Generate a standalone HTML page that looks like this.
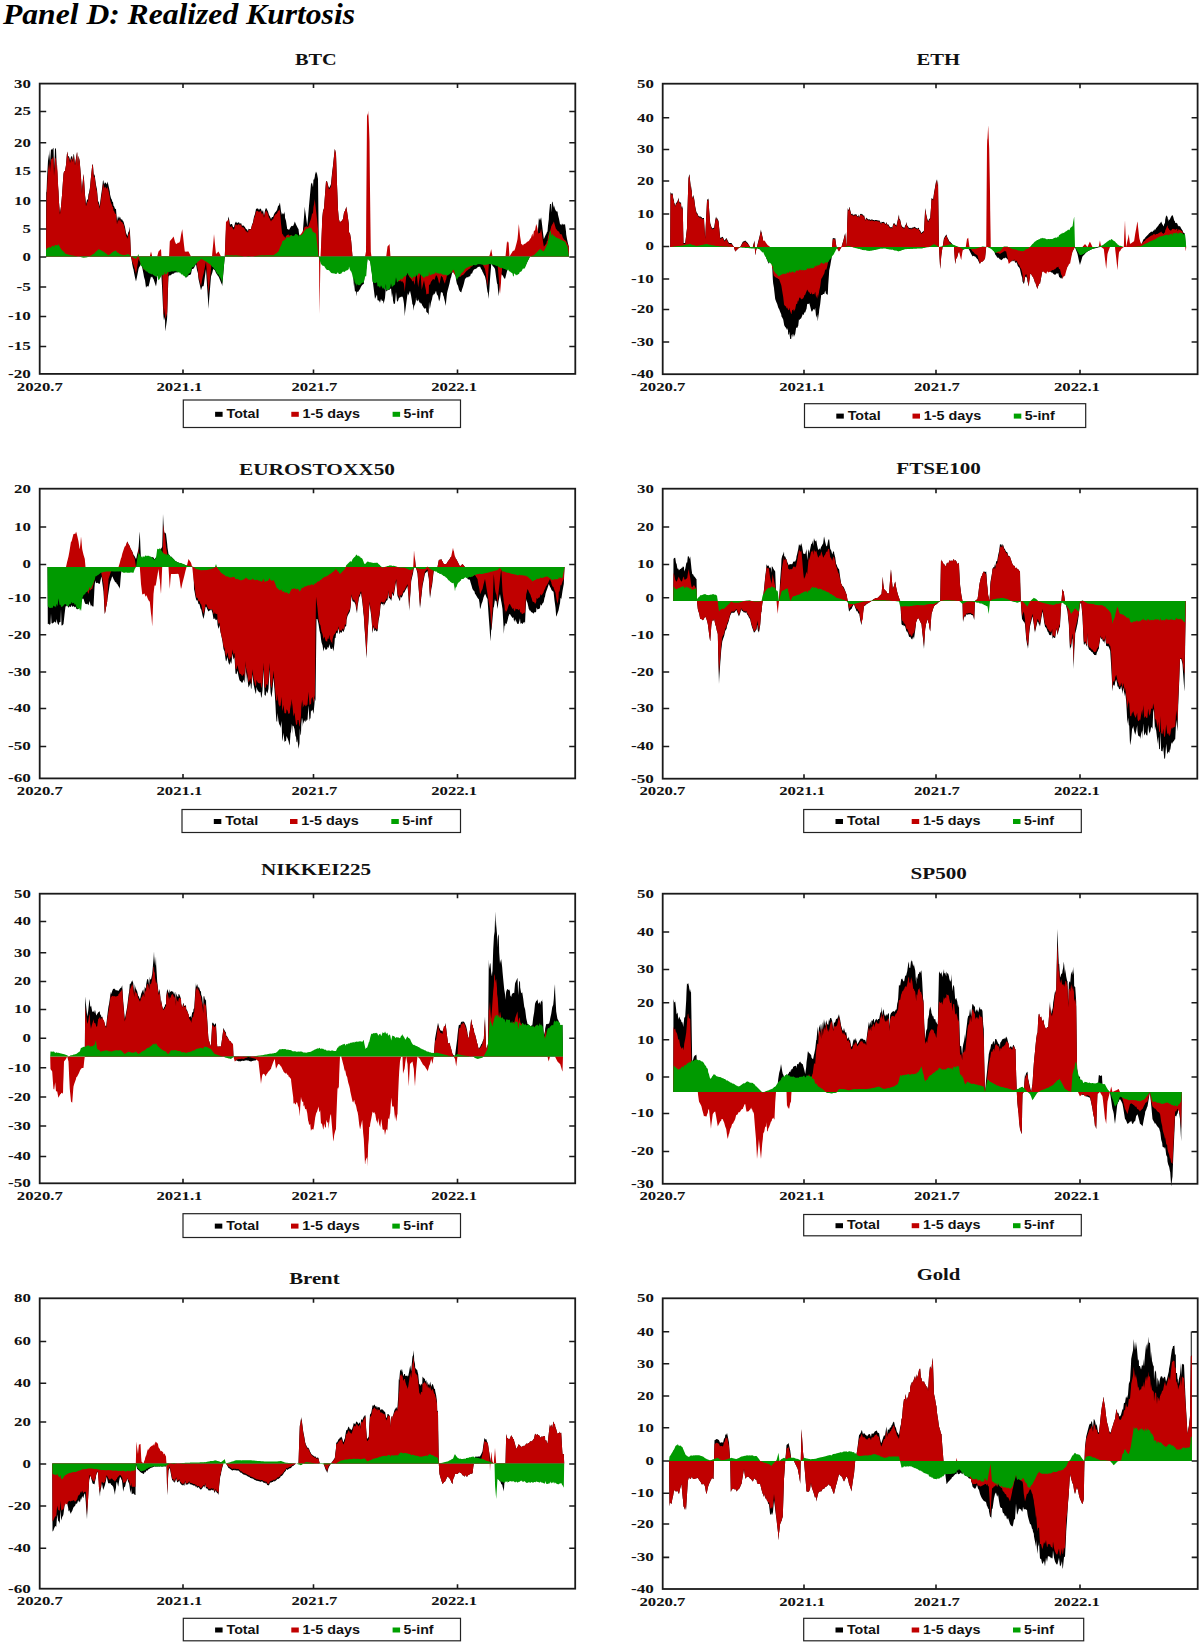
<!DOCTYPE html><html><head><meta charset="utf-8"><title>Panel D: Realized Kurtosis</title>
<style>html,body{margin:0;padding:0;background:#fff;width:1200px;height:1644px;overflow:hidden}svg{display:block}.t{font-family:"Liberation Serif",serif;font-weight:bold;fill:#111}.l{font-family:"Liberation Sans",sans-serif;font-weight:bold;fill:#111}</style></head><body>
<svg width="1200" height="1644" viewBox="0 0 1200 1644">
<rect width="1200" height="1644" fill="#fff"/>
<text x="3" y="24" font-family="Liberation Serif, serif" font-weight="bold" font-style="italic" font-size="30" fill="#000" textLength="352" lengthAdjust="spacingAndGlyphs">Panel D: Realized Kurtosis</text>
<path d="M46 256.5 L46 256.5 L46.2 191.5 L46.5 192.4 L47 178.8 L48 160.7 L48.5 154 L49 161.1 L49.8 149.8 L50 163.6 L51 149 L52 149.9 L53 148.2 L53.5 147.8 L54 169 L54.8 154.4 L55 148 L56 149 L57 173.2 L57.2 169 L58 185.8 L58.5 192 L59 202.2 L59.8 211.5 L60 212.5 L61 206.5 L62 195.3 L63 180.7 L63.5 174 L64 171.6 L65 170.9 L66 165 L67 153.2 L67.2 151.5 L68 156.1 L69 156.5 L69.8 159 L70 160.9 L71 156.8 L72 156 L73 160 L73.5 154 L74 154.5 L75 164.1 L76 158.2 L77 152.1 L77.2 152.8 L78 166.2 L78.5 155.8 L79 157.9 L79.8 161.5 L80 164.9 L81 177.1 L82 192.3 L82.2 186.5 L83 178.5 L83.5 174 L84 179.1 L85 194.4 L86 204 L87 200 L88 198.9 L88.5 194 L89 193 L90 187.3 L91 176.5 L92 167.3 L92.2 164 L93 165.5 L93.5 172.5 L94 176.1 L94.8 174 L95 177.4 L96 185 L97 189.5 L98 201.2 L98.5 201.4 L99 203 L99.8 206.5 L100 203.7 L101 196 L102 188.9 L103 180.2 L103.5 180.7 L104 184.5 L105 182.2 L106 183.2 L107 184.4 L107.2 181.5 L108 183.6 L108.5 185.5 L109 187.7 L109.8 191.5 L110 194.3 L111 198.2 L112 200 L112.2 201.5 L113 201.9 L113.5 205.8 L114 205.9 L115 208.7 L116 209 L117 221.3 L118 216 L119 218.8 L119.8 216.5 L120 216.7 L121 219.5 L122 219.2 L123 221.3 L123.5 221.5 L124 223.6 L125 227.1 L126 232.8 L127 235.3 L127.2 236.5 L128 233.8 L128.5 231.3 L129 232.1 L129.8 226.5 L130 232.6 L131 256.5 L132 262.6 L132.2 264 L133 267.9 L133.5 269.4 L134 272.6 L134.8 276.5 L135 277.4 L136 281.5 L137 276.7 L138 271.7 L138.5 269 L139 267.5 L140 266.1 L141 264 L142 266.4 L143 271.5 L143.5 274 L144 277.1 L145 280.3 L146 287.8 L147 285.9 L148 286.5 L148.5 286.5 L149 284.8 L149.8 281.6 L150 280.3 L151 276.5 L152 277.4 L152.2 276.4 L153 278.5 L153.5 279 L154 280.5 L155 283.6 L156 286.5 L157 280.6 L157.2 275.5 L158 275.7 L158.5 274 L159 273.3 L160 271.2 L161 269 L162 286.1 L162.2 289.8 L163 307.7 L163.5 316.5 L164 320.4 L165 316.9 L165.2 331.5 L166 326.6 L167 319.6 L167.2 316.5 L168 289.2 L168.5 276.5 L169 275.9 L169.8 275 L170 275.5 L171 275 L172 273.9 L172.2 274 L173 273.6 L173.5 273.7 L174 273.4 L175 272.3 L176 272.8 L177 271.9 L178 272.5 L179 270.8 L179.8 272 L180 270.8 L181 271.5 L182 272.7 L182.2 272.2 L183 274 L184 274.7 L184.8 275.8 L185 276.3 L186 277.8 L187 276.6 L188 276.6 L188.5 275.3 L189 275 L190 275 L191 274 L192 268.9 L193 269 L194 268 L194.8 266.2 L195 266.1 L196 264 L197 270 L198 273.5 L198.5 279 L199 281.3 L200 285.7 L201 290.2 L202 287 L203 285.7 L203.5 286.5 L204 283.4 L205 275.9 L206 269 L207 285.3 L208 299.4 L208.5 309 L209 301 L210 288.7 L211 276.5 L212 273.4 L212.2 272.9 L213 269.7 L213.5 269 L214 269.6 L215 270.6 L216 272.9 L217 274.4 L218 276 L218.5 276.5 L219 277.6 L220 279.9 L221 282.6 L222 284.8 L222.2 286.5 L223 277.5 L224 265.5 L224.8 256.5 L225 251.4 L226 229 L227 225 L228 219.4 L228.5 216.5 L229 218.6 L230 224.7 L231 224 L232 223.9 L233 226.9 L234 227.2 L235 223.2 L236 221.5 L237 223.3 L238 222.6 L239 222.2 L240 224.1 L241 222.8 L242 226 L243 225.3 L244 226.1 L245 227.2 L246 229 L247 229.4 L248 231.4 L248.5 228.5 L249 229.3 L250 229 L251 229 L252 224.7 L253 222.2 L254 216.7 L255 214 L256 209 L257 208.5 L258 208.5 L259 210.1 L260 208.5 L261 209 L262 212.1 L263 210 L264 216 L265 210.6 L266 207.8 L267 209.5 L268 211.4 L269 215 L270 216.6 L271 219 L272 217.1 L273 217 L273.5 215.8 L274 214.2 L275 212.4 L276 211.5 L277 210 L278 206.2 L278.5 205.4 L279 205.5 L279.8 202.8 L280 202.9 L281 211.3 L282 215 L282.2 214 L283 213 L284 214.5 L284.8 211.5 L285 217.7 L286 220.8 L287 227.5 L287.2 229 L288 229.3 L288.5 229.5 L289 229.9 L290 228.2 L291 226.5 L292 225.8 L293 226.2 L294 223.9 L294.8 221.5 L295 221.9 L296 224.4 L297 226.4 L298 228.5 L298.5 229 L299 233.8 L300 244.2 L301 254 L302 241.6 L303 229.6 L304 217 L304.8 206.5 L305 209.5 L306 216.6 L307 224.2 L307.2 226.5 L308 217.9 L308.5 212.1 L309 205.7 L310 194.7 L311 184 L312 182.5 L313 187.2 L313.5 179 L314 179.9 L314.8 176.8 L315 174.8 L316 171.5 L317 173.7 L318 179 L318.5 220.4 L319 256.5 L319.5 256.5 L320 256.5 L320.5 256.5 L321 256.5 L322 226.7 L322.2 219 L323 211 L324 208.3 L325 194.8 L326 181.5 L327 181 L328 184.9 L329 188.1 L330 186.4 L331 184 L332 173.6 L333 165.5 L334 156.1 L334.8 149 L335 149.6 L336 154 L337 184.3 L337.5 196.5 L338 209.8 L338.8 219 L339 219.5 L340 222.9 L341 221 L341.2 221.5 L342 220.4 L343 218.9 L343.8 214 L344 212.6 L345 210.7 L346 208.1 L346.2 206.5 L347 211.1 L348 218.2 L348.8 224 L349 232.3 L350 233.4 L351 239.6 L351.2 241.5 L352 250.7 L352.5 256.5 L353 268.3 L353.8 286.5 L354 282.8 L355 292.1 L356 290.7 L356.2 296.5 L357 291.6 L358 292.1 L359 290.4 L360 289 L361 286.7 L362 285.3 L363 284.2 L363.8 284 L364 281.5 L365 274.1 L366 269.8 L366.2 269 L367 262.9 L367.5 259 L368 258.9 L368.2 258.9 L369 259 L369.5 258.9 L370 259 L370.8 264.5 L371 266.8 L371.5 270.1 L372 272.8 L372.5 279 L373 283 L374 291 L375 299 L376 296.8 L377 294.5 L377.5 299.9 L378 300.6 L379 300.5 L380 302.8 L381 298.7 L382 301.3 L382.5 300.4 L383 301 L383.8 304 L384 302.2 L385 298 L386 285.9 L386.2 291.5 L387 291 L387.5 290.1 L388 290.3 L389 289.5 L389.5 289.9 L390 289 L390.5 289 L391 288 L392 297.7 L392.5 293 L393 300.6 L393.8 304 L394 304.1 L395 303.5 L396 292 L397 301.7 L398 301 L399 297.7 L400 297.4 L400.7 296.7 L401 297.3 L402 296.3 L403 297.8 L403.6 301.3 L404 303.9 L404.8 316.5 L405 312.9 L405.3 310.7 L406 305.6 L406.5 301.5 L407 297.7 L407.1 296.7 L407.7 293 L408 295.6 L409 293.5 L410 290.8 L411 295.2 L412 301.3 L412.3 303.9 L413 304.9 L413.5 310.7 L414 306.8 L414.7 304.8 L415 304.8 L415.8 301.5 L416 297 L416.4 300.4 L417 300.2 L418 301.4 L418.2 299 L419 301.2 L419.3 302.1 L420 303 L420.5 302.5 L421 304.2 L421.7 303.1 L422 305.1 L423 306.6 L424 308.3 L425 308.7 L426 308.1 L426.3 311.8 L427 312.6 L428 313.2 L428.7 315.3 L429 301.6 L429.8 309.1 L430 308.3 L431 302.5 L432 299.3 L432.2 297.9 L433 294.4 L433.3 295.5 L434 293.3 L434.5 294.6 L435 293.2 L436 290.8 L436.8 294.3 L437 294.4 L438 295.9 L439 300.9 L439.2 301.3 L440 298.8 L441 291.9 L441.5 292 L442 293.3 L442.7 292.2 L443 294.9 L443.8 296.7 L444 298.1 L445 302 L445.6 306 L446 303.1 L447 293.4 L447.3 292 L448 289.3 L449 285.6 L449.7 282.7 L450 280.9 L450.8 277.7 L451 277.7 L452 273.3 L453 271.9 L453.8 272.2 L454 272.1 L454.3 272.2 L455 275.2 L455.5 275.8 L456 279.6 L456.7 282.7 L457 283.9 L458 285.8 L459 289.7 L460 291.4 L460.5 292 L461 292 L461.2 292.8 L462 289.6 L463 286.8 L464 283.2 L465 279 L466 277.9 L467 277.1 L468 277.4 L469 276.2 L470 276.5 L471 273.5 L472 273.8 L473 270.9 L474 269.6 L475 269 L476 268.7 L477 268.1 L478 266.7 L479 267.1 L480 266.5 L481 268.7 L482 270.3 L482.5 271.7 L483 272.4 L484 274.7 L485 276.5 L486 280.7 L487 288.8 L487.5 292 L488 293.3 L488.8 299 L489 292.3 L489.2 291.4 L490 279.5 L491 267.4 L491.2 264 L492 264.6 L492.5 265.8 L493 266.2 L494 267.3 L495 269 L496 276.5 L497 283.5 L497.5 284.2 L498 290 L498.8 296.5 L499 293.4 L500 285.1 L501 276.6 L501.2 274 L502 275 L502.5 275.2 L503 276.1 L504 277.9 L505 279 L505.5 277.2 L506 275.2 L507 271.3 L507.5 269 L508 266.9 L508.5 266.6 L509 266 L509.5 265.1 L510 264 L511 265.9 L512 267.3 L512.5 268.2 L513 270.3 L513.8 270.6 L514 269.7 L515 274 L516 273.3 L517 272.3 L517.5 271.5 L518 271.8 L518.8 272.4 L519 272.2 L520 271.5 L521 270.6 L521.2 270.1 L522 269.3 L523 267.1 L524 267.6 L525 266.5 L526 264.6 L527 262.4 L527.5 261.6 L528 260.4 L529 258.4 L530 256.5 L531 254.6 L532 252.4 L532.5 251.5 L533 252.1 L533.8 250.7 L534 250.5 L535 250.4 L536 249.2 L536.2 249 L537 239.7 L537.5 234.1 L538 229.3 L538.8 219 L539 218.1 L540 220.5 L541 217.6 L541.2 217.8 L542 224.3 L543 232.8 L543.8 239 L544 238.8 L545 236.6 L546 234.2 L546.2 234.2 L547 232.1 L547.5 231.5 L548 225.5 L548.8 219.3 L549 214.2 L550 204 L551 203.9 L551.2 212.4 L552 202.3 L552.5 201.5 L553 203.9 L553.8 207.7 L554 205.6 L555 209 L556 211.1 L556.2 211.3 L557 211.6 L557.5 211.5 L558 214.8 L558.8 217.9 L559 218.8 L560 224 L561 224.7 L561.2 225.6 L562 223.4 L562.5 224 L563 224.9 L563.8 224.1 L564 224.8 L565 224 L566 231.5 L566.2 234.6 L567 239 L567.5 241.2 L568 243.5 L568.8 246.5 L569 256.5 L569 256.5Z" fill="#000000"/>
<path d="M46 256.5 L46 256.5 L46.2 228.7 L46.5 196.5 L47 188.2 L48 170.7 L48.5 164 L49 170.3 L49.8 159.9 L50 172.4 L51 159 L52 159.2 L53 157.2 L53.5 156.5 L54 176.2 L54.8 163.2 L55 157.5 L56 159 L57 171.3 L57.2 164 L58 183.2 L58.5 190.8 L59 202.5 L59.8 214 L60 214.5 L61 206.5 L62 195.3 L63 180.7 L63.5 174 L64 171.6 L65 170.9 L66 165 L67 153.2 L67.2 151.5 L68 156.8 L69 158.2 L69.8 161.5 L70 163.3 L71 159.3 L72 158.5 L73 162.4 L73.5 156.5 L74 156.6 L75 165.4 L76 159 L77 152.3 L77.2 152.8 L78 166.2 L78.5 155.8 L79 157.9 L79.8 161.5 L80 165.1 L81 178.3 L82 194.3 L82.2 189 L83 179.5 L83.5 174 L84 179.6 L85 195.8 L86 206.5 L87 202.5 L88 201.3 L88.5 196.5 L89 195.1 L90 188.7 L91 177.3 L92 167.5 L92.2 164 L93 166.3 L93.5 173.7 L94 177.7 L94.8 176.5 L95 179.8 L96 187.4 L97 191.9 L98 203.5 L98.5 203.8 L99 205.4 L99.8 209 L100 206.4 L101 199 L102 192.2 L103 184 L103.5 184.6 L104 188.4 L105 186.5 L106 187.7 L107 189.1 L107.2 186.5 L108 188.6 L108.5 190.6 L109 192.7 L109.8 196.5 L110 199.2 L111 203 L112 205.1 L112.2 206.5 L113 207 L113.5 210.7 L114 210.8 L115 213.6 L116 214 L117 224.6 L118 219.4 L119 221.5 L119.8 219 L120 219.2 L121 222 L122 221.7 L123 223.8 L123.5 224 L124 226.1 L125 229.7 L126 235.2 L127 237.8 L127.2 239 L128 236.2 L128.5 233.8 L129 234.3 L129.8 229 L130 234.6 L131 256.5 L132 260.6 L132.2 261.5 L133 263.9 L133.5 264.7 L134 266.6 L134.8 269 L135 270 L136 274 L137 268.1 L138 262.1 L138.5 259 L139 259.9 L140 262.1 L141 264 L142 264.7 L143 267.7 L143.5 269 L144 269.8 L145 269.4 L146 271.5 L147 269.9 L148 269.4 L148.5 269 L149 264.1 L149.8 256.5 L150 255.5 L151 251.5 L152 255.5 L152.2 256.5 L153 256.5 L153.5 256.5 L154 256.5 L155 256.5 L156 256.5 L157 256.5 L157.2 256.5 L158 253.6 L158.5 251.5 L159 250.9 L160 249.9 L161 249 L162 264.5 L162.2 269 L163 296.5 L163.5 314 L164 315.1 L165 307.7 L165.2 319 L166 316.8 L167 313.5 L167.2 311.5 L168 283.3 L168.5 269 L169 258 L169.8 241.5 L170 241.1 L171 239.7 L172 238.8 L172.2 238.6 L173 237.3 L173.5 236.5 L174 238 L175 241.7 L176 244 L177 243.8 L178 242.4 L179 243.1 L179.8 241.5 L180 241.2 L181 235.1 L182 230.3 L182.2 229 L183 235.8 L184 245.1 L184.8 251.5 L185 251.5 L186 251.7 L187 251.6 L188 251.4 L188.5 251.5 L189 252.6 L190 254.5 L191 256.5 L192 257 L193 257.5 L194 258 L194.8 258.3 L195 258.5 L196 259 L197 266 L198 270.9 L198.5 276.5 L199 278.5 L200 282.5 L201 286.5 L202 280.2 L203 275.5 L203.5 274 L204 271.7 L205 266.4 L206 261.5 L207 274.7 L208 286.4 L208.5 294 L209 288 L210 278.4 L211 269 L212 257 L212.2 254 L213 246.1 L213.5 240.4 L214 234 L215 244.5 L216 254 L217 253 L218 251.9 L218.5 251.5 L219 252.5 L220 254.5 L221 256.5 L222 256.5 L222.2 256.5 L223 256.5 L224 256.5 L224.8 256.5 L225 250 L226 221.5 L227 221.6 L228 219.9 L228.5 219 L229 221.1 L230 227 L231 226.5 L232 226.4 L233 229.1 L234 229.4 L235 225.6 L236 224 L237 225.5 L238 224.6 L239 223.9 L240 225.5 L241 224 L242 227.4 L243 227.1 L244 228.1 L245 229.5 L246 231.5 L247 231.4 L248 232.8 L248.5 229.8 L249 230.3 L250 229.5 L251 229 L252 225.2 L253 223.2 L254 218.2 L255 216 L256 211.5 L257 211 L258 211 L259 212.5 L260 211 L261 211.5 L262 214.4 L263 212.4 L264 218.1 L265 213 L266 210.2 L267 212 L268 214 L269 217.5 L270 219.1 L271 221.5 L272 219.6 L273 219.4 L273.5 218.3 L274 216.8 L275 215 L276 214 L277 213.5 L278 210.7 L278.5 210.4 L279 210.9 L279.8 209 L280 210.7 L281 223.6 L282 232.7 L282.2 234 L283 234.6 L284 236.8 L284.8 236.5 L285 238.4 L286 236 L287 235.2 L287.2 234.8 L288 234.9 L288.5 234 L289 235.8 L290 235.3 L291 235.2 L292 235.6 L293 237 L294 236.7 L294.8 236.9 L295 236.1 L296 236.5 L297 236.2 L298 235.9 L298.5 237.7 L299 234.8 L300 234.9 L301 234 L302 232.5 L303 230.9 L304 228.7 L304.8 226.5 L305 227.1 L306 226.6 L307 226.2 L307.2 226.9 L308 226.4 L308.5 226.5 L309 224.4 L310 221.6 L311 219 L312 214 L313 212.9 L313.5 207.1 L314 204.6 L314.8 199 L315 201.5 L316 210.8 L317 219 L318 229 L318.5 243.7 L319 256.5 L319.5 314 L320 285.4 L320.5 256.5 L321 247.3 L322 224.6 L322.2 219 L323 211 L324 208.3 L325 194.8 L326 181.5 L327 181.5 L328 185.9 L329 189.5 L330 188.3 L331 186.5 L332 175.5 L333 166.7 L334 156.6 L334.8 149 L335 149.6 L336 154 L337 184.3 L337.5 196.5 L338 209.8 L338.8 219 L339 219.5 L340 222.9 L341 221 L341.2 221.5 L342 220.4 L343 218.9 L343.8 214 L344 212.6 L345 210.7 L346 208.1 L346.2 206.5 L347 211.1 L348 218.2 L348.8 224 L349 232.3 L350 233.4 L351 239.6 L351.2 241.5 L352 250.7 L352.5 256.5 L353 256.5 L353.8 256.5 L354 256.5 L355 256.5 L356 256.5 L356.2 256.5 L357 256.5 L358 256.5 L359 256.5 L360 256.5 L361 256.5 L362 256.5 L363 256.5 L363.8 256.5 L364 256.5 L365 256.5 L366 251.5 L366.2 217.5 L367 116.5 L367.5 113.2 L368 115.4 L368.2 110.2 L369 127 L369.5 141.5 L370 189.9 L370.8 251.5 L371 253.2 L371.5 256.5 L372 256.5 L372.5 256.5 L373 256.5 L374 256.5 L375 256.5 L376 256.5 L377 256.5 L377.5 256.5 L378 256.5 L379 256.5 L380 256.5 L381 256.5 L382 256.5 L382.5 256.5 L383 256.5 L383.8 256.5 L384 256.5 L385 256.5 L386 256.5 L386.2 256.5 L387 250.5 L387.5 246.5 L388 245.9 L389 244.7 L389.5 244 L390 250.3 L390.5 256.5 L391 257.9 L392 261.6 L392.5 262.2 L393 264.8 L393.8 267.3 L394 268.2 L395 271.6 L396 270.7 L397 278.2 L398 281.5 L399 280.7 L400 281.6 L400.7 279.9 L401 282.2 L402 280.8 L403 282.5 L403.6 282.7 L404 284.4 L404.8 292 L405 288.5 L405.3 285.5 L406 278.5 L406.5 273.3 L407 273.4 L407.1 272.2 L407.7 273.3 L408 274.2 L409 276.3 L410 278 L411 278.8 L412 280.5 L412.3 281.4 L413 281 L413.5 280.5 L414 282.7 L414.7 285 L415 281.8 L415.8 275 L416 271.9 L416.4 271 L417 276.7 L418 285.8 L418.2 287.3 L419 281.5 L419.3 279.7 L420 274.9 L420.5 271 L421 279.2 L421.7 289.7 L422 288.6 L423 284.3 L424 280.3 L425 285.7 L426 290.4 L426.3 294.3 L427 294.2 L428 293.6 L428.7 294.3 L429 284.3 L429.8 285 L430 284.7 L431 281.7 L432 280.6 L432.2 280.3 L433 279.1 L433.3 279.4 L434 279.1 L434.5 280.3 L435 278.3 L436 275.2 L436.8 275.7 L437 276.1 L438 278.7 L439 283.3 L439.2 283.8 L440 281.4 L441 276.2 L441.5 275.7 L442 277 L442.7 277.2 L443 279.1 L443.8 280.9 L444 281.7 L445 283.8 L445.6 280.3 L446 280 L447 275.2 L447.3 274.5 L448 274.1 L449 273.7 L449.7 273.4 L450 272.7 L450.8 272.2 L451 272.8 L452 272 L453 272.1 L453.8 273.6 L454 273.7 L454.3 274 L455 275 L455.5 274 L456 276 L456.7 275 L457 276.4 L458 275.8 L459 276.5 L460 276.8 L460.5 276.8 L461 276.1 L461.2 275.7 L462 275.2 L463 274.9 L464 274 L465 272.7 L466 271.5 L467 270.4 L468 270.1 L469 268.8 L470 268.7 L471 266.6 L472 266.8 L473 265.1 L474 264.4 L475 264 L476 264.1 L477 264.1 L478 263.5 L479 264.1 L480 263.9 L481 264.1 L482 263.9 L482.5 264 L483 264.9 L484 267.1 L485 269 L486 274.7 L487 283.3 L487.5 286.5 L488 277.3 L488.8 265.1 L489 260.4 L489.2 256.5 L490 253.9 L491 250 L491.2 249 L492 253.6 L492.5 256.5 L493 257.2 L494 258.7 L495 260 L496 261.8 L497 263.2 L497.5 264 L498 269.6 L498.8 278.7 L499 281.4 L500 294 L501 282.5 L501.2 277.9 L502 270 L502.5 264 L503 262.7 L504 260.3 L505 257.7 L505.5 256.5 L506 251.4 L507 241.5 L507.5 241.4 L508 242.9 L508.5 241.5 L509 249 L509.5 256.5 L510 255.7 L511 254 L512 252.6 L512.5 251.5 L513 250.9 L513.8 250.6 L514 251 L515 249 L516 245.2 L517 241.6 L517.5 239 L518 234 L518.8 224 L519 225.7 L520 235.7 L521 241.9 L521.2 244 L522 244.2 L523 245.5 L524 243.8 L525 244 L526 242.8 L527 242.2 L527.5 241.5 L528 241.5 L529 240.7 L530 239 L531 237.7 L532 234.6 L532.5 233.6 L533 237 L533.8 231.5 L534 230.8 L535 230.4 L536 224.9 L536.2 224 L537 226.5 L537.5 229.1 L538 232.2 L538.8 234 L539 233 L540 232.9 L541 229.3 L541.2 229 L542 234.4 L543 241.4 L543.8 246.5 L544 246.4 L545 245.3 L546 244.1 L546.2 244 L547 240.7 L547.5 241.1 L548 236.7 L548.8 234 L549 232.8 L550 231.2 L551 227.8 L551.2 226.5 L552 225.1 L552.5 223.9 L553 223.6 L553.8 221.5 L554 222 L555 225.7 L556 228.9 L556.2 229 L557 230.1 L557.5 230.8 L558 231.2 L558.8 231.5 L559 231.6 L560 234 L561 234.3 L561.2 234 L562 235.1 L562.5 236.7 L563 238.1 L563.8 239 L564 239.7 L565 240 L566 241.3 L566.2 241.5 L567 242.9 L567.5 244.1 L568 245.2 L568.8 246.5 L569 256.5 L569 256.5Z" fill="#c00000"/>
<path d="M46 256.5 L46 249 L46.2 249.4 L46.5 249.2 L47 248.3 L48 247.5 L48.5 247.4 L49 247.7 L49.8 246.5 L50 247.6 L51 247.5 L52 246.1 L53 245.7 L53.5 245.7 L54 247.6 L54.8 245.2 L55 245.1 L56 245 L57 245.6 L57.2 245.7 L58 244.8 L58.5 244 L59 245.7 L59.8 246.6 L60 247.4 L61 249 L62 250.2 L63 251 L63.5 251.6 L64 252 L65 253.2 L66 254 L67 254.3 L67.2 254.3 L68 254.5 L69 254.7 L69.8 255 L70 255 L71 255.2 L72 255.4 L73 255.6 L73.5 255.7 L74 255.8 L75 255.9 L76 256.1 L77 256.2 L77.2 256.3 L78 256.4 L78.5 256.5 L79 256.6 L79.8 256.8 L80 256.9 L81 257.1 L82 257.4 L82.2 257.4 L83 257.6 L83.5 257.8 L84 257.7 L85 257.5 L86 257.4 L87 257.2 L88 257.1 L88.5 257 L89 256.7 L90 256.1 L91 255.5 L92 254.9 L92.2 254.8 L93 254.3 L93.5 254 L94 253.7 L94.8 253.1 L95 252.6 L96 251.7 L97 250.6 L98 250.2 L98.5 249 L99 249.4 L99.8 249.7 L100 249.7 L101 250.2 L102 250.8 L103 251.6 L103.5 251.5 L104 252.1 L105 252.7 L106 253.5 L107 254.2 L107.2 254.4 L108 254.9 L108.5 255.2 L109 254.9 L109.8 254.3 L110 254.2 L111 253.5 L112 252.6 L112.2 252.5 L113 251.8 L113.5 251.5 L114 251.3 L115 251 L116 250.2 L117 252.4 L118 252.5 L119 253.5 L119.8 254 L120 254.1 L121 254.5 L122 254.7 L123 255.1 L123.5 255.2 L124 255.1 L125 254.9 L126 254.7 L127 254.4 L127.2 254.3 L128 254.2 L128.5 254 L129 254.7 L129.8 255.3 L130 255.5 L131 256.5 L132 257 L132.2 257.1 L133 257.5 L133.5 257.8 L134 258 L134.8 258.3 L135 258.5 L136 259 L137 257 L138 255 L138.5 254 L139 256.5 L140 261.6 L141 266.5 L142 266 L143 268.1 L143.5 269.1 L144 269.8 L145 269.4 L146 271.5 L147 271.3 L148 272.4 L148.5 272.9 L149 273.2 L149.8 273.5 L150 273.4 L151 274 L152 274.4 L152.2 273.5 L153 275 L153.5 275 L154 275.5 L155 276.1 L156 276.5 L157 277.3 L157.2 274 L158 278.6 L158.5 280.2 L159 279.9 L160 278.2 L161 276.5 L162 274.8 L162.2 274.3 L163 275.7 L163.5 274.7 L164 274.9 L165 271.4 L165.2 274.6 L166 274 L167 273.8 L167.2 273.1 L168 271.5 L168.5 272.5 L169 272.2 L169.8 271.6 L170 272 L171 271.5 L172 271.3 L172.2 271.2 L173 271.4 L173.5 271.6 L174 271.5 L175 270.8 L176 271.5 L177 271.4 L178 272.8 L179 271.8 L179.8 273.6 L180 272.5 L181 274 L182 274.7 L182.2 274 L183 275.5 L184 275.7 L184.8 276.4 L185 276.8 L186 277.8 L187 276.1 L188 275.6 L188.5 274.1 L189 273.5 L190 273 L191 271.5 L192 267.2 L193 267.3 L194 266.5 L194.8 265.2 L195 265.1 L196 263.6 L197 263 L198 261.3 L198.5 261.5 L199 261 L200 260 L201 259 L202 259.3 L203 259.8 L203.5 260.1 L204 260.6 L205 261 L206 261.5 L207 262.3 L208 262.8 L208.5 263.3 L209 263.5 L210 264.3 L211 265.2 L212 266.5 L212.2 266.9 L213 267.1 L213.5 267.9 L214 268.9 L215 269.6 L216 271.5 L217 273.2 L218 274.8 L218.5 274.1 L219 275.8 L220 277 L221 279 L222 282.1 L222.2 284 L223 275.7 L224 264.7 L224.8 256.5 L225 256.2 L226 255.2 L227 255.3 L228 255.3 L228.5 255.3 L229 255.3 L230 255.4 L231 255.3 L232 255.3 L233 255.4 L234 255.4 L235 255.3 L236 255.2 L237 255.4 L238 255.5 L239 255.7 L240 255.8 L241 255.9 L242 256.1 L243 256.2 L244 256.4 L245 256.5 L246 256.6 L247 256.8 L248 256.9 L248.5 257 L249 256.9 L250 256.8 L251 256.6 L252 256.5 L253 256.4 L254 256.2 L255 256.1 L256 255.9 L257 255.8 L258 255.7 L259 255.5 L260 255.4 L261 255.2 L262 255.3 L263 255.3 L264 255.4 L265 255.3 L266 255.3 L267 255.2 L268 255.2 L269 255.3 L270 255.2 L271 255.2 L272 255.2 L273 255.3 L273.5 255.2 L274 254.9 L275 254.1 L276 253.5 L277 252.7 L278 251.8 L278.5 251.5 L279 250.3 L279.8 248.3 L280 247.3 L281 245.5 L282 242.9 L282.2 241.5 L283 240.7 L284 240.6 L284.8 239.2 L285 240.6 L286 237.8 L287 237.4 L287.2 237.1 L288 237.3 L288.5 237.4 L289 237.7 L290 236.5 L291 235.2 L292 235.4 L293 236.3 L294 235.4 L294.8 235.2 L295 234.2 L296 234 L297 234.5 L298 234.9 L298.5 237.1 L299 234.6 L300 235.4 L301 235.2 L302 234.4 L303 233.6 L304 232.1 L304.8 230.1 L305 230.8 L306 229 L307 228.5 L307.2 229 L308 228.4 L308.5 228.2 L309 227.7 L310 227.7 L311 227.8 L312 229.2 L313 232.7 L313.5 231.6 L314 232.2 L314.8 232.9 L315 232.8 L316 234 L317 242.7 L318 252.2 L318.5 256.5 L319 258 L319.5 259.4 L320 261 L320.5 262.4 L321 264 L322 264.9 L322.2 265.3 L323 266.1 L324 265.7 L325 267.4 L326 269 L327 269.9 L328 270 L329 270.2 L330 271.4 L331 272.8 L332 273.2 L333 273.2 L334 273.5 L334.8 273.4 L335 273.8 L336 274 L337 273.5 L337.5 272.6 L338 272.5 L338.8 274.1 L339 273.9 L340 274 L341 273.6 L341.2 273.7 L342 272.5 L343 271.5 L343.8 271.7 L344 272.2 L345 271.5 L346 270.6 L346.2 270.6 L347 270.4 L348 269.7 L348.8 269 L349 266.5 L350 269.9 L351 271.4 L351.2 271.5 L352 273.8 L352.5 276 L353 278.1 L353.8 281.5 L354 278.1 L355 284.4 L356 282.4 L356.2 286.5 L357 283.7 L358 285.2 L359 285.1 L360 285.2 L361 283.7 L362 283 L363 282.5 L363.8 282.8 L364 281.1 L365 276.8 L366 276 L366.2 276.5 L367 265.9 L367.5 259 L368 259.4 L368.2 259.6 L369 260.6 L369.5 260.8 L370 261.5 L370.8 266.9 L371 269.3 L371.5 272.5 L372 275 L372.5 281.5 L373 282 L374 283 L375 283.1 L376 283.1 L377 282 L377.5 286.5 L378 286.3 L379 286.2 L380 288.1 L381 285.3 L382 287.3 L382.5 289 L383 287.3 L383.8 288.8 L384 289 L385 289.8 L386 283.6 L386.2 290 L387 290.1 L387.5 290.2 L388 289.9 L389 289 L389.5 289.3 L390 288.1 L390.5 286.2 L391 283.3 L392 287.4 L392.5 286.5 L393 285.8 L393.8 285.4 L394 285.3 L395 284.5 L396 277.2 L397 282.4 L398 281.5 L399 280.1 L400 280.3 L400.7 278.3 L401 280.2 L402 278.3 L403 279.2 L403.6 276.7 L404 277 L404.8 276.1 L405 276.6 L405.3 276.8 L406 275.6 L406.5 274.9 L407 274.4 L407.1 273 L407.7 273.3 L408 274.1 L409 275.6 L410 276.8 L411 277.2 L412 278.5 L412.3 279.2 L413 277.4 L413.5 276.2 L414 277 L414.7 276.6 L415 276.8 L415.8 276.8 L416 273.9 L416.4 275.5 L417 275.9 L418 274.8 L418.2 273.6 L419 273.5 L419.3 273.3 L420 274.3 L420.5 274.5 L421 275.3 L421.7 275.7 L422 276 L423 277 L424 278 L425 277.1 L426 275.8 L426.3 276.5 L427 276.5 L428 275.7 L428.7 275.7 L429 271.6 L429.8 275.4 L430 275.4 L431 274.5 L432 274.8 L432.2 274.4 L433 273.7 L433.3 274.5 L434 273.4 L434.5 274 L435 273.3 L436 272.1 L436.8 273.9 L437 273.3 L438 273.3 L439 273.6 L439.2 273.4 L440 274.1 L441 273 L441.5 274.1 L442 274.4 L442.7 274.5 L443 274.5 L443.8 274.7 L444 275 L445 274.7 L445.6 274.5 L446 275.5 L447 275.1 L447.3 275.7 L448 275.2 L449 274.6 L449.7 274.3 L450 273.4 L450.8 273.3 L451 273.3 L452 271.7 L453 270 L453.8 269.8 L454 270.3 L454.3 271.3 L455 274 L455.5 275.7 L456 277.6 L456.7 280.3 L457 280.1 L458 277.7 L459 276.8 L460 275.7 L460.5 275 L461 274.1 L461.2 273.6 L462 272.8 L463 271.9 L464 270.6 L465 269 L466 268.2 L467 267.5 L468 267.4 L469 266.6 L470 266.5 L471 265.4 L472 266.2 L473 265.1 L474 264.9 L475 265.2 L476 265.2 L477 264.8 L478 263.9 L479 264.3 L480 264 L481 264.4 L482 264.4 L482.5 264.8 L483 264.7 L484 265.1 L485 265.2 L486 264.4 L487 264.8 L487.5 264.7 L488 264.3 L488.8 264.3 L489 263.6 L489.2 264.1 L490 264 L491 264.2 L491.2 264.5 L492 264.1 L492.5 264.8 L493 264.7 L494 264.7 L495 265.2 L496 265.8 L497 266.2 L497.5 265.5 L498 266.5 L498.8 267 L499 267 L500 267.8 L501 268.2 L501.2 267.5 L502 268.2 L502.5 268.1 L503 268.3 L504 268.9 L505 269 L505.5 269.4 L506 269.7 L507 270.2 L507.5 270.4 L508 269.2 L508.5 270.2 L509 271 L509.5 271.5 L510 271.5 L511 272.6 L512 273 L512.5 273.6 L513 275.9 L513.8 276.5 L514 273.5 L515 273.7 L516 275.5 L517 274.6 L517.5 275.2 L518 274 L518.8 274.3 L519 273.9 L520 271.5 L521 271.9 L521.2 271.5 L522 270.5 L523 268.2 L524 268.9 L525 267.8 L526 265.4 L527 262.7 L527.5 261.5 L528 260.4 L529 258.4 L530 256.5 L531 256.2 L532 255.8 L532.5 255.7 L533 255.5 L533.8 255.2 L534 255 L535 254.2 L536 253 L536.2 252.9 L537 251.9 L537.5 251.5 L538 251.2 L538.8 250.1 L539 249.9 L540 249 L541 249.6 L541.2 249.7 L542 250.4 L543 251 L543.8 251.5 L544 251.1 L545 249 L546 246.9 L546.2 246.6 L547 244.8 L547.5 244 L548 241 L548.8 237.9 L549 235.4 L550 230.2 L551 232.2 L551.2 236.5 L552 233.4 L552.5 234 L553 234.9 L553.8 236.3 L554 235.3 L555 236.5 L556 237.5 L556.2 237.6 L557 237.7 L557.5 238.1 L558 238.4 L558.8 238.4 L559 238.4 L560 239 L561 239.9 L561.2 240.5 L562 239.7 L562.5 240.4 L563 241 L563.8 240.9 L564 241.4 L565 241.5 L566 243.5 L566.2 244.7 L567 245.4 L567.5 246.5 L568 249.9 L568.8 254.8 L569 256.5 L569 256.5Z" fill="#009a00"/>
<rect x="39.7" y="83.6" width="535.6" height="290.3" fill="none" stroke="#1a1a1a" stroke-width="1.8"/>
<text class="t" x="30.9" y="87.5" font-size="12.5" text-anchor="end" textLength="16.8" lengthAdjust="spacingAndGlyphs">30</text>
<text class="t" x="30.9" y="115.4" font-size="12.5" text-anchor="end" textLength="16.8" lengthAdjust="spacingAndGlyphs">25</text>
<text class="t" x="30.9" y="146.7" font-size="12.5" text-anchor="end" textLength="16.8" lengthAdjust="spacingAndGlyphs">20</text>
<text class="t" x="30.9" y="175.4" font-size="12.5" text-anchor="end" textLength="16.8" lengthAdjust="spacingAndGlyphs">15</text>
<text class="t" x="30.9" y="204.7" font-size="12.5" text-anchor="end" textLength="16.8" lengthAdjust="spacingAndGlyphs">10</text>
<text class="t" x="30.9" y="232.9" font-size="12.5" text-anchor="end" textLength="8.4" lengthAdjust="spacingAndGlyphs">5</text>
<text class="t" x="30.9" y="260.9" font-size="12.5" text-anchor="end" textLength="8.4" lengthAdjust="spacingAndGlyphs">0</text>
<text class="t" x="30.9" y="290.9" font-size="12.5" text-anchor="end" textLength="14.4" lengthAdjust="spacingAndGlyphs">-5</text>
<text class="t" x="30.9" y="320.4" font-size="12.5" text-anchor="end" textLength="22.8" lengthAdjust="spacingAndGlyphs">-10</text>
<text class="t" x="30.9" y="350.4" font-size="12.5" text-anchor="end" textLength="22.8" lengthAdjust="spacingAndGlyphs">-15</text>
<text class="t" x="30.9" y="377.8" font-size="12.5" text-anchor="end" textLength="22.8" lengthAdjust="spacingAndGlyphs">-20</text>
<path d="M39.7 111.5h6.5M575.3 111.5h-6M39.7 142.8h6.5M575.3 142.8h-6M39.7 171.5h6.5M575.3 171.5h-6M39.7 200.8h6.5M575.3 200.8h-6M39.7 229h6.5M575.3 229h-6M39.7 257h6.5M575.3 257h-6M39.7 287h6.5M575.3 287h-6M39.7 316.5h6.5M575.3 316.5h-6M39.7 346.5h6.5M575.3 346.5h-6M183 83.6v4.5M183 373.9v-4.5M313.5 83.6v4.5M313.5 373.9v-4.5M457.5 83.6v4.5M457.5 373.9v-4.5" stroke="#1a1a1a" stroke-width="1.6" fill="none"/>
<text class="t" x="39.8" y="390.5" font-size="11.8" text-anchor="middle" textLength="46" lengthAdjust="spacingAndGlyphs">2020.7</text>
<text class="t" x="179.5" y="390.5" font-size="11.8" text-anchor="middle" textLength="46" lengthAdjust="spacingAndGlyphs">2021.1</text>
<text class="t" x="314.5" y="390.5" font-size="11.8" text-anchor="middle" textLength="46" lengthAdjust="spacingAndGlyphs">2021.7</text>
<text class="t" x="454.2" y="390.5" font-size="11.8" text-anchor="middle" textLength="46" lengthAdjust="spacingAndGlyphs">2022.1</text>
<text class="t" x="295" y="65" font-size="16" textLength="41.7" lengthAdjust="spacingAndGlyphs">BTC</text>
<rect x="183.3" y="400" width="277.2" height="27.5" fill="#fff" stroke="#222" stroke-width="1.2"/>
<rect x="215.1" y="411.8" width="7.5" height="5" fill="#000000"/>
<text class="l" x="226.5" y="417.9" font-size="12" textLength="33" lengthAdjust="spacingAndGlyphs">Total</text>
<rect x="291.3" y="411.8" width="7.5" height="5" fill="#c00000"/>
<text class="l" x="302.6" y="417.9" font-size="12" textLength="57.5" lengthAdjust="spacingAndGlyphs">1-5 days</text>
<rect x="392.6" y="411.8" width="7.5" height="5" fill="#00a000"/>
<text class="l" x="403.6" y="417.9" font-size="12" textLength="30" lengthAdjust="spacingAndGlyphs">5-inf</text>
<path d="M670.2 247 L670.2 247 L670.5 191.8 L671.2 193.7 L672.2 193.1 L672.8 194.2 L673.2 198 L674 200.6 L674.2 203 L674.5 203 L675.2 205.9 L676.2 202.3 L676.5 203 L677.2 201.7 L678.2 199.2 L678.5 197.5 L679.2 201.5 L680.2 202.9 L681 201.8 L681.2 205.8 L682.2 208.8 L682.8 205.5 L683.2 230.4 L683.5 243 L684 242.9 L684.2 243 L685.2 243 L686.2 234.7 L687 228 L687.2 219.1 L688.2 186.3 L688.5 178 L689.2 174.7 L689.5 174.2 L690.2 181.5 L691.2 191.1 L691.5 185.5 L692.2 198.4 L693.2 194.9 L694 198 L694.2 198.7 L695.2 206.4 L696 210.5 L696.2 211.1 L696.5 212.5 L697.2 213 L697.8 214.2 L698.2 215.4 L699.2 216.5 L700.2 216.2 L701.2 217.3 L701.5 216.8 L702.2 218.3 L703.2 217.9 L704 218 L704.2 223 L705.2 238 L706.2 216.2 L706.5 210.8 L707 200.5 L707.2 199.3 L708.2 199.6 L708.5 198 L709.2 210.4 L710.2 223 L711.2 226.2 L712 228 L712.2 228.5 L713.2 227.7 L714 228 L714.2 227.7 L715.2 220.5 L716 216.8 L716.2 216.7 L716.5 218.6 L717.2 218.2 L718.2 220.6 L718.5 220.5 L719.2 227.8 L720.2 238 L721.2 237.4 L722.2 236.9 L722.8 236.8 L723.2 237.8 L724.2 240 L724.5 240.5 L725.2 239.7 L726.2 238.3 L726.5 238 L727.2 239.5 L728.2 241.5 L729 243 L729.2 243.1 L730.2 243.1 L731.2 242.9 L731.5 243 L732.2 244.2 L733.2 245.8 L734 247 L734.2 247.9 L735.2 251.5 L736.2 250.5 L737.2 249.4 L737.8 249 L738.2 248.6 L739.2 247.8 L740.2 247 L741.2 245 L742.2 243.1 L742.8 241.8 L743.2 241.5 L744.2 241.2 L745.2 240.5 L746.2 241.6 L747.2 242.5 L747.8 243 L748.2 243.8 L749.2 245.4 L750.2 247 L751.2 247 L752.2 247 L752.8 247 L753.2 245.2 L754.2 241.5 L754.5 240.5 L755.2 255.2 L756.2 250.1 L756.5 249 L757.2 246 L758.2 241.5 L758.5 240.5 L759 238.6 L759.2 237.7 L760.2 233.6 L761 229.2 L761.2 231.8 L761.5 231.9 L762.2 235.6 L762.8 238 L763.2 242.1 L764 245 L764.2 246.4 L765.2 251.9 L766.2 256.8 L766.5 259 L767.2 259.8 L767.8 261.8 L768.2 262.6 L769 264 L769.2 262.4 L770.2 255.3 L771.2 248.7 L771.5 247 L772.2 266.1 L772.8 279 L773.2 283.4 L774 287.9 L774.2 290.2 L775.2 299 L776.2 301.8 L777.2 304 L778.2 307.5 L779 309 L779.2 309.3 L780.2 311.9 L781.2 314.3 L781.5 316.5 L782.2 317.6 L783.2 319.4 L784 324 L784.2 325.3 L785.2 326.9 L786.2 328 L786.5 329 L787.2 330 L787.8 328 L788.2 333.9 L789 335.1 L789.2 331.4 L790.2 339 L791.2 339 L791.5 335.7 L792.2 333.7 L792.8 337.8 L793.2 333.5 L794 337.3 L794.2 336.1 L795.2 334 L796.2 327.6 L797.2 328 L797.8 326.5 L798.2 326 L799 319 L799.2 320.3 L800.2 319 L801.2 318.2 L802.2 315.7 L802.8 314 L803.2 315.3 L804 314 L804.2 312.6 L805.2 312.5 L806.2 309.6 L806.5 309 L807.2 304.1 L808.2 303.7 L809 304 L809.2 303 L810.2 306.5 L811.2 310.6 L811.5 311.5 L812.2 311.4 L813.2 309.6 L814 309 L814.2 310.4 L815.2 307.9 L816.2 317.8 L817.2 314.5 L817.8 321.5 L818.2 317.6 L819 312.6 L819.2 309.9 L820.2 304 L821.2 294.9 L822.2 294.9 L823.2 294.1 L824 294 L824.2 294.3 L825.2 290.4 L826.2 294.5 L826.5 293.6 L827.2 294.9 L827.8 294 L828.2 285.3 L829 274 L829.2 270.5 L830.2 266 L831.2 260.1 L831.5 259 L832.2 246.4 L832.8 238 L833.2 238.2 L834 238.1 L834.2 238.4 L835.2 238 L836.2 245.2 L836.5 247 L837.2 248.4 L838.2 250.1 L839 251.5 L839.2 250.9 L840.2 249.2 L841.2 247.4 L841.5 247 L842.2 244.2 L843.2 240.9 L844 237.8 L844.2 236.8 L845.2 233 L846.2 244.4 L846.5 247 L847.2 224.2 L847.8 208 L848.2 209.2 L849 210.2 L849.2 207.2 L849.5 206.8 L850.2 210.1 L851.2 214 L851.5 214.2 L852.2 213.6 L853.2 215.6 L854 214.2 L854.2 214.8 L855.2 214.3 L856.2 214.5 L856.5 214.2 L857.2 216 L858.2 216.4 L859 214.2 L859.2 217.7 L860.2 213.9 L861.2 213.7 L861.5 214.2 L862.2 214.1 L863.2 215.6 L864 215.5 L864.2 215.4 L865.2 220.2 L866.2 217.6 L866.5 218 L867.2 218.6 L868.2 219.5 L869 219.2 L869.2 219.1 L870.2 220.1 L871.2 219.5 L872.2 219.4 L873.2 220 L874 220 L874.2 220.6 L875.2 220 L876.2 219.9 L877.2 220.3 L878.2 220.4 L879 220.5 L879.2 220.2 L880.2 221.7 L881.2 223.9 L881.5 221.8 L882.2 222 L883.2 221.9 L884 221.8 L884.2 222 L885.2 223.9 L886.2 223.2 L886.5 221.8 L887.2 224.4 L888.2 224.3 L889 225.5 L889.2 226.1 L890.2 227.2 L891.2 227.2 L891.5 226.8 L892.2 227.9 L893.2 223.9 L894 223 L894.2 222.9 L895.2 224.6 L896.2 225.6 L896.5 225.5 L897.2 222.2 L898.2 218 L899 214.2 L899.2 218.6 L900.2 219.7 L901.2 224.5 L901.5 225.5 L902.2 226.7 L903.2 226.9 L904 228 L904.2 228.2 L905.2 225.5 L906.2 223.9 L906.5 221.8 L907.2 225.4 L908.2 226.8 L909 228 L909.2 228 L910.2 227.7 L911.2 228.6 L911.5 228 L912.2 227.5 L913.2 227.7 L914 226.8 L914.2 226.8 L915.2 227.3 L916.2 228 L916.5 228 L917.2 228.7 L918.2 227.8 L919 228 L919.2 229.7 L920.2 230.6 L921.2 232.8 L921.5 233 L922.2 232 L923.2 231.4 L924 230.5 L924.2 227.1 L925.2 208 L926.2 214.3 L927.2 218.4 L927.8 220.5 L928.2 221.3 L929 219.2 L929.2 218.9 L930.2 218 L931.2 204.4 L931.5 198 L932.2 198.5 L933.2 199.5 L934 193 L934.2 192.1 L935.2 186.3 L936.2 180.6 L936.5 179.2 L937.2 185.5 L938 179.2 L938.2 195.4 L939 247 L939.2 251.4 L940.2 269 L941.2 256.8 L941.5 254 L942.2 249.2 L943.2 243.3 L944 238 L944.2 238.1 L945.2 236 L946.2 234.9 L946.5 234.2 L947.2 236.9 L948.2 238.9 L949 240.5 L949.2 241.3 L950.2 241.8 L951.2 243 L951.5 243 L952.2 244.2 L953.2 245.8 L954 247 L954.2 250.3 L955.2 264 L956.2 257.7 L956.5 259 L957.2 256.9 L958.2 253.2 L959 251.5 L959.2 251.5 L960.2 250.9 L961.2 250.4 L962.2 250 L962.5 250 L963.2 249.7 L963.8 249.4 L964.2 249.3 L965 249 L965.2 248.7 L965.5 248.5 L966.2 248 L967 247.4 L967.2 247.2 L967.5 247 L968.2 248.3 L969.2 250.1 L969.5 250.5 L970 251.5 L970.2 252 L971.2 254 L972.2 255.8 L972.5 256.5 L973.2 255.7 L974.2 256.2 L975 256.5 L975.2 256.5 L976.2 257.7 L977.2 258.9 L977.5 259 L978.2 260.6 L979.2 262.7 L980 264 L980.2 263.2 L981.2 261.5 L982.2 261.9 L982.5 260.9 L983.2 260.9 L984.2 259.5 L985 259 L985.2 256.5 L986.2 247 L987 247 L987.2 247 L987.5 247 L988.2 247 L989.2 247 L990 247 L990.2 247 L990.8 247 L991.2 247 L992.2 247 L993.2 247 L993.8 247 L994.2 249.8 L995 254 L995.2 254.4 L996.2 255.8 L997.2 257.5 L997.5 257.8 L998.2 257.4 L999.2 258.5 L1000 259.4 L1000.2 259.3 L1001.2 260.2 L1002.2 259.6 L1003.2 258.5 L1003.8 258 L1004.2 258.4 L1005 257.8 L1005.2 257.5 L1006.2 257.9 L1007.2 259 L1007.5 259.3 L1008.2 260.1 L1008.8 260.7 L1009.2 261 L1010 261.5 L1010.2 261.6 L1011.2 261.2 L1012.2 261.4 L1012.5 260.5 L1013.2 260.5 L1013.8 261.5 L1014.2 260 L1015.2 263 L1016.2 262 L1017.2 264 L1017.5 265.2 L1018.2 266.5 L1019.2 267.4 L1020 269 L1020.2 270.3 L1021.2 274.8 L1022.2 277.7 L1022.5 281.5 L1023.2 282.7 L1023.8 284 L1024.2 282.9 L1025.2 277.1 L1026.2 276.5 L1027.2 278.7 L1027.5 281.5 L1028.2 283.9 L1028.8 286.5 L1029.2 281.9 L1030 276.4 L1030.2 273.8 L1031.2 274 L1032.2 276.2 L1032.5 276.5 L1033.2 277.1 L1033.8 279 L1034.2 280.1 L1035 282.7 L1035.2 282 L1036.2 285.5 L1037.2 288.3 L1037.5 289 L1038.2 284.6 L1038.8 286.6 L1039.2 283.1 L1040 284 L1040.2 282.6 L1041.2 277.3 L1042.2 271.8 L1042.5 271.5 L1043.2 270.9 L1044.2 271.2 L1045.2 271.3 L1046.2 270.2 L1047.2 269.6 L1047.5 270 L1048.2 271.4 L1049.2 271.6 L1050 271.5 L1050.2 271.6 L1051.2 272.4 L1052.2 272.6 L1052.5 272.7 L1053.2 273.8 L1054.2 274.4 L1055 274.7 L1055.2 275 L1056.2 273.6 L1057.2 273.5 L1057.5 273.7 L1058.2 273.1 L1059.2 277.3 L1060 277.2 L1060.2 277.7 L1061.2 278.7 L1062.2 277 L1062.5 279 L1063.2 276.1 L1064.2 272.9 L1065 272.2 L1065.2 271.5 L1066.2 269.2 L1067.2 267.1 L1067.5 266.5 L1068.2 264.6 L1069.2 260.2 L1070 258.5 L1070.2 258.4 L1071.2 255.3 L1072.2 252.3 L1072.5 251.5 L1073.2 250.2 L1074.2 248.3 L1075 247 L1075.2 247.7 L1076.2 250.5 L1077.2 252.9 L1077.5 254 L1078.2 257.3 L1079.2 262.1 L1080 265.2 L1080.2 264.1 L1081.2 260.9 L1082.2 257.2 L1082.5 256.5 L1083.2 255.5 L1083.8 255.3 L1084.2 254.7 L1085 253.8 L1085.2 253.6 L1086.2 252.6 L1087.2 251.7 L1087.5 251.5 L1088.2 251 L1089.2 250.7 L1090 249.8 L1090.2 250 L1091.2 249.6 L1092.2 249.1 L1092.5 249 L1093.2 248.8 L1094.2 248.5 L1095.2 248.2 L1096.2 248 L1097.2 247.7 L1097.5 247.7 L1098.2 247.5 L1098.8 247.3 L1099.2 247.2 L1100 247 L1100.2 247 L1101.2 247 L1102.2 247 L1102.5 247 L1103.2 247 L1103.8 247 L1104.2 247 L1105.2 247 L1106.2 247 L1107.2 247 L1107.5 247 L1108.2 247 L1109.2 247 L1110 247 L1110.2 247 L1111.2 247 L1112.2 247 L1113.2 247 L1114.2 247 L1115 247 L1115.2 247 L1116.2 247 L1117.2 247 L1117.5 247 L1118.2 247 L1118.8 247 L1119.2 247 L1120.2 247 L1121.2 247 L1122.2 247 L1123.2 247 L1123.8 247 L1124.2 247 L1125 247 L1125.2 247 L1126.2 247 L1127.2 247 L1128.2 247 L1128.8 247 L1129.2 247 L1130 247 L1130.2 247 L1131.2 247 L1132.2 247 L1133.2 247 L1133.8 247 L1134.2 247 L1135.2 247 L1136.2 247 L1137.2 247 L1137.5 247 L1138.2 247 L1139.2 247 L1139.5 247 L1140 247 L1140.2 246.5 L1141.2 244.5 L1142.2 242.4 L1143.2 240.1 L1143.8 239 L1144.2 238.4 L1145 238.8 L1145.2 237.5 L1146.2 236.5 L1147.2 235.6 L1148.2 234.5 L1149.2 233.3 L1150 232.8 L1150.2 232.6 L1151.2 231.6 L1152.2 232 L1153.2 230.9 L1153.8 230.2 L1154.2 230.5 L1155 228.8 L1155.2 230 L1156.2 227.9 L1157.2 226.9 L1157.5 226.5 L1158.2 225.7 L1159.2 223.9 L1160 223.6 L1160.2 223.2 L1161.2 221.5 L1162.2 224.1 L1163.2 225.4 L1163.8 226.5 L1164.2 224.1 L1165 223.1 L1165.2 219.6 L1166.2 215.2 L1167.2 216.7 L1167.5 216.6 L1168.2 221.4 L1168.8 219 L1169.2 220 L1170 219.3 L1170.2 218.4 L1171.2 216.5 L1172.2 215.1 L1172.5 215.2 L1173.2 216.8 L1174.2 220.6 L1175 221.5 L1175.2 223 L1176.2 222.8 L1177.2 223.5 L1177.5 224 L1178.2 226.4 L1178.8 225.6 L1179.2 225.9 L1180 226.5 L1180.2 226.6 L1181.2 228.4 L1182.2 229.9 L1182.5 230.2 L1183.2 232.6 L1184.2 233.1 L1185 234 L1185.2 238.2 L1185.8 247 L1185.8 247Z" fill="#000000"/>
<path d="M670.2 247 L670.2 247 L670.5 192.8 L671.2 194.7 L672.2 194.1 L672.8 195.2 L673.2 198.9 L674 201.6 L674.2 204 L674.5 204 L675.2 206.8 L676.2 203.3 L676.5 204 L677.2 202.7 L678.2 200.2 L678.5 198.5 L679.2 202.4 L680.2 203.9 L681 202.8 L681.2 206.7 L682.2 209.7 L682.8 206.5 L683.2 231.4 L683.5 244 L684 243.9 L684.2 244 L685.2 244 L686.2 235.6 L687 229 L687.2 220.2 L688.2 187.3 L688.5 179 L689.2 175.7 L689.5 175.2 L690.2 182.4 L691.2 192 L691.5 186.5 L692.2 199.2 L693.2 195.9 L694 199 L694.2 199.7 L695.2 207.4 L696 211.5 L696.2 212.1 L696.5 213.4 L697.2 214 L697.8 215.2 L698.2 216.3 L699.2 217.4 L700.2 217.2 L701.2 218.3 L701.5 217.8 L702.2 219.3 L703.2 218.9 L704 219 L704.2 223.9 L705.2 239 L706.2 217.2 L706.5 211.8 L707 201.5 L707.2 200.3 L708.2 200.6 L708.5 199 L709.2 211.3 L710.2 224 L711.2 227.2 L712 229 L712.2 229.5 L713.2 228.7 L714 229 L714.2 228.6 L715.2 221.5 L716 217.8 L716.2 217.7 L716.5 219.5 L717.2 219.2 L718.2 221.6 L718.5 221.5 L719.2 228.8 L720.2 239 L721.2 238.4 L722.2 237.9 L722.8 237.8 L723.2 238.8 L724.2 241 L724.5 241.5 L725.2 240.7 L726.2 239.3 L726.5 239 L727.2 240.5 L728.2 242.5 L729 244 L729.2 244.1 L730.2 244.1 L731.2 243.9 L731.5 244 L732.2 244.9 L733.2 246.1 L734 247 L734.2 247.9 L735.2 251.5 L736.2 250.5 L737.2 249.4 L737.8 249 L738.2 248.6 L739.2 247.8 L740.2 247 L741.2 245.4 L742.2 243.9 L742.8 242.8 L743.2 242.5 L744.2 242.2 L745.2 241.5 L746.2 242.6 L747.2 243.5 L747.8 244 L748.2 244.6 L749.2 245.8 L750.2 247 L751.2 247 L752.2 247 L752.8 247 L753.2 245.4 L754.2 242.4 L754.5 241.5 L755.2 255.2 L756.2 250.1 L756.5 249 L757.2 246.2 L758.2 242.4 L758.5 241.5 L759 239.6 L759.2 238.6 L760.2 234.6 L761 230.2 L761.2 232.7 L761.5 232.9 L762.2 236.5 L762.8 239 L763.2 241.1 L764 240.2 L764.2 240.4 L765.2 241.5 L766.2 243.3 L766.5 243.4 L767.2 244.6 L767.8 245.2 L768.2 245.6 L769 246.1 L769.2 246.3 L770.2 247 L771.2 260.7 L771.5 264 L772.2 267.6 L772.8 268.7 L773.2 273 L774 276.5 L774.2 276.1 L775.2 277 L776.2 277.7 L777.2 278 L778.2 278.9 L779 279 L779.2 279.5 L780.2 282.3 L781.2 284.9 L781.5 286.5 L782.2 291 L783.2 297.1 L784 304 L784.2 304.9 L785.2 305.9 L786.2 306.7 L786.5 308.5 L787.2 307.6 L787.8 309 L788.2 309.8 L789 310.2 L789.2 307.5 L790.2 311 L791.2 314.1 L791.5 314 L792.2 309.9 L792.8 310 L793.2 309.1 L794 311.7 L794.2 310.7 L795.2 309 L796.2 303.9 L797.2 303.7 L797.8 300.6 L798.2 301.7 L799 299 L799.2 297.8 L800.2 297.5 L801.2 299.4 L802.2 298.5 L802.8 299 L803.2 298.3 L804 296.8 L804.2 295.4 L805.2 294.7 L806.2 292.1 L806.5 291.5 L807.2 289.5 L808.2 291.3 L809 292.4 L809.2 291.9 L810.2 294 L811.2 293.9 L811.5 292.1 L812.2 294.5 L813.2 293.9 L814 294 L814.2 294.8 L815.2 291.8 L816.2 297.9 L817.2 294.6 L817.8 299 L818.2 296.2 L819 292.6 L819.2 290.8 L820.2 286.5 L821.2 278.9 L822.2 277.4 L823.2 275.4 L824 274 L824.2 273.7 L825.2 269.6 L826.2 269.7 L826.5 269 L827.2 266.4 L827.8 263.7 L828.2 261.7 L829 259 L829.2 257.4 L830.2 255 L831.2 252.1 L831.5 251.5 L832.2 244.2 L832.8 239 L833.2 239.2 L834 239.1 L834.2 239.4 L835.2 239 L836.2 245.4 L836.5 247 L837.2 248.4 L838.2 250.1 L839 251.5 L839.2 250.9 L840.2 249.2 L841.2 247.4 L841.5 247 L842.2 244.4 L843.2 241.4 L844 238.4 L844.2 237.5 L845.2 234 L846.2 244.6 L846.5 247 L847.2 224.8 L847.8 209 L848.2 210.1 L849 211.2 L849.2 208.2 L849.5 207.8 L850.2 211.1 L851.2 215 L851.5 215.2 L852.2 214.6 L853.2 216.6 L854 215.2 L854.2 215.8 L855.2 215.3 L856.2 215.5 L856.5 215.2 L857.2 216.9 L858.2 217.3 L859 215.2 L859.2 218.6 L860.2 214.9 L861.2 214.7 L861.5 215.2 L862.2 215.1 L863.2 216.6 L864 216.5 L864.2 216.4 L865.2 221.1 L866.2 218.6 L866.5 219 L867.2 219.6 L868.2 220.4 L869 220.2 L869.2 220.1 L870.2 221.1 L871.2 220.5 L872.2 220.4 L873.2 221 L874 221 L874.2 221.6 L875.2 221 L876.2 221 L877.2 221.3 L878.2 221.4 L879 221.5 L879.2 221.3 L880.2 222.7 L881.2 224.8 L881.5 222.8 L882.2 223 L883.2 222.9 L884 222.8 L884.2 222.9 L885.2 224.8 L886.2 224.1 L886.5 222.8 L887.2 225.3 L888.2 225.3 L889 226.5 L889.2 227 L890.2 228.2 L891.2 228.1 L891.5 227.8 L892.2 228.8 L893.2 224.9 L894 224 L894.2 223.9 L895.2 225.6 L896.2 226.6 L896.5 226.5 L897.2 223.2 L898.2 219 L899 215.2 L899.2 219.5 L900.2 220.7 L901.2 225.5 L901.5 226.5 L902.2 227.6 L903.2 227.9 L904 229 L904.2 229.1 L905.2 226.4 L906.2 224.8 L906.5 222.8 L907.2 226.4 L908.2 227.8 L909 229 L909.2 229 L910.2 228.7 L911.2 229.6 L911.5 229 L912.2 228.5 L913.2 228.7 L914 227.8 L914.2 227.8 L915.2 228.3 L916.2 229 L916.5 229 L917.2 229.6 L918.2 228.8 L919 229 L919.2 230.7 L920.2 231.6 L921.2 233.8 L921.5 234 L922.2 233 L923.2 232.4 L924 231.5 L924.2 228 L925.2 209 L926.2 215.3 L927.2 219.4 L927.8 221.5 L928.2 222.3 L929 220.2 L929.2 219.9 L930.2 219 L931.2 205.4 L931.5 199 L932.2 199.5 L933.2 200.4 L934 194 L934.2 193.1 L935.2 187.3 L936.2 181.6 L936.5 180.2 L937.2 186.4 L938 180.2 L938.2 196.1 L939 247 L939.2 251.4 L940.2 269 L941.2 256.8 L941.5 254 L942.2 249.5 L943.2 243.9 L944 239 L944.2 239 L945.2 237 L946.2 235.9 L946.5 235.2 L947.2 237.9 L948.2 239.8 L949 241.5 L949.2 242.2 L950.2 242.8 L951.2 244 L951.5 244 L952.2 244.9 L953.2 246.1 L954 247 L954.2 250.3 L955.2 264 L956.2 257.7 L956.5 259 L957.2 256.9 L958.2 253.2 L959 251.5 L959.2 252.6 L960.2 256.2 L961.2 260.2 L962.2 252.9 L962.5 251.5 L963.2 248.8 L963.8 247 L964.2 247.6 L965 248.4 L965.2 248.6 L965.5 249 L966.2 243.9 L967 239 L967.2 238.7 L967.5 238.5 L968.2 237.8 L969.2 245.2 L969.5 247 L970 247.8 L970.2 248.1 L971.2 249.6 L972.2 251.1 L972.5 251.5 L973.2 251.8 L974.2 253 L975 254 L975.2 253.9 L976.2 254.6 L977.2 255.2 L977.5 255.2 L978.2 258 L979.2 261.5 L980 264 L980.2 263.2 L981.2 261.5 L982.2 261.9 L982.5 261.5 L983.2 260.9 L984.2 259.5 L985 259 L985.2 256.5 L986.2 247 L987 146.5 L987.2 140.3 L987.5 138.2 L988.2 125.2 L989.2 149 L990 191.5 L990.2 210.8 L990.8 247 L991.2 247.3 L992.2 248 L993.2 248.7 L993.8 249 L994.2 249.7 L995 250.8 L995.2 251.3 L996.2 252.8 L997.2 253.1 L997.5 253.1 L998.2 253 L999.2 253.5 L1000 254 L1000.2 253.7 L1001.2 253.1 L1002.2 252.5 L1003.2 251.7 L1003.8 251.5 L1004.2 251.6 L1005 250.6 L1005.2 251.3 L1006.2 251.5 L1007.2 256.2 L1007.5 257.4 L1008.2 261.4 L1008.8 264 L1009.2 263.5 L1010 262.7 L1010.2 262.6 L1011.2 261.2 L1012.2 260.4 L1012.5 260.2 L1013.2 259.7 L1013.8 261.1 L1014.2 259.2 L1015.2 261.6 L1016.2 260.4 L1017.2 261.7 L1017.5 262.8 L1018.2 264.1 L1019.2 265.2 L1020 266.6 L1020.2 267.4 L1021.2 269 L1022.2 272.4 L1022.5 274.4 L1023.2 279.7 L1023.8 282.8 L1024.2 281.4 L1025.2 275.3 L1026.2 274 L1027.2 277.2 L1027.5 280.3 L1028.2 283.4 L1028.8 286.5 L1029.2 281.9 L1030 276.4 L1030.2 273.8 L1031.2 274 L1032.2 276.2 L1032.5 276.5 L1033.2 277.1 L1033.8 279 L1034.2 280.1 L1035 282.7 L1035.2 282 L1036.2 285.5 L1037.2 288.3 L1037.5 289 L1038.2 284.6 L1038.8 286.6 L1039.2 283.1 L1040 284 L1040.2 282.6 L1041.2 277.3 L1042.2 271.8 L1042.5 271.5 L1043.2 271.4 L1044.2 272.4 L1045.2 273.1 L1046.2 274 L1047.2 271.2 L1047.5 271.6 L1048.2 272.5 L1049.2 272.1 L1050 271.5 L1050.2 271.3 L1051.2 271 L1052.2 270.1 L1052.5 269.9 L1053.2 270.2 L1054.2 269.6 L1055 269 L1055.2 269.3 L1056.2 267.7 L1057.2 267.2 L1057.5 267.3 L1058.2 266.5 L1059.2 269.2 L1060 269 L1060.2 270 L1061.2 274.4 L1062.2 276.2 L1062.5 279 L1063.2 277.2 L1064.2 275.4 L1065 276.5 L1065.2 274.8 L1066.2 271 L1067.2 267.5 L1067.5 266.5 L1068.2 266.1 L1069.2 263.5 L1070 264 L1070.2 262.9 L1071.2 257.8 L1072.2 252.9 L1072.5 251.5 L1073.2 250.2 L1074.2 248.3 L1075 247 L1075.2 247.2 L1076.2 248 L1077.2 248.7 L1077.5 249 L1078.2 249.7 L1079.2 250.8 L1080 251.5 L1080.2 251 L1081.2 249.3 L1082.2 247.4 L1082.5 247 L1083.2 246.1 L1083.8 245.5 L1084.2 244.9 L1085 244 L1085.2 244.3 L1086.2 245.5 L1087.2 246.7 L1087.5 247 L1088.2 245.4 L1089.2 243.1 L1090 241.5 L1090.2 242.2 L1091.2 244.3 L1092.2 246.4 L1092.5 247 L1093.2 247 L1094.2 247 L1095.2 247 L1096.2 247 L1097.2 247 L1097.5 247 L1098.2 247 L1098.8 247 L1099.2 244.3 L1100 240.2 L1100.2 241.9 L1101.2 247 L1102.2 247.8 L1102.5 248 L1103.2 248.6 L1103.8 249 L1104.2 252.6 L1105.2 260.5 L1106.2 269 L1107.2 257.1 L1107.5 254 L1108.2 251.8 L1109.2 249.1 L1110 247 L1110.2 247 L1111.2 247 L1112.2 247 L1113.2 247 L1114.2 247 L1115 247 L1115.2 249.4 L1116.2 257.9 L1117.2 267.6 L1117.5 270.2 L1118.2 260.3 L1118.8 254 L1119.2 251.8 L1120.2 250.9 L1121.2 249 L1122.2 248.2 L1123.2 247.4 L1123.8 247 L1124.2 236.2 L1125 220.2 L1125.2 226 L1126.2 247 L1127.2 241.8 L1128.2 237.5 L1128.8 234 L1129.2 237.9 L1130 244 L1130.2 243.8 L1131.2 243.2 L1132.2 242.5 L1133.2 241.8 L1133.8 241.5 L1134.2 240.6 L1135.2 233.7 L1136.2 228.6 L1137.2 222.5 L1137.5 221.5 L1138.2 228.2 L1139.2 237.2 L1139.5 239 L1140 240.5 L1140.2 241.4 L1141.2 244 L1142.2 243.2 L1143.2 242 L1143.8 241.5 L1144.2 240.9 L1145 241 L1145.2 240 L1146.2 239 L1147.2 238.4 L1148.2 237.7 L1149.2 236.9 L1150 236.5 L1150.2 236.3 L1151.2 235.5 L1152.2 235.6 L1153.2 234.6 L1153.8 234 L1154.2 234.6 L1155 233.8 L1155.2 234.9 L1156.2 234.1 L1157.2 234.1 L1157.5 234 L1158.2 233.6 L1159.2 232.7 L1160 232.6 L1160.2 232.4 L1161.2 231.5 L1162.2 232.9 L1163.2 233.4 L1163.8 234 L1164.2 232.7 L1165 232.4 L1165.2 230.4 L1166.2 228.4 L1167.2 225.8 L1167.5 225.2 L1168.2 229 L1168.8 227.8 L1169.2 229.7 L1170 230.2 L1170.2 230.6 L1171.2 230.4 L1172.2 228.9 L1172.5 229 L1173.2 228.8 L1174.2 229.6 L1175 229 L1175.2 229.9 L1176.2 229 L1177.2 228.8 L1177.5 230.9 L1178.2 230.3 L1178.8 229 L1179.2 229.5 L1180 230.3 L1180.2 229.8 L1181.2 230.7 L1182.2 231.3 L1182.5 231.5 L1183.2 236.2 L1184.2 240.4 L1185 244 L1185.2 246.5 L1185.8 251.5 L1186.2 247 L1186.2 247Z" fill="#c00000"/>
<path d="M670.2 247 L670.2 247 L670.5 247 L671.2 246.9 L672.2 246.7 L672.8 246.7 L673.2 246.6 L674 246.5 L674.2 246.5 L674.5 246.4 L675.2 246.3 L676.2 246.2 L676.5 246.2 L677.2 246.1 L678.2 246 L678.5 246 L679.2 245.9 L680.2 245.8 L681 245.8 L681.2 245.7 L682.2 245.6 L682.8 245.4 L683.2 245.3 L683.5 245.3 L684 245.2 L684.2 245.2 L685.2 245 L686.2 244.8 L687 244.6 L687.2 244.6 L688.2 244.4 L688.5 244.6 L689.2 244.2 L689.5 244.1 L690.2 244 L691.2 244.6 L691.5 244.5 L692.2 245 L693.2 245 L694 245.3 L694.2 245.2 L695.2 245.6 L696 245.9 L696.2 245.9 L696.5 246 L697.2 245.8 L697.8 245.8 L698.2 245.7 L699.2 245.5 L700.2 245.3 L701.2 245.1 L701.5 245.1 L702.2 244.9 L703.2 244.7 L704 244.6 L704.2 244.5 L705.2 244.3 L706.2 244 L706.5 244 L707 244.2 L707.2 244.1 L708.2 244.4 L708.5 244.5 L709.2 244.7 L710.2 244.8 L711.2 245 L712 245.3 L712.2 245.2 L713.2 245.3 L714 245.6 L714.2 245.6 L715.2 245.7 L716 246 L716.2 245.9 L716.5 246 L717.2 246 L718.2 246.1 L718.5 246.1 L719.2 246.2 L720.2 246.2 L721.2 246.3 L722.2 246.3 L722.8 246.4 L723.2 246.4 L724.2 246.4 L724.5 246.5 L725.2 246.5 L726.2 246.6 L726.5 246.6 L727.2 246.6 L728.2 246.7 L729 246.7 L729.2 246.7 L730.2 246.8 L731.2 246.8 L731.5 246.9 L732.2 246.9 L733.2 247 L734 247 L734.2 247 L735.2 247.1 L736.2 247.2 L737.2 247.3 L737.8 247.3 L738.2 247.3 L739.2 247.4 L740.2 247.5 L741.2 247.6 L742.2 247.7 L742.8 247.7 L743.2 247.7 L744.2 247.8 L745.2 247.9 L746.2 248 L747.2 248.1 L747.8 248 L748.2 248.1 L749.2 248.2 L750.2 248.3 L751.2 248.4 L752.2 248.4 L752.8 248.5 L753.2 248.5 L754.2 248.6 L754.5 248.6 L755.2 248.6 L756.2 248.7 L756.5 248.8 L757.2 248.5 L758.2 249 L758.5 249 L759 249 L759.2 249.1 L760.2 250 L761 250.9 L761.2 250.9 L761.5 251.5 L762.2 252.2 L762.8 252.5 L763.2 251.9 L764 254 L764.2 254.6 L765.2 256.4 L766.2 257.6 L766.5 258.8 L767.2 259.8 L767.8 261.5 L768.2 262 L769 262.2 L769.2 262.6 L770.2 262.9 L771.2 263.9 L771.5 264 L772.2 266.1 L772.8 266.4 L773.2 269.5 L774 271.5 L774.2 271.3 L775.2 272.7 L776.2 273.8 L777.2 274.6 L778.2 276 L779 276.5 L779.2 276.1 L780.2 275.5 L781.2 274.8 L781.5 274.5 L782.2 274.4 L783.2 273.5 L784 274 L784.2 274.2 L785.2 273.8 L786.2 273.3 L786.5 273.9 L787.2 272.9 L787.8 271.7 L788.2 273 L789 272.8 L789.2 271.3 L790.2 272.2 L791.2 272.9 L791.5 272 L792.2 271.5 L792.8 271.8 L793.2 271.7 L794 272.8 L794.2 272.8 L795.2 272.3 L796.2 270.6 L797.2 271.1 L797.8 270.1 L798.2 270.9 L799 270.2 L799.2 269.7 L800.2 269.6 L801.2 270.4 L802.2 270 L802.8 269.7 L803.2 270.4 L804 270.2 L804.2 269.9 L805.2 270.3 L806.2 269.7 L806.5 270 L807.2 268.2 L808.2 268.5 L809 269 L809.2 268.3 L810.2 268.2 L811.2 268.4 L811.5 267.5 L812.2 268.4 L813.2 267.9 L814 267.8 L814.2 267.8 L815.2 265.5 L816.2 267 L817.2 264.7 L817.8 265.8 L818.2 265.5 L819 265.2 L819.2 264.9 L820.2 264.3 L821.2 262.6 L822.2 263.2 L823.2 263.5 L824 264 L824.2 264 L825.2 262.1 L826.2 263 L826.5 262.6 L827.2 262.7 L827.8 261.9 L828.2 261.6 L829 261.5 L829.2 260 L830.2 259.3 L831.2 257.8 L831.5 257.7 L832.2 256 L832.8 255.5 L833.2 254.9 L834 254 L834.2 253.2 L835.2 251.5 L836.2 249.5 L836.5 249 L837.2 248.4 L838.2 247.6 L839 247 L839.2 247 L840.2 247 L841.2 247 L841.5 247 L842.2 247 L843.2 247 L844 247 L844.2 246.9 L845.2 246.8 L846.2 246.6 L846.5 246.5 L847.2 246.3 L847.8 246.2 L848.2 246.2 L849 246 L849.2 246.1 L849.5 246.2 L850.2 246.4 L851.2 246.8 L851.5 246.9 L852.2 247.1 L853.2 247.5 L854 247.8 L854.2 247.8 L855.2 248.1 L856.2 248.3 L856.5 248.3 L857.2 248.5 L858.2 248.7 L859 249 L859.2 248.8 L860.2 249.3 L861.2 249.6 L861.5 249.5 L862.2 249.9 L863.2 250 L864 250.2 L864.2 250.3 L865.2 250 L866.2 250.6 L866.5 250.6 L867.2 250.7 L868.2 250.8 L869 251 L869.2 251 L870.2 250.7 L871.2 250.7 L872.2 250.6 L873.2 250.3 L874 250.2 L874.2 250.1 L875.2 250 L876.2 249.7 L877.2 249.4 L878.2 249.2 L879 249 L879.2 249 L880.2 248.8 L881.2 248.6 L881.5 248.7 L882.2 248.7 L883.2 248.6 L884 248.5 L884.2 248.5 L885.2 248.6 L886.2 248.8 L886.5 248.9 L887.2 248.9 L888.2 249.3 L889 249.2 L889.2 249.4 L890.2 249.5 L891.2 249.7 L891.5 249.7 L892.2 249.6 L893.2 250.1 L894 250.2 L894.2 250.4 L895.2 250.5 L896.2 250.8 L896.5 250.4 L897.2 251.1 L898.2 251.3 L899 251.5 L899.2 250.9 L900.2 251 L901.2 250.6 L901.5 250.5 L902.2 250.1 L903.2 249.9 L904 249.5 L904.2 249.4 L905.2 249.3 L906.2 249.1 L906.5 249.2 L907.2 249 L908.2 249 L909 249 L909.2 249 L910.2 249 L911.2 248.8 L911.5 248.9 L912.2 248.9 L913.2 248.8 L914 248.8 L914.2 248.8 L915.2 248.8 L916.2 248.7 L916.5 248.7 L917.2 248.6 L918.2 248.6 L919 248.6 L919.2 248.5 L920.2 248.5 L921.2 248.5 L921.5 248.5 L922.2 248.4 L923.2 248.1 L924 248 L924.2 247.9 L925.2 247.8 L926.2 247.6 L927.2 247.3 L927.8 247.2 L928.2 247.2 L929 247 L929.2 246.8 L930.2 246.2 L931.2 245.7 L931.5 245.5 L932.2 245.1 L933.2 244.7 L934 244 L934.2 244.2 L935.2 244.8 L936.2 245.3 L936.5 245.5 L937.2 246 L938 246.4 L938.2 246.6 L939 247 L939.2 246.9 L940.2 246.7 L941.2 246.5 L941.5 246.4 L942.2 246.2 L943.2 246 L944 245.9 L944.2 245.8 L945.2 245.5 L946.2 245.3 L946.5 245.2 L947.2 245.2 L948.2 244.9 L949 244.6 L949.2 244.8 L950.2 244.3 L951.2 244.3 L951.5 244 L952.2 244.3 L953.2 244.7 L954 245 L954.2 245.1 L955.2 245.5 L956.2 246.1 L956.5 246 L957.2 246.3 L958.2 246.7 L959 247 L959.2 247.1 L960.2 247.7 L961.2 248.2 L962.2 248.7 L962.5 249 L963.2 249 L963.8 248.9 L964.2 249 L965 249 L965.2 248.9 L965.5 248.9 L966.2 249 L967 248.9 L967.2 249 L967.5 249 L968.2 248.9 L969.2 249 L969.5 249 L970 249 L970.2 249 L971.2 249 L972.2 249 L972.5 249 L973.2 248.8 L974.2 248.9 L975 249 L975.2 248.9 L976.2 248.6 L977.2 248.3 L977.5 248.2 L978.2 247.9 L979.2 247.6 L980 247.3 L980.2 247.2 L981.2 246.9 L982.2 246.6 L982.5 246.5 L983.2 246.6 L984.2 246.7 L985 246.8 L985.2 246.8 L986.2 246.9 L987 246.9 L987.2 247 L987.5 247 L988.2 247.4 L989.2 247.9 L990 248.2 L990.2 248.4 L990.8 248.7 L991.2 249 L992.2 249.8 L993.2 251.1 L993.8 251.3 L994.2 251.9 L995 252.8 L995.2 252.7 L996.2 252.4 L997.2 252.2 L997.5 252.1 L998.2 251.6 L999.2 251.5 L1000 251.5 L1000.2 251.1 L1001.2 249.8 L1002.2 248.5 L1003.2 247.2 L1003.8 246.5 L1004.2 246.5 L1005 246.5 L1005.2 246.5 L1006.2 246.5 L1007.2 246.5 L1007.5 246.5 L1008.2 246.9 L1008.8 247.1 L1009.2 247.4 L1010 247.8 L1010.2 247.9 L1011.2 248.4 L1012.2 248.9 L1012.5 249 L1013.2 249 L1013.8 249.4 L1014.2 249.1 L1015.2 249.7 L1016.2 249.6 L1017.2 250 L1017.5 250.2 L1018.2 250.5 L1019.2 250.6 L1020 250.8 L1020.2 251 L1021.2 251.1 L1022.2 251.1 L1022.5 251.5 L1023.2 251.1 L1023.8 250.9 L1024.2 250.7 L1025.2 249.9 L1026.2 248.8 L1027.2 249 L1027.5 249 L1028.2 248.4 L1028.8 248 L1029.2 247.6 L1030 247 L1030.2 246.7 L1031.2 245.6 L1032.2 244.3 L1032.5 244 L1033.2 243.4 L1033.8 242.8 L1034.2 242.3 L1035 241.5 L1035.2 241.5 L1036.2 240.7 L1037.2 240 L1037.5 239.9 L1038.2 239.9 L1038.8 239 L1039.2 239.3 L1040 238.9 L1040.2 238.5 L1041.2 238.3 L1042.2 238.2 L1042.5 237.8 L1043.2 238.2 L1044.2 238.3 L1045.2 238.5 L1046.2 239.1 L1047.2 239.6 L1047.5 239 L1048.2 239 L1049.2 239 L1050 239.2 L1050.2 239 L1051.2 239 L1052.2 239.1 L1052.5 239 L1053.2 238.5 L1054.2 238 L1055 237.7 L1055.2 237.5 L1056.2 237.7 L1057.2 237.5 L1057.5 236.5 L1058.2 237.2 L1059.2 235.1 L1060 234.7 L1060.2 234.4 L1061.2 233.5 L1062.2 233.8 L1062.5 232.8 L1063.2 232.9 L1064.2 232.8 L1065 231.8 L1065.2 231.8 L1066.2 231.2 L1067.2 230.4 L1067.5 230.2 L1068.2 229.4 L1069.2 230.2 L1070 229.1 L1070.2 228 L1071.2 227.3 L1072.2 226.3 L1072.5 226.5 L1073.2 221.7 L1074.2 216.5 L1075 247 L1075.2 247.4 L1076.2 249.2 L1077.2 250.8 L1077.5 251.5 L1078.2 252.6 L1079.2 254.2 L1080 255.2 L1080.2 255 L1081.2 254.9 L1082.2 254.4 L1082.5 254.4 L1083.2 254 L1083.8 254 L1084.2 253.6 L1085 253 L1085.2 252.9 L1086.2 252.2 L1087.2 251.6 L1087.5 251.5 L1088.2 251 L1089.2 250.7 L1090 249.8 L1090.2 250 L1091.2 249.6 L1092.2 249.1 L1092.5 249 L1093.2 248.7 L1094.2 248.3 L1095.2 247.9 L1096.2 247.5 L1097.2 247.1 L1097.5 247 L1098.2 246.7 L1098.8 246.6 L1099.2 246.4 L1100 246.1 L1100.2 246 L1101.2 245.8 L1102.2 245.3 L1102.5 245.2 L1103.2 244.7 L1103.8 244.6 L1104.2 244.1 L1105.2 243.3 L1106.2 242.6 L1107.2 241.6 L1107.5 241.5 L1108.2 241.1 L1109.2 240.3 L1110 239.7 L1110.2 240.4 L1111.2 239 L1112.2 239.6 L1113.2 240.4 L1114.2 240.9 L1115 241.5 L1115.2 241.7 L1116.2 243 L1117.2 243.8 L1117.5 244.4 L1118.2 244.8 L1118.8 245.2 L1119.2 245.7 L1120.2 245.8 L1121.2 246.1 L1122.2 246.5 L1123.2 246.8 L1123.8 247 L1124.2 247 L1125 247 L1125.2 247 L1126.2 247 L1127.2 247 L1128.2 247 L1128.8 247 L1129.2 247 L1130 247 L1130.2 247 L1131.2 246.9 L1132.2 246.9 L1133.2 246.8 L1133.8 246.8 L1134.2 246.8 L1135.2 246.7 L1136.2 246.7 L1137.2 246.6 L1137.5 246.6 L1138.2 246.6 L1139.2 246.5 L1139.5 246.5 L1140 246.5 L1140.2 246.4 L1141.2 245.9 L1142.2 245.5 L1143.2 244.9 L1143.8 244.6 L1144.2 244.3 L1145 244 L1145.2 243.9 L1146.2 243.3 L1147.2 242.9 L1148.2 242.4 L1149.2 241.8 L1150 241.5 L1150.2 241.4 L1151.2 240.8 L1152.2 240.7 L1153.2 240 L1153.8 239.9 L1154.2 239.7 L1155 239 L1155.2 239.4 L1156.2 238.4 L1157.2 238 L1157.5 237.6 L1158.2 237.4 L1159.2 236.8 L1160 236.5 L1160.2 236.6 L1161.2 236.2 L1162.2 236.2 L1163.2 235.6 L1163.8 235.8 L1164.2 235.4 L1165 235.2 L1165.2 235.1 L1166.2 235.1 L1167.2 234.7 L1167.5 234.4 L1168.2 235.8 L1168.8 234.4 L1169.2 234.9 L1170 234 L1170.2 234.3 L1171.2 234.3 L1172.2 233.3 L1172.5 236.2 L1173.2 233 L1174.2 233.4 L1175 232.8 L1175.2 233.4 L1176.2 232.8 L1177.2 232.6 L1177.5 234.3 L1178.2 233.8 L1178.8 233 L1179.2 232.8 L1180 232.8 L1180.2 232.6 L1181.2 233.1 L1182.2 233.3 L1182.5 233.2 L1183.2 234.6 L1184.2 234 L1185 234 L1185.2 236.4 L1185.8 241.7 L1186.2 247 L1186.2 247Z" fill="#009a00"/>
<rect x="662.7" y="83.7" width="534.9" height="290.5" fill="none" stroke="#1a1a1a" stroke-width="1.8"/>
<text class="t" x="653.9" y="87.6" font-size="12.5" text-anchor="end" textLength="16.8" lengthAdjust="spacingAndGlyphs">50</text>
<text class="t" x="653.9" y="121.7" font-size="12.5" text-anchor="end" textLength="16.8" lengthAdjust="spacingAndGlyphs">40</text>
<text class="t" x="653.9" y="153.4" font-size="12.5" text-anchor="end" textLength="16.8" lengthAdjust="spacingAndGlyphs">30</text>
<text class="t" x="653.9" y="184.9" font-size="12.5" text-anchor="end" textLength="16.8" lengthAdjust="spacingAndGlyphs">20</text>
<text class="t" x="653.9" y="217.9" font-size="12.5" text-anchor="end" textLength="16.8" lengthAdjust="spacingAndGlyphs">10</text>
<text class="t" x="653.9" y="250.4" font-size="12.5" text-anchor="end" textLength="8.4" lengthAdjust="spacingAndGlyphs">0</text>
<text class="t" x="653.9" y="282.9" font-size="12.5" text-anchor="end" textLength="22.8" lengthAdjust="spacingAndGlyphs">-10</text>
<text class="t" x="653.9" y="313.4" font-size="12.5" text-anchor="end" textLength="22.8" lengthAdjust="spacingAndGlyphs">-20</text>
<text class="t" x="653.9" y="345.9" font-size="12.5" text-anchor="end" textLength="22.8" lengthAdjust="spacingAndGlyphs">-30</text>
<text class="t" x="653.9" y="378.1" font-size="12.5" text-anchor="end" textLength="22.8" lengthAdjust="spacingAndGlyphs">-40</text>
<path d="M662.7 117.8h6.5M1197.6 117.8h-6M662.7 149.5h6.5M1197.6 149.5h-6M662.7 181h6.5M1197.6 181h-6M662.7 214h6.5M1197.6 214h-6M662.7 246.5h6.5M1197.6 246.5h-6M662.7 279h6.5M1197.6 279h-6M662.7 309.5h6.5M1197.6 309.5h-6M662.7 342h6.5M1197.6 342h-6M804 83.7v4.5M804 374.2v-4.5M936 83.7v4.5M936 374.2v-4.5M1080 83.7v4.5M1080 374.2v-4.5" stroke="#1a1a1a" stroke-width="1.6" fill="none"/>
<text class="t" x="662.5" y="390.8" font-size="11.8" text-anchor="middle" textLength="46" lengthAdjust="spacingAndGlyphs">2020.7</text>
<text class="t" x="802.2" y="390.8" font-size="11.8" text-anchor="middle" textLength="46" lengthAdjust="spacingAndGlyphs">2021.1</text>
<text class="t" x="937" y="390.8" font-size="11.8" text-anchor="middle" textLength="46" lengthAdjust="spacingAndGlyphs">2021.7</text>
<text class="t" x="1077" y="390.8" font-size="11.8" text-anchor="middle" textLength="46" lengthAdjust="spacingAndGlyphs">2022.1</text>
<text class="t" x="916.5" y="65.2" font-size="16" textLength="43.5" lengthAdjust="spacingAndGlyphs">ETH</text>
<rect x="804.5" y="403.7" width="281.2" height="23.8" fill="#fff" stroke="#222" stroke-width="1.2"/>
<rect x="836.3" y="413.6" width="7.5" height="5" fill="#000000"/>
<text class="l" x="847.7" y="419.8" font-size="12" textLength="33" lengthAdjust="spacingAndGlyphs">Total</text>
<rect x="912.5" y="413.6" width="7.5" height="5" fill="#c00000"/>
<text class="l" x="923.8" y="419.8" font-size="12" textLength="57.5" lengthAdjust="spacingAndGlyphs">1-5 days</text>
<rect x="1013.8" y="413.6" width="7.5" height="5" fill="#00a000"/>
<text class="l" x="1024.8" y="419.8" font-size="12" textLength="30" lengthAdjust="spacingAndGlyphs">5-inf</text>
<path d="M47.5 567 L47.5 567 L47.8 624 L48.5 623.7 L49.5 624.7 L50.5 623.9 L51 613.7 L51.5 623.1 L52.5 623.5 L53.5 622.8 L54.5 621.5 L55.5 622.2 L56 623.6 L56.5 618.9 L57.5 623.3 L58.5 625.2 L59.5 621.9 L60.5 622.1 L61 609.1 L61.5 625.6 L62.5 625.3 L63.5 624 L64.5 614.8 L65.5 606.5 L66 606.3 L66.5 606.2 L67.2 604.4 L67.5 606 L68.5 607.8 L69.5 606.3 L70.5 606.9 L71 606.8 L71.5 604.9 L72.5 606.9 L73.5 605.9 L74.5 607.1 L74.8 607.4 L75.5 606.4 L76 607.8 L76.5 609.1 L77.5 609.3 L78.5 609 L79.5 604.8 L79.8 605.9 L80.5 601.9 L81 601.4 L81.5 601.4 L82.2 599 L82.5 598.6 L83.5 598.8 L84.5 602 L84.8 602.7 L85.5 603.9 L86 604 L86.5 604.3 L87.2 603.5 L87.5 603.9 L88.5 605.2 L89.5 601 L90.5 604.7 L91 606.5 L91.5 605 L92.2 606 L92.5 606.4 L93.5 606.5 L94.5 587.4 L94.8 584 L95.5 580.4 L96 583.3 L96.5 583.1 L97.2 582.8 L97.5 582.8 L98.5 583.5 L99.5 583.8 L99.8 584 L100.5 580.5 L101 578.2 L101.5 576.5 L102.5 584.2 L103.5 591.5 L104.5 610 L104.8 614 L105.5 611 L106 607.6 L106.5 605.6 L107.2 601.5 L107.5 598.7 L108.5 592.6 L109.5 585.7 L109.8 584 L110.5 581.1 L111 580.2 L111.5 578.2 L112.2 576.5 L112.5 576.6 L113.5 578.9 L114.5 580.8 L114.8 581.5 L115.5 582.5 L116 581.9 L116.5 583.4 L117.2 584 L117.5 584.4 L118.5 586.2 L119.5 587.7 L119.8 589 L120.5 580.1 L121 574 L121.5 570.9 L122.2 567 L122.5 564.4 L123.5 554 L124.5 550.4 L124.8 549.7 L125.5 548.2 L126.5 544.5 L127.2 541.5 L127.5 542.1 L128.5 544.2 L129.5 545.8 L129.8 546.5 L130.5 548.6 L131.5 550.3 L132.2 551.5 L132.5 551.9 L133.5 554.9 L134.5 555.9 L134.8 556.7 L135.5 558 L136 559 L136.5 557.4 L137.2 554.1 L137.5 553 L138.5 549 L139.5 534.4 L139.8 531.5 L140.5 549.2 L141 559 L141.5 558.8 L142.2 559.4 L142.5 558.2 L143.5 558 L144.5 557.9 L145.5 556.7 L146 556.5 L146.5 557.3 L147.5 556.9 L148.5 556.7 L149.5 556.8 L149.8 557.5 L150.5 557.2 L151 557.2 L151.5 557.6 L152.2 557.1 L152.5 557.3 L153.5 557.5 L154.5 559.4 L155.5 557.8 L156 557.8 L156.5 556.9 L157.2 555.7 L157.5 555 L158.5 553.9 L159.5 552.2 L159.8 553 L160.5 549.8 L161 548.4 L161.5 548.3 L162.2 546.5 L162.5 536.1 L163 514 L163.5 523.4 L164 531.5 L164.5 533.4 L164.8 532.6 L165.5 532.9 L166 534 L166.5 538.1 L167.2 544 L167.5 547.5 L168.5 554 L169.5 555.2 L169.8 555.2 L170.5 556.9 L171 556.5 L171.5 557 L172.5 557.9 L173.5 559.1 L174.5 560.1 L174.8 560.7 L175.5 561.1 L176 561.5 L176.5 561.6 L177.5 562.2 L178.5 562.5 L179.5 563.3 L179.8 563.1 L180.5 563.2 L181 563.5 L181.5 563.5 L182.5 564 L183.5 564.3 L184.5 564.7 L185.5 565.2 L186 565.2 L186.5 565.4 L187.5 565.7 L188.5 565.8 L189.5 566.1 L190.5 566.3 L191 566.4 L191.5 566.5 L192.2 566.7 L192.5 566.8 L193.5 567 L194 589 L194.5 591.3 L195.5 597 L196 599 L196.5 600.4 L197.5 600.2 L198.5 604 L199.5 604.3 L200.5 608.5 L201 609 L201.5 610.6 L202.5 615.5 L203.5 619 L204.5 614.3 L205.5 607.2 L206 606.5 L206.5 607.3 L207.5 609.8 L208.5 611.5 L209.5 610.6 L210.5 610.3 L211 609 L211.5 610 L212.5 613 L213.5 619 L214.5 618.9 L214.8 617.5 L215.5 619.8 L216 620.2 L216.5 619.9 L217.2 618.8 L217.5 624.6 L218.5 629 L219.5 625.3 L220.5 632.2 L221 634 L221.5 636.5 L222.5 641.4 L223.5 649 L224.5 651.3 L225.5 658.8 L226 661.5 L226.5 660.8 L227.5 656.9 L228.5 662.8 L229.5 665.1 L230.5 661.1 L231 664 L231.5 662.8 L232.5 653.8 L233.5 659.6 L234.5 657.2 L235.5 673.4 L236 674 L236.5 674.2 L237.5 670.5 L238.5 676.1 L239.5 680.2 L240.5 681.3 L241 681.5 L241.5 682.6 L242.5 682.7 L243.5 679.6 L244.5 682.7 L245.5 665.5 L246 684 L246.5 672 L247.5 679.5 L248.5 687.5 L249.5 685.5 L250.5 682.9 L251 689 L251.5 688.2 L252.5 674.3 L253.5 684.3 L254.5 688.7 L255.5 693.1 L256 694 L256.5 687 L257.5 690.3 L258.5 691.4 L259.5 692.4 L260.5 691.9 L261 696.5 L261.5 698.1 L262.5 690.5 L263.5 669.4 L264.5 694.8 L265.5 696.1 L266 694 L266.5 691.1 L267.5 693.4 L268.5 688.6 L269.5 669.4 L270.5 692.1 L271 695.2 L271.5 697.4 L272.5 689.7 L273.5 677.4 L274.5 689.7 L274.8 694 L275.5 705.8 L276 715.9 L276.5 721.5 L277.2 721.5 L277.5 713.1 L278.5 720.9 L279.5 725.8 L279.8 724 L280.5 728 L281.5 721.1 L282.2 739 L282.5 741.3 L283.5 732.8 L284.5 742 L285.5 740.8 L286 741.5 L286.5 736.1 L287.5 738.2 L288.5 740.9 L289.5 745.4 L289.8 744 L290.5 733.6 L291 731.7 L291.5 723.5 L292.2 734 L292.5 725.6 L293.5 726.1 L294.5 729 L295.5 736.5 L296 736.5 L296.5 741.7 L297.2 742.4 L297.5 739.1 L298.5 749 L299.5 742.9 L299.8 728.3 L300.5 735.4 L301 734 L301.5 717.5 L302.2 726.9 L302.5 717.7 L303.5 724 L304.5 720 L304.8 721.1 L305.5 721.9 L306 719 L306.5 721.1 L307.5 719.4 L308.5 705.4 L309.5 721.4 L309.8 719 L310.5 718.2 L311 710 L311.5 711.6 L312.5 709.5 L313.5 714 L314.5 703.4 L314.8 698.3 L315.5 701.5 L316 660.7 L316.5 619 L317.5 619.3 L318.5 624 L319.5 630.5 L320.5 634.4 L321 639 L321.5 642.3 L322.5 645.3 L323.5 651.5 L324.5 646.9 L325.5 649.5 L326 650.2 L326.5 649.3 L327.2 649 L327.5 646.9 L328.5 648.1 L329.5 643.9 L329.8 646 L330.5 648.6 L331 649 L331.5 648.8 L332.2 649.3 L332.5 646.8 L333.5 651.5 L334.5 643.3 L334.8 638.2 L335.5 637.9 L336 634 L336.5 632.8 L337.5 633.6 L338.5 628.2 L339.5 633.9 L340 633.5 L340.5 631.8 L341.5 632.9 L342.5 630.2 L343.5 632.2 L343.8 631 L344.5 629.3 L345 625.8 L345.5 627.1 L346.2 626 L346.5 619.9 L347.5 616 L348.5 613.9 L349.5 612.2 L350 611 L350.5 607.7 L351.5 595.9 L352.5 601 L353.5 602.3 L353.8 601.1 L354.5 602.6 L355 603.5 L355.5 604.5 L356.2 609.3 L356.5 610.5 L357 613.5 L357.5 606.5 L358.5 600.9 L358.8 598.5 L359.5 596.6 L360 596.2 L360.5 593.7 L361.2 593.5 L361.5 596.2 L362.5 603.6 L363.5 613.9 L363.8 616 L364.5 627.9 L365.5 641 L366.5 658.5 L367.5 636 L368.5 619.9 L369.5 603.5 L370.5 610.5 L371.2 616 L371.5 618.4 L372.5 633.5 L373.5 626.7 L374.5 631 L375 631 L375.5 629.5 L376.5 631.6 L377.5 631 L378.5 620.7 L379.5 616 L380 611.4 L380.5 605.5 L381.2 603.5 L381.5 603.7 L382.5 604.4 L383.5 603.6 L383.8 606 L384.5 604.3 L385.5 602.8 L386.2 601 L386.5 600.7 L387.5 600.1 L388.5 591.9 L388.8 598.5 L389.5 598 L390 598.8 L390.5 599.2 L391.2 601 L391.5 599.4 L392.5 593.2 L393.5 595.9 L393.8 596 L394.5 590.8 L395 588.2 L395.5 584.6 L396.2 581 L396.5 584.2 L397.5 596 L398.5 598 L399.5 600.4 L400 601 L400.5 596.5 L401.5 597.7 L402.5 596 L403.5 592.8 L404.5 592.2 L405 591 L405.5 589.9 L406.5 588.2 L407.5 586 L408.5 597 L409.2 611 L409.5 603.6 L410 599.1 L410.5 592.6 L411.2 581 L411.5 579.7 L412.5 575.4 L413 573.5 L413.5 570.2 L414 567 L414.5 563.3 L415 559 L415.5 564.3 L415.8 567 L416.5 569.8 L417.5 573.5 L418.5 586.8 L419.5 600.9 L420 608.5 L420.5 603.9 L421.5 595.4 L422.5 586 L423.5 581.2 L424.5 576 L425 573.5 L425.5 572.9 L426.5 572 L427.5 571 L428.5 577 L428.8 578.5 L429.5 590.7 L430 598.5 L430.5 594.8 L431.5 587.8 L432 586 L432.5 581.4 L433.5 573 L433.8 571 L434.5 570.1 L435 569.5 L435.5 569 L436.5 567.9 L437.5 567 L438.5 561.8 L438.8 560.2 L439.5 559.8 L440 559.7 L440.5 559.7 L441.2 559 L441.5 559.7 L442.5 561.6 L443.5 563.4 L443.8 564 L444.5 564 L445 564 L445.5 564 L446.2 564 L446.5 563.8 L447.5 562.1 L448.5 560.5 L448.8 560.2 L449.5 559.3 L450 558.6 L450.5 557.6 L451.2 556.5 L451.5 557.9 L452.5 564 L453 567 L453.5 564.5 L453.8 563 L454.5 559.4 L455 556.5 L455.5 558.4 L456.5 559.5 L457.5 561.5 L458.5 563.6 L459.5 565.5 L460 566.5 L460.5 566 L461.5 565.1 L462.5 564 L463.5 565.2 L464.5 566.4 L465 567 L465.5 569.1 L466.5 574.3 L467.5 579 L468.5 579.6 L469.5 579.4 L470 580.2 L470.5 582.3 L471.5 585.4 L472.5 589 L473.5 590.4 L474.5 591.5 L475 594 L475.5 594.2 L476.5 596.1 L477.5 597.8 L478.5 599 L478.8 599 L479.5 602.9 L480 609 L480.5 608.3 L481.5 604.1 L482.5 601.5 L483.5 597.6 L484.5 594.9 L485 594 L485.5 594.5 L486.5 597.3 L487.5 599 L488.5 613.8 L489.5 626.9 L490 634.7 L490.5 641.5 L491.2 629.6 L491.5 630.2 L492.5 619 L493.5 607.2 L493.8 607.6 L494.5 602.7 L495 599 L495.5 601.1 L496.5 601.2 L497.5 609 L498.5 601.4 L499.5 596.6 L500 594 L500.5 597.5 L501.2 601.3 L501.5 602.7 L502.5 609 L503.5 626.3 L503.8 634 L504.5 625.1 L505 626.5 L505.5 623.1 L506.2 624 L506.5 624 L507.5 620.8 L508.5 616.3 L509.5 614 L510 614 L510.5 615.1 L511.5 616.6 L512.5 618 L513.5 617.3 L513.8 620.2 L514.5 620.6 L515 622.2 L515.5 618.9 L516.5 622 L517.5 624 L518.5 624 L519.5 620.4 L520 618.2 L520.5 624 L521.2 622.8 L521.5 623.3 L522.5 623.9 L523.5 622.6 L524.5 621.7 L525 624 L525.5 612.8 L526.2 599 L526.5 600.4 L527.5 602.9 L528.5 607.6 L528.8 609 L529.5 610.1 L530 611.2 L530.5 610.3 L531.2 612.8 L531.5 611.8 L532.5 612.7 L533.5 613.3 L533.8 614 L534.5 612.1 L535 611.9 L535.5 612.6 L536.2 611.5 L536.5 607.5 L537.5 609.6 L538.5 609 L539.5 608.8 L540 607.8 L540.5 604.3 L541.5 605.7 L542.5 603.4 L543.5 602.4 L543.8 601.5 L544.5 597.7 L545 596.8 L545.5 593.7 L546.2 591.5 L546.5 590.7 L547.5 588 L548.5 585 L548.8 584 L549.5 585.5 L550 586.7 L550.5 587.4 L551.2 589 L551.5 589.9 L552.5 591 L553.5 591.7 L553.8 594 L554.5 600.4 L555 604 L555.5 607.8 L556.2 616.5 L556.5 616.3 L557.5 613.2 L558.5 610.5 L558.8 609 L559.5 605.3 L560 603.3 L560.5 597.8 L561.2 599 L561.5 597.8 L562.5 590.9 L563.5 585.4 L563.8 584 L564.5 567 L564.5 567Z" fill="#000000"/>
<path d="M47.5 567 L47.5 567 L47.8 567 L48.5 567 L49.5 567 L50.5 567 L51 567 L51.5 567 L52.5 567 L53.5 567 L54.5 567 L55.5 567 L56 567 L56.5 567 L57.5 567 L58.5 567 L59.5 567 L60.5 567 L61 567 L61.5 567 L62.5 567 L63.5 567 L64.5 567 L65.5 567 L66 567 L66.5 564.8 L67.2 561.5 L67.5 560.6 L68.5 556.5 L69.5 550.9 L70.5 544.8 L71 541.5 L71.5 541.8 L72.5 537.7 L73.5 534 L74.5 533.9 L74.8 533.5 L75.5 533.7 L76 531.5 L76.5 533.1 L77.5 537.1 L78.5 541.5 L79.5 548.3 L79.8 549 L80.5 542.7 L81 536.5 L81.5 541.2 L82.2 549 L82.5 550.4 L83.5 554.7 L84.5 558 L84.8 559 L85.5 567 L86 589 L86.5 590 L87.2 590.8 L87.5 591.5 L88.5 594 L89.5 589.5 L90.5 590.4 L91 589.6 L91.5 589.1 L92.2 589 L92.5 588 L93.5 584 L94.5 579.4 L94.8 579.2 L95.5 574.3 L96 574 L96.5 573.7 L97.2 573.4 L97.5 573.2 L98.5 572.8 L99.5 572.2 L99.8 572.2 L100.5 571.6 L101 571.5 L101.5 574 L102.5 579.2 L103.5 584 L104.5 608.4 L104.8 614 L105.5 611 L106 607.6 L106.5 605.6 L107.2 601.5 L107.5 596.1 L108.5 579 L109.5 576 L109.8 575.2 L110.5 572.7 L111 571.5 L111.5 570.8 L112.2 570.2 L112.5 569.9 L113.5 569 L114.5 569 L114.8 569 L115.5 569 L116 569 L116.5 568.6 L117.2 568 L117.5 567.8 L118.5 567 L119.5 563.7 L119.8 562.8 L120.5 560 L121 558.3 L121.5 557.2 L122.2 554 L122.5 553 L123.5 550.1 L124.5 547 L124.8 546.5 L125.5 546 L126.5 543.6 L127.2 541.5 L127.5 542.1 L128.5 544.2 L129.5 545.8 L129.8 546.5 L130.5 548.6 L131.5 550.3 L132.2 551.5 L132.5 552.2 L133.5 556.1 L134.5 558.2 L134.8 559 L135.5 563.8 L136 567 L136.5 567 L137.2 567 L137.5 562.9 L138.5 546.5 L139.5 562.8 L139.8 567 L140.5 576.6 L141 584 L141.5 588 L142.2 594 L142.5 594.5 L143.5 593.9 L144.5 593.5 L145.5 596.4 L146 596.5 L146.5 595.1 L147.5 597.9 L148.5 600.2 L149.5 601.5 L149.8 601.5 L150.5 608.4 L151 613.5 L151.5 616.9 L152.2 626.5 L152.5 619.8 L153.5 594 L154.5 585.5 L155.5 585.8 L156 584 L156.5 581 L157.2 576.4 L157.5 575 L158.5 569 L159.5 578.4 L159.8 579.7 L160.5 588.8 L161 594 L161.5 582.8 L162.2 567 L162.5 558.5 L163 542.4 L163.5 524 L164 529.6 L164.5 533.3 L164.8 534 L165.5 541.1 L166 546.5 L166.5 549.5 L167.2 554 L167.5 557.3 L168.5 567 L169.5 584.3 L169.8 589 L170.5 578.9 L171 574 L171.5 574 L172.5 574.1 L173.5 573.9 L174.5 573.9 L174.8 574 L175.5 573.9 L176 573.7 L176.5 574.1 L177.5 573.8 L178.5 574 L179.5 578.6 L179.8 580.7 L180.5 585.9 L181 589 L181.5 587.4 L182.5 582.7 L183.5 579 L184.5 575.1 L185.5 570.8 L186 569 L186.5 567 L187.5 563.2 L188.5 559 L189.5 560.6 L190.5 562.1 L191 562.8 L191.5 564.4 L192.2 567 L192.5 569.4 L193.5 579 L194 582.3 L194.5 585.9 L195.5 593.5 L196 596.5 L196.5 597.9 L197.5 597.8 L198.5 601.5 L199.5 601 L200.5 603.9 L201 604 L201.5 605.6 L202.5 610.4 L203.5 614 L204.5 610.2 L205.5 604.4 L206 604 L206.5 604.8 L207.5 607.2 L208.5 609 L209.5 609.1 L210.5 609.8 L211 609 L211.5 609.1 L212.5 610.1 L213.5 614 L214.5 613.5 L214.8 612.1 L215.5 613.8 L216 614 L216.5 614.1 L217.2 613.7 L217.5 619.2 L218.5 624 L219.5 622.6 L220.5 631.2 L221 634 L221.5 636 L222.5 639.9 L223.5 646.5 L224.5 647.9 L225.5 654.3 L226 656.5 L226.5 655.9 L227.5 652.2 L228.5 657.8 L229.5 660 L230.5 656.3 L231 659 L231.5 657.9 L232.5 649.5 L233.5 655 L234.5 652.8 L235.5 668.4 L236 669 L236.5 669 L237.5 665 L238.5 669.9 L239.5 673.4 L240.5 674 L241 674 L241.5 675.3 L242.5 675.9 L243.5 673.5 L244.5 677 L245.5 661 L246 679 L246.5 667.5 L247.5 674.8 L248.5 682.4 L249.5 680.6 L250.5 678.1 L251 684 L251.5 683 L252.5 669.3 L253.5 678.4 L254.5 682.2 L255.5 685.9 L256 686.5 L256.5 679.7 L257.5 682.3 L258.5 682.9 L259.5 683.4 L260.5 682.5 L261 686.5 L261.5 688.2 L262.5 681.7 L263.5 662.4 L264.5 686.5 L265.5 688.2 L266 686.5 L266.5 683.7 L267.5 685.6 L268.5 680.8 L269.5 662.7 L270.5 683.7 L271 686.5 L271.5 688.6 L272.5 681.8 L273.5 670.6 L274.5 682.3 L274.8 686.5 L275.5 694 L276 699 L276.5 700.4 L277.2 701 L277.5 694 L278.5 704 L279.5 707.1 L279.8 705 L280.5 706.2 L281.5 696.7 L282.2 709 L282.5 711.1 L283.5 704.8 L284.5 713.3 L285.5 713 L286 714 L286.5 709.2 L287.5 710.4 L288.5 714 L289.5 713.3 L289.8 713.5 L290.5 703.9 L291 709 L291.5 699.1 L292.2 704 L292.5 706 L293.5 716.5 L294.5 712.6 L295.5 720.8 L296 724.2 L296.5 724.9 L297.2 724 L297.5 719.9 L298.5 719.9 L299.5 726.2 L299.8 726.5 L300.5 719.8 L301 715.2 L301.5 701.3 L302.2 709 L302.5 699.6 L303.5 707.3 L304.5 704.2 L304.8 705.3 L305.5 706.4 L306 704 L306.5 705.9 L307.5 704.4 L308.5 691.7 L309.5 706.1 L309.8 704.6 L310.5 704.2 L311 704 L311.5 698.7 L312.5 696.7 L313.5 702.9 L314.5 695.3 L314.8 699 L315.5 636.1 L316 596.5 L316.5 600.6 L317.5 608.3 L318.5 619 L319.5 623.5 L320.5 625.6 L321 629 L321.5 631.7 L322.5 634 L323.5 639 L324.5 636.6 L325.5 640.4 L326 641.5 L326.5 641 L327.2 641.9 L327.5 638.6 L328.5 639.1 L329.5 634.7 L329.8 639 L330.5 640.1 L331 641.8 L331.5 641.8 L332.2 644 L332.5 639.6 L333.5 635.8 L334.5 633.9 L334.8 634 L335.5 632.9 L336 631.5 L336.5 630.4 L337.5 631.3 L338.5 626.2 L339.5 631.8 L340 631.5 L340.5 629.8 L341.5 630.9 L342.5 628.3 L343.5 630.2 L343.8 629 L344.5 627.3 L345 623.9 L345.5 625.1 L346.2 624 L346.5 618.1 L347.5 614 L348.5 611.9 L349.5 610.1 L350 609 L350.5 605.8 L351.5 594.3 L352.5 599 L353.5 600.3 L353.8 599.2 L354.5 600.6 L355 601.5 L355.5 602.5 L356.2 607.3 L356.5 608.5 L357 611.5 L357.5 604.7 L358.5 598.8 L358.8 596.5 L359.5 594.6 L360 594.2 L360.5 591.8 L361.2 591.5 L361.5 594.2 L362.5 601.6 L363.5 611.9 L363.8 614 L364.5 625.8 L365.5 639 L366.5 656.5 L367.5 634 L368.5 617.9 L369.5 601.5 L370.5 608.5 L371.2 614 L371.5 616.4 L372.5 631.5 L373.5 624.9 L374.5 629 L375 629 L375.5 627.6 L376.5 629.6 L377.5 629 L378.5 618.8 L379.5 614 L380 609.5 L380.5 603.6 L381.2 601.5 L381.5 601.7 L382.5 602.4 L383.5 601.8 L383.8 604 L384.5 602.3 L385.5 600.8 L386.2 599 L386.5 598.7 L387.5 598 L388.5 590.3 L388.8 596.5 L389.5 596.1 L390 596.9 L390.5 597.3 L391.2 599 L391.5 597.4 L392.5 591.6 L393.5 593.9 L393.8 594 L394.5 588.8 L395 586.3 L395.5 582.7 L396.2 579 L396.5 582.2 L397.5 594 L398.5 596 L399.5 598.3 L400 599 L400.5 594.7 L401.5 595.7 L402.5 594 L403.5 590.9 L404.5 590.2 L405 589 L405.5 587.9 L406.5 586.2 L407.5 584 L408.5 595.2 L409.2 609 L409.5 601.8 L410 597.1 L410.5 590.6 L411.2 579 L411.5 577.8 L412.5 573.4 L413 571.5 L413.5 560.9 L414 550.2 L414.5 555.5 L415 559 L415.5 564.3 L415.8 567 L416.5 568.9 L417.5 571.5 L418.5 584.9 L419.5 598.9 L420 606.5 L420.5 601.9 L421.5 593.3 L422.5 584 L423.5 579.2 L424.5 574 L425 571.5 L425.5 570.9 L426.5 570 L427.5 569 L428.5 575 L428.8 576.5 L429.5 588.7 L430 596.5 L430.5 592.8 L431.5 585.9 L432 584 L432.5 579.4 L433.5 571 L433.8 569 L434.5 568.5 L435 568.3 L435.5 568 L436.5 567.5 L437.5 567 L438.5 561.8 L438.8 560.2 L439.5 559.8 L440 559.7 L440.5 559.7 L441.2 559 L441.5 559.7 L442.5 561.6 L443.5 563.4 L443.8 564 L444.5 564 L445 564 L445.5 564 L446.2 564 L446.5 563.8 L447.5 562.1 L448.5 560.5 L448.8 560.2 L449.5 559.3 L450 558.6 L450.5 557.6 L451.2 556.5 L451.5 555.1 L452.5 550.3 L453 547.8 L453.5 550.8 L453.8 550.8 L454.5 554.7 L455 556.5 L455.5 558.4 L456.5 559.5 L457.5 561.5 L458.5 563.6 L459.5 565.5 L460 566.5 L460.5 566 L461.5 565.1 L462.5 564 L463.5 565.2 L464.5 566.4 L465 567 L465.5 567.7 L466.5 569.1 L467.5 570.4 L468.5 571.9 L469.5 573 L470 574 L470.5 574.6 L471.5 575.5 L472.5 576.5 L473.5 575.8 L474.5 575 L475 575.2 L475.5 575.8 L476.5 577.5 L477.5 579 L478.5 585.2 L478.8 586.3 L479.5 589.7 L480 594 L480.5 593.5 L481.5 590.7 L482.5 589 L483.5 584.5 L484.5 580.7 L485 579 L485.5 581.7 L486.5 588.2 L487.5 594 L488.5 600.4 L489.5 605.7 L490 609 L490.5 614.7 L491.2 629 L491.5 624.9 L492.5 609 L493.5 579.8 L493.8 574 L494.5 582.9 L495 589 L495.5 592 L496.5 594.9 L497.5 604 L498.5 592.8 L499.5 583.8 L500 579 L500.5 575.1 L501.2 569 L501.5 573.5 L502.5 591.5 L503.5 599 L503.8 602.5 L504.5 605.6 L505 614 L505.5 610 L506.2 611.6 L506.5 611.5 L507.5 609 L508.5 605.7 L509.5 603.9 L510 604 L510.5 605.2 L511.5 607.1 L512.5 609 L513.5 607.9 L513.8 609.9 L514.5 610.7 L515 611.5 L515.5 608.5 L516.5 609.3 L517.5 609 L518.5 610.2 L519.5 608.7 L520 611.5 L520.5 612.8 L521.2 612 L521.5 613.4 L522.5 614 L523.5 613.2 L524.5 612.2 L525 614 L525.5 605 L526.2 594 L526.5 593.3 L527.5 589 L528.5 590.8 L528.8 591.7 L529.5 593 L530 594 L530.5 594.7 L531.2 597.2 L531.5 597.7 L532.5 601.5 L533.5 602.1 L533.8 602 L534.5 602.6 L535 604 L535.5 603.3 L536.2 602 L536.5 598.1 L537.5 599 L538.5 597.8 L539.5 597.4 L540 596.5 L540.5 594.1 L541.5 595.4 L542.5 594 L543.5 592.4 L543.8 591.2 L544.5 589.4 L545 589 L545.5 587.4 L546.2 585.5 L546.5 586 L547.5 584 L548.5 582.2 L548.8 581.3 L549.5 580 L550 579 L550.5 580.4 L551.2 582.1 L551.5 583.8 L552.5 586.5 L553.5 587 L553.8 588.5 L554.5 590.3 L555 591.5 L555.5 592.7 L556.2 597.6 L556.5 599.3 L557.5 604 L558.5 598.5 L558.8 591.8 L559.5 591.6 L560 589 L560.5 585 L561.2 585.6 L561.5 584.7 L562.5 581.5 L563.5 579.4 L563.8 579 L564.5 567 L564.5 567Z" fill="#c00000"/>
<path d="M47.5 567 L47.5 567 L47.8 606.5 L48.5 606.7 L49.5 607.9 L50.5 607.9 L51 607.8 L51.5 607.7 L52.5 608.1 L53.5 605.5 L54.5 606.5 L55.5 606.6 L56 607.8 L56.5 603.8 L57.5 606.3 L58.5 598.2 L59.5 604.7 L60.5 604.8 L61 606.5 L61.5 607 L62.5 606.4 L63.5 605.6 L64.5 604.2 L65.5 604 L66 604.5 L66.5 604.9 L67.2 606.5 L67.5 605.5 L68.5 606.4 L69.5 604.1 L70.5 603.8 L71 604 L71.5 601.7 L72.5 603.6 L73.5 602.8 L74.5 604.1 L74.8 605.2 L75.5 604.1 L76 605.9 L76.5 607.5 L77.5 608.5 L78.5 609 L79.5 608.3 L79.8 610.5 L80.5 608.9 L81 611.5 L81.5 607 L82.2 599 L82.5 597.7 L83.5 594.9 L84.5 594.5 L84.8 594 L85.5 593.6 L86 592 L86.5 592.3 L87.2 591.5 L87.5 590.8 L88.5 590.5 L89.5 587.2 L90.5 588.5 L91 589 L91.5 587 L92.2 585.7 L92.5 585.2 L93.5 582.8 L94.5 579.6 L94.8 579.8 L95.5 575.7 L96 576.5 L96.5 576.1 L97.2 575.6 L97.5 575.3 L98.5 574.7 L99.5 573.8 L99.8 573.7 L100.5 573 L101 572.8 L101.5 572.6 L102.5 572.5 L103.5 572 L104.5 571.9 L104.8 571.7 L105.5 571.7 L106 571.5 L106.5 571.5 L107.2 571.5 L107.5 571.4 L108.5 571.5 L109.5 571.5 L109.8 571.5 L110.5 571.3 L111 571.5 L111.5 571.3 L112.2 571.5 L112.5 571.3 L113.5 571.5 L114.5 571.4 L114.8 571.4 L115.5 571.6 L116 571.5 L116.5 571.5 L117.2 571.2 L117.5 571.5 L118.5 571.4 L119.5 571.3 L119.8 571.4 L120.5 571.5 L121 571.5 L121.5 571.5 L122.2 572 L122.5 572.3 L123.5 572.8 L124.5 572.8 L124.8 572.8 L125.5 572.5 L126.5 572.6 L127.2 572.8 L127.5 572.7 L128.5 572.8 L129.5 572.8 L129.8 572.8 L130.5 572.6 L131.5 572.6 L132.2 572.6 L132.5 572.8 L133.5 572.8 L134.5 569.8 L134.8 569 L135.5 567.8 L136 567 L136.5 563.9 L137.2 559 L137.5 557.7 L138.5 552.8 L139.5 554 L139.8 554.7 L140.5 556.5 L141 556.5 L141.5 556.5 L142.2 557.8 L142.5 556.4 L143.5 556.5 L144.5 556.8 L145.5 555.4 L146 555.2 L146.5 556.2 L147.5 555.8 L148.5 555.7 L149.5 556 L149.8 556.8 L150.5 556.5 L151 556.5 L151.5 557.4 L152.2 557.6 L152.5 558 L153.5 559 L154.5 560.2 L155.5 558.1 L156 557.8 L156.5 554.3 L157.2 549 L157.5 548.8 L158.5 549.2 L159.5 548.8 L159.8 547.8 L160.5 549.1 L161 549.3 L161.5 550.8 L162.2 551.5 L162.5 552 L163 553 L163.5 552.9 L164 553.8 L164.5 554.2 L164.8 554 L165.5 553.8 L166 556.1 L166.5 554 L167.2 554.2 L167.5 554.9 L168.5 554 L169.5 555.2 L169.8 555.2 L170.5 556.9 L171 556.5 L171.5 557 L172.5 557.9 L173.5 559 L174.5 560.1 L174.8 560.7 L175.5 561.1 L176 561.5 L176.5 561.6 L177.5 562.2 L178.5 562.4 L179.5 563.1 L179.8 562.8 L180.5 563 L181 563.3 L181.5 563.3 L182.5 563.7 L183.5 564 L184.5 564.5 L185.5 565.1 L186 565.2 L186.5 565.4 L187.5 565.7 L188.5 565.9 L189.5 566.1 L190.5 566.4 L191 566.5 L191.5 566.6 L192.2 566.8 L192.5 566.8 L193.5 567 L194 567.4 L194.5 567.8 L195.5 568.6 L196 569 L196.5 569.2 L197.5 569.3 L198.5 569.4 L199.5 569.8 L200.5 570.2 L201 570.2 L201.5 570.2 L202.5 570.3 L203.5 570 L204.5 570.3 L205.5 570.1 L206 570.2 L206.5 570.1 L207.5 569.9 L208.5 569.6 L209.5 569.4 L210.5 569.2 L211 569 L211.5 568.8 L212.5 568.4 L213.5 568.1 L214.5 567.8 L214.8 567.8 L215.5 565.5 L216 564 L216.5 565.6 L217.2 567.8 L217.5 568.1 L218.5 569.4 L219.5 570.4 L220.5 572 L221 572.8 L221.5 573.1 L222.5 573.7 L223.5 574.6 L224.5 575.1 L225.5 576.1 L226 576.5 L226.5 576.5 L227.5 576.3 L228.5 577.1 L229.5 577.6 L230.5 577.3 L231 577.8 L231.5 577.6 L232.5 576.7 L233.5 577.3 L234.5 577.1 L235.5 578.9 L236 579 L236.5 579.1 L237.5 578.7 L238.5 579.4 L239.5 580 L240.5 580.2 L241 580.2 L241.5 580.2 L242.5 579.9 L243.5 579.3 L244.5 579.3 L245.5 577.2 L246 579 L246.5 577.8 L247.5 578.8 L248.5 579.7 L249.5 579.7 L250.5 579.5 L251 580.2 L251.5 580.1 L252.5 578.5 L253.5 579.5 L254.5 579.9 L255.5 580.2 L256 580.2 L256.5 579.6 L257.5 580.1 L258.5 580.5 L259.5 580.8 L260.5 580.9 L261 581.5 L261.5 581.7 L262.5 580.9 L263.5 578.6 L264.5 581.5 L265.5 581.7 L266 581.5 L266.5 581 L267.5 581 L268.5 580.2 L269.5 577.9 L270.5 580.1 L271 580.2 L271.5 580.8 L272.5 580.7 L273.5 579.9 L274.5 582 L274.8 582.8 L275.5 584.6 L276 586.2 L276.5 587.2 L277.2 589 L277.5 587.8 L278.5 589.3 L279.5 590.4 L279.8 590.1 L280.5 590.5 L281.5 589.2 L282.2 591.5 L282.5 591.9 L283.5 590.9 L284.5 592.5 L285.5 592.5 L286 592.8 L286.5 592.2 L287.5 592.9 L288.5 594 L289.5 593.2 L289.8 593.1 L290.5 590.9 L291 590.5 L291.5 589.1 L292.2 588.8 L292.5 588.8 L293.5 589 L294.5 588.1 L295.5 589 L296 589.4 L296.5 589.3 L297.2 589 L297.5 588.6 L298.5 589.5 L299.5 591.2 L299.8 591.5 L300.5 590.5 L301 589.9 L301.5 587.8 L302.2 588.7 L302.5 587.4 L303.5 587.7 L304.5 586.5 L304.8 586.5 L305.5 586.5 L306 586.2 L306.5 586.2 L307.5 585.6 L308.5 585.2 L309.5 585.5 L309.8 585.3 L310.5 585.3 L311 584.4 L311.5 584.6 L312.5 584.5 L313.5 585.2 L314.5 584 L314.8 583.3 L315.5 583.4 L316 583.5 L316.5 582.8 L317.5 581.6 L318.5 581.5 L319.5 580.9 L320.5 579.7 L321 579.8 L321.5 579.4 L322.5 578.3 L323.5 577.8 L324.5 576.8 L325.5 576.7 L326 576.5 L326.5 576.2 L327.2 576 L327.5 575.5 L328.5 575.2 L329.5 574 L329.8 574 L330.5 573.7 L331 573.4 L331.5 572.9 L332.2 572.4 L332.5 572 L333.5 571.5 L334.5 570.4 L334.8 570.1 L335.5 569.5 L336 569 L336.5 569.6 L337.5 570.9 L338.5 571.7 L339.5 573.4 L340 574 L340.5 573.4 L341.5 572.5 L342.5 571.4 L343.5 570.6 L343.8 570.1 L344.5 569.5 L345 569 L345.5 567.5 L346.2 565.2 L346.5 565.1 L347.5 564.1 L348.5 563 L349.5 562 L350 561.5 L350.5 561.2 L351.5 561.7 L352.5 559.2 L353.5 557.9 L353.8 557.8 L354.5 556.9 L355 556.7 L355.5 555.9 L356.2 554.5 L356.5 554.8 L357 555 L357.5 555.9 L358.5 555.6 L358.8 556.2 L359.5 556.4 L360 556.5 L360.5 557.5 L361.2 558.2 L361.5 557.8 L362.5 559 L363.5 561.5 L363.8 562.6 L364.5 564 L365.5 563.7 L366.5 562.5 L367.5 561.5 L368.5 561.7 L369.5 562.2 L370.5 562.3 L371.2 562.5 L371.5 562.6 L372.5 562.8 L373.5 563.1 L374.5 562.8 L375 563 L375.5 562.8 L376.5 562.7 L377.5 562.8 L378.5 563.9 L379.5 564.8 L380 565.2 L380.5 565.9 L381.2 566.5 L381.5 566.8 L382.5 567.8 L383.5 567.4 L383.8 567.3 L384.5 567.1 L385.5 566.8 L386.2 566.5 L386.5 566.4 L387.5 566.1 L388.5 566 L388.8 565.7 L389.5 565.5 L390 565.2 L390.5 565.4 L391.2 565.4 L391.5 565.5 L392.5 565.9 L393.5 565.8 L393.8 565.8 L394.5 566 L395 566 L395.5 566.2 L396.2 566.4 L396.5 566.5 L397.5 566.9 L398.5 567.2 L399.5 567.6 L400 567.8 L400.5 567.8 L401.5 567.8 L402.5 567.8 L403.5 567.8 L404.5 567.8 L405 567.8 L405.5 568 L406.5 568.5 L407.5 569 L408.5 569.3 L409.2 569.9 L409.5 569.7 L410 570.2 L410.5 570 L411.2 569.6 L411.5 569.5 L412.5 568.9 L413 568.7 L413.5 568.5 L414 568.2 L414.5 568 L415 567.8 L415.5 567.9 L415.8 567.9 L416.5 568.1 L417.5 568.3 L418.5 568.6 L419.5 568.8 L420 569 L420.5 569 L421.5 569 L422.5 568.9 L423.5 569 L424.5 569 L425 569 L425.5 568.5 L426.5 567.5 L427.5 566.5 L428.5 567.5 L428.8 567.8 L429.5 568.5 L430 569 L430.5 569.2 L431.5 569.6 L432 570 L432.5 570.2 L433.5 570.6 L433.8 570.9 L434.5 571.1 L435 571.5 L435.5 571.5 L436.5 571.6 L437.5 572.8 L438.5 573 L438.8 573.1 L439.5 573.8 L440 574 L440.5 573.9 L441.2 573.8 L441.5 574.5 L442.5 575.1 L443.5 575.9 L443.8 575.9 L444.5 576.3 L445 576.5 L445.5 576.9 L446.2 577.9 L446.5 577.5 L447.5 579.1 L448.5 580.2 L448.8 580.5 L449.5 580.7 L450 581.5 L450.5 581.9 L451.2 582.2 L451.5 582.7 L452.5 583.2 L453 582.8 L453.5 583 L453.8 584 L454.5 587.8 L455 591.5 L455.5 587.8 L456.5 587 L457.5 584 L458.5 582.6 L459.5 581.9 L460 581 L460.5 580.9 L461.5 579.1 L462.5 579 L463.5 578.9 L464.5 577.5 L465 578.2 L465.5 576.9 L466.5 578.2 L467.5 577.8 L468.5 577.6 L469.5 576.8 L470 576.9 L470.5 577.2 L471.5 576.7 L472.5 576.5 L473.5 575.8 L474.5 575 L475 575.1 L475.5 574.9 L476.5 574.5 L477.5 574 L478.5 574.1 L478.8 573.9 L479.5 573.6 L480 574.1 L480.5 574.1 L481.5 573.9 L482.5 574 L483.5 573.5 L484.5 573.4 L485 573.3 L485.5 573.1 L486.5 573.1 L487.5 572.8 L488.5 572.6 L489.5 572.2 L490 572.1 L490.5 571.8 L491.2 571.6 L491.5 571.7 L492.5 571.5 L493.5 570.9 L493.8 571.1 L494.5 571 L495 570.6 L495.5 570.8 L496.5 570.2 L497.5 570.2 L498.5 569.1 L499.5 568.2 L500 567.8 L500.5 568.5 L501.2 569.6 L501.5 570 L502.5 571.5 L503.5 571.5 L503.8 571.8 L504.5 571.5 L505 571.9 L505.5 571.9 L506.2 572.5 L506.5 572.6 L507.5 572.8 L508.5 572.8 L509.5 573.1 L510 573.2 L510.5 573.5 L511.5 573.8 L512.5 574 L513.5 573.9 L513.8 574.3 L514.5 574.4 L515 574.7 L515.5 574.3 L516.5 574.9 L517.5 575.2 L518.5 575.3 L519.5 574.8 L520 574.5 L520.5 575.4 L521.2 575.1 L521.5 575.3 L522.5 575.2 L523.5 575.4 L524.5 575.4 L525 575.9 L525.5 575.8 L526.2 575.5 L526.5 576.4 L527.5 576.5 L528.5 577.4 L528.8 577.8 L529.5 578.5 L530 579.1 L530.5 579.1 L531.2 580 L531.5 580.2 L532.5 581.5 L533.5 580.8 L533.8 580.6 L534.5 580.2 L535 580 L535.5 580.1 L536.2 579.8 L536.5 578.4 L537.5 579 L538.5 578.7 L539.5 578.7 L540 577.8 L540.5 577.5 L541.5 578.1 L542.5 577.8 L543.5 577.7 L543.8 577.3 L544.5 577 L545 577.2 L545.5 576.7 L546.2 576.3 L546.5 576.7 L547.5 576.5 L548.5 577.4 L548.8 577.3 L549.5 578 L550 578.5 L550.5 578.7 L551.2 578.8 L551.5 579.7 L552.5 580.2 L553.5 579.1 L553.8 579.7 L554.5 579.6 L555 579.2 L555.5 578.9 L556.2 579.3 L556.5 579.4 L557.5 579 L558.5 578.9 L558.8 576.8 L559.5 578.3 L560 578.2 L560.5 576.9 L561.2 578.3 L561.5 578.1 L562.5 577.8 L563.5 572.3 L563.8 571.1 L564.5 567 L564.5 567Z" fill="#009a00"/>
<rect x="39.7" y="488.7" width="535.5" height="289.7" fill="none" stroke="#1a1a1a" stroke-width="1.8"/>
<text class="t" x="30.9" y="492.6" font-size="12.5" text-anchor="end" textLength="16.8" lengthAdjust="spacingAndGlyphs">20</text>
<text class="t" x="30.9" y="530.9" font-size="12.5" text-anchor="end" textLength="16.8" lengthAdjust="spacingAndGlyphs">10</text>
<text class="t" x="30.9" y="568.4" font-size="12.5" text-anchor="end" textLength="8.4" lengthAdjust="spacingAndGlyphs">0</text>
<text class="t" x="30.9" y="601.6" font-size="12.5" text-anchor="end" textLength="22.8" lengthAdjust="spacingAndGlyphs">-10</text>
<text class="t" x="30.9" y="638.6" font-size="12.5" text-anchor="end" textLength="22.8" lengthAdjust="spacingAndGlyphs">-20</text>
<text class="t" x="30.9" y="675.9" font-size="12.5" text-anchor="end" textLength="22.8" lengthAdjust="spacingAndGlyphs">-30</text>
<text class="t" x="30.9" y="712.4" font-size="12.5" text-anchor="end" textLength="22.8" lengthAdjust="spacingAndGlyphs">-40</text>
<text class="t" x="30.9" y="750.4" font-size="12.5" text-anchor="end" textLength="22.8" lengthAdjust="spacingAndGlyphs">-50</text>
<text class="t" x="30.9" y="782.3" font-size="12.5" text-anchor="end" textLength="22.8" lengthAdjust="spacingAndGlyphs">-60</text>
<path d="M39.7 527h6.5M575.2 527h-6M39.7 564.5h6.5M575.2 564.5h-6M39.7 597.8h6.5M575.2 597.8h-6M39.7 634.8h6.5M575.2 634.8h-6M39.7 672h6.5M575.2 672h-6M39.7 708.5h6.5M575.2 708.5h-6M39.7 746.5h6.5M575.2 746.5h-6M183 488.7v4.5M183 778.4v-4.5M313.5 488.7v4.5M313.5 778.4v-4.5M457.5 488.7v4.5M457.5 778.4v-4.5" stroke="#1a1a1a" stroke-width="1.6" fill="none"/>
<text class="t" x="39.8" y="795" font-size="11.8" text-anchor="middle" textLength="46" lengthAdjust="spacingAndGlyphs">2020.7</text>
<text class="t" x="179.5" y="795" font-size="11.8" text-anchor="middle" textLength="46" lengthAdjust="spacingAndGlyphs">2021.1</text>
<text class="t" x="314.5" y="795" font-size="11.8" text-anchor="middle" textLength="46" lengthAdjust="spacingAndGlyphs">2021.7</text>
<text class="t" x="454.2" y="795" font-size="11.8" text-anchor="middle" textLength="46" lengthAdjust="spacingAndGlyphs">2022.1</text>
<text class="t" x="239" y="474.5" font-size="16" textLength="156" lengthAdjust="spacingAndGlyphs">EUROSTOXX50</text>
<rect x="182" y="809.5" width="278.5" height="23" fill="#fff" stroke="#222" stroke-width="1.2"/>
<rect x="213.8" y="819" width="7.5" height="5" fill="#000000"/>
<text class="l" x="225.2" y="825.2" font-size="12" textLength="33" lengthAdjust="spacingAndGlyphs">Total</text>
<rect x="290" y="819" width="7.5" height="5" fill="#c00000"/>
<text class="l" x="301.3" y="825.2" font-size="12" textLength="57.5" lengthAdjust="spacingAndGlyphs">1-5 days</text>
<rect x="391.3" y="819" width="7.5" height="5" fill="#00a000"/>
<text class="l" x="402.3" y="825.2" font-size="12" textLength="30" lengthAdjust="spacingAndGlyphs">5-inf</text>
<path d="M673.2 601 L673.2 601 L673.5 559 L674.2 558 L675.2 557.8 L676.2 564 L676.5 563 L677.2 567.4 L677.8 569 L678.2 568.6 L679 570.4 L679.2 570 L680.2 569 L681.2 568.8 L681.5 567.8 L682.2 568.1 L682.8 566.5 L683.2 566.4 L684 567.3 L684.2 571.5 L685.2 569 L686.2 563.7 L686.5 562.6 L687.2 562.4 L687.8 556.5 L688.2 555.9 L689 557.1 L689.2 559 L690.2 556.5 L691.2 566.1 L691.5 569 L692.2 574 L693.2 574.6 L694 576.5 L694.2 576.3 L695.2 577.4 L696.2 578.9 L696.5 579 L697 601 L697.2 603.6 L697.8 609 L698.2 610.8 L699.2 613.6 L700.2 619 L701.2 618.9 L702.2 619.6 L702.8 620.2 L703.2 619.9 L704.2 618.2 L705.2 616.5 L706.2 618.2 L707.2 621.4 L707.8 624 L708.2 627 L709 633.3 L709.2 635.1 L710.2 641.5 L711.2 627.5 L711.5 624 L712.2 621.1 L712.8 620.1 L713.2 620.9 L714 619 L714.2 619 L715.2 624.3 L716.2 627.1 L716.5 629 L717 631.5 L717.2 631.4 L717.8 634 L718.2 654.3 L719 684 L719.2 679.1 L720.2 664 L721.2 650.6 L721.5 647.9 L722 644 L722.2 641.8 L723.2 638.6 L724 636.5 L724.2 635.7 L725.2 631 L726.2 629.3 L726.5 629 L727.2 625.2 L728.2 622.7 L729 620.2 L729.2 618.9 L730.2 615.5 L731.2 613.4 L731.5 612.8 L732.2 612.8 L733.2 612.7 L734 612.8 L734.2 612.7 L735.2 611.6 L736.2 610.1 L736.5 610.2 L737.2 612.1 L738.2 614.7 L739 616.5 L739.2 615.7 L740.2 612.9 L741.2 609.1 L741.5 610.2 L742.2 610.9 L743.2 611.6 L744 612.8 L744.2 611.9 L745.2 613 L746.2 611.9 L746.5 612.8 L747.2 614.4 L748.2 615.8 L749 617.8 L749.2 617.7 L750.2 619.5 L751.2 624.3 L751.5 625.2 L752.2 627.7 L753.2 630.3 L754 632.8 L754.2 632.5 L755.2 631.6 L756.2 629.5 L756.5 630.2 L757.2 624.5 L757.8 630.5 L758.2 631 L759 632.8 L759.2 630.9 L760.2 625.2 L761.2 612.2 L761.5 611.9 L762 606.5 L762.2 604.6 L762.8 601 L763.2 596.1 L764.2 587.6 L765.2 576.6 L766.2 568.9 L766.5 564 L767.2 566 L768.2 565.2 L769 566.5 L769.2 567.2 L770.2 568.4 L771.2 566.2 L771.5 572.8 L772.2 566.9 L772.8 566.5 L773.2 568.6 L774.2 570 L775.2 571.5 L776.2 596.2 L776.5 601 L777.2 601 L777.8 601 L778.2 601 L779 601 L779.2 596.9 L780.2 579.6 L781.2 565.7 L781.5 559 L782.2 556 L783.2 554 L784 551.5 L784.2 556.2 L785.2 556.5 L786.2 559.3 L786.5 559 L787.2 563.7 L787.8 560.9 L788.2 565.5 L789 564 L789.2 564.8 L790.2 564 L791.2 564.4 L791.5 564 L792.2 564.2 L792.8 562.9 L793.2 561.8 L794 561.5 L794.2 561.4 L795.2 561.5 L796.2 559.1 L796.5 556.5 L797.2 553.8 L798.2 549.2 L799 544 L799.2 544.6 L800.2 546 L801.2 543.3 L801.5 544 L802.2 547.1 L803.2 553.3 L804 554 L804.2 553.7 L805.2 554 L806.2 550.4 L806.5 549 L807.2 560.1 L808.2 551.3 L809 549 L809.2 553.5 L810.2 549.1 L811.2 543.9 L811.5 544 L812.2 543.3 L812.8 540.5 L813.2 545.9 L814 537.8 L814.2 539.1 L815.2 541.6 L816.2 540.2 L816.5 541.5 L817.2 545.4 L818.2 550.1 L819 549 L819.2 548.3 L820.2 549.7 L821.2 546.4 L821.5 546.5 L822.2 545 L823.2 543.2 L824 536.5 L824.2 537 L825.2 542 L826.2 545.7 L826.5 546.5 L827.2 545.6 L828.2 540.2 L829 539 L829.2 539.7 L830.2 548.7 L831.2 550.5 L831.5 551.5 L832.2 554.4 L833.2 551.5 L834 551.5 L834.2 553.5 L835.2 557.3 L836.2 564.7 L836.5 564 L837.2 566.4 L838.2 568.6 L839 569 L839.2 570 L840.2 577.6 L841.2 583.8 L841.5 584 L842.2 585.7 L843.2 586.6 L844 587.8 L844.2 588.2 L845.2 590.7 L846.2 593.7 L846.5 594 L847.2 598.2 L847.8 601 L848.2 605.3 L849 611.5 L849.2 611.4 L850.2 610 L851.2 609.1 L851.5 609 L852.2 607.3 L853.2 605.3 L854 604 L854.2 604.8 L855.2 607.8 L856.2 610 L856.5 611.5 L857.2 610.8 L858.2 613 L859 614 L859.2 613.2 L860.2 619.9 L861.2 624 L861.5 625.2 L862.2 619 L862.8 614.8 L863.2 611.7 L864 606.5 L864.2 605.9 L865.2 605.4 L866.2 604.8 L866.5 604 L867.2 603.8 L868.2 603.3 L869 602.8 L869.2 602.6 L870.2 601.9 L871.2 601.2 L871.5 601 L872.2 600.4 L873.2 599.6 L874 599 L874.2 598.9 L875.2 598.3 L876.2 597.9 L877.2 597.9 L878.2 597.4 L879 596.5 L879.2 596.2 L880.2 595.2 L881.2 594.2 L881.5 594 L882.2 586.5 L882.8 576.5 L883.2 582.9 L884 589 L884.2 589.3 L885.2 590.3 L886.2 591.2 L886.5 591.5 L887.2 593.4 L888.2 593.1 L889 594 L889.2 591.1 L890.2 578.2 L891 569 L891.2 572.1 L892.2 583.5 L892.8 589 L893.2 587.8 L894 586 L894.2 584.9 L895.2 581.5 L896.2 587.5 L897.2 591.9 L897.8 594 L898.2 595.4 L899 597.4 L899.2 598.2 L900.2 601 L901.2 618.4 L901.5 624 L902.2 625.2 L903.2 624.7 L904 626.5 L904.2 625.5 L905.2 626.6 L906.2 630.4 L906.5 631.5 L907.2 631.5 L908.2 633.7 L909 636.5 L909.2 637.1 L910.2 636.7 L911.2 638.4 L911.5 639 L912.2 639.4 L913.2 636.4 L914 639 L914.2 637.2 L915.2 630.4 L916.2 621.7 L916.5 621.5 L917.2 619.3 L918.2 618.1 L919 619 L919.2 619.3 L920.2 621.7 L921.2 623.5 L921.5 624 L922.2 631.6 L923.2 640.6 L924 649 L924.2 645 L925.2 629 L926.2 623.4 L927.2 620.6 L927.8 619 L928.2 621.9 L929 623.8 L929.2 626.8 L930.2 631.5 L931.2 617.4 L931.5 614 L932.2 611.8 L933.2 608.5 L934 606.5 L934.2 606.1 L935.2 605.1 L936.2 604.5 L936.5 604.3 L937.2 603.7 L938.2 602.8 L939 602.1 L939.2 601.9 L940.2 601 L941 559 L941.2 560.6 L942.2 561.3 L943.2 563.4 L944 564 L944.2 564.2 L945.2 565.7 L946.2 566.3 L946.5 564 L947.2 562.5 L948.2 563.9 L949 561.5 L949.2 560.6 L950.2 560.7 L951.2 561.1 L951.5 560.2 L952.2 561.6 L953.2 559.8 L954 559 L954.2 561.1 L955.2 560.1 L956.2 561.2 L956.5 561.5 L957.2 564.2 L958.2 562.7 L959 564 L959.2 569.4 L960 584 L960.2 586.3 L961.2 594 L962.2 599.6 L962.5 601 L963 622.8 L963.2 621 L964.2 616 L965 617.8 L965.2 616.9 L966.2 614.8 L967.2 614 L967.5 615.2 L968.2 614.2 L969.2 614.6 L970 614 L970.2 614.1 L971.2 614.7 L972.2 615.2 L972.5 615.2 L973.2 615.5 L974.2 620.2 L975 601 L975.2 600.8 L976.2 600 L977.2 599.2 L977.5 599 L978.2 594.8 L979.2 586 L979.5 584 L980.2 580.6 L981.2 576.5 L982.2 575.4 L982.5 573.7 L983.2 572.3 L983.8 571.5 L984.2 571.5 L985.2 572.1 L986.2 571.5 L987.2 585 L987.5 587.5 L988 594 L988.2 595.2 L988.8 597.5 L989.2 599.8 L989.5 601 L990 591.5 L990.2 586.1 L990.5 581.5 L991.2 577.7 L992.2 572.1 L992.5 569 L993.2 567.3 L994.2 567.3 L995 564 L995.2 566.7 L996.2 561.2 L997.2 561.1 L997.5 559 L998.2 554.7 L999.2 550.8 L1000 544 L1000.2 544.6 L1001.2 544.3 L1002.2 546.5 L1002.5 544 L1003.2 544.9 L1004.2 548.5 L1005 549 L1005.2 550 L1006.2 551.7 L1007.2 552.3 L1007.5 552.8 L1008.2 555.5 L1009.2 556.2 L1010 556.5 L1010.2 557.4 L1011.2 560.6 L1012.2 563.5 L1012.5 564 L1013.2 565.6 L1014.2 565.7 L1015 566.5 L1015.2 568.4 L1016.2 567.6 L1017.2 568.8 L1017.5 569 L1018.2 569.3 L1019.2 570.8 L1020 571.5 L1020.2 582.6 L1020.8 601 L1021.2 607.9 L1022 619 L1022.2 619.6 L1022.5 619.5 L1023.2 621 L1023.8 621.8 L1024.2 622.1 L1025 624 L1025.2 626.5 L1026.2 639 L1027.2 645.3 L1027.5 645.5 L1028 649 L1028.2 646.4 L1029.2 633.8 L1030 626.5 L1030.2 625.6 L1031.2 621.8 L1032.2 617.3 L1032.5 616.5 L1033.2 620.4 L1033.8 624.6 L1034.2 628 L1035 632.8 L1035.2 631.2 L1036.2 627.1 L1037.2 622.9 L1037.5 621.5 L1038.2 622.1 L1038.8 624.2 L1039.2 624.2 L1040 626.5 L1040.2 625.3 L1041.2 618.9 L1042.2 613.2 L1042.5 611.5 L1043.2 615.3 L1044.2 622.4 L1045 626.5 L1045.2 627.1 L1046.2 627.8 L1047.2 630.2 L1047.5 631.5 L1048.2 632.1 L1049.2 634.7 L1050 635.2 L1050.2 635.1 L1051.2 635.5 L1052.2 631.2 L1052.5 639 L1053.2 637.1 L1054.2 638.1 L1055 637.8 L1055.2 637.7 L1056.2 629.1 L1057.2 632.7 L1057.5 635.2 L1058.2 632.2 L1059.2 628.3 L1060 626.5 L1060.2 621.4 L1061.2 604 L1062.2 591.9 L1062.5 589 L1063.2 591.2 L1063.8 591.5 L1064.2 595.4 L1065 601 L1065.2 601.9 L1066.2 606.2 L1067.2 610.3 L1067.5 611.5 L1068.2 619 L1068.8 624 L1069.2 632.9 L1070 650.2 L1070.2 648.2 L1071.2 646.5 L1072.2 638.5 L1072.5 639 L1073.2 653.7 L1073.8 669 L1074.2 651.3 L1075 639 L1075.2 633.6 L1076.2 629.7 L1077.2 625.1 L1077.5 624 L1078.2 618.9 L1078.8 615.2 L1079.2 610.8 L1080 604 L1080.2 603.7 L1081.2 602.8 L1082.2 613.7 L1082.5 616.5 L1083.2 632.9 L1083.8 644 L1084.2 644.9 L1085.2 642.8 L1086.2 645.2 L1087.2 646.9 L1087.5 634.1 L1088.2 646.9 L1088.8 649 L1089.2 649.7 L1090.2 650.3 L1091.2 651.5 L1092.2 652.6 L1092.5 651.8 L1093.2 653.7 L1093.8 654 L1094.2 655 L1095.2 655.1 L1096.2 655.2 L1097.2 651.2 L1097.5 651.9 L1098.2 649.4 L1098.8 649 L1099.2 644.9 L1100 640.2 L1100.2 636.8 L1101.2 639.4 L1102.2 637.9 L1102.5 640.2 L1103.2 642.1 L1104.2 640.5 L1105 644 L1105.2 637.1 L1106.2 646.1 L1107.2 645.9 L1107.5 646.5 L1108.2 646 L1109.2 647.9 L1110 650.2 L1110.2 650.8 L1111.2 666.5 L1112.2 685.5 L1112.5 691.5 L1113.2 684.4 L1114.2 686 L1115 684 L1115.2 682 L1116.2 679.5 L1117.2 684 L1117.5 686.5 L1118.2 686.6 L1119.2 689.3 L1120 689 L1120.2 689.3 L1121.2 686.1 L1122.2 691.5 L1122.5 694 L1123.2 687.6 L1124.2 692.5 L1125 696.5 L1125.2 692.4 L1126.2 701.5 L1127.2 719.7 L1127.5 724 L1128.2 717.8 L1128.8 725.3 L1129.2 725.5 L1130 744 L1130.2 745.1 L1131.2 739.2 L1132.2 727.7 L1132.5 729 L1133.2 726.1 L1134.2 731.3 L1135 734 L1135.2 735.1 L1136.2 731 L1137.2 725.2 L1137.5 731.5 L1138.2 735.6 L1139.2 736.6 L1140 736.5 L1140.2 739 L1141.2 733.8 L1142.2 730.4 L1142.5 739 L1143.2 723.5 L1144.2 735.4 L1145 734 L1145.2 731.9 L1146.2 734.8 L1147.2 735.7 L1147.5 734 L1148.2 725.1 L1149.2 733.8 L1150 731.5 L1150.2 732.1 L1151.2 726.7 L1152.2 728.3 L1152.5 729 L1153.2 712.4 L1153.8 709 L1154.2 713.3 L1155 731.5 L1155.2 726.3 L1156.2 730.8 L1157.2 739.3 L1157.5 744 L1158.2 736.4 L1159.2 749.2 L1160 749 L1160.2 731.3 L1161.2 750.9 L1162.2 751.2 L1162.5 751.5 L1163.2 746.7 L1164.2 758.2 L1165 759 L1165.2 756.7 L1166.2 743.7 L1167.2 753.5 L1167.5 754 L1168.2 751.4 L1169.2 752.9 L1170 749 L1170.2 750.2 L1171.2 743.8 L1172.2 741.7 L1172.5 744 L1173.2 741.8 L1174.2 740.4 L1175 739 L1175.2 739.4 L1176.2 720.1 L1177.2 728.1 L1177.5 731.5 L1178.2 705.7 L1179.2 682.1 L1180 659 L1180.2 659.1 L1181.2 658.9 L1182.2 662.7 L1182.5 664 L1183.2 674.9 L1184.2 688.4 L1184.5 691.5 L1185 657.2 L1185.2 641.3 L1185.5 624 L1185.8 601 L1185.8 601Z" fill="#000000"/>
<path d="M673.2 601 L673.2 601 L673.5 572.8 L674.2 574.7 L675.2 579.4 L676.2 581.7 L676.5 581.5 L677.2 580.4 L677.8 578.7 L678.2 577.7 L679 576.5 L679.2 577.8 L680.2 579.8 L681.2 581.5 L681.5 581.5 L682.2 580.7 L682.8 578.6 L683.2 577.6 L684 576.5 L684.2 579.3 L685.2 579.7 L686.2 578.6 L686.5 579 L687.2 578 L687.8 574 L688.2 571.6 L689 569 L689.2 572.4 L690.2 577.7 L691.2 584.5 L691.5 586.5 L692.2 587.5 L693.2 585.8 L694 585.2 L694.2 585.3 L695.2 586.9 L696.2 588.7 L696.5 589 L697 601 L697.2 603.6 L697.8 609 L698.2 610.8 L699.2 613.6 L700.2 619 L701.2 618.9 L702.2 619.6 L702.8 620.2 L703.2 619.9 L704.2 618.2 L705.2 616.5 L706.2 618.2 L707.2 621.4 L707.8 624 L708.2 627 L709 633.3 L709.2 635.1 L710.2 641.5 L711.2 627.5 L711.5 624 L712.2 621.1 L712.8 620.1 L713.2 620.9 L714 619 L714.2 619 L715.2 624.3 L716.2 627.1 L716.5 629 L717 631.5 L717.2 631.4 L717.8 634 L718.2 650.3 L719 674 L719.2 670.2 L720.2 659 L721.2 645.8 L721.5 643.1 L722 639 L722.2 637.2 L723.2 635.2 L724 634 L724.2 633.2 L725.2 628.7 L726.2 626.9 L726.5 626.5 L727.2 623.2 L728.2 621.1 L729 619 L729.2 617.6 L730.2 614.3 L731.2 612.1 L731.5 611.5 L732.2 611.5 L733.2 611.5 L734 611.5 L734.2 611.4 L735.2 610.3 L736.2 608.9 L736.5 609 L737.2 610.8 L738.2 613.4 L739 615.2 L739.2 614.5 L740.2 611.7 L741.2 608 L741.5 609 L742.2 609.6 L743.2 610.4 L744 611.5 L744.2 610.7 L745.2 611.7 L746.2 610.7 L746.5 611.5 L747.2 613.2 L748.2 614.6 L749 616.5 L749.2 616.5 L750.2 618.3 L751.2 623.1 L751.5 624 L752.2 626.4 L753.2 629.1 L754 631.5 L754.2 631.2 L755.2 630.4 L756.2 628.3 L756.5 629 L757.2 620.6 L757.8 624 L758.2 626.2 L759 631.5 L759.2 629.7 L760.2 624 L761.2 611.7 L761.5 611.5 L762 606.5 L762.2 604.6 L762.8 601 L763.2 596.4 L764.2 588.5 L765.2 578.3 L766.2 571.1 L766.5 566.5 L767.2 568.4 L768.2 567.7 L769 569 L769.2 571.1 L770.2 577.9 L771.2 582.3 L771.5 584 L772.2 578.3 L772.8 574 L773.2 577.3 L774.2 581.8 L775.2 586.5 L776.2 598.6 L776.5 601 L777.2 608.8 L777.8 614 L778.2 608.5 L779 601 L779.2 598.1 L780.2 586 L781.2 576.2 L781.5 571.5 L782.2 566.4 L783.2 561.2 L784 556.5 L784.2 560.3 L785.2 558.9 L786.2 559.7 L786.5 559 L787.2 565.1 L787.8 563.4 L788.2 568.7 L789 569 L789.2 569.7 L790.2 569 L791.2 569.4 L791.5 569 L792.2 569 L792.8 567.8 L793.2 566.8 L794 566.5 L794.2 566.6 L795.2 567.4 L796.2 566 L796.5 564 L797.2 560.4 L798.2 554.8 L799 549 L799.2 549.8 L800.2 552 L801.2 550.6 L801.5 551.5 L802.2 559.8 L803.2 572.1 L804 579 L804.2 578.4 L805.2 576.5 L806.2 572.7 L806.5 571.5 L807.2 574.3 L808.2 562.8 L809 556.5 L809.2 560.3 L810.2 556.2 L811.2 551.5 L811.5 551.5 L812.2 551.7 L812.8 549.9 L813.2 555 L814 549 L814.2 550.1 L815.2 551.9 L816.2 550.5 L816.5 551.5 L817.2 554.3 L818.2 557.8 L819 556.5 L819.2 555.6 L820.2 555.7 L821.2 551.7 L821.5 551.5 L822.2 554.2 L823.2 557.7 L824 556.5 L824.2 555.7 L825.2 554.4 L826.2 552.1 L826.5 551.5 L827.2 552 L828.2 548.8 L829 549 L829.2 549.5 L830.2 556.9 L831.2 558.2 L831.5 559 L832.2 560.8 L833.2 557.2 L834 556.5 L834.2 558.1 L835.2 561.1 L836.2 567.3 L836.5 566.5 L837.2 569.5 L838.2 572.7 L839 574 L839.2 574.6 L840.2 580 L841.2 584.3 L841.5 584 L842.2 586.1 L843.2 587.5 L844 589 L844.2 589.4 L845.2 591.3 L846.2 593.8 L846.5 594 L847.2 598.2 L847.8 601 L848.2 604.2 L849 609 L849.2 608.8 L850.2 607.6 L851.2 606.6 L851.5 606.5 L852.2 605.6 L853.2 604.6 L854 604 L854.2 604.5 L855.2 606.5 L856.2 608 L856.5 609 L857.2 608.7 L858.2 610.5 L859 611.5 L859.2 611.2 L860.2 618 L861.2 622.6 L861.5 624 L862.2 620.4 L862.8 619 L863.2 613.5 L864 606.5 L864.2 605.9 L865.2 605.1 L866.2 604.2 L866.5 604 L867.2 603.4 L868.2 603.1 L869 602.8 L869.2 602.6 L870.2 601.9 L871.2 601.2 L871.5 601 L872.2 600.4 L873.2 599.6 L874 599 L874.2 598.9 L875.2 598.3 L876.2 597.9 L877.2 597.9 L878.2 597.4 L879 596.5 L879.2 596.2 L880.2 595.2 L881.2 594.2 L881.5 594 L882.2 586.5 L882.8 576.5 L883.2 582.9 L884 589 L884.2 589.3 L885.2 590.3 L886.2 591.2 L886.5 591.5 L887.2 593.4 L888.2 593.1 L889 594 L889.2 591.1 L890.2 578.2 L891 569 L891.2 572.1 L892.2 583.5 L892.8 589 L893.2 587.8 L894 586 L894.2 584.9 L895.2 581.5 L896.2 587.5 L897.2 591.9 L897.8 594 L898.2 595.4 L899 597.4 L899.2 598.2 L900.2 601 L901.2 614.6 L901.5 619 L902.2 620.8 L903.2 621.6 L904 624 L904.2 623.2 L905.2 624.3 L906.2 627.9 L906.5 629 L907.2 629.1 L908.2 631.3 L909 634 L909.2 634.6 L910.2 634.2 L911.2 635.9 L911.5 636.5 L912.2 636.1 L913.2 632.4 L914 634 L914.2 632.7 L915.2 627.9 L916.2 621.2 L916.5 621.5 L917.2 619.3 L918.2 618.1 L919 619 L919.2 619.3 L920.2 621.7 L921.2 623.5 L921.5 624 L922.2 630.9 L923.2 638.8 L924 646.5 L924.2 643 L925.2 629 L926.2 623.4 L927.2 620.6 L927.8 619 L928.2 621.9 L929 623.8 L929.2 626.8 L930.2 631.5 L931.2 617.4 L931.5 614 L932.2 611.8 L933.2 608.5 L934 606.5 L934.2 606.1 L935.2 604.9 L936.2 604.2 L936.5 604 L937.2 603.3 L938.2 602.3 L939 601.5 L939.2 601.4 L940.2 601 L941 559 L941.2 560.6 L942.2 561.3 L943.2 563.4 L944 564 L944.2 564.2 L945.2 565.7 L946.2 566.3 L946.5 564 L947.2 562.5 L948.2 563.9 L949 561.5 L949.2 560.6 L950.2 560.7 L951.2 561.1 L951.5 560.2 L952.2 561.6 L953.2 559.8 L954 559 L954.2 561.1 L955.2 560.1 L956.2 561.2 L956.5 561.5 L957.2 564.2 L958.2 562.7 L959 564 L959.2 569.4 L960 584 L960.2 586.3 L961.2 594 L962.2 599.6 L962.5 601 L963 621.5 L963.2 619.8 L964.2 615 L965 616.5 L965.2 615.7 L966.2 613.7 L967.2 612.9 L967.5 614 L968.2 613 L969.2 613.3 L970 612.8 L970.2 612.8 L971.2 613.5 L972.2 614 L972.5 614 L973.2 614.4 L974.2 619 L975 601 L975.2 600.8 L976.2 600 L977.2 599.2 L977.5 599 L978.2 594.8 L979.2 586 L979.5 584 L980.2 580.6 L981.2 576.5 L982.2 575.4 L982.5 573.7 L983.2 572.3 L983.8 571.5 L984.2 572 L985.2 573.6 L986.2 574 L987.2 586 L987.5 588.3 L988 594 L988.2 595.2 L988.8 597.5 L989.2 599.8 L989.5 601 L990 592.7 L990.2 588 L990.5 584 L991.2 579.2 L992.2 572.4 L992.5 569 L993.2 568.1 L994.2 568.9 L995 566.5 L995.2 569 L996.2 563.7 L997.2 563.5 L997.5 561.5 L998.2 557.2 L999.2 553.2 L1000 546.5 L1000.2 547 L1001.2 546.2 L1002.2 547.8 L1002.5 545.2 L1003.2 546.2 L1004.2 549.7 L1005 550.2 L1005.2 551.2 L1006.2 552.9 L1007.2 553.5 L1007.5 554 L1008.2 556.4 L1009.2 556.5 L1010 556.5 L1010.2 557.4 L1011.2 560.6 L1012.2 563.5 L1012.5 564 L1013.2 565.6 L1014.2 565.7 L1015 566.5 L1015.2 568.4 L1016.2 567.6 L1017.2 568.8 L1017.5 569 L1018.2 569.3 L1019.2 570.8 L1020 571.5 L1020.2 582.6 L1020.8 601 L1021.2 606.9 L1022 616.5 L1022.2 615.9 L1022.5 614.8 L1023.2 612.9 L1023.8 611.5 L1024.2 614.1 L1025 619 L1025.2 622.1 L1026.2 636.5 L1027.2 642.8 L1027.5 643.1 L1028 646.5 L1028.2 643.9 L1029.2 631.3 L1030 624 L1030.2 623.1 L1031.2 619.3 L1032.2 614.8 L1032.5 614 L1033.2 618.4 L1033.8 622.7 L1034.2 626.4 L1035 631.5 L1035.2 629.9 L1036.2 625.2 L1037.2 620.5 L1037.5 619 L1038.2 619.7 L1038.8 621.6 L1039.2 621.8 L1040 624 L1040.2 622.8 L1041.2 616.4 L1042.2 610.7 L1042.5 609 L1043.2 612.9 L1044.2 619.8 L1045 624 L1045.2 624.6 L1046.2 625.4 L1047.2 627.8 L1047.5 629 L1048.2 629.3 L1049.2 631.3 L1050 631.5 L1050.2 631.5 L1051.2 632.5 L1052.2 629.1 L1052.5 636.5 L1053.2 635.1 L1054.2 636.5 L1055 636.5 L1055.2 636.4 L1056.2 628.1 L1057.2 631.5 L1057.5 634 L1058.2 630.6 L1059.2 626.3 L1060 624 L1060.2 619.5 L1061.2 604 L1062.2 591.9 L1062.5 589 L1063.2 591.2 L1063.8 591.5 L1064.2 595.4 L1065 601 L1065.2 601.8 L1066.2 604.9 L1067.2 608.1 L1067.5 609 L1068.2 616.5 L1068.8 621.5 L1069.2 630 L1070 646.5 L1070.2 644.8 L1071.2 644 L1072.2 634.3 L1072.5 634 L1073.2 649 L1073.8 664 L1074.2 646.8 L1075 634 L1075.2 629.1 L1076.2 625 L1077.2 620.2 L1077.5 619 L1078.2 616.1 L1078.8 614 L1079.2 610.1 L1080 604 L1080.2 603.5 L1081.2 601.5 L1082.2 611.5 L1082.5 614 L1083.2 630.4 L1083.8 641.5 L1084.2 642.6 L1085.2 641.1 L1086.2 644 L1087.2 645.1 L1087.5 632.8 L1088.2 644.7 L1088.8 646.5 L1089.2 647.2 L1090.2 647.8 L1091.2 649 L1092.2 650.1 L1092.5 649.3 L1093.2 651.2 L1093.8 651.5 L1094.2 652.2 L1095.2 651.8 L1096.2 651.5 L1097.2 648 L1097.5 648.8 L1098.2 646.7 L1098.8 646.5 L1099.2 642.9 L1100 639 L1100.2 635.6 L1101.2 638.2 L1102.2 636.8 L1102.5 639 L1103.2 640.4 L1104.2 638.5 L1105 641.5 L1105.2 635 L1106.2 643.5 L1107.2 643.5 L1107.5 644 L1108.2 643.2 L1109.2 644.6 L1110 646.5 L1110.2 645.6 L1111.2 654 L1112.2 681.1 L1112.5 689 L1113.2 681.3 L1114.2 681.7 L1115 679 L1115.2 677.2 L1116.2 674.8 L1117.2 679.2 L1117.5 681.5 L1118.2 682.4 L1119.2 686 L1120 686.5 L1120.2 686.5 L1121.2 682.6 L1122.2 686.8 L1122.5 689 L1123.2 683 L1124.2 687.6 L1125 691.5 L1125.2 687.6 L1126.2 696.5 L1127.2 706.6 L1127.5 709 L1128.2 700.1 L1128.8 704.2 L1129.2 702.3 L1130 714 L1130.2 716 L1131.2 716.2 L1132.2 711.6 L1132.5 714 L1133.2 710.9 L1134.2 714.7 L1135 716.5 L1135.2 718 L1136.2 716.2 L1137.2 712.8 L1137.5 719 L1138.2 721.3 L1139.2 720.4 L1140 719 L1140.2 720.7 L1141.2 714.3 L1142.2 709.7 L1142.5 716.5 L1143.2 705 L1144.2 717.3 L1145 717.8 L1145.2 715.8 L1146.2 717.8 L1147.2 718.1 L1147.5 716.5 L1148.2 708.6 L1149.2 716.1 L1150 714 L1150.2 714.3 L1151.2 708.5 L1152.2 708.7 L1152.5 709 L1153.2 703.3 L1153.8 706.5 L1154.2 709 L1155 724 L1155.2 718.5 L1156.2 720.1 L1157.2 725.4 L1157.5 729 L1158.2 721.6 L1159.2 732.3 L1160 731.5 L1160.2 715.9 L1161.2 733.3 L1162.2 733.7 L1162.5 734 L1163.2 728.6 L1164.2 737 L1165 736.5 L1165.2 734.7 L1166.2 724.2 L1167.2 733.4 L1167.5 734 L1168.2 733.1 L1169.2 736.2 L1170 734 L1170.2 735 L1171.2 729.1 L1172.2 727 L1172.5 729 L1173.2 727.6 L1174.2 727.2 L1175 726.5 L1175.2 727.1 L1176.2 710.1 L1177.2 718.2 L1177.5 721.5 L1178.2 699 L1179.2 679.1 L1180 659 L1180.2 658.9 L1181.2 657.7 L1182.2 660.4 L1182.5 661.5 L1183.2 666.7 L1184.2 672.8 L1184.5 674 L1185 648.5 L1185.2 636.9 L1185.5 624 L1185.8 601 L1185.8 601Z" fill="#c00000"/>
<path d="M673.2 601 L673.2 601 L673.5 586.5 L674.2 587 L675.2 588.8 L676.2 589.3 L676.5 589 L677.2 588.9 L677.8 588.2 L678.2 588 L679 588.3 L679.2 588.1 L680.2 587.6 L681.2 587 L681.5 586.5 L682.2 587 L682.8 586.2 L683.2 586.2 L684 586.3 L684.2 588 L685.2 587.7 L686.2 586.4 L686.5 586.5 L687.2 588 L687.8 587.1 L688.2 587.2 L689 587.9 L689.2 588.6 L690.2 588.3 L691.2 588.7 L691.5 589 L692.2 590.1 L693.2 589.2 L694 589.8 L694.2 588.8 L695.2 588.8 L696.2 589.1 L696.5 589 L697 599 L697.2 598.8 L697.8 598.2 L698.2 597.6 L699.2 596.9 L700.2 595.2 L701.2 595.2 L702.2 594.9 L702.8 594.7 L703.2 594.4 L704.2 594.2 L705.2 594 L706.2 594.8 L707.2 595 L707.8 594.9 L708.2 595.1 L709 595.2 L709.2 595.1 L710.2 594.7 L711.2 594.5 L711.5 594.8 L712.2 594.6 L712.8 594 L713.2 594 L714 594.4 L714.2 594.8 L715.2 594.6 L716.2 595.2 L716.5 595.4 L717 595.2 L717.2 597.2 L717.8 601 L718.2 605.2 L719 611.5 L719.2 611.1 L720.2 610.3 L721.2 608.9 L721.5 609 L722 609 L722.2 608.8 L723.2 608.8 L724 609 L724.2 608.7 L725.2 607.4 L726.2 606.7 L726.5 606.5 L727.2 605.5 L728.2 604.7 L729 604 L729.2 603.7 L730.2 602.6 L731.2 601.8 L731.5 601.5 L732.2 601.9 L733.2 602.4 L734 602.8 L734.2 602.8 L735.2 602.8 L736.2 602.7 L736.5 602.7 L737.2 602.7 L738.2 602.8 L739 602.8 L739.2 602.6 L740.2 602.3 L741.2 602 L741.5 601.9 L742.2 601.6 L743.2 601.3 L744 601 L744.2 601 L745.2 600.8 L746.2 600.7 L746.5 600.6 L747.2 600.5 L748.2 600.4 L749 600.2 L749.2 600.3 L750.2 600.6 L751.2 600.8 L751.5 600.9 L752.2 601.1 L753.2 601.3 L754 601.5 L754.2 601.5 L755.2 601.5 L756.2 601.5 L756.5 601.5 L757.2 601.5 L757.8 601.5 L758.2 601.5 L759 601.5 L759.2 601.5 L760.2 601.2 L761.2 601 L761.5 601 L762 598.7 L762.2 597.6 L762.8 595.2 L763.2 594.5 L764.2 593.5 L765.2 591.2 L766.2 590.2 L766.5 589 L767.2 589 L768.2 587.9 L769 587.6 L769.2 587.9 L770.2 587.9 L771.2 586.5 L771.5 586.5 L772.2 586.9 L772.8 586.8 L773.2 587.5 L774.2 587.6 L775.2 587.8 L776.2 591.4 L776.5 589.8 L777.2 590.7 L777.8 591.5 L778.2 595.5 L779 601 L779.2 600 L780.2 596.2 L781.2 593 L781.5 591.5 L782.2 590.8 L783.2 590.4 L784 590.1 L784.2 590.6 L785.2 589 L786.2 588.8 L786.5 588.7 L787.2 589 L787.8 587.8 L788.2 591.2 L789 594.3 L789.2 595.8 L790.2 601 L791.2 599.2 L791.5 598.8 L792.2 597.5 L792.8 596.5 L793.2 596.3 L794 596.3 L794.2 596.1 L795.2 596 L796.2 595.6 L796.5 595.2 L797.2 595.1 L798.2 594.8 L799 594.7 L799.2 594.4 L800.2 594 L801.2 593.2 L801.5 593.1 L802.2 592.7 L803.2 592.4 L804 591.5 L804.2 591.5 L805.2 591.7 L806.2 591.1 L806.5 590.8 L807.2 592.9 L808.2 590.9 L809 590.2 L809.2 591 L810.2 589.6 L811.2 587.9 L811.5 587.7 L812.2 587.3 L812.8 586.5 L813.2 588.1 L814 587.2 L814.2 587.2 L815.2 587.8 L816.2 587.5 L816.5 587.8 L817.2 588.3 L818.2 589 L819 588.9 L819.2 588.3 L820.2 589.1 L821.2 588.9 L821.5 589 L822.2 589.7 L823.2 590.5 L824 590.3 L824.2 590.3 L825.2 591 L826.2 591.4 L826.5 591.5 L827.2 592.1 L828.2 592.2 L829 592.6 L829.2 592.8 L830.2 593.9 L831.2 593.9 L831.5 594 L832.2 594.9 L833.2 595.3 L834 595.9 L834.2 596.1 L835.2 596.8 L836.2 597.7 L836.5 597.8 L837.2 598 L838.2 598.3 L839 598.4 L839.2 598.4 L840.2 598.8 L841.2 599.1 L841.5 599 L842.2 599.4 L843.2 599.7 L844 600 L844.2 600.1 L845.2 600.5 L846.2 600.9 L846.5 601 L847.2 601.9 L847.8 602.5 L848.2 603.1 L849 604 L849.2 604 L850.2 603.9 L851.2 603.9 L851.5 604 L852.2 603.9 L853.2 603.9 L854 604 L854.2 604 L855.2 603.7 L856.2 603.3 L856.5 603.4 L857.2 602.9 L858.2 602.9 L859 602.8 L859.2 602.5 L860.2 602.5 L861.2 602.2 L861.5 602.1 L862.2 601.9 L862.8 601.8 L863.2 601.7 L864 601.5 L864.2 601.5 L865.2 601.4 L866.2 601.3 L866.5 601.2 L867.2 601.2 L868.2 601.1 L869 601 L869.2 601 L870.2 600.8 L871.2 600.7 L871.5 600.6 L872.2 600.5 L873.2 600.4 L874 600.2 L874.2 600.2 L875.2 600.2 L876.2 600.2 L877.2 600.2 L878.2 600.2 L879 600.2 L879.2 600.2 L880.2 600.2 L881.2 600.2 L881.5 600.2 L882.2 600.2 L882.8 600.2 L883.2 600.2 L884 600.2 L884.2 600.3 L885.2 600.3 L886.2 600.4 L886.5 600.4 L887.2 600.5 L888.2 600.6 L889 600.6 L889.2 600.6 L890.2 600.7 L891 600.8 L891.2 600.8 L892.2 600.9 L892.8 600.9 L893.2 600.9 L894 601 L894.2 601 L895.2 601.1 L896.2 601.2 L897.2 601.3 L897.8 601.4 L898.2 601.4 L899 601.5 L899.2 602.5 L900.2 606.5 L901.2 606.2 L901.5 606.5 L902.2 606.6 L903.2 606.3 L904 606.6 L904.2 606.2 L905.2 606 L906.2 606.4 L906.5 606.3 L907.2 606.2 L908.2 606.3 L909 606.5 L909.2 606.5 L910.2 606.1 L911.2 606.1 L911.5 606 L912.2 606 L913.2 605.5 L914 605.5 L914.2 605.6 L915.2 605.5 L916.2 605 L916.5 605.2 L917.2 604.9 L918.2 604.9 L919 605.2 L919.2 605.2 L920.2 605.3 L921.2 605.3 L921.5 605.2 L922.2 605.3 L923.2 605.2 L924 605.2 L924.2 605.2 L925.2 604.9 L926.2 604.4 L927.2 604.4 L927.8 604.2 L928.2 604.2 L929 604 L929.2 604 L930.2 604 L931.2 604 L931.5 604 L932.2 604 L933.2 603.9 L934 604 L934.2 603.8 L935.2 603.2 L936.2 602.9 L936.5 602.8 L937.2 602.4 L938.2 601.9 L939 601.5 L939.2 601.4 L940.2 601.2 L941 601 L941.2 600.9 L942.2 600.7 L943.2 600.4 L944 600.2 L944.2 600.2 L945.2 600.2 L946.2 600.2 L946.5 600.2 L947.2 600.2 L948.2 600.2 L949 600.2 L949.2 600.3 L950.2 600.3 L951.2 600.4 L951.5 600.4 L952.2 600.5 L953.2 600.6 L954 600.6 L954.2 600.6 L955.2 600.7 L956.2 600.8 L956.5 600.8 L957.2 600.9 L958.2 600.9 L959 601 L959.2 601.1 L960 601.5 L960.2 601.8 L961.2 602.7 L962.2 603.7 L962.5 604 L963 603.5 L963.2 603.5 L964.2 602.7 L965 602.8 L965.2 602.6 L966.2 602 L967.2 601.6 L967.5 601.5 L968.2 601.5 L969.2 601.5 L970 601.5 L970.2 601.5 L971.2 601.5 L972.2 601.5 L972.5 601.5 L973.2 601.7 L974.2 601.9 L975 602.1 L975.2 602.1 L976.2 602.4 L977.2 602.7 L977.5 602.8 L978.2 602.6 L979.2 603.2 L979.5 603.2 L980.2 603.5 L981.2 603.6 L982.2 603.8 L982.5 604 L983.2 604.4 L983.8 604.6 L984.2 604.9 L985.2 605.3 L986.2 605.9 L987.2 606.2 L987.5 606.5 L988 609.6 L988.2 610.9 L988.8 614 L989.2 608.8 L989.5 606.2 L990 601 L990.2 600.9 L990.5 600.7 L991.2 600.2 L992.2 599.7 L992.5 599.5 L993.2 599.3 L994.2 599.2 L995 599 L995.2 599.1 L996.2 598.7 L997.2 598.6 L997.5 598.5 L998.2 598.4 L999.2 598.4 L1000 598.2 L1000.2 598.1 L1001.2 598 L1002.2 597.9 L1002.5 597.8 L1003.2 597.9 L1004.2 598.2 L1005 598.4 L1005.2 598.5 L1006.2 598.7 L1007.2 598.9 L1007.5 599 L1008.2 599.4 L1009.2 599.9 L1010 600.2 L1010.2 600.4 L1011.2 600.9 L1012.2 601.4 L1012.5 601.5 L1013.2 601.7 L1014.2 601.9 L1015 602.1 L1015.2 602.1 L1016.2 602.4 L1017.2 602.7 L1017.5 602.8 L1018.2 602.5 L1019.2 602.1 L1020 601.9 L1020.2 601.8 L1020.8 601.6 L1021.2 601.4 L1022 601.2 L1022.2 601.1 L1022.5 601 L1023.2 601.9 L1023.8 602.5 L1024.2 603 L1025 604 L1025.2 604.2 L1026.2 605.2 L1027.2 606.3 L1027.5 606.5 L1028 605.6 L1028.2 605 L1029.2 602.9 L1030 601.5 L1030.2 601.2 L1031.2 600.2 L1032.2 599.3 L1032.5 599 L1033.2 598.4 L1033.8 597.8 L1034.2 598 L1035 598.5 L1035.2 598.5 L1036.2 599 L1037.2 600 L1037.5 600.2 L1038.2 601 L1038.8 601.5 L1039.2 601.7 L1040 601.9 L1040.2 602 L1041.2 602.3 L1042.2 602.7 L1042.5 602.8 L1043.2 602.8 L1044.2 603.2 L1045 603.3 L1045.2 603.4 L1046.2 603.6 L1047.2 603.9 L1047.5 604 L1048.2 604.1 L1049.2 604.5 L1050 604.5 L1050.2 604.6 L1051.2 604.8 L1052.2 604.4 L1052.5 605.2 L1053.2 604.9 L1054.2 604.8 L1055 604.6 L1055.2 604.6 L1056.2 603.6 L1057.2 603.8 L1057.5 604 L1058.2 603.8 L1059.2 603.5 L1060 603.2 L1060.2 603.2 L1061.2 603.1 L1062.2 602.8 L1062.5 602.8 L1063.2 603.2 L1063.8 603.7 L1064.2 604 L1065 604.7 L1065.2 604.4 L1066.2 605.5 L1067.2 606.2 L1067.5 606.5 L1068.2 608 L1068.8 608.4 L1069.2 609.6 L1070 610.6 L1070.2 611.7 L1071.2 614 L1072.2 612.1 L1072.5 612.5 L1073.2 610.7 L1073.8 610.8 L1074.2 609.1 L1075 609 L1075.2 608.3 L1076.2 609.3 L1077.2 610.4 L1077.5 610.8 L1078.2 611.2 L1078.8 611.5 L1079.2 607.5 L1080 601.5 L1080.2 601.4 L1081.2 600.9 L1082.2 600.4 L1082.5 600.2 L1083.2 600.7 L1083.8 601.1 L1084.2 601.4 L1085.2 602 L1086.2 602.6 L1087.2 603.3 L1087.5 603.5 L1088.2 603.5 L1088.8 603.6 L1089.2 603.7 L1090.2 603.8 L1091.2 603.7 L1092.2 604 L1092.5 604 L1093.2 604.2 L1093.8 603.6 L1094.2 604.5 L1095.2 604.7 L1096.2 604.9 L1097.2 605.1 L1097.5 605.2 L1098.2 605.2 L1098.8 605.3 L1099.2 605.2 L1100 605.3 L1100.2 604.9 L1101.2 605.2 L1102.2 605 L1102.5 605.2 L1103.2 605.9 L1104.2 606.2 L1105 607 L1105.2 606.3 L1106.2 608.2 L1107.2 608.8 L1107.5 609 L1108.2 609.7 L1109.2 611.1 L1110 612.1 L1110.2 612.1 L1111.2 614 L1112.2 621.8 L1112.5 624 L1113.2 620.6 L1114.2 618.7 L1115 616.5 L1115.2 615.1 L1116.2 610.8 L1117.2 607.3 L1117.5 606.5 L1118.2 608.7 L1119.2 611.9 L1120 614 L1120.2 614.1 L1121.2 613.8 L1122.2 614.8 L1122.5 614.6 L1123.2 614.5 L1124.2 615.6 L1125 616.5 L1125.2 615.8 L1126.2 617.3 L1127.2 618 L1127.5 618 L1128.2 617 L1128.8 619 L1129.2 618 L1130 621 L1130.2 621.6 L1131.2 622.8 L1132.2 622 L1132.5 622.7 L1133.2 621.4 L1134.2 621.6 L1135 621.5 L1135.2 621.7 L1136.2 621.1 L1137.2 620.3 L1137.5 621.5 L1138.2 621.6 L1139.2 621.3 L1140 621 L1140.2 621.3 L1141.2 620.2 L1142.2 619.5 L1142.5 620.3 L1143.2 618.5 L1144.2 620.3 L1145 620.2 L1145.2 619.9 L1146.2 620.4 L1147.2 620.5 L1147.5 619.1 L1148.2 619.1 L1149.2 620.5 L1150 620.2 L1150.2 620.4 L1151.2 619.7 L1152.2 620.1 L1152.5 620.4 L1153.2 619.5 L1153.8 620.6 L1154.2 619.5 L1155 620.2 L1155.2 619.3 L1156.2 619.3 L1157.2 619.8 L1157.5 619.8 L1158.2 619 L1159.2 620.5 L1160 620.2 L1160.2 617.9 L1161.2 620.3 L1162.2 620.2 L1162.5 620.6 L1163.2 619.4 L1164.2 620.4 L1165 620.2 L1165.2 620 L1166.2 618.5 L1167.2 619.8 L1167.5 619.4 L1168.2 619.6 L1169.2 619.9 L1170 619.5 L1170.2 619.7 L1171.2 619.3 L1172.2 619.5 L1172.5 619.7 L1173.2 619.9 L1174.2 620.1 L1175 620.2 L1175.2 620.3 L1176.2 617.8 L1177.2 619.1 L1177.5 619.5 L1178.2 618.8 L1179.2 619.5 L1180 619 L1180.2 619 L1181.2 618.8 L1182.2 619.9 L1182.5 620.2 L1183.2 621.2 L1184.2 622.1 L1184.5 621.7 L1185 622.8 L1185.2 612 L1185.5 601 L1185.5 601Z" fill="#009a00"/>
<rect x="662.7" y="488.7" width="534.6" height="290" fill="none" stroke="#1a1a1a" stroke-width="1.8"/>
<text class="t" x="653.9" y="492.6" font-size="12.5" text-anchor="end" textLength="16.8" lengthAdjust="spacingAndGlyphs">30</text>
<text class="t" x="653.9" y="530.9" font-size="12.5" text-anchor="end" textLength="16.8" lengthAdjust="spacingAndGlyphs">20</text>
<text class="t" x="653.9" y="568.4" font-size="12.5" text-anchor="end" textLength="16.8" lengthAdjust="spacingAndGlyphs">10</text>
<text class="t" x="653.9" y="601.6" font-size="12.5" text-anchor="end" textLength="8.4" lengthAdjust="spacingAndGlyphs">0</text>
<text class="t" x="653.9" y="638.6" font-size="12.5" text-anchor="end" textLength="22.8" lengthAdjust="spacingAndGlyphs">-10</text>
<text class="t" x="653.9" y="675.9" font-size="12.5" text-anchor="end" textLength="22.8" lengthAdjust="spacingAndGlyphs">-20</text>
<text class="t" x="653.9" y="712.4" font-size="12.5" text-anchor="end" textLength="22.8" lengthAdjust="spacingAndGlyphs">-30</text>
<text class="t" x="653.9" y="750.4" font-size="12.5" text-anchor="end" textLength="22.8" lengthAdjust="spacingAndGlyphs">-40</text>
<text class="t" x="653.9" y="782.6" font-size="12.5" text-anchor="end" textLength="22.8" lengthAdjust="spacingAndGlyphs">-50</text>
<path d="M662.7 527h6.5M1197.3 527h-6M662.7 564.5h6.5M1197.3 564.5h-6M662.7 597.8h6.5M1197.3 597.8h-6M662.7 634.8h6.5M1197.3 634.8h-6M662.7 672h6.5M1197.3 672h-6M662.7 708.5h6.5M1197.3 708.5h-6M662.7 746.5h6.5M1197.3 746.5h-6M804 488.7v4.5M804 778.7v-4.5M936 488.7v4.5M936 778.7v-4.5M1080 488.7v4.5M1080 778.7v-4.5" stroke="#1a1a1a" stroke-width="1.6" fill="none"/>
<text class="t" x="662.5" y="795.3" font-size="11.8" text-anchor="middle" textLength="46" lengthAdjust="spacingAndGlyphs">2020.7</text>
<text class="t" x="802.2" y="795.3" font-size="11.8" text-anchor="middle" textLength="46" lengthAdjust="spacingAndGlyphs">2021.1</text>
<text class="t" x="937" y="795.3" font-size="11.8" text-anchor="middle" textLength="46" lengthAdjust="spacingAndGlyphs">2021.7</text>
<text class="t" x="1077" y="795.3" font-size="11.8" text-anchor="middle" textLength="46" lengthAdjust="spacingAndGlyphs">2022.1</text>
<text class="t" x="896.3" y="474.3" font-size="16" textLength="84.6" lengthAdjust="spacingAndGlyphs">FTSE100</text>
<rect x="803.7" y="809.5" width="277.6" height="23" fill="#fff" stroke="#222" stroke-width="1.2"/>
<rect x="835.5" y="819" width="7.5" height="5" fill="#000000"/>
<text class="l" x="846.9" y="825.2" font-size="12" textLength="33" lengthAdjust="spacingAndGlyphs">Total</text>
<rect x="911.7" y="819" width="7.5" height="5" fill="#c00000"/>
<text class="l" x="923" y="825.2" font-size="12" textLength="57.5" lengthAdjust="spacingAndGlyphs">1-5 days</text>
<rect x="1013" y="819" width="7.5" height="5" fill="#00a000"/>
<text class="l" x="1024" y="825.2" font-size="12" textLength="30" lengthAdjust="spacingAndGlyphs">5-inf</text>
<path d="M84.8 1056.5 L84.8 1056.5 L85.2 996.5 L86.2 1006.6 L87.2 1016.5 L88.2 1011.1 L88.5 1008.1 L89.2 1001.8 L89.8 999 L90.2 1007.2 L91 1005.4 L91.2 1005.9 L92.2 1011.5 L93.2 1011.9 L93.5 1010.5 L94.2 1013 L94.8 1010.2 L95.2 1010.6 L96 1014.4 L96.2 1015.5 L97.2 1014 L98.2 1012.2 L98.5 1012.3 L99.2 1011.6 L99.8 1011.5 L100.2 1015.5 L101 1014 L101.2 1017.1 L102.2 1016.5 L103.2 1020.8 L103.5 1020.3 L104.2 1021.8 L105.2 1025.4 L106 1026.5 L106.2 1025.9 L107.2 1016.5 L108.2 1008.6 L108.5 1006.5 L109.2 1003.3 L110.2 995.8 L111 991.5 L111.2 994.3 L112.2 990.9 L113.2 988.8 L113.5 989 L114.2 988.6 L115.2 989.4 L116 990.6 L116.2 990.3 L117.2 990.2 L118.2 991.1 L118.5 990.8 L119.2 989.8 L120.2 988.3 L121 987.8 L121.2 988.1 L122.2 985.2 L123.2 1000.9 L124.2 1012.2 L124.8 1019 L125.2 1017.3 L126.2 1012.1 L127.2 1006.5 L128.2 998 L128.5 995.2 L129.2 991.2 L129.8 984 L130.2 984.3 L131.2 982.6 L132.2 980.2 L133.2 983.1 L134.2 993.1 L134.8 984 L135.2 986.7 L136 989.2 L136.2 989.3 L137.2 991.5 L138.2 996.1 L138.5 995.7 L139.2 997.5 L139.8 999 L140.2 998.4 L141.2 993.7 L142.2 991.5 L143.2 989.3 L144.2 994.6 L144.8 986.5 L145.2 987.6 L146 988.7 L146.2 983.9 L147.2 979 L148.2 979.4 L149.2 985.3 L149.8 976.5 L150.2 979.7 L151.2 978.7 L152.2 974 L153.2 962.5 L153.5 959.3 L154 951.5 L154.2 956.2 L154.8 962.3 L155.2 965.7 L156 956.5 L156.2 965.3 L157.2 981.5 L158.2 989.7 L158.5 993.3 L159.2 989 L159.8 991.5 L160.2 994.4 L161 1005.4 L161.2 999.7 L162.2 1006.5 L163.2 1009.3 L164.2 1006.9 L164.8 1006.5 L165.2 1003.8 L166 1004.9 L166.2 996 L167.2 989 L168.2 991.4 L168.5 992.2 L169.2 993.6 L169.8 989 L170.2 991.9 L171 991.5 L171.2 990.9 L172.2 991.5 L173.2 991.8 L174.2 994.7 L174.8 992.8 L175.2 991.7 L176 1002.6 L176.2 993.3 L177.2 996.1 L178.2 997.3 L178.5 994 L179.2 994.3 L180.2 996.5 L181 999 L181.2 1003.4 L182.2 1007.5 L183.2 1003.3 L183.5 1002.8 L184.2 1006.1 L185.2 1005.4 L186 1005.2 L186.2 1009 L187.2 1010.6 L188.2 1013.7 L188.5 1014 L189.2 1017.2 L190.2 1016.4 L191 1016.5 L191.2 1018.4 L192.2 1012.4 L193.2 1012 L193.5 1009 L194.2 1008.2 L195.2 992.5 L196 982.8 L196.2 986.9 L197.2 983.9 L198.2 988.4 L198.5 986.5 L199.2 987.8 L200.2 991.1 L201 991.5 L201.2 994.4 L202.2 997.5 L203.2 1007.5 L203.5 996.5 L204.2 996.1 L205.2 1000.5 L206 999 L206.2 1005.2 L207.2 1018.5 L208.2 1035.5 L208.5 1039 L209.2 1041.3 L210.2 1044.5 L211 1046.5 L211.2 1041.7 L212.2 1022.8 L213.2 1022.7 L214.2 1024.8 L214.8 1024.7 L215.2 1023.2 L216 1024 L216.2 1028.6 L217.2 1046.5 L218.2 1046.8 L218.5 1046.4 L219.2 1046.4 L220.2 1046.4 L221 1046.5 L221.2 1045 L222.2 1037.7 L223.2 1029.7 L223.5 1027.8 L224.2 1029.8 L225.2 1031.4 L226 1032.8 L226.2 1035.4 L227.2 1036.4 L228.2 1038.5 L228.5 1039 L229.2 1040.7 L230.2 1041.2 L231 1042.3 L231.2 1042.6 L232.2 1043.7 L233 1044 L233.2 1050.2 L233.5 1056.5 L234.2 1057.9 L234.8 1058.7 L235.2 1059.7 L236 1061 L236.2 1060.3 L237.2 1060.8 L238.2 1061.3 L238.5 1061.3 L239.2 1061.3 L240.2 1061.3 L241 1061.5 L241.2 1061 L242.2 1060.8 L243.2 1060.8 L243.5 1060.9 L244.2 1060.7 L245.2 1060.5 L246 1060.2 L246.2 1060.3 L247.2 1060.6 L248.2 1060.6 L248.5 1060.5 L249.2 1061 L250.2 1061.2 L251 1061.5 L251.2 1061.5 L252.2 1060.9 L253.2 1060.8 L254.2 1060.5 L255.2 1060.4 L256 1060.2 L256.2 1059.9 L257.2 1058.4 L258.2 1056.9 L258.5 1056.5 L259.2 1056.5 L260.2 1056.5 L261 1056.5 L261.2 1056.5 L262.2 1056.5 L263.2 1056.5 L263.5 1056.5 L264.2 1056.5 L265.2 1056.5 L266 1056.5 L266.2 1056.5 L267.2 1056.5 L268.2 1056.5 L268.5 1056.5 L269.2 1056.5 L270.2 1056.5 L271 1056.5 L271.2 1056.5 L272.2 1056.5 L273.2 1056.5 L273.5 1056.5 L274.2 1056.5 L274.8 1056.5 L275.2 1056.5 L276 1056.5 L276.2 1056.5 L277.2 1056.5 L278.2 1056.5 L278.5 1056.5 L279.2 1056.5 L279.8 1056.5 L280.2 1056.5 L281 1056.5 L281.2 1056.5 L282.2 1056.5 L283.2 1056.5 L283.5 1056.5 L284.2 1056.5 L285.2 1056.5 L286 1056.5 L286.2 1056.5 L287.2 1056.5 L288.2 1056.5 L288.5 1056.5 L289.2 1056.5 L290.2 1056.5 L291 1056.5 L291.2 1056.5 L292.2 1056.5 L293.2 1056.5 L293.5 1056.5 L294.2 1056.5 L295.2 1056.5 L296 1056.5 L296.2 1056.5 L297.2 1056.5 L298.2 1056.5 L298.5 1056.5 L299.2 1056.5 L299.8 1056.5 L300.2 1056.5 L301 1056.5 L301.2 1056.5 L302.2 1056.5 L303.2 1056.5 L303.5 1056.5 L304.2 1056.5 L305.2 1056.5 L306 1056.5 L306.2 1056.5 L307.2 1056.5 L308.2 1056.5 L308.5 1056.5 L309.2 1056.5 L310.2 1056.5 L311 1056.5 L311.2 1056.5 L312.2 1056.5 L313.2 1056.5 L313.5 1056.5 L314.2 1056.5 L315.2 1056.5 L316 1056.5 L316.2 1056.5 L317.2 1056.5 L318.2 1056.5 L318.5 1056.5 L319.2 1056.5 L319.8 1056.5 L320.2 1056.5 L321 1056.5 L321.2 1056.5 L322.2 1056.5 L323.2 1056.5 L323.5 1056.5 L324.2 1056.5 L325.2 1056.5 L326 1056.5 L326.2 1056.5 L327.2 1056.5 L328.2 1056.5 L328.5 1056.5 L329.2 1056.5 L330.2 1056.5 L331 1056.5 L331.2 1056.5 L332.2 1056.5 L333.2 1056.5 L333.5 1056.5 L334.2 1056.5 L335.2 1056.5 L336 1056.5 L336.2 1056.5 L337.2 1056.5 L337.5 1056.5 L338.2 1056.5 L338.8 1056.5 L339.2 1056.5 L340 1056.5 L340.2 1056.5 L341.2 1056.5 L342.2 1056.5 L342.5 1056.5 L343.2 1056.5 L343.8 1056.5 L344.2 1056.5 L345 1056.5 L345.2 1056.5 L346.2 1056.5 L347.2 1056.5 L347.5 1056.5 L348.2 1056.5 L349.2 1056.5 L350 1056.5 L350.2 1056.5 L351.2 1056.5 L352.2 1056.5 L352.5 1056.5 L353.2 1056.5 L354.2 1056.5 L355 1056.5 L355.2 1056.5 L356.2 1056.5 L357.2 1056.5 L357.5 1056.5 L358.2 1056.5 L359.2 1056.5 L360 1056.5 L360.2 1056.5 L361.2 1056.5 L362.2 1056.5 L362.5 1056.5 L363.2 1056.5 L363.8 1056.5 L364.2 1056.5 L365 1056.5 L365.2 1056.5 L365.5 1056.5 L366.2 1056.5 L367.2 1056.5 L367.5 1056.5 L368.2 1056.5 L368.8 1056.5 L369.2 1056.5 L370 1056.5 L370.2 1056.5 L371.2 1056.5 L372.2 1056.5 L372.5 1056.5 L373.2 1056.5 L374.2 1056.5 L375 1056.5 L375.2 1056.5 L376.2 1056.5 L377.2 1056.5 L377.5 1056.5 L378.2 1056.5 L379.2 1056.5 L380 1056.5 L380.2 1056.5 L381.2 1056.5 L382.2 1056.5 L382.5 1056.5 L383.2 1056.5 L384.2 1056.5 L385 1056.5 L385.2 1056.5 L386.2 1056.5 L387.2 1056.5 L387.5 1056.5 L388.2 1056.5 L389.2 1056.5 L390 1056.5 L390.2 1056.5 L391.2 1056.5 L392.2 1056.5 L392.5 1056.5 L393.2 1056.5 L393.8 1056.5 L394.2 1056.5 L395 1056.5 L395.2 1056.5 L396.2 1056.5 L397.2 1056.5 L397.5 1056.5 L398.2 1056.5 L398.8 1056.5 L399.2 1056.5 L400 1056.5 L400.2 1056.5 L401.2 1056.5 L402 1056.5 L402.2 1056.5 L402.5 1056.5 L403 1056.5 L403.2 1056.5 L404.2 1056.5 L404.5 1056.5 L405 1056.5 L405.2 1056.5 L406.2 1056.5 L407.2 1056.5 L407.5 1056.5 L408.2 1056.5 L408.8 1056.5 L409.2 1056.5 L410 1056.5 L410.2 1056.5 L411.2 1056.5 L412.2 1056.5 L412.5 1056.5 L413.2 1056.5 L413.8 1056.5 L414.2 1056.5 L415 1056.5 L415.2 1056.5 L416.2 1056.5 L417.2 1056.5 L417.5 1056.5 L418.2 1056.5 L419.2 1056.5 L420 1056.5 L420.2 1056.5 L421.2 1056.5 L422.2 1056.5 L422.5 1056.5 L423.2 1056.5 L424.2 1056.5 L425 1056.5 L425.2 1056.5 L426.2 1056.5 L427.2 1056.5 L427.5 1056.5 L428.2 1056.5 L429.2 1056.5 L430 1056.5 L430.2 1056.5 L431.2 1056.5 L432.2 1056.5 L432.5 1056.5 L433.2 1056.5 L433.8 1056.5 L434.2 1050.7 L435 1039 L435.2 1037.7 L436.2 1032.3 L437.2 1027.1 L437.5 1025.5 L438 1022.8 L438.2 1023.6 L439.2 1027.8 L440 1029 L440.2 1030.3 L441.2 1030.4 L442.2 1031.2 L442.5 1031.5 L443.2 1028.9 L443.8 1028.7 L444.2 1027 L445.2 1025.3 L445.5 1022.8 L446.2 1028.3 L447.2 1036.9 L447.5 1039 L448.2 1043.8 L449.2 1042.7 L450 1044 L450.2 1045.7 L451.2 1049 L452.2 1052.9 L452.5 1054 L453.2 1054.8 L454.2 1055.8 L455 1056.5 L455.2 1054.5 L456.2 1046.4 L457.2 1038.9 L457.5 1035.3 L458.2 1029 L458.8 1025.2 L459.2 1024.7 L460.2 1025.1 L461.2 1021.5 L462.2 1022.4 L462.5 1021.3 L463.2 1021.7 L463.8 1021.5 L464.2 1022 L465.2 1024.1 L466.2 1026.5 L467.2 1031.1 L467.5 1034.1 L468.2 1036.6 L468.8 1039 L469.2 1034.6 L470.2 1028.5 L471.2 1019 L472.2 1025.3 L472.5 1024.5 L473.2 1027.9 L473.8 1029 L474.2 1032.5 L475.2 1035 L476.2 1039 L477.2 1043.6 L477.5 1043.8 L478.2 1047.3 L478.8 1049 L479.2 1047.9 L480.2 1046.7 L481.2 1044.2 L482.2 1043.2 L482.5 1041.8 L483.2 1040 L483.8 1039 L484.2 1030.5 L485 1016.5 L485.2 1023.7 L486.2 1049 L487.2 1046.6 L487.5 1045.9 L488 1044 L488.2 1020.1 L488.8 959 L489.2 969 L490 962.9 L490.2 963.2 L490.5 964 L491.2 972.5 L492 976.5 L492.2 972.8 L492.5 971.1 L493.2 949.7 L493.8 939 L494.2 931.4 L494.5 935.9 L495 920.1 L495.2 927.5 L495.5 911.5 L496.2 924.9 L497 934 L497.2 947.6 L497.5 940.2 L498.2 934 L498.8 936.5 L499.2 952.6 L500 964 L500.2 962.6 L501.2 959 L502.2 967.4 L502.5 971.5 L503.2 979 L504.2 989.2 L505 994 L505.2 999.8 L506.2 991.7 L507.2 989.1 L507.5 989 L508.2 989.9 L509.2 989.5 L510 991.5 L510.2 995.3 L511.2 997 L512.2 993.1 L512.5 994 L513.2 992.8 L514.2 993.3 L515 984 L515.2 982.9 L516.2 980.8 L517.2 978.5 L517.5 977.8 L518.2 995 L519.2 981.2 L520 981.5 L520.2 987.5 L521.2 993.2 L522.2 992.3 L522.5 994 L523.2 998.6 L524.2 1006.6 L525 1009 L525.2 1009.9 L526.2 1018 L527.2 1022.6 L527.5 1024 L528.2 1024.3 L529.2 1025.5 L530 1026.5 L530.2 1026.9 L531.2 1025.6 L532.2 1025.4 L532.5 1024 L533.2 1017.7 L534.2 1011.9 L535 1004 L535.2 1003.2 L536.2 1001 L537.2 1000.3 L537.5 999 L538.2 1003.5 L539.2 1003.2 L540 1001.5 L540.2 1005 L541.2 1000.6 L542.2 1002.2 L542.5 999 L543.2 1022.3 L543.8 1036.5 L544.2 1034.2 L545 1031.1 L545.2 1028.5 L546.2 1024 L547.2 1024.3 L547.5 1023.9 L548.2 1023.6 L548.8 1024 L549.2 1023.3 L550 1020 L550.2 1018.4 L551.2 1014 L552.2 1007.6 L552.5 1006.4 L553.2 1004.7 L553.8 999 L554.2 992.1 L555 984 L555.2 993.1 L556.2 1011.5 L557.2 1017.4 L557.5 1019 L558.2 1019.9 L559.2 1022.7 L560 1024 L560.2 1026 L561.2 1025.6 L562.2 1024.9 L562.5 1025.2 L563 1056.5 L563 1056.5Z" fill="#000000"/>
<path d="M50.2 1056.5 L50.2 1056.5 L50.5 1069 L51.2 1069.9 L52.2 1071.5 L53.2 1085.7 L53.5 1089 L54.2 1089.4 L55.2 1082.3 L56 1091.5 L56.2 1091.3 L57.2 1091.4 L58.2 1096.7 L58.5 1097.8 L59.2 1096.3 L60.2 1094.3 L61 1094 L61.2 1092.9 L62.2 1092.7 L63 1094 L63.2 1084.5 L63.5 1077.4 L64 1061.5 L64.2 1061.2 L65.2 1059.9 L66 1059 L66.2 1058.5 L67.2 1056.5 L68.2 1060.4 L68.5 1061.5 L69.2 1077.4 L69.8 1089 L70.2 1093.3 L71 1101.5 L71.2 1101.7 L72.2 1102.8 L73.2 1089.8 L73.5 1086.5 L74.2 1084.1 L75.2 1081.3 L76 1079 L76.2 1077.6 L77.2 1076.4 L78.2 1074.5 L78.5 1074 L79.2 1072.6 L79.8 1071.1 L80.2 1070 L81 1069 L81.2 1068.5 L82.2 1068 L83.2 1068 L83.5 1067.8 L84.2 1060.9 L84.8 1056.5 L85.2 1006.5 L86.2 1015.3 L87.2 1024 L88.2 1021.2 L88.5 1019.3 L89.2 1015.5 L89.8 1014 L90.2 1023.8 L91 1029 L91.2 1027.6 L92.2 1024.1 L93.2 1020.8 L93.5 1019 L94.2 1022.8 L94.8 1023.2 L95.2 1023.1 L96 1025.2 L96.2 1026.8 L97.2 1026.2 L98.2 1018.9 L98.5 1019 L99.2 1017.9 L99.8 1017 L100.2 1019.9 L101 1016.5 L101.2 1019.2 L102.2 1017 L103.2 1020.4 L103.5 1019 L104.2 1021.6 L105.2 1026 L106 1027.8 L106.2 1027.4 L107.2 1019.6 L108.2 1013.2 L108.5 1011.5 L109.2 1007.4 L110.2 999 L111 994 L111.2 997.2 L112.2 995.9 L113.2 995.8 L113.5 996.5 L114.2 995.9 L115.2 996.4 L116 996.5 L116.2 996.6 L117.2 995.9 L118.2 995.7 L118.5 994 L119.2 993.8 L120.2 991.7 L121 991.6 L121.2 991.1 L122.2 989 L123.2 1004 L124.2 1015 L124.8 1021.5 L125.2 1019.8 L126.2 1014.6 L127.2 1009 L128.2 1001.5 L128.5 999 L129.2 995.5 L129.8 989 L130.2 989 L131.2 986.8 L132.2 984 L133.2 987.3 L134.2 997.2 L134.8 989 L135.2 991.2 L136 992.8 L136.2 992.7 L137.2 994 L138.2 998.5 L138.5 998.2 L139.2 1000 L139.8 1001.5 L140.2 1001.3 L141.2 997.8 L142.2 996.5 L143.2 993.3 L144.2 997.3 L144.8 989 L145.2 990.5 L146 992.1 L146.2 987.8 L147.2 984 L148.2 984.3 L149.2 989.8 L149.8 981.5 L150.2 984.5 L151.2 983.5 L152.2 979 L153.2 970.3 L153.5 966.5 L154 967.2 L154.2 972.9 L154.8 971.5 L155.2 983 L156 977.3 L156.2 982.1 L157.2 984 L158.2 992 L158.5 995.5 L159.2 991.5 L159.8 994 L160.2 996.4 L161 1006.5 L161.2 1000.7 L162.2 1006.5 L163.2 1010.3 L164.2 1008.8 L164.8 1009 L165.2 1006.2 L166 1007.1 L166.2 998.5 L167.2 991.5 L168.2 995.8 L168.5 996.9 L169.2 999.7 L169.8 996.5 L170.2 998.2 L171 996.4 L171.2 995.4 L172.2 994 L173.2 994.8 L174.2 998.1 L174.8 996.5 L175.2 995.7 L176 1006.2 L176.2 997.5 L177.2 1000.5 L178.2 1001.9 L178.5 999 L179.2 997.9 L180.2 998.1 L181 999 L181.2 1003.5 L182.2 1008 L183.2 1004.4 L183.5 1004 L184.2 1007.3 L185.2 1006.6 L186 1006.5 L186.2 1010.1 L187.2 1011.3 L188.2 1013.8 L188.5 1014 L189.2 1018.6 L190.2 1019.9 L191 1021.5 L191.2 1023.1 L192.2 1017.4 L193.2 1016.8 L193.5 1014 L194.2 1012.2 L195.2 996.5 L196 986.5 L196.2 990.3 L197.2 987 L198.2 990.9 L198.5 989 L199.2 991.1 L200.2 995.3 L201 996.5 L201.2 999.4 L202.2 1003.4 L203.2 1013.4 L203.5 1004 L204.2 1003 L205.2 1006 L206 1004 L206.2 1009.5 L207.2 1021.1 L208.2 1036 L208.5 1039 L209.2 1041.3 L210.2 1044.5 L211 1046.5 L211.2 1042.2 L212.2 1025.2 L213.2 1025.2 L214.2 1027.2 L214.8 1027.1 L215.2 1025.7 L216 1026.5 L216.2 1030.6 L217.2 1046.5 L218.2 1046.8 L218.5 1046.4 L219.2 1046.4 L220.2 1046.4 L221 1046.5 L221.2 1045.2 L222.2 1038.3 L223.2 1030.9 L223.5 1029 L224.2 1031 L225.2 1032.6 L226 1034 L226.2 1036.4 L227.2 1037 L228.2 1038.7 L228.5 1039 L229.2 1040.6 L230.2 1041 L231 1041.5 L231.2 1042.4 L232.2 1043.6 L233 1044 L233.2 1050.2 L233.5 1056.5 L234.2 1059.5 L234.8 1061.5 L235.2 1061.2 L236 1060.6 L236.2 1059.8 L237.2 1059.6 L238.2 1059.2 L238.5 1059 L239.2 1059 L240.2 1059 L241 1059 L241.2 1058.8 L242.2 1058.8 L243.2 1058.9 L243.5 1059 L244.2 1058.7 L245.2 1058.3 L246 1057.8 L246.2 1057.9 L247.2 1057.5 L248.2 1057.1 L248.5 1057 L249.2 1057.2 L250.2 1057.5 L251 1057.6 L251.2 1057.8 L252.2 1057.9 L253.2 1058.2 L254.2 1058.4 L255.2 1058.8 L256 1059 L256.2 1059.3 L257.2 1060.2 L258.2 1060.9 L258.5 1061.5 L259.2 1067.9 L260.2 1076.5 L261 1084 L261.2 1082 L262.2 1075.4 L263.2 1073.6 L263.5 1074 L264.2 1073.9 L265.2 1075.6 L266 1076.5 L266.2 1074.8 L267.2 1073.6 L268.2 1072.1 L268.5 1071.5 L269.2 1070.9 L270.2 1069.5 L271 1069 L271.2 1067.7 L272.2 1065.1 L273.2 1062.3 L273.5 1061.5 L274.2 1060 L274.8 1059 L275.2 1062.8 L276 1069 L276.2 1068.2 L277.2 1066.2 L278.2 1064.1 L278.5 1064 L279.2 1064.6 L279.8 1064.6 L280.2 1065.6 L281 1066.5 L281.2 1066.6 L282.2 1068.8 L283.2 1070.8 L283.5 1071.5 L284.2 1072.4 L285.2 1072.9 L286 1074 L286.2 1072.6 L287.2 1074.8 L288.2 1074.8 L288.5 1076.5 L289.2 1076.8 L290.2 1078.1 L291 1079 L291.2 1081.5 L292.2 1089.8 L293.2 1097.2 L293.5 1104 L294.2 1102.4 L295.2 1104.5 L296 1104 L296.2 1102.2 L297.2 1102.7 L298.2 1106.7 L298.5 1106.5 L299.2 1110.4 L299.8 1116.5 L300.2 1107.4 L301 1096.5 L301.2 1098.3 L302.2 1101.8 L303.2 1101.7 L303.5 1106.5 L304.2 1105 L305.2 1109.2 L306 1109 L306.2 1108.7 L307.2 1113.1 L308.2 1121.1 L308.5 1121.5 L309.2 1125 L310.2 1124 L311 1131.5 L311.2 1130 L312.2 1129.1 L313.2 1129.7 L313.5 1129 L314.2 1125.2 L315.2 1117.6 L316 1114 L316.2 1113.2 L317.2 1111.2 L318.2 1107.7 L318.5 1106.5 L319.2 1111.2 L319.8 1112.3 L320.2 1110.1 L321 1124 L321.2 1123 L322.2 1124.5 L323.2 1129.4 L323.5 1129 L324.2 1123.5 L325.2 1128.1 L326 1126.5 L326.2 1119.8 L327.2 1122.8 L328.2 1121.9 L328.5 1129 L329.2 1122.9 L330.2 1115.8 L331 1114 L331.2 1117.2 L332.2 1129.1 L333.2 1140 L333.5 1141.5 L334.2 1134.9 L335.2 1130.9 L336 1129 L336.2 1120.8 L337.2 1095.6 L337.5 1089 L338.2 1086.9 L338.8 1089 L339.2 1075.1 L340 1056.5 L340.2 1056.5 L341.2 1056.5 L342.2 1060.3 L342.5 1061.5 L343.2 1064.3 L343.8 1066.6 L344.2 1068.7 L345 1071.5 L345.2 1070 L346.2 1075.3 L347.2 1077.2 L347.5 1079 L348.2 1082.4 L349.2 1085.8 L350 1089 L350.2 1090.9 L351.2 1095.4 L352.2 1099.9 L352.5 1101.5 L353.2 1102.4 L354.2 1099.8 L355 1104 L355.2 1103.4 L356.2 1106.6 L357.2 1111.5 L357.5 1111.5 L358.2 1115.5 L359.2 1124.5 L360 1129 L360.2 1129 L361.2 1124.6 L362.2 1120.1 L362.5 1124 L363.2 1133.4 L363.8 1139 L364.2 1147.3 L365 1164 L365.2 1164.2 L365.5 1160.9 L366.2 1159 L367.2 1156.9 L367.5 1166.5 L368.2 1145.3 L368.8 1139 L369.2 1127.3 L370 1126.5 L370.2 1124.1 L371.2 1119 L372.2 1113.6 L372.5 1111.5 L373.2 1113 L374.2 1112.1 L375 1114 L375.2 1113.8 L376.2 1120 L377.2 1122.2 L377.5 1124 L378.2 1118 L379.2 1124.2 L380 1126.5 L380.2 1127.5 L381.2 1119 L382.2 1126 L382.5 1129 L383.2 1129.9 L384.2 1129.2 L385 1135.2 L385.2 1134 L386.2 1129 L387.2 1130.4 L387.5 1129 L388.2 1118 L389.2 1119.5 L390 1114 L390.2 1113.6 L391.2 1097.4 L392.2 1106.5 L392.5 1106.5 L393.2 1106.4 L393.8 1106.5 L394.2 1110.5 L395 1119 L395.2 1114.3 L396.2 1121.5 L397.2 1114.8 L397.5 1114 L398.2 1092.8 L398.8 1079 L399.2 1071.4 L400 1061.5 L400.2 1060.4 L401.2 1056.5 L402 1036.5 L402.2 1046.8 L402.5 1056.5 L403 1074 L403.2 1072.9 L404.2 1069.8 L404.5 1069 L405 1065.4 L405.2 1063.3 L406.2 1056.5 L407.2 1062.6 L407.5 1064 L408.2 1077 L408.8 1086.5 L409.2 1077.5 L410 1064 L410.2 1063.8 L411.2 1062.7 L412.2 1061.8 L412.5 1061.5 L413.2 1065.7 L413.8 1069 L414.2 1076.1 L415 1086.5 L415.2 1082.5 L416.2 1069 L417.2 1059 L417.5 1056.5 L418.2 1057.2 L419.2 1058.3 L420 1059 L420.2 1059.4 L421.2 1061.4 L422.2 1062.9 L422.5 1064 L423.2 1064.7 L424.2 1065.7 L425 1066.5 L425.2 1067.1 L426.2 1068.7 L427.2 1070.1 L427.5 1071.5 L428.2 1069.4 L429.2 1065.7 L430 1064 L430.2 1062.9 L431.2 1059 L432.2 1062.7 L432.5 1064 L433.2 1059.3 L433.8 1056.5 L434.2 1051.5 L435 1041.5 L435.2 1041 L436.2 1039 L437.2 1031.4 L437.5 1029.2 L438 1025.2 L438.2 1026.1 L439.2 1030.2 L440 1031.5 L440.2 1032.7 L441.2 1032.9 L442.2 1033.7 L442.5 1034 L443.2 1029.1 L443.8 1026.5 L444.2 1026.4 L445.2 1026.1 L445.5 1024 L446.2 1029.1 L447.2 1037.1 L447.5 1039 L448.2 1043.8 L449.2 1042.7 L450 1044 L450.2 1045.7 L451.2 1049 L452.2 1052.9 L452.5 1054 L453.2 1055.5 L454.2 1057.5 L455 1059 L455.2 1060.3 L456.2 1066.5 L457.2 1058.4 L457.5 1056.5 L458.2 1039.8 L458.8 1029 L459.2 1028.2 L460.2 1027.9 L461.2 1024 L462.2 1024.4 L462.5 1023.2 L463.2 1023.2 L463.8 1022.8 L464.2 1023.5 L465.2 1026.1 L466.2 1029 L467.2 1032.6 L467.5 1035.3 L468.2 1037 L468.8 1039 L469.2 1034.6 L470.2 1028.5 L471.2 1019 L472.2 1025.3 L472.5 1024.5 L473.2 1027.9 L473.8 1029 L474.2 1032.5 L475.2 1035 L476.2 1039 L477.2 1043.6 L477.5 1043.8 L478.2 1047.3 L478.8 1049 L479.2 1048.4 L480.2 1048.1 L481.2 1046.5 L482.2 1044.5 L482.5 1043.1 L483.2 1040.5 L483.8 1039 L484.2 1031.5 L485 1019 L485.2 1025.7 L486.2 1049 L487.2 1046.6 L487.5 1045.9 L488 1044 L488.2 1035 L488.8 1009 L489.2 1010.5 L490 1001.5 L490.2 1005 L490.5 1011.7 L491.2 1019 L492 1009 L492.2 1006 L492.5 1001.5 L493.2 991.2 L493.8 985.9 L494.2 977.6 L494.5 974 L495 975.9 L495.2 983 L495.5 980.7 L496.2 979 L497 988.2 L497.2 998.1 L497.5 994 L498.2 1006.8 L498.8 1016.5 L499.2 1016.5 L500 1011.5 L500.2 1012.3 L501.2 1017.9 L502.2 1019.8 L502.5 1021.5 L503.2 1021.8 L504.2 1022.5 L505 1021.5 L505.2 1025.1 L506.2 1022.2 L507.2 1022.4 L507.5 1022.8 L508.2 1023.2 L509.2 1023 L510 1024 L510.2 1025.6 L511.2 1025 L512.2 1021.4 L512.5 1024.2 L513.2 1021.7 L514.2 1023.1 L515 1019 L515.2 1018 L516.2 1015.2 L517.2 1012.3 L517.5 1011.5 L518.2 1022.6 L519.2 1017.2 L520 1019 L520.2 1021.9 L521.2 1024.3 L522.2 1023.2 L522.5 1024 L523.2 1024.4 L524.2 1026.1 L525 1025.2 L525.2 1025 L526.2 1027 L527.2 1026.5 L527.5 1026.5 L528.2 1026 L529.2 1026.3 L530 1026.5 L530.2 1027.3 L531.2 1028.1 L532.2 1029.8 L532.5 1029 L533.2 1028 L534.2 1028.4 L535 1026.5 L535.2 1026.2 L536.2 1025.6 L537.2 1025.8 L537.5 1025.2 L538.2 1027 L539.2 1025.8 L540 1024 L540.2 1026.7 L541.2 1026.7 L542.2 1029.9 L542.5 1029 L543.2 1035.5 L543.8 1039 L544.2 1037.2 L545 1034.8 L545.2 1032.5 L546.2 1029 L547.2 1051 L547.5 1056.5 L548.2 1059.5 L548.8 1061.5 L549.2 1059.4 L550 1056.5 L550.2 1056.5 L551.2 1056.5 L552.2 1056.5 L552.5 1056.5 L553.2 1056.5 L553.8 1056.5 L554.2 1056.5 L555 1056.5 L555.2 1057 L556.2 1059 L557.2 1061 L557.5 1061.5 L558.2 1062.3 L559.2 1063.2 L560 1064 L560.2 1064.3 L561.2 1067.4 L562.2 1070.9 L562.5 1071.5 L563 1056.5 L563 1056.5Z" fill="#c00000"/>
<path d="M50.2 1056.5 L50.2 1056.5 L50.5 1051.5 L51.2 1051.6 L52.2 1051.8 L53.2 1051.5 L53.5 1051.5 L54.2 1051.7 L55.2 1053.1 L56 1052.4 L56.2 1052.3 L57.2 1052.8 L58.2 1052.7 L58.5 1052.8 L59.2 1053 L60.2 1053.3 L61 1053.4 L61.2 1053.5 L62.2 1053.8 L63 1054.1 L63.2 1054.1 L63.5 1054 L64 1054.2 L64.2 1054.2 L65.2 1054.6 L66 1054.9 L66.2 1054.9 L67.2 1055.2 L68.2 1056.2 L68.5 1056.5 L69.2 1056.1 L69.8 1055.9 L70.2 1055.6 L71 1055.2 L71.2 1055.2 L72.2 1055.2 L73.2 1054.7 L73.5 1054.6 L74.2 1054.4 L75.2 1054.2 L76 1054 L76.2 1053.9 L77.2 1053.2 L78.2 1052.5 L78.5 1052.3 L79.2 1051.8 L79.8 1051.5 L80.2 1050.2 L81 1047.8 L81.2 1047.9 L82.2 1047.6 L83.2 1046.9 L83.5 1046.8 L84.2 1047 L84.8 1046.5 L85.2 1047.1 L86.2 1046 L87.2 1045.6 L88.2 1045.7 L88.5 1045.2 L89.2 1045.4 L89.8 1046.2 L90.2 1046.9 L91 1046.1 L91.2 1046 L92.2 1046.5 L93.2 1045.7 L93.5 1045.2 L94.2 1045.2 L94.8 1044 L95.2 1042.4 L96 1040.2 L96.2 1043 L97.2 1049 L98.2 1049.5 L98.5 1049.8 L99.2 1050.3 L99.8 1050.6 L100.2 1051.4 L101 1051.5 L101.2 1051.8 L102.2 1051.1 L103.2 1051.2 L103.5 1050.9 L104.2 1050.7 L105.2 1050.6 L106 1050.2 L106.2 1050.6 L107.2 1050.6 L108.2 1050.8 L108.5 1051.3 L109.2 1051.2 L110.2 1051.3 L111 1051.5 L111.2 1051.7 L112.2 1051.2 L113.2 1050.9 L113.5 1051 L114.2 1050.6 L115.2 1050.4 L116 1050.2 L116.2 1050.3 L117.2 1050.3 L118.2 1050.4 L118.5 1050.4 L119.2 1050.3 L120.2 1050.3 L121 1050.2 L121.2 1050.6 L122.2 1051.6 L123.2 1052.6 L124.2 1053.5 L124.8 1054 L125.2 1053.7 L126.2 1053 L127.2 1052.4 L128.2 1051.7 L128.5 1051.5 L129.2 1051.9 L129.8 1052.1 L130.2 1052.1 L131.2 1052.5 L132.2 1052.8 L133.2 1052.5 L134.2 1052.7 L134.8 1052 L135.2 1051.8 L136 1051.5 L136.2 1051.8 L137.2 1053 L138.2 1053.8 L138.5 1054 L139.2 1053.5 L139.8 1053.1 L140.2 1052.9 L141.2 1052.1 L142.2 1051.5 L143.2 1050.8 L144.2 1050.8 L144.8 1050 L145.2 1049.8 L146 1049 L146.2 1049 L147.2 1048 L148.2 1047.7 L149.2 1047.8 L149.8 1046.5 L150.2 1046.6 L151.2 1046 L152.2 1044.7 L153.2 1044.3 L153.5 1044 L154 1043.6 L154.2 1044.1 L154.8 1044.5 L155.2 1044.6 L156 1042.8 L156.2 1043.7 L157.2 1044.9 L158.2 1046.7 L158.5 1046.5 L159.2 1047.2 L159.8 1048 L160.2 1048.2 L161 1049 L161.2 1049 L162.2 1049.8 L163.2 1050.5 L164.2 1050.7 L164.8 1051.2 L165.2 1051.2 L166 1051.5 L166.2 1051.7 L167.2 1053.4 L168.2 1053.8 L168.5 1054 L169.2 1053.1 L169.8 1052.2 L170.2 1051.6 L171 1050.2 L171.2 1050.3 L172.2 1050.5 L173.2 1050.2 L174.2 1050.5 L174.8 1050.1 L175.2 1050.1 L176 1050.2 L176.2 1050.3 L177.2 1050.8 L178.2 1051.1 L178.5 1050.9 L179.2 1051 L180.2 1051.2 L181 1051.5 L181.2 1051.9 L182.2 1052.4 L183.2 1052.1 L183.5 1052 L184.2 1052.5 L185.2 1052.6 L186 1052.8 L186.2 1052.9 L187.2 1052.5 L188.2 1052.2 L188.5 1052.1 L189.2 1052.2 L190.2 1051.8 L191 1051.5 L191.2 1051.7 L192.2 1050.8 L193.2 1050.7 L193.5 1050.2 L194.2 1050.7 L195.2 1049.6 L196 1049 L196.2 1049.3 L197.2 1048.6 L198.2 1048.7 L198.5 1048.5 L199.2 1048.2 L200.2 1048.1 L201 1047.8 L201.2 1048 L202.2 1047.9 L203.2 1049 L203.5 1047.4 L204.2 1046.7 L205.2 1047.1 L206 1046.5 L206.2 1047 L207.2 1047 L208.2 1047.8 L208.5 1047.9 L209.2 1048.2 L210.2 1048.8 L211 1049 L211.2 1049.3 L212.2 1050.8 L213.2 1051.9 L214.2 1053.5 L214.8 1054 L215.2 1054.1 L216 1054.4 L216.2 1054.5 L217.2 1054.8 L218.2 1055.2 L218.5 1055.2 L219.2 1055.4 L220.2 1055.7 L221 1055.9 L221.2 1055.9 L222.2 1056.2 L223.2 1056.4 L223.5 1056.5 L224.2 1056.9 L225.2 1057.4 L226 1057.8 L226.2 1057.7 L227.2 1058 L228.2 1058.3 L228.5 1058.4 L229.2 1058.5 L230.2 1058.8 L231 1059 L231.2 1058.7 L232.2 1057.9 L233 1057.4 L233.2 1057.2 L233.5 1057 L234.2 1057 L234.8 1056.9 L235.2 1056.9 L236 1056.8 L236.2 1056.8 L237.2 1056.8 L238.2 1056.7 L238.5 1056.7 L239.2 1056.6 L240.2 1056.5 L241 1056.5 L241.2 1056.5 L242.2 1056.6 L243.2 1056.7 L243.5 1056.7 L244.2 1056.7 L245.2 1056.8 L246 1056.8 L246.2 1056.8 L247.2 1056.9 L248.2 1057 L248.5 1057 L249.2 1056.9 L250.2 1056.8 L251 1056.7 L251.2 1056.6 L252.2 1056.5 L253.2 1056.4 L254.2 1056.2 L255.2 1056.1 L256 1056 L256.2 1056 L257.2 1055.8 L258.2 1055.7 L258.5 1055.6 L259.2 1055.5 L260.2 1055.4 L261 1055.2 L261.2 1055.3 L262.2 1055.3 L263.2 1055 L263.5 1054.9 L264.2 1054.8 L265.2 1054.6 L266 1054.4 L266.2 1054.5 L267.2 1054.3 L268.2 1054 L268.5 1054 L269.2 1053.8 L270.2 1053.8 L271 1053.5 L271.2 1053.7 L272.2 1053.4 L273.2 1053.2 L273.5 1053.4 L274.2 1053 L274.8 1052.9 L275.2 1053 L276 1052.8 L276.2 1052.6 L277.2 1051.7 L278.2 1050.8 L278.5 1050.3 L279.2 1049.7 L279.8 1049 L280.2 1049.1 L281 1049.7 L281.2 1049.3 L282.2 1049.1 L283.2 1049.1 L283.5 1049.2 L284.2 1048.9 L285.2 1049.2 L286 1049 L286.2 1049.8 L287.2 1049.5 L288.2 1050.1 L288.5 1049.5 L289.2 1049.9 L290.2 1050.1 L291 1050.2 L291.2 1050.3 L292.2 1050.9 L293.2 1051.4 L293.5 1051.2 L294.2 1051.2 L295.2 1051.3 L296 1051.5 L296.2 1051.7 L297.2 1051.8 L298.2 1051.5 L298.5 1051.4 L299.2 1051.7 L299.8 1051.5 L300.2 1051.6 L301 1051.5 L301.2 1051.5 L302.2 1051.8 L303.2 1052.4 L303.5 1052.5 L304.2 1052.5 L305.2 1052.5 L306 1052.8 L306.2 1052.8 L307.2 1052.6 L308.2 1052.1 L308.5 1052.3 L309.2 1051.9 L310.2 1052 L311 1051.5 L311.2 1051.5 L312.2 1051 L313.2 1050.3 L313.5 1050.4 L314.2 1049.8 L315.2 1049.5 L316 1049 L316.2 1048.9 L317.2 1048.4 L318.2 1048.2 L318.5 1048.8 L319.2 1048 L319.8 1047.8 L320.2 1049.1 L321 1048.4 L321.2 1048.4 L322.2 1048.8 L323.2 1048.8 L323.5 1049 L324.2 1049.7 L325.2 1049.4 L326 1049.9 L326.2 1050.4 L327.2 1050.4 L328.2 1050.8 L328.5 1050.2 L329.2 1050.5 L330.2 1050.7 L331 1050.9 L331.2 1050.5 L332.2 1050.5 L333.2 1050.6 L333.5 1050.9 L334.2 1051 L335.2 1051.1 L336 1051 L336.2 1050.6 L337.2 1048.3 L337.5 1047.8 L338.2 1047.6 L338.8 1046.3 L339.2 1046.5 L340 1045.2 L340.2 1045.9 L341.2 1045 L342.2 1045.2 L342.5 1044.3 L343.2 1044.5 L343.8 1044 L344.2 1043.8 L345 1044.2 L345.2 1045.8 L346.2 1044 L347.2 1044.6 L347.5 1044 L348.2 1043.5 L349.2 1043.5 L350 1043.2 L350.2 1042.8 L351.2 1042.8 L352.2 1042.5 L352.5 1042.5 L353.2 1042 L354.2 1042.8 L355 1041.5 L355.2 1041.9 L356.2 1041.8 L357.2 1041.3 L357.5 1041.9 L358.2 1041.8 L359.2 1041.3 L360 1041.5 L360.2 1041.3 L361.2 1041.5 L362.2 1041.8 L362.5 1041.7 L363.2 1040.3 L363.8 1040.2 L364.2 1043 L365 1046.6 L365.2 1047.6 L365.5 1049 L366.2 1048 L367.2 1047.5 L367.5 1046.5 L368.2 1044.6 L368.8 1042.3 L369.2 1042 L370 1038.8 L370.2 1037.6 L371.2 1034 L372.2 1033.4 L372.5 1034.2 L373.2 1033 L374.2 1033.5 L375 1032.8 L375.2 1033.3 L376.2 1032.7 L377.2 1033.6 L377.5 1033.4 L378.2 1035.8 L379.2 1034.3 L380 1034 L380.2 1033.6 L381.2 1036.2 L382.2 1033.8 L382.5 1032.3 L383.2 1032.7 L384.2 1033.2 L385 1031.5 L385.2 1031.7 L386.2 1034.1 L387.2 1032.7 L387.5 1032.9 L388.2 1036.1 L389.2 1034.3 L390 1035.2 L390.2 1035.2 L391.2 1040.6 L392.2 1036.1 L392.5 1035.6 L393.2 1036.1 L393.8 1036 L394.2 1036.7 L395 1036.5 L395.2 1038.2 L396.2 1037.3 L397.2 1037.3 L397.5 1037.5 L398.2 1037.4 L398.8 1037.5 L399.2 1038.3 L400 1037.8 L400.2 1038 L401.2 1035.5 L402 1035.7 L402.2 1035 L402.5 1034 L403 1035.7 L403.2 1035.8 L404.2 1037.6 L404.5 1037.7 L405 1039 L405.2 1039.7 L406.2 1038.6 L407.2 1036.6 L407.5 1036.5 L408.2 1037.7 L408.8 1038.1 L409.2 1038.3 L410 1039 L410.2 1039.3 L411.2 1041.7 L412.2 1043.5 L412.5 1044 L413.2 1044.7 L413.8 1045 L414.2 1044.8 L415 1045.5 L415.2 1045.6 L416.2 1045.9 L417.2 1046.3 L417.5 1046.5 L418.2 1047.1 L419.2 1047.3 L420 1048 L420.2 1048.2 L421.2 1048.5 L422.2 1049.5 L422.5 1049 L423.2 1049.4 L424.2 1049.9 L425 1050.4 L425.2 1050.3 L426.2 1051 L427.2 1051.7 L427.5 1051.5 L428.2 1051.6 L429.2 1052.2 L430 1052.3 L430.2 1052.2 L431.2 1052.8 L432.2 1052.9 L432.5 1052.8 L433.2 1053 L433.8 1052.8 L434.2 1053.4 L435 1052.7 L435.2 1052.8 L436.2 1052.8 L437.2 1052.8 L437.5 1052.8 L438 1053 L438.2 1052.9 L439.2 1053.3 L440 1053.4 L440.2 1053.6 L441.2 1053.7 L442.2 1053.9 L442.5 1054 L443.2 1054.2 L443.8 1054.4 L444.2 1054.5 L445.2 1054.8 L445.5 1054.8 L446.2 1054.9 L447.2 1055.2 L447.5 1055.2 L448.2 1055.7 L449.2 1055.7 L450 1055.9 L450.2 1055.9 L451.2 1056.2 L452.2 1056.4 L452.5 1056.5 L453.2 1056.1 L454.2 1055.6 L455 1055.3 L455.2 1055.2 L456.2 1054.7 L457.2 1054.3 L457.5 1054 L458.2 1054.2 L458.8 1054.3 L459.2 1054.5 L460.2 1054.8 L461.2 1054.9 L462.2 1055.2 L462.5 1055.2 L463.2 1055.4 L463.8 1055.4 L464.2 1055.5 L465.2 1055.7 L466.2 1055.8 L467.2 1056 L467.5 1056 L468.2 1056.1 L468.8 1056.1 L469.2 1056.2 L470.2 1056.3 L471.2 1056.4 L472.2 1056.5 L472.5 1056.5 L473.2 1056.9 L473.8 1057.1 L474.2 1057.4 L475.2 1057.9 L476.2 1058.4 L477.2 1058.8 L477.5 1059 L478.2 1058.7 L478.8 1058.7 L479.2 1058.6 L480.2 1058.2 L481.2 1058 L482.2 1057.7 L482.5 1057.8 L483.2 1056.6 L483.8 1055.9 L484.2 1055.2 L485 1054 L485.2 1053.6 L486.2 1051.5 L487.2 1049.8 L487.5 1049 L488 1043.3 L488.2 1041.8 L488.8 1034 L489.2 1029.6 L490 1016.5 L490.2 1017.5 L490.5 1021.1 L491.2 1022.4 L492 1024.8 L492.2 1026.1 L492.5 1026.5 L493.2 1022.7 L493.8 1021 L494.2 1017.8 L494.5 1019.2 L495 1014 L495.2 1017.7 L495.5 1016.3 L496.2 1015.3 L497 1015.1 L497.2 1019.6 L497.5 1015.2 L498.2 1015 L498.8 1017.1 L499.2 1018 L500 1016.5 L500.2 1016.5 L501.2 1018.5 L502.2 1016.9 L502.5 1017.6 L503.2 1018.5 L504.2 1019.7 L505 1019 L505.2 1022.8 L506.2 1019.4 L507.2 1019.3 L507.5 1019.7 L508.2 1019.9 L509.2 1019.4 L510 1020.2 L510.2 1022.3 L511.2 1023 L512.2 1020.4 L512.5 1023.6 L513.2 1022 L514.2 1024.5 L515 1021.5 L515.2 1021.3 L516.2 1021.8 L517.2 1022.1 L517.5 1021.9 L518.2 1029.4 L519.2 1022.9 L520 1022.8 L520.2 1025 L521.2 1025.7 L522.2 1023.1 L522.5 1022.8 L523.2 1023.6 L524.2 1025.1 L525 1024 L525.2 1023.6 L526.2 1025.5 L527.2 1024.7 L527.5 1024.9 L528.2 1024.3 L529.2 1024.9 L530 1025.2 L530.2 1025.9 L531.2 1025.9 L532.2 1026.9 L532.5 1026.1 L533.2 1025.8 L534.2 1027.5 L535 1026.5 L535.2 1026.2 L536.2 1025.3 L537.2 1025.3 L537.5 1024 L538.2 1026.2 L539.2 1024.8 L540 1022.8 L540.2 1025.3 L541.2 1024.2 L542.2 1026.6 L542.5 1025.2 L543.2 1030 L543.8 1033.3 L544.2 1035.1 L545 1039 L545.2 1037.6 L546.2 1034.9 L547.2 1030.2 L547.5 1029 L548.2 1027.9 L548.8 1027.9 L549.2 1028.4 L550 1026.5 L550.2 1026.7 L551.2 1025.4 L552.2 1025.1 L552.5 1025.2 L553.2 1025.3 L553.8 1022.1 L554.2 1021.2 L555 1020.2 L555.2 1022.3 L556.2 1020.6 L557.2 1021.3 L557.5 1021.5 L558.2 1021.3 L559.2 1022.6 L560 1022.8 L560.2 1025 L561.2 1025 L562.2 1024.7 L562.5 1025.2 L563 1056.5 L563 1056.5Z" fill="#009a00"/>
<rect x="39.7" y="893.7" width="535.5" height="289.6" fill="none" stroke="#1a1a1a" stroke-width="1.8"/>
<text class="t" x="30.9" y="897.6" font-size="12.5" text-anchor="end" textLength="16.8" lengthAdjust="spacingAndGlyphs">50</text>
<text class="t" x="30.9" y="925.4" font-size="12.5" text-anchor="end" textLength="16.8" lengthAdjust="spacingAndGlyphs">40</text>
<text class="t" x="30.9" y="956.6" font-size="12.5" text-anchor="end" textLength="16.8" lengthAdjust="spacingAndGlyphs">30</text>
<text class="t" x="30.9" y="985.4" font-size="12.5" text-anchor="end" textLength="16.8" lengthAdjust="spacingAndGlyphs">20</text>
<text class="t" x="30.9" y="1013.4" font-size="12.5" text-anchor="end" textLength="16.8" lengthAdjust="spacingAndGlyphs">10</text>
<text class="t" x="30.9" y="1042.2" font-size="12.5" text-anchor="end" textLength="8.4" lengthAdjust="spacingAndGlyphs">0</text>
<text class="t" x="30.9" y="1071.7" font-size="12.5" text-anchor="end" textLength="22.8" lengthAdjust="spacingAndGlyphs">-10</text>
<text class="t" x="30.9" y="1100.9" font-size="12.5" text-anchor="end" textLength="22.8" lengthAdjust="spacingAndGlyphs">-20</text>
<text class="t" x="30.9" y="1129.9" font-size="12.5" text-anchor="end" textLength="22.8" lengthAdjust="spacingAndGlyphs">-30</text>
<text class="t" x="30.9" y="1160.4" font-size="12.5" text-anchor="end" textLength="22.8" lengthAdjust="spacingAndGlyphs">-40</text>
<text class="t" x="30.9" y="1187.2" font-size="12.5" text-anchor="end" textLength="22.8" lengthAdjust="spacingAndGlyphs">-50</text>
<path d="M39.7 921.5h6.5M575.2 921.5h-6M39.7 952.8h6.5M575.2 952.8h-6M39.7 981.5h6.5M575.2 981.5h-6M39.7 1009.5h6.5M575.2 1009.5h-6M39.7 1038.2h6.5M575.2 1038.2h-6M39.7 1067.8h6.5M575.2 1067.8h-6M39.7 1097h6.5M575.2 1097h-6M39.7 1126h6.5M575.2 1126h-6M39.7 1156.5h6.5M575.2 1156.5h-6M183 893.7v4.5M183 1183.3v-4.5M313.5 893.7v4.5M313.5 1183.3v-4.5M457.5 893.7v4.5M457.5 1183.3v-4.5" stroke="#1a1a1a" stroke-width="1.6" fill="none"/>
<text class="t" x="39.8" y="1199.9" font-size="11.8" text-anchor="middle" textLength="46" lengthAdjust="spacingAndGlyphs">2020.7</text>
<text class="t" x="179.5" y="1199.9" font-size="11.8" text-anchor="middle" textLength="46" lengthAdjust="spacingAndGlyphs">2021.1</text>
<text class="t" x="314.5" y="1199.9" font-size="11.8" text-anchor="middle" textLength="46" lengthAdjust="spacingAndGlyphs">2021.7</text>
<text class="t" x="454.2" y="1199.9" font-size="11.8" text-anchor="middle" textLength="46" lengthAdjust="spacingAndGlyphs">2022.1</text>
<text class="t" x="261" y="875" font-size="16" textLength="110" lengthAdjust="spacingAndGlyphs">NIKKEI225</text>
<rect x="183" y="1213.7" width="277.5" height="23.8" fill="#fff" stroke="#222" stroke-width="1.2"/>
<rect x="214.8" y="1223.6" width="7.5" height="5" fill="#000000"/>
<text class="l" x="226.2" y="1229.8" font-size="12" textLength="33" lengthAdjust="spacingAndGlyphs">Total</text>
<rect x="291" y="1223.6" width="7.5" height="5" fill="#c00000"/>
<text class="l" x="302.3" y="1229.8" font-size="12" textLength="57.5" lengthAdjust="spacingAndGlyphs">1-5 days</text>
<rect x="392.3" y="1223.6" width="7.5" height="5" fill="#00a000"/>
<text class="l" x="403.3" y="1229.8" font-size="12" textLength="30" lengthAdjust="spacingAndGlyphs">5-inf</text>
<path d="M673.2 1092 L673.2 1092 L673.5 999 L674.2 1002.5 L675.2 1001.5 L676.2 1009.8 L676.5 1014.6 L677.2 1012.4 L677.8 1014 L678.2 1019.5 L679 1016.9 L679.2 1016.5 L680.2 1019 L681.2 1020.5 L681.5 1022.2 L682.2 1022 L682.8 1024 L683.2 1027.1 L684 1020.6 L684.2 1018.1 L685.2 1016.5 L686.2 1000.2 L686.5 991.7 L687 982.8 L687.2 983.7 L687.8 984.2 L688.2 983.1 L689 986.5 L689.2 988.2 L690.2 992.5 L691 989 L691.2 1002.7 L691.5 1019 L692.2 1061.5 L693.2 1059.5 L694 1056.5 L694.2 1056.4 L695.2 1055.1 L696.2 1055.4 L696.5 1054 L697.2 1077 L697.8 1092 L698.2 1092 L699 1092 L699.2 1092 L700.2 1092 L701.2 1092 L701.5 1092 L702.2 1092 L703.2 1092 L704 1092 L704.2 1092 L705.2 1092 L706.2 1092 L706.5 1092 L707.2 1092 L707.8 1092 L708.2 1092 L709 1092 L709.2 1092 L710.2 1092 L711 1092 L711.2 1092 L712.2 1092 L712.8 1092 L713.2 1092 L714 1092 L714.2 1092 L715.2 1092 L716.2 1092 L717.2 1092 L717.8 1092 L718.2 1092 L719.2 1092 L720.2 1092 L721.2 1092 L721.5 1092 L722.2 1092 L722.8 1092 L723.2 1092 L724.2 1092 L725.2 1092 L726.2 1092 L727.2 1092 L727.8 1092 L728.2 1092 L729 1092 L729.2 1092 L730.2 1092 L731.2 1092 L732.2 1092 L732.8 1092 L733.2 1092 L734 1092 L734.2 1092 L735.2 1092 L736.2 1092 L737.2 1092 L737.8 1092 L738.2 1092 L739 1092 L739.2 1092 L740.2 1092 L741.2 1092 L742.2 1092 L742.8 1092 L743.2 1092 L744 1092 L744.2 1092 L745.2 1092 L746.2 1092 L746.5 1092 L747.2 1092 L747.8 1092 L748.2 1092 L749 1092 L749.2 1092 L750.2 1092 L751.2 1092 L751.5 1092 L752.2 1092 L752.8 1092 L753.2 1092 L754 1092 L754.2 1092 L755.2 1092 L756 1092 L756.2 1092 L756.5 1092 L757 1092 L757.2 1092 L758.2 1092 L759 1092 L759.2 1092 L760.2 1092 L761 1092 L761.2 1092 L762.2 1092 L762.8 1092 L763.2 1092 L764.2 1092 L765.2 1092 L766.2 1092 L766.5 1092 L767.2 1092 L767.8 1092 L768.2 1092 L769.2 1092 L770.2 1092 L771.2 1092 L771.5 1092 L772.2 1092 L772.8 1092 L773.2 1092 L774.2 1092 L774.5 1092 L775.2 1092 L776 1092 L776.2 1092 L776.5 1092 L777.2 1086.8 L777.8 1083 L778.2 1079.2 L779 1074 L779.2 1072.8 L780.2 1069.2 L781 1064 L781.2 1065 L782.2 1071.2 L782.8 1074 L783.2 1074.5 L784.2 1077 L785.2 1076.5 L786.2 1076.6 L786.5 1075.2 L787 1074.6 L787.2 1076.3 L787.8 1074 L788.2 1073.9 L789 1072.8 L789.2 1071.6 L790.2 1072.3 L791 1069.8 L791.2 1070.7 L791.5 1069 L792.2 1069.2 L792.8 1068.2 L793.2 1066.8 L794 1066.5 L794.2 1066.2 L795.2 1065.8 L796.2 1065.9 L796.5 1068.2 L797.2 1063.9 L797.8 1064 L798.2 1064.6 L799.2 1062.6 L800.2 1061.5 L801.2 1063.6 L801.5 1063 L802.2 1064.3 L802.8 1064 L803.2 1066 L804.2 1069.6 L805.2 1074 L806.2 1067 L806.5 1062.5 L807.2 1057.5 L807.8 1051.5 L808.2 1051.5 L809 1053.1 L809.2 1053 L810.2 1054 L811.2 1055.3 L811.5 1057.4 L812.2 1058.4 L812.8 1059 L813.2 1058.7 L814 1054.4 L814.2 1054.1 L815.2 1049 L816.2 1040.1 L816.5 1040 L817.2 1031.7 L817.8 1026.5 L818.2 1036.8 L819 1027.6 L819.2 1027.6 L820.2 1024 L821.2 1033.8 L821.5 1026.8 L822.2 1022 L822.8 1029.9 L823.2 1026.5 L824 1019 L824.2 1020.6 L825.2 1026 L826.2 1020.1 L826.5 1021.5 L827.2 1024.1 L828.2 1024.9 L829 1019 L829.2 1021.6 L830.2 1018.1 L831.2 1017.9 L831.5 1019 L832.2 1020.9 L833.2 1029.4 L834 1021.5 L834.2 1023 L835.2 1022 L836.2 1018.5 L836.5 1019 L837.2 1018.8 L838.2 1016.4 L839 1014 L839.2 1015.5 L840.2 1020 L841.2 1026.3 L841.5 1026.5 L842.2 1029.4 L843.2 1031.3 L844 1027.8 L844.2 1029.1 L845.2 1032.4 L846.2 1032.3 L846.5 1034 L847.2 1038.4 L848.2 1038.6 L849 1036.5 L849.2 1039.6 L850.2 1040.6 L851.2 1047 L851.5 1046.5 L852.2 1045.9 L853.2 1041.1 L854 1039 L854.2 1040.6 L855.2 1038.1 L856.2 1041.4 L856.5 1039 L857.2 1044.3 L858.2 1042.8 L859 1041.5 L859.2 1040.9 L860.2 1039.3 L861.2 1038.3 L861.5 1039 L862.2 1038.4 L863.2 1039.3 L864 1040.2 L864.2 1039.8 L865.2 1040.1 L866.2 1042.9 L866.5 1039 L867.2 1033.5 L868.2 1026.3 L869 1021.5 L869.2 1026.5 L870.2 1021.5 L871.2 1025.6 L871.5 1020.2 L872.2 1021.3 L873.2 1019.2 L874 1019 L874.2 1022.9 L875.2 1020.4 L876.2 1018.8 L876.5 1019 L877.2 1020.4 L878.2 1019 L879 1019 L879.2 1018.7 L880.2 1013.2 L881.2 1011.6 L881.5 1006.5 L882.2 1015.3 L883.2 1009 L884 1011.5 L884.2 1013.8 L885.2 1016.6 L886.2 1013.7 L886.5 1015.2 L887.2 1015.4 L888.2 1012.9 L889 1014 L889.2 1026.9 L890.2 1015.3 L891.2 1012.7 L891.5 1012.8 L892.2 1011.9 L893.2 1011.1 L894 1011.5 L894.2 1012.1 L895.2 1010.7 L896.2 1008.9 L896.5 1010.2 L897.2 1003.8 L897.8 1001.6 L898.2 997.7 L899 984 L899.2 985.5 L900.2 985.2 L901.2 979.2 L901.5 979 L902.2 978.5 L903.2 980.9 L904 981.5 L904.2 981 L905.2 975.8 L906.2 975.4 L906.5 974 L907.2 971.2 L908.2 964 L909 961.5 L909.2 967.5 L910.2 968 L911.2 959.6 L911.5 961.5 L912.2 960.9 L913.2 966.5 L914 964 L914.2 966.1 L915.2 970.6 L916.2 984.4 L916.5 976.5 L917.2 979.1 L918.2 973.7 L919 974 L919.2 971.5 L920.2 973 L921.2 970.2 L921.5 971.5 L922.2 981.5 L923.2 1001 L923.5 999 L924.2 1022.9 L925.2 1039 L926.2 1030.7 L927.2 1028.5 L927.8 1019 L928.2 1018.2 L929 1014.4 L929.2 1011.1 L930.2 1006.5 L931.2 1010.5 L931.5 1012.9 L932.2 1014.8 L932.8 1016.5 L933.2 1015.8 L934 1018.9 L934.2 1019.3 L935.2 1019 L936.2 1023.6 L936.5 1021.3 L937.2 1024.5 L937.8 1024 L938.2 1006.4 L939 971.5 L939.2 971.4 L940.2 973.7 L941.2 972.9 L941.5 971.5 L942.2 977 L943.2 973.3 L944 969 L944.2 973.6 L945.2 972.7 L946.2 976.4 L946.5 971.5 L947.2 973.2 L948.2 973.8 L949 976.5 L949.2 978.2 L950.2 981.7 L951.2 979.6 L951.5 974 L952.2 991.2 L953.2 984.8 L954 986.5 L954.2 987.1 L955.2 999.7 L956.2 997.7 L956.5 999 L957.2 1001.3 L958.2 1007.7 L959 1004 L959.2 1017.7 L960 1044 L960.2 1046 L961.2 1046.3 L962.2 1056.1 L962.5 1049 L963.2 1044.6 L964.2 1040.5 L965 1034 L965.2 1038.9 L966.2 1029.9 L967.2 1022.1 L967.5 1019 L968.2 1016 L969.2 1015.6 L970 1009 L970.2 1009.5 L971.2 1016.8 L972.2 1005 L972.5 1004 L973.2 1004.5 L974.2 1006.4 L975 1006.5 L975.2 1012.5 L976.2 1009.3 L977.2 1011.5 L977.5 1009 L978.2 1012.5 L979.2 1008.4 L980 1006.5 L980.2 1009.5 L981.2 1009 L982.2 1010.2 L982.5 1011.5 L983.2 1024.4 L983.8 1029 L984.2 1057 L985 1092 L985.2 1089.8 L986.2 1079 L987.2 1069.9 L987.5 1066.3 L988.2 1060.4 L988.8 1054 L989.2 1052.6 L990 1049.3 L990.2 1049.5 L991.2 1044 L992.2 1044.6 L993.2 1041.3 L993.8 1041.5 L994.2 1044.5 L995 1040.4 L995.2 1039 L996.2 1039 L997.2 1041.2 L998.2 1043.5 L998.8 1044 L999.2 1044 L1000 1047.2 L1000.2 1042.7 L1001.2 1041.5 L1002.2 1039.5 L1003.2 1038.7 L1003.8 1039 L1004.2 1037.7 L1005 1039.6 L1005.2 1038.7 L1006.2 1036.5 L1007.2 1038.5 L1008.2 1042.5 L1008.8 1044 L1009.2 1048.6 L1010 1046.6 L1010.2 1046.5 L1011.2 1046.5 L1012.2 1047.9 L1013.2 1044.8 L1013.8 1045.2 L1014.2 1046.1 L1015.2 1049 L1015.5 1049 L1016.2 1075.5 L1016.8 1092 L1017.2 1100 L1017.5 1104 L1018.2 1110.7 L1018.8 1113.5 L1019.2 1121.8 L1020 1129 L1020.2 1129.3 L1021.2 1132.7 L1021.8 1134 L1022.2 1106.6 L1022.5 1094 L1023.2 1092.8 L1023.8 1092 L1024.2 1084.7 L1025 1074 L1025.2 1076.8 L1026.2 1073 L1027.2 1072 L1027.5 1071.5 L1028.2 1079 L1028.8 1081.5 L1029.2 1083.8 L1030 1086.8 L1030.2 1087.8 L1031.2 1092 L1032.2 1085.5 L1032.5 1084 L1033.2 1072.4 L1033.8 1064 L1034.2 1059.3 L1035 1051.5 L1035.2 1048.9 L1036.2 1039 L1037.2 1032.4 L1037.5 1034.2 L1038.2 1018.9 L1038.8 1014 L1039.2 1013.7 L1040.2 1017.6 L1041.2 1016.5 L1042.2 1021.5 L1043.2 1019.5 L1043.8 1021.5 L1044.2 1024.4 L1045 1027 L1045.2 1027.4 L1046.2 1029 L1047.2 1027 L1048.2 1027.6 L1048.8 1019 L1049.2 1013 L1050 1001.5 L1050.2 1006.5 L1051.2 1014 L1052.2 1007.9 L1052.5 1011.6 L1053.2 1002.4 L1053.8 999 L1054.2 996 L1055 991.5 L1055.2 992.9 L1056.2 989 L1057.2 938.7 L1057.5 929 L1058.2 951 L1058.8 964 L1059.2 963.8 L1060 976.5 L1060.2 977.4 L1061.2 974 L1062.2 973.2 L1062.5 970.7 L1063.2 967.2 L1063.8 961.5 L1064.2 965.1 L1065 974.1 L1065.2 968.9 L1066.2 976.5 L1067.2 981.2 L1067.5 980.7 L1068.2 1003.6 L1068.8 984 L1069.2 982.1 L1070 981.3 L1070.2 982.7 L1071.2 971.5 L1072.2 975 L1072.5 969.2 L1073.2 974.2 L1073.8 966.5 L1074.2 986.3 L1075 986.7 L1075.2 986.9 L1076.2 1001.5 L1077 1064 L1077.2 1068.9 L1077.5 1070.2 L1078 1076.5 L1078.2 1076.6 L1079.2 1076.7 L1080 1076.5 L1080.2 1080.1 L1081.2 1092 L1082.2 1094.5 L1082.5 1095.2 L1083.2 1094.8 L1084.2 1095.3 L1085 1095.4 L1085.2 1096 L1086.2 1096.5 L1087.2 1096.6 L1087.5 1096.8 L1088.2 1096.9 L1089.2 1097.5 L1090 1097.8 L1090.2 1098.6 L1091.2 1102.8 L1092.2 1107.5 L1092.5 1109 L1093.2 1114 L1094.2 1118.2 L1095 1126.5 L1095.2 1124.7 L1096.2 1129 L1097.2 1099.4 L1097.5 1092 L1098.2 1082 L1098.8 1075.2 L1099.2 1075.3 L1100 1075.2 L1100.2 1075.9 L1101.2 1075.8 L1102 1075.2 L1102.2 1080.3 L1102.5 1084.1 L1103 1092 L1103.2 1092 L1104.2 1092 L1105 1092 L1105.2 1092 L1106.2 1092 L1107.2 1092 L1107.5 1092 L1108.2 1092 L1109.2 1092 L1110 1092 L1110.2 1093.7 L1111.2 1100.6 L1112.2 1107.5 L1112.5 1109 L1113.2 1111.3 L1113.8 1114 L1114.2 1118.4 L1115 1124 L1115.2 1122.3 L1116.2 1114 L1117.2 1105 L1117.5 1104 L1118.2 1102.3 L1118.8 1101.4 L1119.2 1100.3 L1120 1099 L1120.2 1099.6 L1121.2 1101.1 L1122.2 1103.3 L1122.5 1104 L1123.2 1107.8 L1124.2 1114 L1125 1119 L1125.2 1119 L1126.2 1120.7 L1127.2 1123.3 L1127.5 1124 L1128.2 1123.4 L1129.2 1122.7 L1130 1121.5 L1130.2 1121.9 L1131.2 1120.8 L1132.2 1123.8 L1132.5 1124 L1133.2 1123.4 L1134.2 1121.3 L1135 1121.5 L1135.2 1120.9 L1136.2 1115.8 L1137.2 1115.1 L1137.5 1114 L1138.2 1116.4 L1139.2 1120.2 L1140 1124 L1140.2 1123.7 L1141.2 1124.8 L1142.2 1125.8 L1142.5 1126.5 L1143.2 1122.7 L1144.2 1117.4 L1145 1114 L1145.2 1111.8 L1146.2 1109.8 L1147.2 1106.7 L1147.5 1106.5 L1148.2 1102.3 L1149.2 1096.3 L1150 1092 L1150.2 1094.7 L1151.2 1105.1 L1152.2 1116.1 L1152.5 1119 L1153.2 1120.5 L1154.2 1122.3 L1155 1124 L1155.2 1123 L1156.2 1124.4 L1157.2 1126.2 L1157.5 1126.5 L1158.2 1127.3 L1159.2 1128.6 L1160 1131.5 L1160.2 1131.7 L1161.2 1139.8 L1162.2 1142.9 L1162.5 1146.5 L1163.2 1147.2 L1164.2 1147.3 L1165 1149 L1165.2 1147 L1166.2 1155.1 L1167.2 1156.9 L1167.5 1161.5 L1168.2 1164.4 L1169.2 1167 L1170 1171.5 L1170.2 1171.9 L1171.2 1186.5 L1172.2 1178.6 L1172.5 1176.5 L1173.2 1158.8 L1174.2 1136.8 L1175 1119 L1175.2 1115.8 L1176.2 1116.6 L1177.2 1113.6 L1177.5 1114 L1178.2 1110.4 L1178.8 1109 L1179.2 1113.4 L1180 1119 L1180.2 1123.4 L1181.2 1141.5 L1181.8 1092 L1181.8 1092Z" fill="#000000"/>
<path d="M673.2 1092 L673.2 1092 L673.5 1026.5 L674.2 1029.4 L675.2 1028.6 L676.2 1033.4 L676.5 1031.5 L677.2 1034.4 L677.8 1036.9 L678.2 1040 L679 1039 L679.2 1039.6 L680.2 1046 L681.2 1047.7 L681.5 1049 L682.2 1047.6 L682.8 1047.8 L683.2 1050.2 L684 1046.5 L684.2 1043.8 L685.2 1039.1 L686.2 1032.7 L686.5 1029 L687 1023 L687.2 1020.3 L687.8 1014 L688.2 1013.6 L689 1018.8 L689.2 1018 L690.2 1019 L691 1047.9 L691.2 1052.4 L691.5 1061.5 L692.2 1061.1 L693.2 1062.3 L694 1061.5 L694.2 1063.7 L695.2 1071.6 L696.2 1080.2 L696.5 1082.2 L697.2 1088 L697.8 1092 L698.2 1095.7 L699 1101.5 L699.2 1102 L700.2 1103.7 L701.2 1105.7 L701.5 1106.5 L702.2 1109.7 L703.2 1113.3 L704 1116.5 L704.2 1115.9 L705.2 1116.2 L706.2 1116.6 L706.5 1116.5 L707.2 1114.1 L707.8 1112.9 L708.2 1110.1 L709 1109 L709.2 1111.3 L710.2 1120.6 L711 1129 L711.2 1125.7 L712.2 1118.5 L712.8 1114 L713.2 1113.5 L714 1112.3 L714.2 1112.1 L715.2 1111.5 L716.2 1116.9 L717.2 1122.9 L717.8 1126.5 L718.2 1125.4 L719.2 1123.5 L720.2 1121.5 L721.2 1120.8 L721.5 1118.9 L722.2 1119.3 L722.8 1119 L723.2 1120.5 L724.2 1122.8 L725.2 1126.5 L726.2 1128.9 L727.2 1136.6 L727.8 1139 L728.2 1136.9 L729 1133.6 L729.2 1133.7 L730.2 1129 L731.2 1127.3 L732.2 1123.6 L732.8 1124 L733.2 1123.2 L734 1121.3 L734.2 1121.2 L735.2 1119 L736.2 1115.1 L737.2 1114.7 L737.8 1114 L738.2 1112.9 L739 1111.7 L739.2 1112.6 L740.2 1111.5 L741.2 1109.8 L742.2 1109 L742.8 1109 L743.2 1107.4 L744 1106 L744.2 1104.8 L745.2 1104 L746.2 1110 L746.5 1111.5 L747.2 1111.7 L747.8 1111.3 L748.2 1111.1 L749 1111.5 L749.2 1110.3 L750.2 1109.4 L751.2 1107.6 L751.5 1109 L752.2 1109.6 L752.8 1111.8 L753.2 1111.7 L754 1114 L754.2 1117.5 L755.2 1129.9 L756 1139 L756.2 1143.9 L756.5 1148.1 L757 1159 L757.2 1157 L758.2 1147.3 L759 1139 L759.2 1142.3 L760.2 1151.5 L761 1159 L761.2 1156.5 L762.2 1143.7 L762.8 1139 L763.2 1133.4 L764.2 1131.7 L765.2 1126.5 L766.2 1126.9 L766.5 1122.2 L767.2 1131.1 L767.8 1131.5 L768.2 1128.7 L769.2 1126.7 L770.2 1124 L771.2 1120.7 L771.5 1121.9 L772.2 1118.3 L772.8 1119 L773.2 1117.4 L774.2 1119.5 L774.5 1119 L775.2 1102.8 L776 1092 L776.2 1090.8 L776.5 1089.7 L777.2 1086.5 L777.8 1084 L778.2 1087.1 L779 1092 L779.2 1092 L780.2 1092 L781 1092 L781.2 1092 L782.2 1092 L782.8 1092 L783.2 1092 L784.2 1092 L785.2 1092 L786.2 1092 L786.5 1092 L787 1106.5 L787.2 1105.3 L787.8 1107.5 L788.2 1107.6 L789 1109 L789.2 1108.4 L790.2 1103.3 L791 1101.5 L791.2 1096.5 L791.5 1092 L792.2 1091.6 L792.8 1091.3 L793.2 1091.1 L794 1090.7 L794.2 1090.5 L795.2 1090 L796.2 1089.6 L796.5 1089.7 L797.2 1088.9 L797.8 1088.8 L798.2 1088.5 L799.2 1087.9 L800.2 1087.3 L801.2 1087 L801.5 1086.7 L802.2 1086.4 L802.8 1086.2 L803.2 1085.7 L804.2 1085.1 L805.2 1085.6 L806.2 1084.7 L806.5 1084 L807.2 1081.5 L807.8 1078.8 L808.2 1076.8 L809 1074 L809.2 1074.5 L810.2 1077 L811.2 1078.2 L811.5 1079 L812.2 1074.7 L812.8 1073.2 L813.2 1069.7 L814 1064 L814.2 1063.3 L815.2 1063.9 L816.2 1050.6 L816.5 1049 L817.2 1043.5 L817.8 1044 L818.2 1044.4 L819 1029 L819.2 1031.4 L820.2 1031.5 L821.2 1039.1 L821.5 1029 L822.2 1028.8 L822.8 1036.1 L823.2 1033.1 L824 1026.5 L824.2 1027.5 L825.2 1030.6 L826.2 1023.2 L826.5 1024 L827.2 1028.6 L828.2 1032.1 L829 1029 L829.2 1030.5 L830.2 1024.4 L831.2 1021.2 L831.5 1021.5 L832.2 1023.4 L833.2 1031.6 L834 1024 L834.2 1025.9 L835.2 1026.9 L836.2 1025.6 L836.5 1026.5 L837.2 1024.7 L838.2 1020.3 L839 1016.5 L839.2 1018 L840.2 1022.5 L841.2 1028.7 L841.5 1029 L842.2 1032.2 L843.2 1034.5 L844 1031.5 L844.2 1032.6 L845.2 1035.4 L846.2 1035 L846.5 1036.5 L847.2 1040.7 L848.2 1041 L849 1039 L849.2 1042 L850.2 1043.2 L851.2 1049.4 L851.5 1049 L852.2 1049 L853.2 1045.4 L854 1044 L854.2 1045.2 L855.2 1041.9 L856.2 1044.1 L856.5 1041.5 L857.2 1046.6 L858.2 1045.2 L859 1044 L859.2 1043.4 L860.2 1041.9 L861.2 1040.8 L861.5 1041.5 L862.2 1041.3 L863.2 1042.7 L864 1044 L864.2 1043.5 L865.2 1043.2 L866.2 1045.4 L866.5 1041.5 L867.2 1036.8 L868.2 1030.6 L869 1026.5 L869.2 1031.3 L870.2 1027 L871.2 1031.3 L871.5 1026.5 L872.2 1027 L873.2 1024.6 L874 1024 L874.2 1027.4 L875.2 1024.1 L876.2 1021.5 L876.5 1021.5 L877.2 1023.6 L878.2 1023.3 L879 1024 L879.2 1023.6 L880.2 1018.2 L881.2 1016.4 L881.5 1011.5 L882.2 1019.8 L883.2 1014.1 L884 1016.5 L884.2 1018.8 L885.2 1022 L886.2 1019.9 L886.5 1021.5 L887.2 1021.2 L888.2 1018.3 L889 1019 L889.2 1031 L890.2 1019.5 L891.2 1016.6 L891.5 1016.5 L892.2 1016.1 L893.2 1015.8 L894 1016.5 L894.2 1016.9 L895.2 1015.1 L896.2 1012.8 L896.5 1014 L897.2 1010.8 L897.8 1010.5 L898.2 1008.6 L899 999 L899.2 1000.2 L900.2 999.7 L901.2 994.2 L901.5 994 L902.2 991.4 L903.2 990.7 L904 989 L904.2 989 L905.2 986 L906.2 987.3 L906.5 986.5 L907.2 984.3 L908.2 978.3 L909 976.5 L909.2 982.1 L910.2 983.4 L911.2 977.1 L911.5 979 L912.2 980.9 L913.2 988.7 L914 989 L914.2 990.2 L915.2 991.8 L916.2 1001.2 L916.5 994 L917.2 995.4 L918.2 989.6 L919 989 L919.2 987.6 L920.2 991.7 L921.2 992.2 L921.5 994 L922.2 995.6 L923.2 1003.6 L923.5 999 L924.2 1024.9 L925.2 1044 L926.2 1041.1 L927.2 1042.9 L927.8 1038.4 L928.2 1037.3 L929 1034 L929.2 1033.2 L930.2 1030.9 L931.2 1029.5 L931.5 1029 L932.2 1030 L932.8 1029.2 L933.2 1029.7 L934 1031.5 L934.2 1033.1 L935.2 1033.8 L936.2 1038.1 L936.5 1036.5 L937.2 1027.4 L937.8 1024.4 L938.2 1015 L939 1001.5 L939.2 1001.4 L940.2 1003.1 L941.2 1002.5 L941.5 1001.5 L942.2 1004.7 L943.2 1000.7 L944 996.5 L944.2 999.6 L945.2 997.2 L946.2 998.4 L946.5 994 L947.2 994.9 L948.2 994.7 L949 996.5 L949.2 998.4 L950.2 1003 L951.2 1003 L951.5 999 L952.2 1011.3 L953.2 1004.1 L954 1004 L954.2 1004.4 L955.2 1014.8 L956.2 1013 L956.5 1014 L957.2 1016.2 L958.2 1021.8 L959 1019 L959.2 1030.8 L960 1054 L960.2 1055.2 L961.2 1053.8 L962.2 1060.6 L962.5 1054 L963.2 1052.6 L964.2 1052.1 L965 1049 L965.2 1051.9 L966.2 1041.7 L967.2 1032.4 L967.5 1029 L968.2 1025.2 L969.2 1023.5 L970 1016.5 L970.2 1016.6 L971.2 1022.3 L972.2 1010.3 L972.5 1009 L973.2 1010.3 L974.2 1013.1 L975 1014 L975.2 1019.5 L976.2 1016.7 L977.2 1018.8 L977.5 1016.5 L978.2 1019.6 L979.2 1015.8 L980 1014 L980.2 1016.8 L981.2 1016.5 L982.2 1017.7 L982.5 1019 L983.2 1033.1 L983.8 1039 L984.2 1062.6 L985 1092 L985.2 1091.1 L986.2 1086.5 L987.2 1078.1 L987.5 1075.2 L988.2 1069.5 L988.8 1064 L989.2 1062 L990 1058 L990.2 1057.7 L991.2 1051.5 L992.2 1051.9 L993.2 1048.9 L993.8 1049 L994.2 1051 L995 1046.6 L995.2 1045.2 L996.2 1044 L997.2 1045.2 L998.2 1046.5 L998.8 1046.5 L999.2 1047.5 L1000 1051.7 L1000.2 1048.1 L1001.2 1049 L1002.2 1047.1 L1003.2 1046.3 L1003.8 1046.5 L1004.2 1044.8 L1005 1045.7 L1005.2 1044.6 L1006.2 1041.5 L1007.2 1041.5 L1008.2 1043.5 L1008.8 1044 L1009.2 1049.1 L1010 1047.8 L1010.2 1048 L1011.2 1049 L1012.2 1049.8 L1013.2 1046.3 L1013.8 1046.5 L1014.2 1047 L1015.2 1049.2 L1015.5 1049 L1016.2 1075.5 L1016.8 1092 L1017.2 1100 L1017.5 1104 L1018.2 1112.1 L1018.8 1119 L1019.2 1123.3 L1020 1129 L1020.2 1129.3 L1021.2 1132.7 L1021.8 1134 L1022.2 1106.6 L1022.5 1094 L1023.2 1092.8 L1023.8 1092 L1024.2 1085.7 L1025 1076.5 L1025.2 1078.8 L1026.2 1075.4 L1027.2 1074.4 L1027.5 1074 L1028.2 1079.9 L1028.8 1081.5 L1029.2 1084.7 L1030 1089 L1030.2 1089.6 L1031.2 1092 L1032.2 1085.5 L1032.5 1084 L1033.2 1072.4 L1033.8 1064 L1034.2 1059.3 L1035 1051.5 L1035.2 1048.9 L1036.2 1039 L1037.2 1032.4 L1037.5 1034.2 L1038.2 1018.9 L1038.8 1014 L1039.2 1013.7 L1040.2 1017.6 L1041.2 1016.5 L1042.2 1021.5 L1043.2 1019.5 L1043.8 1021.5 L1044.2 1024.4 L1045 1027 L1045.2 1027.4 L1046.2 1029 L1047.2 1027 L1048.2 1027.6 L1048.8 1019 L1049.2 1014 L1050 1004 L1050.2 1008.9 L1051.2 1016.5 L1052.2 1012.4 L1052.5 1016.3 L1053.2 1008.9 L1053.8 1006.5 L1054.2 1001.5 L1055 994 L1055.2 994.9 L1056.2 989 L1057.2 950.9 L1057.5 944 L1058.2 961.5 L1058.8 971.5 L1059.2 970.9 L1060 982.3 L1060.2 983.1 L1061.2 979 L1062.2 984.8 L1062.5 984.1 L1063.2 985.7 L1063.8 984 L1064.2 984 L1065 987.3 L1065.2 981.1 L1066.2 981.5 L1067.2 986.1 L1067.5 985.7 L1068.2 1007.6 L1068.8 989 L1069.2 988.6 L1070 989.8 L1070.2 991.7 L1071.2 984 L1072.2 989.8 L1072.5 985.4 L1073.2 991.7 L1073.8 986.5 L1074.2 1001.5 L1075 998.9 L1075.2 997.9 L1076.2 1006.5 L1077 1064 L1077.2 1072.5 L1077.5 1078 L1078 1092 L1078.2 1092.6 L1079.2 1094.8 L1080 1096.5 L1080.2 1096.1 L1081.2 1095.3 L1082.2 1094.2 L1082.5 1094 L1083.2 1094.2 L1084.2 1095.2 L1085 1096.5 L1085.2 1096.2 L1086.2 1095.8 L1087.2 1095.2 L1087.5 1095.2 L1088.2 1095.4 L1089.2 1096.2 L1090 1096.5 L1090.2 1097.5 L1091.2 1102.2 L1092.2 1107.3 L1092.5 1109 L1093.2 1114 L1094.2 1118.2 L1095 1126.5 L1095.2 1124.7 L1096.2 1129 L1097.2 1100.9 L1097.5 1094 L1098.2 1093.4 L1098.8 1093 L1099.2 1092.6 L1100 1092 L1100.2 1092.5 L1101.2 1094.2 L1102 1095.5 L1102.2 1095.8 L1102.5 1096.5 L1103 1100.6 L1103.2 1102.5 L1104.2 1111.3 L1105 1119 L1105.2 1119 L1106.2 1124 L1107.2 1105.5 L1107.5 1101.5 L1108.2 1098.8 L1109.2 1094.8 L1110 1092 L1110.2 1090.9 L1111.2 1086.5 L1112.2 1090.9 L1112.5 1092 L1113.2 1091.6 L1113.8 1091.4 L1114.2 1091.2 L1115 1090.8 L1115.2 1090.7 L1116.2 1090.2 L1117.2 1089.9 L1117.5 1089.6 L1118.2 1089.3 L1118.8 1089 L1119.2 1090.3 L1120 1092 L1120.2 1092.7 L1121.2 1095.3 L1122.2 1098.2 L1122.5 1099 L1123.2 1101.6 L1124.2 1105.7 L1125 1109 L1125.2 1109.2 L1126.2 1110.9 L1127.2 1113.4 L1127.5 1114 L1128.2 1111.1 L1129.2 1107.2 L1130 1104 L1130.2 1104 L1131.2 1103.2 L1132.2 1104 L1132.5 1104 L1133.2 1104.8 L1134.2 1105.3 L1135 1106.5 L1135.2 1106.8 L1136.2 1106.6 L1137.2 1109 L1137.5 1109 L1138.2 1109.3 L1139.2 1110.2 L1140 1111.5 L1140.2 1110.9 L1141.2 1110 L1142.2 1109 L1142.5 1109 L1143.2 1107.5 L1144.2 1105.3 L1145 1104 L1145.2 1102.9 L1146.2 1102.5 L1147.2 1101.4 L1147.5 1101.5 L1148.2 1098.8 L1149.2 1094.8 L1150 1092 L1150.2 1093.9 L1151.2 1101.5 L1152.2 1105.4 L1152.5 1106.5 L1153.2 1107.2 L1154.2 1108.1 L1155 1109 L1155.2 1108.6 L1156.2 1109.8 L1157.2 1111.2 L1157.5 1111.5 L1158.2 1111.9 L1159.2 1112.5 L1160 1114 L1160.2 1114.8 L1161.2 1122 L1162.2 1126.1 L1162.5 1129 L1163.2 1131.9 L1164.2 1135.3 L1165 1139 L1165.2 1137.3 L1166.2 1143.9 L1167.2 1145.2 L1167.5 1149 L1168.2 1151.9 L1169.2 1154.7 L1170 1159 L1170.2 1157.4 L1171.2 1162.5 L1172.2 1163.6 L1172.5 1164 L1173.2 1148.6 L1174.2 1129.5 L1175 1114 L1175.2 1111.3 L1176.2 1111.6 L1177.2 1108.8 L1177.5 1109 L1178.2 1109.9 L1178.8 1110.7 L1179.2 1112.9 L1180 1114 L1180.2 1116.9 L1181.2 1129 L1181.8 1092 L1181.8 1092Z" fill="#c00000"/>
<path d="M673.2 1092 L673.2 1092 L673.5 1065.2 L674.2 1066.6 L675.2 1066.4 L676.2 1068.5 L676.5 1067.8 L677.2 1068.4 L677.8 1069.1 L678.2 1070 L679 1069 L679.2 1068.7 L680.2 1069.2 L681.2 1067.3 L681.5 1067.6 L682.2 1066.5 L682.8 1066.5 L683.2 1067.9 L684 1065.8 L684.2 1065 L685.2 1065.5 L686.2 1065 L686.5 1064 L687 1063.7 L687.2 1063.6 L687.8 1063.2 L688.2 1062.3 L689 1063.2 L689.2 1062.6 L690.2 1061.5 L691 1063.5 L691.2 1060.7 L691.5 1060.8 L692.2 1060.4 L693.2 1061.3 L694 1060.2 L694.2 1060.3 L695.2 1059.5 L696.2 1060.1 L696.5 1059 L697.2 1059.7 L697.8 1059.8 L698.2 1060.1 L699 1060.4 L699.2 1059.9 L700.2 1060.2 L701.2 1061.6 L701.5 1061.3 L702.2 1061.3 L703.2 1062.5 L704 1062.8 L704.2 1063.9 L705.2 1065.2 L706.2 1066.4 L706.5 1067.8 L707.2 1068.3 L707.8 1069 L708.2 1072.3 L709 1074.2 L709.2 1075.2 L710.2 1079 L711 1078 L711.2 1078.2 L712.2 1076.2 L712.8 1075.8 L713.2 1075 L714 1074 L714.2 1074.5 L715.2 1074.7 L716.2 1075.9 L717.2 1076.5 L717.8 1076.5 L718.2 1076.7 L719.2 1077 L720.2 1077.1 L721.2 1077.5 L721.5 1077.8 L722.2 1078.1 L722.8 1078.3 L723.2 1078.3 L724.2 1079 L725.2 1079 L726.2 1080.5 L727.2 1080.3 L727.8 1080.8 L728.2 1081 L729 1081.5 L729.2 1081.4 L730.2 1082.5 L731.2 1082.6 L732.2 1083.5 L732.8 1083.5 L733.2 1083.6 L734 1084 L734.2 1084.1 L735.2 1084.7 L736.2 1085.6 L737.2 1085.7 L737.8 1086.2 L738.2 1086.3 L739 1086.5 L739.2 1086.3 L740.2 1085.7 L741.2 1085.1 L742.2 1084.3 L742.8 1083.8 L743.2 1083.7 L744 1082.8 L744.2 1083.5 L745.2 1083.1 L746.2 1082 L746.5 1081.8 L747.2 1081.6 L747.8 1081.5 L748.2 1081.8 L749 1082 L749.2 1082.4 L750.2 1082.6 L751.2 1083.3 L751.5 1082.6 L752.2 1083.1 L752.8 1082.8 L753.2 1083.6 L754 1084 L754.2 1084.1 L755.2 1085.2 L756 1086.4 L756.2 1086.3 L756.5 1086.5 L757 1087 L757.2 1087.2 L758.2 1088.2 L759 1089 L759.2 1089.2 L760.2 1090.2 L761 1091 L761.2 1091.2 L762.2 1092.2 L762.8 1092.8 L763.2 1092.5 L764.2 1092 L765.2 1091.6 L766.2 1091.1 L766.5 1091 L767.2 1090.7 L767.8 1090.5 L768.2 1090.4 L769.2 1089.9 L770.2 1089.6 L771.2 1089.2 L771.5 1089 L772.2 1088.7 L772.8 1088.6 L773.2 1088.1 L774.2 1087.1 L774.5 1086.9 L775.2 1086.5 L776 1086 L776.2 1085.1 L776.5 1084.8 L777.2 1084.1 L777.8 1083.1 L778.2 1082.3 L779 1081.5 L779.2 1081.2 L780.2 1080.6 L781 1079.4 L781.2 1078.3 L782.2 1077.2 L782.8 1076.5 L783.2 1076.1 L784.2 1077 L785.2 1074.9 L786.2 1075.3 L786.5 1074 L787 1074.1 L787.2 1076.2 L787.8 1074.6 L788.2 1075.4 L789 1075.2 L789.2 1075 L790.2 1076.9 L791 1076 L791.2 1077 L791.5 1076.4 L792.2 1077 L792.8 1076.5 L793.2 1076.4 L794 1076.8 L794.2 1076.9 L795.2 1077.4 L796.2 1078.1 L796.5 1077.8 L797.2 1077.3 L797.8 1077.9 L798.2 1077.9 L799.2 1077.1 L800.2 1076.7 L801.2 1077.1 L801.5 1076.5 L802.2 1076.8 L802.8 1076.7 L803.2 1076 L804.2 1075.5 L805.2 1077.6 L806.2 1076.6 L806.5 1075.2 L807.2 1076.1 L807.8 1075.2 L808.2 1075.5 L809 1076 L809.2 1075.9 L810.2 1076.7 L811.2 1076.1 L811.5 1076.5 L812.2 1077.4 L812.8 1078.9 L813.2 1078.9 L814 1079 L814.2 1079.8 L815.2 1083.7 L816.2 1083.5 L816.5 1084 L817.2 1084.8 L817.8 1085.9 L818.2 1086.8 L819 1086.5 L819.2 1086.9 L820.2 1087.5 L821.2 1088.6 L821.5 1088.4 L822.2 1088.7 L822.8 1089 L823.2 1089.7 L824 1090.5 L824.2 1090.5 L825.2 1091.5 L826.2 1092.5 L826.5 1092.8 L827.2 1092.9 L828.2 1092.9 L829 1093.1 L829.2 1093.1 L830.2 1093.3 L831.2 1093.5 L831.5 1093.5 L832.2 1093.4 L833.2 1093.1 L834 1093.1 L834.2 1093.1 L835.2 1092.9 L836.2 1092.8 L836.5 1092.8 L837.2 1091.6 L838.2 1090.1 L839 1089 L839.2 1089 L840.2 1089 L841.2 1089 L841.5 1088.9 L842.2 1089.1 L843.2 1089.2 L844 1089 L844.2 1089.1 L845.2 1089.4 L846.2 1089.5 L846.5 1089.7 L847.2 1090 L848.2 1090.2 L849 1090.2 L849.2 1090.3 L850.2 1089.9 L851.2 1089.8 L851.5 1089.6 L852.2 1089.5 L853.2 1089.2 L854 1089 L854.2 1089.1 L855.2 1089 L856.2 1089.1 L856.5 1089.3 L857.2 1089.3 L858.2 1089.1 L859 1089 L859.2 1089 L860.2 1088.9 L861.2 1088.9 L861.5 1089 L862.2 1088.9 L863.2 1089 L864 1089.1 L864.2 1089 L865.2 1089 L866.2 1089.2 L866.5 1089 L867.2 1088.9 L868.2 1088.7 L869 1088.8 L869.2 1088.8 L870.2 1088.4 L871.2 1088.5 L871.5 1088.2 L872.2 1088.1 L873.2 1087.9 L874 1087.8 L874.2 1087.9 L875.2 1087.5 L876.2 1087.2 L876.5 1087.1 L877.2 1087 L878.2 1086.7 L879 1086.5 L879.2 1086.7 L880.2 1087.2 L881.2 1087.8 L881.5 1087.7 L882.2 1088.5 L883.2 1088.6 L884 1089 L884.2 1089 L885.2 1088.8 L886.2 1088.4 L886.5 1088.4 L887.2 1088.2 L888.2 1087.9 L889 1087.8 L889.2 1088.4 L890.2 1087.5 L891.2 1087.2 L891.5 1087.2 L892.2 1086.9 L893.2 1086.6 L894 1086.5 L894.2 1086.4 L895.2 1085.7 L896.2 1084.9 L896.5 1084.8 L897.2 1084.5 L897.8 1084 L898.2 1082.8 L899 1080.4 L899.2 1079 L900.2 1075.2 L901.2 1075.2 L901.5 1076.5 L902.2 1075.1 L903.2 1075.3 L904 1075.2 L904.2 1075.2 L905.2 1074.6 L906.2 1074.8 L906.5 1075.1 L907.2 1074.6 L908.2 1074 L909 1074 L909.2 1074.8 L910.2 1074.9 L911.2 1073.7 L911.5 1074.5 L912.2 1073.8 L913.2 1074.5 L914 1074 L914.2 1074 L915.2 1073.4 L916.2 1074.4 L916.5 1072.4 L917.2 1072.9 L918.2 1071.7 L919 1071.5 L919.2 1070.6 L920.2 1069.1 L921.2 1066.7 L921.5 1066.5 L922.2 1069.2 L923.2 1074.1 L923.5 1074 L924.2 1078.5 L925.2 1081.5 L926.2 1080.1 L927.2 1079.9 L927.8 1078.4 L928.2 1077.8 L929 1076.5 L929.2 1076.2 L930.2 1075.4 L931.2 1074.8 L931.5 1074.9 L932.2 1074.1 L932.8 1073.4 L933.2 1073 L934 1072.8 L934.2 1072.8 L935.2 1071.4 L936.2 1071.3 L936.5 1070.2 L937.2 1070 L937.8 1070.7 L938.2 1069.4 L939 1067.8 L939.2 1067.8 L940.2 1068.5 L941.2 1068.6 L941.5 1069.2 L942.2 1069.8 L943.2 1069.5 L944 1069 L944.2 1069.7 L945.2 1069.2 L946.2 1069.4 L946.5 1068.7 L947.2 1068.2 L948.2 1067.7 L949 1067.8 L949.2 1068.1 L950.2 1068.8 L951.2 1068.3 L951.5 1067.3 L952.2 1069.9 L953.2 1067.2 L954 1066.5 L954.2 1066.3 L955.2 1068 L956.2 1065.9 L956.5 1066.8 L957.2 1065.9 L958.2 1067 L959 1065.2 L959.2 1068.6 L960 1074 L960.2 1074.7 L961.2 1074.6 L962.2 1078.1 L962.5 1075.2 L963.2 1077.9 L964.2 1081.8 L965 1084 L965.2 1084.6 L966.2 1083.2 L967.2 1082 L967.5 1081.5 L968.2 1081.9 L969.2 1082.8 L970 1082.8 L970.2 1082.9 L971.2 1084.1 L972.2 1083.4 L972.5 1084.3 L973.2 1083.5 L974.2 1083.9 L975 1084 L975.2 1084.6 L976.2 1084.5 L977.2 1084.8 L977.5 1084.6 L978.2 1085.2 L979.2 1085.2 L980 1085.2 L980.2 1085.5 L981.2 1085.7 L982.2 1085.9 L982.5 1086.4 L983.2 1086.5 L983.8 1086.5 L984.2 1088.9 L985 1092 L985.2 1090.9 L986.2 1085.6 L987.2 1080.8 L987.5 1079 L988.2 1080.3 L988.8 1080.1 L989.2 1080.9 L990 1081.5 L990.2 1082 L991.2 1082 L992.2 1082.9 L993.2 1083 L993.8 1083.7 L994.2 1084.2 L995 1084 L995.2 1084 L996.2 1085.5 L997.2 1085.2 L998.2 1085.7 L998.8 1086.1 L999.2 1086.2 L1000 1086.5 L1000.2 1086.6 L1001.2 1087.1 L1002.2 1087 L1003.2 1087.2 L1003.8 1087.5 L1004.2 1087.5 L1005 1087.8 L1005.2 1087.9 L1006.2 1088.1 L1007.2 1088.2 L1008.2 1088.6 L1008.8 1088.7 L1009.2 1089.1 L1010 1089 L1010.2 1089.1 L1011.2 1089.6 L1012.2 1089.8 L1013.2 1090.1 L1013.8 1090.2 L1014.2 1090.1 L1015.2 1089.8 L1015.5 1090 L1016.2 1089.5 L1016.8 1089.5 L1017.2 1089.1 L1017.5 1089 L1018.2 1088.8 L1018.8 1088.8 L1019.2 1088.1 L1020 1087.8 L1020.2 1087.7 L1021.2 1087.1 L1021.8 1086.9 L1022.2 1086.9 L1022.5 1086.5 L1023.2 1087.8 L1023.8 1087.8 L1024.2 1088.2 L1025 1089 L1025.2 1089.7 L1026.2 1090.5 L1027.2 1091.7 L1027.5 1092 L1028.2 1092.6 L1028.8 1093 L1029.2 1093.4 L1030 1094 L1030.2 1094.6 L1031.2 1096.8 L1032.2 1099.8 L1032.5 1100.2 L1033.2 1099 L1033.8 1098.5 L1034.2 1097.6 L1035 1096.5 L1035.2 1096.1 L1036.2 1094.6 L1037.2 1093.1 L1037.5 1092.8 L1038.2 1092.2 L1038.8 1091.9 L1039.2 1091.6 L1040.2 1090.9 L1041.2 1090.2 L1042.2 1090 L1043.2 1089.5 L1043.8 1089.5 L1044.2 1089.3 L1045 1089 L1045.2 1088.9 L1046.2 1088.3 L1047.2 1088 L1048.2 1087.8 L1048.8 1087.4 L1049.2 1086.9 L1050 1086.5 L1050.2 1086.5 L1051.2 1086.1 L1052.2 1085.4 L1052.5 1085.2 L1053.2 1084.5 L1053.8 1084.7 L1054.2 1083.5 L1055 1082.8 L1055.2 1082.7 L1056.2 1081.7 L1057.2 1080.3 L1057.5 1080.2 L1058.2 1080 L1058.8 1079.9 L1059.2 1079.2 L1060 1079 L1060.2 1080.3 L1061.2 1081.8 L1062.2 1083.8 L1062.5 1084 L1063.2 1085.7 L1063.8 1086.5 L1064.2 1087.5 L1065 1089 L1065.2 1089.1 L1066.2 1089.6 L1067.2 1090.2 L1067.5 1090.2 L1068.2 1090.9 L1068.8 1091 L1069.2 1091.1 L1070 1091.5 L1070.2 1091.6 L1071.2 1092 L1072.2 1078.2 L1072.5 1074 L1073.2 1072.1 L1073.8 1068.6 L1074.2 1069.7 L1075 1064 L1075.2 1063.3 L1076.2 1061.5 L1077 1067.4 L1077.2 1071.1 L1077.5 1071.5 L1078 1072.8 L1078.2 1073.9 L1079.2 1076.9 L1080 1079 L1080.2 1079.6 L1081.2 1079.5 L1082.2 1080.4 L1082.5 1080.2 L1083.2 1083 L1084.2 1082.6 L1085 1081.5 L1085.2 1081.9 L1086.2 1081.9 L1087.2 1082.5 L1087.5 1082.4 L1088.2 1082.9 L1089.2 1082.5 L1090 1082.8 L1090.2 1083.1 L1091.2 1083.2 L1092.2 1083 L1092.5 1082.9 L1093.2 1082.9 L1094.2 1083.7 L1095 1082.8 L1095.2 1083.4 L1096.2 1083.2 L1097.2 1082.8 L1097.5 1082.6 L1098.2 1082.8 L1098.8 1082.6 L1099.2 1082.8 L1100 1082.8 L1100.2 1083.2 L1101.2 1083.3 L1102 1083.6 L1102.2 1083.9 L1102.5 1083.9 L1103 1083.9 L1103.2 1084.1 L1104.2 1084.2 L1105 1084 L1105.2 1084.8 L1106.2 1086.7 L1107.2 1088.6 L1107.5 1089 L1108.2 1089.9 L1109.2 1091.1 L1110 1092 L1110.2 1092.7 L1111.2 1095.5 L1112.2 1098.4 L1112.5 1099 L1113.2 1100.9 L1113.8 1102.7 L1114.2 1104.4 L1115 1106.5 L1115.2 1106.4 L1116.2 1104.9 L1117.2 1103.4 L1117.5 1104 L1118.2 1101.5 L1118.8 1100.1 L1119.2 1098.6 L1120 1096.5 L1120.2 1096.7 L1121.2 1096.9 L1122.2 1097.5 L1122.5 1097.8 L1123.2 1097.9 L1124.2 1098.5 L1125 1099 L1125.2 1098.9 L1126.2 1099.1 L1127.2 1099.5 L1127.5 1099.5 L1128.2 1099.9 L1129.2 1100.2 L1130 1100.2 L1130.2 1100.3 L1131.2 1099.7 L1132.2 1100.3 L1132.5 1099.7 L1133.2 1100.3 L1134.2 1100 L1135 1100.2 L1135.2 1100.4 L1136.2 1099.9 L1137.2 1101 L1137.5 1100.9 L1138.2 1100.8 L1139.2 1101.1 L1140 1101.5 L1140.2 1101.2 L1141.2 1100.8 L1142.2 1100.3 L1142.5 1100.1 L1143.2 1099.9 L1144.2 1099.3 L1145 1099 L1145.2 1098.2 L1146.2 1097.1 L1147.2 1095.7 L1147.5 1095.4 L1148.2 1094.5 L1149.2 1093 L1150 1092 L1150.2 1093 L1151.2 1096.6 L1152.2 1100.5 L1152.5 1101.5 L1153.2 1101.7 L1154.2 1101.9 L1155 1101.2 L1155.2 1101.8 L1156.2 1102.2 L1157.2 1102.7 L1157.5 1102.8 L1158.2 1102.7 L1159.2 1102.8 L1160 1103.5 L1160.2 1103.1 L1161.2 1103.9 L1162.2 1103.5 L1162.5 1104 L1163.2 1103.8 L1164.2 1103.4 L1165 1103.3 L1165.2 1102.7 L1166.2 1103 L1167.2 1102.3 L1167.5 1102.8 L1168.2 1103.1 L1169.2 1103.4 L1170 1103.9 L1170.2 1103.7 L1171.2 1104.8 L1172.2 1105.1 L1172.5 1105.2 L1173.2 1105.3 L1174.2 1105.9 L1175 1106 L1175.2 1104.5 L1176.2 1106.2 L1177.2 1105.9 L1177.5 1106.5 L1178.2 1105.1 L1178.8 1104.3 L1179.2 1104.4 L1180 1103 L1180.2 1102.8 L1181.2 1101.5 L1181.8 1092 L1181.8 1092Z" fill="#009a00"/>
<rect x="662.7" y="893.7" width="534.8" height="290.1" fill="none" stroke="#1a1a1a" stroke-width="1.8"/>
<text class="t" x="653.9" y="897.6" font-size="12.5" text-anchor="end" textLength="16.8" lengthAdjust="spacingAndGlyphs">50</text>
<text class="t" x="653.9" y="935.9" font-size="12.5" text-anchor="end" textLength="16.8" lengthAdjust="spacingAndGlyphs">40</text>
<text class="t" x="653.9" y="973.4" font-size="12.5" text-anchor="end" textLength="16.8" lengthAdjust="spacingAndGlyphs">30</text>
<text class="t" x="653.9" y="1006.6" font-size="12.5" text-anchor="end" textLength="16.8" lengthAdjust="spacingAndGlyphs">20</text>
<text class="t" x="653.9" y="1043.7" font-size="12.5" text-anchor="end" textLength="16.8" lengthAdjust="spacingAndGlyphs">10</text>
<text class="t" x="653.9" y="1080.9" font-size="12.5" text-anchor="end" textLength="8.4" lengthAdjust="spacingAndGlyphs">0</text>
<text class="t" x="653.9" y="1117.4" font-size="12.5" text-anchor="end" textLength="22.8" lengthAdjust="spacingAndGlyphs">-10</text>
<text class="t" x="653.9" y="1155.4" font-size="12.5" text-anchor="end" textLength="22.8" lengthAdjust="spacingAndGlyphs">-20</text>
<text class="t" x="653.9" y="1187.7" font-size="12.5" text-anchor="end" textLength="22.8" lengthAdjust="spacingAndGlyphs">-30</text>
<path d="M662.7 932h6.5M1197.5 932h-6M662.7 969.5h6.5M1197.5 969.5h-6M662.7 1002.8h6.5M1197.5 1002.8h-6M662.7 1039.8h6.5M1197.5 1039.8h-6M662.7 1077h6.5M1197.5 1077h-6M662.7 1113.5h6.5M1197.5 1113.5h-6M662.7 1151.5h6.5M1197.5 1151.5h-6M804 893.7v4.5M804 1183.8v-4.5M936 893.7v4.5M936 1183.8v-4.5M1080 893.7v4.5M1080 1183.8v-4.5" stroke="#1a1a1a" stroke-width="1.6" fill="none"/>
<text class="t" x="662.5" y="1200.4" font-size="11.8" text-anchor="middle" textLength="46" lengthAdjust="spacingAndGlyphs">2020.7</text>
<text class="t" x="802.2" y="1200.4" font-size="11.8" text-anchor="middle" textLength="46" lengthAdjust="spacingAndGlyphs">2021.1</text>
<text class="t" x="937" y="1200.4" font-size="11.8" text-anchor="middle" textLength="46" lengthAdjust="spacingAndGlyphs">2021.7</text>
<text class="t" x="1077" y="1200.4" font-size="11.8" text-anchor="middle" textLength="46" lengthAdjust="spacingAndGlyphs">2022.1</text>
<text class="t" x="910.5" y="878.8" font-size="16" textLength="56.3" lengthAdjust="spacingAndGlyphs">SP500</text>
<rect x="803.7" y="1214.5" width="277.6" height="21.3" fill="#fff" stroke="#222" stroke-width="1.2"/>
<rect x="835.5" y="1223.2" width="7.5" height="5" fill="#000000"/>
<text class="l" x="846.9" y="1229.4" font-size="12" textLength="33" lengthAdjust="spacingAndGlyphs">Total</text>
<rect x="911.7" y="1223.2" width="7.5" height="5" fill="#c00000"/>
<text class="l" x="923" y="1229.4" font-size="12" textLength="57.5" lengthAdjust="spacingAndGlyphs">1-5 days</text>
<rect x="1013" y="1223.2" width="7.5" height="5" fill="#00a000"/>
<text class="l" x="1024" y="1229.4" font-size="12" textLength="30" lengthAdjust="spacingAndGlyphs">5-inf</text>
<path d="M52.2 1463.5 L52.2 1463.5 L52.5 1531.5 L53.2 1530.9 L54.2 1528.3 L55.2 1526 L56 1526.5 L56.2 1527.2 L57.2 1514.5 L58.2 1521 L59.2 1521.7 L59.8 1524 L60.2 1509.7 L61.2 1520.6 L62.2 1516.9 L63.2 1515.3 L63.5 1514 L64.2 1508.3 L65.2 1501.9 L66 1501.5 L66.2 1501.2 L67.2 1503.6 L68.2 1508.1 L68.5 1511.5 L69.2 1509.9 L70.2 1512.4 L71 1514 L71.2 1512.5 L72.2 1511 L73.2 1508.1 L74.2 1506.2 L74.8 1506.5 L75.2 1505.6 L76 1503.2 L76.2 1504 L77.2 1503.3 L78.2 1499.9 L78.5 1501.5 L79.2 1501.3 L80 1502.5 L80.2 1500.9 L81 1498 L81.2 1500 L82.2 1496 L83.2 1498.2 L84.2 1494.5 L85 1493.2 L85.2 1496.1 L85.8 1502.3 L86 1506.2 L86.2 1508.5 L87 1519.2 L87.2 1514.1 L88.2 1495.9 L89.2 1480 L89.5 1479.1 L90.2 1476.2 L90.5 1475.8 L90.8 1476.5 L91 1476.9 L91.2 1478.6 L92.2 1482.1 L92.5 1483.2 L93.2 1483.7 L94.2 1484.2 L94.5 1484.2 L95.2 1480.7 L95.8 1478.3 L96 1476.1 L96.2 1475.2 L96.8 1473.2 L97 1472.9 L97.2 1472.7 L98 1471.8 L98.2 1474.9 L98.8 1482 L99.2 1490 L100 1496.8 L100.2 1492.3 L101 1488.2 L101.2 1487.4 L101.8 1483.2 L102.2 1484.8 L103.2 1490 L104.2 1487.3 L105 1485 L105.2 1484.1 L106 1480.6 L106.2 1479 L106.8 1476.8 L107.2 1478.9 L108.2 1483.2 L109.2 1483.2 L110 1483.2 L110.2 1483.4 L111 1483.4 L111.2 1484.9 L111.8 1485 L112.2 1485.5 L113.2 1486.8 L114.2 1490.9 L115 1495 L115.2 1491.6 L116 1487.7 L116.2 1484.1 L116.8 1481.8 L117.2 1482.5 L118.2 1486.8 L119.2 1480.6 L120 1476.8 L120.2 1476.9 L121 1478.2 L121.2 1479.3 L121.8 1480 L122.2 1482.5 L123.2 1491.8 L124.2 1487 L125 1486.8 L125.2 1485.9 L126 1482.2 L126.2 1482.2 L126.8 1480 L127.2 1478.3 L128.2 1481.8 L129.2 1483.7 L130 1490 L130.2 1490.4 L131 1493 L131.2 1488.1 L131.8 1494.2 L132.2 1494 L133.2 1493.2 L134.2 1494.2 L135 1495 L135.2 1495 L135.5 1495 L135.8 1463.5 L136 1464.4 L136.2 1465.3 L136.5 1466.2 L137.2 1469 L138 1469.4 L138.2 1470.1 L139 1470.4 L139.2 1470.7 L140.2 1472 L140.5 1472 L141 1472.8 L141.2 1472.4 L141.5 1473.1 L142.2 1473.1 L143.2 1473.9 L143.5 1474 L144.2 1473.2 L144.8 1471.7 L145.2 1472.4 L146 1471.5 L146.2 1470.6 L147.2 1470.7 L148 1470.1 L148.2 1469.9 L148.5 1468.9 L149.2 1468.9 L150.2 1468.3 L151 1467.8 L151.2 1467.7 L152.2 1467.4 L153.2 1467 L153.5 1466.9 L154.2 1466.5 L155.2 1466.6 L155.5 1466.7 L156 1466.5 L156.2 1466.5 L157.2 1466.5 L158 1466.6 L158.2 1466.4 L158.5 1466.2 L159.2 1466.4 L159.8 1466.4 L160.2 1466.3 L161 1466.5 L161.2 1466.4 L162.2 1466.5 L163.2 1466.5 L163.5 1466 L164.2 1466.5 L164.8 1466.2 L165.2 1466.5 L166 1466.5 L166.2 1465 L166.5 1463.5 L167.2 1495.5 L168.2 1475.5 L168.5 1470.5 L169.2 1468.9 L169.8 1468 L170.2 1470.1 L171.2 1475.7 L172.2 1480.5 L173.2 1480.3 L173.5 1481.9 L174.2 1481.6 L174.8 1483 L175.2 1481.4 L176.2 1478.4 L177.2 1482.5 L178.2 1481.7 L178.5 1481.8 L179.2 1480.3 L180.2 1483.2 L181.2 1484.2 L182.2 1485.5 L183.2 1484.6 L184.2 1485.9 L185.2 1481.7 L186 1485.5 L186.2 1484.6 L187.2 1484.6 L188.2 1484.3 L189.2 1482.4 L189.8 1484.2 L190.2 1484.2 L191.2 1484.6 L192.2 1484.8 L193.2 1485.6 L193.5 1485.5 L194.2 1485.5 L195.2 1485.7 L196 1487.4 L196.2 1485.9 L197.2 1488 L198.2 1487.1 L199.2 1487.7 L200.2 1489.4 L201 1489.2 L201.2 1489.4 L202.2 1488.2 L203.2 1486.8 L204.2 1486 L204.8 1488 L205.2 1484.1 L206 1488.8 L206.2 1488.3 L207.2 1488.4 L208.2 1489.8 L208.5 1490.5 L209.2 1490.2 L210.2 1490.7 L211 1489.8 L211.2 1489.4 L212.2 1490.5 L213.2 1489.5 L214.2 1491.7 L214.8 1493 L215.2 1491.5 L216 1490.1 L216.2 1491.8 L217.2 1493 L218.2 1493.8 L218.5 1495.5 L219.2 1485.8 L219.8 1480.5 L220.2 1476.7 L221 1474.2 L221.2 1472.3 L222.2 1468 L223.2 1464.4 L223.5 1463.5 L224.2 1463.5 L224.8 1463.5 L225.2 1463.5 L226 1463.5 L226.2 1464 L227.2 1465.6 L228.2 1467.6 L228.5 1468 L229.2 1468.3 L230.2 1469 L231.2 1469.7 L232.2 1470.5 L233.2 1470.2 L234.2 1469.8 L234.8 1470.5 L235.2 1470.2 L236 1470.2 L236.2 1470.5 L237.2 1470.4 L238.2 1470.4 L238.5 1470.5 L239.2 1471.3 L240.2 1472.2 L241 1473 L241.2 1472.5 L242.2 1473.4 L243.2 1474.3 L243.5 1474.4 L244.2 1474.7 L245.2 1474.8 L246 1475.5 L246.2 1475.3 L247.2 1476 L248.2 1476.7 L249.2 1476.7 L250.2 1477.9 L251 1478 L251.2 1478.3 L252.2 1478.4 L253.2 1478.8 L254.2 1479.7 L255.2 1480.1 L256 1480.5 L256.2 1480.8 L257.2 1480.7 L258.2 1481.2 L258.5 1480.9 L259.2 1481.3 L260.2 1481.8 L261 1481.8 L261.2 1481.4 L262.2 1481.3 L263.2 1482.5 L264.2 1482.7 L264.8 1483 L265.2 1482.6 L266 1484.1 L266.2 1482.7 L267.2 1484.9 L268.2 1485.3 L268.5 1485.5 L269.2 1484.7 L270.2 1482.3 L271 1483 L271.2 1482.6 L272.2 1482.1 L273.2 1481.9 L273.5 1481.1 L274.2 1480.8 L274.8 1481.8 L275.2 1480.9 L276.2 1480.3 L277.2 1479.3 L278.2 1478.5 L278.5 1479.2 L279.2 1478.2 L280.2 1477.5 L281 1475.7 L281.2 1476.2 L282.2 1475.5 L283.2 1474.3 L284.2 1472.6 L285.2 1471.6 L286 1470.5 L286.2 1469 L287.2 1469.9 L288.2 1469.2 L289.2 1468.5 L290.2 1468.3 L291 1468 L291.2 1467.8 L292.2 1466.2 L293.2 1466 L294.2 1465.1 L295.2 1464.2 L296 1463.5 L296.2 1463.5 L297.2 1463.5 L298.2 1463.5 L298.5 1463.5 L299.2 1441.8 L299.8 1425.5 L300.2 1424.4 L301 1418.5 L301.2 1421 L301.5 1416.8 L302.2 1423.4 L303.2 1431.3 L303.5 1433 L304.2 1436.3 L305.2 1442.4 L305.5 1443 L306 1445.5 L306.2 1445 L307.2 1447.5 L308.2 1447.7 L308.5 1448 L309.2 1449.3 L310.2 1452 L311 1453 L311.2 1454 L312.2 1454.7 L313.2 1455.8 L313.5 1455.5 L314.2 1456.4 L315.2 1456.5 L316 1456.8 L316.2 1458 L317.2 1457.4 L318.2 1457.8 L318.5 1458 L319.2 1461.3 L319.8 1463.5 L320.2 1463.5 L321 1463.5 L321.2 1463.5 L322.2 1463.5 L323.2 1463.5 L323.5 1463.5 L324.2 1465.5 L325.2 1468.4 L326 1470.5 L326.2 1470.3 L327.2 1473 L328.2 1468.9 L328.5 1468 L329.2 1466.5 L330.2 1464.8 L331 1463.5 L331.2 1463.1 L332.2 1461.7 L333.2 1460.2 L334.2 1458.7 L334.8 1458 L335.2 1454.6 L336 1448 L336.2 1442.8 L337.2 1442.3 L338.2 1440.1 L338.8 1439 L339.2 1439.1 L340 1437.4 L340.2 1438.1 L341.2 1436.5 L342.2 1438.2 L343.2 1442 L343.8 1441.5 L344.2 1439.7 L345 1438 L345.2 1435.9 L346.2 1430.2 L347.2 1430 L348.2 1427.2 L348.8 1426.5 L349.2 1427.4 L350 1429.4 L350.2 1428.6 L351.2 1430.2 L352.2 1428.8 L353.2 1425.5 L353.8 1422.8 L354.2 1424.1 L355 1423.2 L355.2 1424.8 L356.2 1421.5 L357.2 1422.1 L358.2 1423.4 L358.8 1424 L359.2 1422.8 L360 1422.4 L360.2 1427.1 L361.2 1419 L362.2 1420.3 L363.2 1418 L363.8 1416.5 L364.2 1416.6 L365 1415.1 L365.2 1415.6 L365.5 1415.2 L366.2 1429.1 L367 1439 L367.2 1438.6 L367.5 1438.6 L368.2 1437.5 L368.8 1436.5 L369.2 1427.5 L370 1414 L370.2 1414.5 L371.2 1412.8 L372.2 1407.5 L372.5 1405.2 L373.2 1405.9 L374.2 1404.5 L375 1405.2 L375.2 1406.5 L376.2 1405.9 L377.2 1408.6 L377.5 1406.5 L378.2 1407.3 L379.2 1407.3 L380 1407.8 L380.2 1410.2 L381.2 1408.9 L382.2 1410.2 L382.5 1409 L383.2 1410.1 L384.2 1411.8 L385 1411.5 L385.2 1412.5 L386.2 1418.2 L387.2 1416.2 L387.5 1414 L388.2 1413.9 L389.2 1414.9 L390 1416.5 L390.2 1427.1 L391.2 1415.7 L392.2 1419.5 L392.5 1416.5 L393.2 1414.9 L394.2 1411 L395 1409 L395.2 1409.2 L396.2 1407.1 L397.2 1409.2 L397.5 1406.5 L398.2 1396.5 L398.8 1379 L399.2 1380.6 L400 1371.5 L400.2 1370.8 L401.2 1368.9 L402.2 1372.4 L402.5 1369 L403.2 1376.3 L404.2 1374.1 L405 1374 L405.2 1375.7 L406.2 1376.1 L407.2 1375.2 L407.5 1376.5 L408.2 1376 L409.2 1371.2 L410 1366.5 L410.2 1365.3 L411.2 1371.3 L412.2 1359 L412.5 1356.5 L413.2 1355 L413.8 1350.2 L414.2 1360.4 L415 1364 L415.2 1367.7 L416.2 1369.3 L417.2 1370 L417.5 1371.5 L418.2 1374.2 L419.2 1384.5 L420 1384 L420.2 1385.9 L421.2 1383.4 L422.2 1385.3 L422.5 1376.5 L423.2 1377.4 L424.2 1378.6 L425 1379 L425.2 1381.4 L426.2 1379.9 L427.2 1385.8 L427.5 1381.5 L428.2 1383.7 L429.2 1385.4 L430 1382.8 L430.2 1381.4 L431.2 1386.8 L432.2 1383.9 L432.5 1384 L433.2 1385.2 L434.2 1388.8 L435 1389 L435.2 1391.1 L436.2 1395.6 L437 1401.5 L437.2 1410.4 L438 1411.5 L438.2 1430.7 L438.8 1463.5 L439.2 1470.5 L439.5 1474 L440.2 1476.5 L441.2 1479.9 L442.2 1483 L442.5 1484 L443.2 1483.3 L444.2 1482.1 L445 1481.5 L445.2 1481.2 L446.2 1479.1 L447.2 1476.9 L447.5 1476.5 L448.2 1477 L449.2 1478.1 L450 1479 L450.2 1479.3 L451.2 1481.7 L452.2 1483.8 L452.5 1484 L453.2 1479 L454.2 1477.1 L455 1474 L455.2 1473.9 L456.2 1474 L457.2 1474.1 L457.5 1474 L458.2 1473.3 L459.2 1471.9 L460 1472.8 L460.2 1473 L461.2 1473.1 L462.2 1474.7 L462.5 1475.2 L463.2 1475.3 L464.2 1476.3 L465 1476.5 L465.2 1474.6 L466.2 1476.6 L467.2 1476.3 L467.5 1476.5 L468.2 1475 L469.2 1474.7 L470 1474 L470.2 1473.4 L471.2 1474.1 L472.2 1473.1 L472.5 1474 L473.2 1467.7 L473.8 1463.5 L474.2 1460.9 L475 1456.5 L475.2 1456.7 L476.2 1456.6 L477.2 1456.9 L477.5 1456.5 L478.2 1456.4 L479.2 1456.5 L480 1456.5 L480.2 1456.1 L481.2 1454.2 L482.2 1452.1 L482.5 1451.5 L483.2 1446 L484.2 1439.5 L484.5 1437.8 L485.2 1439.6 L486.2 1439 L487.2 1442 L487.5 1442.2 L488 1444 L488.2 1445.5 L489.2 1452.3 L489.5 1454 L490 1457.2 L490.2 1458 L491.2 1463.5 L492.2 1463.5 L492.5 1463.5 L493.2 1463.5 L493.8 1463.5 L494.2 1463.5 L494.5 1463.5 L495 1463.5 L495.2 1463.5 L496.2 1463.5 L497.2 1475.9 L497.5 1479 L498.2 1479.2 L499.2 1480.1 L500 1481.5 L500.2 1481.1 L501.2 1484 L502.2 1484.7 L502.5 1486.5 L503.2 1488.7 L503.8 1491.5 L504.2 1485.8 L505 1476.5 L505.2 1469.4 L505.5 1463.5 L506.2 1434 L507.2 1438.3 L507.5 1437.9 L508.2 1438.8 L508.8 1439 L509.2 1439.5 L510.2 1438.1 L511.2 1435.2 L512.2 1437.1 L512.5 1437.3 L513.2 1438.9 L513.8 1439 L514.2 1441.2 L515.2 1444.8 L516.2 1449 L517.2 1447.3 L517.5 1447 L518.2 1445.4 L518.8 1444 L519.2 1444.7 L520.2 1445.7 L521.2 1447.1 L522.2 1446.4 L522.5 1446.5 L523.2 1445.7 L524.2 1446.3 L525.2 1445 L526.2 1444 L527.2 1443.1 L527.5 1444.9 L528.2 1443 L529.2 1442.9 L530 1441.5 L530.2 1441.2 L531.2 1441.7 L532.2 1440.6 L532.5 1441.1 L533.2 1439.5 L533.8 1439 L534.2 1437.7 L535 1434 L535.2 1433.8 L536.2 1434.9 L537.2 1434.5 L537.5 1434 L538.2 1435.1 L539.2 1435.4 L540 1436.5 L540.2 1437.9 L541.2 1436.5 L542.2 1437 L542.5 1436.5 L543.2 1436.4 L544.2 1436.1 L545 1436.5 L545.2 1440.6 L546.2 1440.2 L547.2 1443.3 L547.5 1444 L548.2 1438.4 L549.2 1429.7 L550 1424 L550.2 1427.6 L551.2 1424.6 L552.2 1428.1 L552.5 1426.5 L553.2 1422.8 L553.8 1421.5 L554.2 1424.1 L555 1424 L555.2 1426.6 L556.2 1429.2 L557.2 1433.1 L557.5 1434 L558.2 1433 L559.2 1433.3 L560 1431.5 L560.2 1433.5 L561.2 1432.8 L562.2 1449.8 L562.5 1454 L563.2 1454.1 L563.8 1454 L564.2 1463.5 L564.2 1463.5Z" fill="#000000"/>
<path d="M52.2 1463.5 L52.2 1463.5 L52.5 1521.5 L53.2 1520.8 L54.2 1518.4 L55.2 1516.3 L56 1516.5 L56.2 1516.9 L57.2 1505.6 L58.2 1510.2 L59.2 1510.1 L59.8 1511.5 L60.2 1500.7 L61.2 1511 L62.2 1509.5 L63.2 1509.8 L63.5 1509 L64.2 1506.1 L65.2 1503.2 L66 1505.2 L66.2 1504 L67.2 1504 L68.2 1501.3 L68.5 1501.8 L69.2 1500.8 L70.2 1501.3 L71 1501.5 L71.2 1500.8 L72.2 1501.1 L73.2 1500.3 L74.2 1500.4 L74.8 1501.4 L75.2 1501.3 L76 1501.5 L76.2 1500.6 L77.2 1499.3 L78.2 1495.6 L78.5 1495.4 L79.2 1494.9 L80 1494 L80.2 1493 L81 1491.2 L81.2 1493 L82.2 1490.5 L83.2 1493.2 L84.2 1491.8 L85 1491.9 L85.2 1491.7 L85.8 1491.8 L86 1496.3 L86.2 1500.2 L87 1515 L87.2 1510.9 L88.2 1498.2 L89.2 1479 L89.5 1475 L90.2 1475.6 L90.5 1476.3 L90.8 1476.8 L91 1476.5 L91.2 1477.7 L92.2 1479.3 L92.5 1480 L93.2 1480.9 L94.2 1481.8 L94.5 1481.2 L95.2 1478.5 L95.8 1476.8 L96 1475 L96.2 1474.3 L96.8 1472.4 L97 1471.8 L97.2 1471.8 L98 1471.8 L98.2 1476.2 L98.8 1486.8 L99.2 1488.2 L100 1493.2 L100.2 1489.4 L101 1485.9 L101.2 1485.3 L101.8 1481.8 L102.2 1481.7 L103.2 1483.2 L104.2 1482.5 L105 1481.8 L105.2 1481 L106 1478.1 L106.2 1476.9 L106.8 1475 L107.2 1476.1 L108.2 1478.2 L109.2 1479.2 L110 1480 L110.2 1479.6 L111 1478.4 L111.2 1479 L111.8 1478.2 L112.2 1478.8 L113.2 1480 L114.2 1480.6 L115 1481.8 L115.2 1480.5 L116 1480.5 L116.2 1478.9 L116.8 1479.2 L117.2 1477.8 L118.2 1476.8 L119.2 1475.4 L120 1475 L120.2 1475 L121 1475.7 L121.2 1476.5 L121.8 1476.8 L122.2 1477.8 L123.2 1483.2 L124.2 1481.8 L125 1483.2 L125.2 1482.9 L126 1480.7 L126.2 1481.2 L126.8 1480 L127.2 1477.8 L128.2 1480 L129.2 1480.5 L130 1485 L130.2 1485.1 L131 1486.4 L131.2 1482.4 L131.8 1486.8 L132.2 1486.8 L133.2 1486.8 L134.2 1486.7 L135 1486.8 L135.2 1486.8 L135.5 1486.8 L135.8 1463.5 L136 1456 L136.2 1448.9 L136.5 1441.5 L137.2 1448.2 L138 1454 L138.2 1451.3 L139 1444 L139.2 1444.8 L140.2 1444.1 L140.5 1444 L141 1453.7 L141.2 1457.4 L141.5 1461.5 L142.2 1462.3 L143.2 1463.2 L143.5 1463.5 L144.2 1461.1 L144.8 1459.9 L145.2 1457.8 L146 1455.5 L146.2 1455.5 L147.2 1451.2 L148 1449 L148.2 1448.5 L148.5 1450.3 L149.2 1448.5 L150.2 1447.1 L151 1446.5 L151.2 1446.2 L152.2 1445.4 L153.2 1445.4 L153.5 1444 L154.2 1445.6 L155.2 1442.1 L155.5 1441.5 L156 1443.8 L156.2 1441.9 L157.2 1442.9 L158 1444 L158.2 1445.4 L158.5 1447.3 L159.2 1448.2 L159.8 1449 L160.2 1450.3 L161 1451.5 L161.2 1450.7 L162.2 1451.5 L163.2 1452.5 L163.5 1454.6 L164.2 1453.5 L164.8 1454 L165.2 1454.9 L166 1456.5 L166.2 1460 L166.5 1463.5 L167.2 1494 L168.2 1474 L168.5 1469 L169.2 1467.5 L169.8 1466.5 L170.2 1468.7 L171.2 1474.1 L172.2 1479 L173.2 1478.9 L173.5 1480.4 L174.2 1480.1 L174.8 1481.5 L175.2 1480.1 L176.2 1477.3 L177.2 1481 L178.2 1480.2 L178.5 1480.2 L179.2 1479 L180.2 1481.8 L181.2 1482.7 L182.2 1484 L183.2 1483.2 L184.2 1484.3 L185.2 1480.5 L186 1484 L186.2 1483.2 L187.2 1483.2 L188.2 1482.8 L189.2 1481 L189.8 1482.8 L190.2 1482.8 L191.2 1483.1 L192.2 1483.3 L193.2 1484.1 L193.5 1484 L194.2 1484 L195.2 1484.3 L196 1485.9 L196.2 1484.5 L197.2 1486.5 L198.2 1485.7 L199.2 1486.3 L200.2 1487.9 L201 1487.8 L201.2 1487.9 L202.2 1486.7 L203.2 1485.4 L204.2 1484.7 L204.8 1486.5 L205.2 1482.9 L206 1487.3 L206.2 1486.9 L207.2 1487 L208.2 1488.3 L208.5 1489 L209.2 1488.7 L210.2 1489.2 L211 1488.3 L211.2 1488 L212.2 1489 L213.2 1488.1 L214.2 1490.3 L214.8 1491.5 L215.2 1490.1 L216 1488.7 L216.2 1490.4 L217.2 1491.5 L218.2 1492.3 L218.5 1494 L219.2 1484.3 L219.8 1479 L220.2 1475.3 L221 1472.7 L221.2 1470.9 L222.2 1466.5 L223.2 1464.1 L223.5 1463.5 L224.2 1463.5 L224.8 1463.5 L225.2 1463.5 L226 1463.5 L226.2 1463.8 L227.2 1464.9 L228.2 1466.2 L228.5 1466.5 L229.2 1466.9 L230.2 1467.6 L231.2 1468.3 L232.2 1469 L233.2 1468.7 L234.2 1468.5 L234.8 1469 L235.2 1468.8 L236 1468.8 L236.2 1469 L237.2 1468.9 L238.2 1468.9 L238.5 1469 L239.2 1469.8 L240.2 1470.7 L241 1471.5 L241.2 1471.1 L242.2 1471.9 L243.2 1472.8 L243.5 1472.9 L244.2 1473.2 L245.2 1473.3 L246 1474 L246.2 1473.9 L247.2 1474.5 L248.2 1475.2 L249.2 1475.3 L250.2 1476.4 L251 1476.5 L251.2 1476.7 L252.2 1476.9 L253.2 1477.4 L254.2 1478.2 L255.2 1478.6 L256 1479 L256.2 1479.3 L257.2 1479.2 L258.2 1479.7 L258.5 1479.4 L259.2 1479.8 L260.2 1480.3 L261 1480.2 L261.2 1480 L262.2 1479.9 L263.2 1481 L264.2 1481.2 L264.8 1481.5 L265.2 1481.2 L266 1482.6 L266.2 1481.2 L267.2 1483.4 L268.2 1483.8 L268.5 1484 L269.2 1483.2 L270.2 1480.9 L271 1481.5 L271.2 1481.1 L272.2 1480.6 L273.2 1480.4 L273.5 1479.7 L274.2 1479.4 L274.8 1480.2 L275.2 1479.5 L276.2 1478.9 L277.2 1477.8 L278.2 1477.1 L278.5 1477.8 L279.2 1476.7 L280.2 1476 L281 1474.3 L281.2 1474.8 L282.2 1474 L283.2 1472.8 L284.2 1471.2 L285.2 1470 L286 1469 L286.2 1467.8 L287.2 1468.4 L288.2 1467.7 L289.2 1467.1 L290.2 1466.8 L291 1466.5 L291.2 1466.4 L292.2 1465.3 L293.2 1465.2 L294.2 1464.5 L295.2 1464 L296 1463.5 L296.2 1463.5 L297.2 1463.5 L298.2 1463.5 L298.5 1463.5 L299.2 1442.4 L299.8 1426.5 L300.2 1425.3 L301 1419.5 L301.2 1421.9 L301.5 1417.8 L302.2 1424.4 L303.2 1432.3 L303.5 1434 L304.2 1437.4 L305.2 1443.4 L305.5 1444 L306 1446.4 L306.2 1445.9 L307.2 1448.4 L308.2 1448.7 L308.5 1449 L309.2 1450.3 L310.2 1453 L311 1454 L311.2 1454.9 L312.2 1455.6 L313.2 1456.8 L313.5 1456.5 L314.2 1457.4 L315.2 1457.5 L316 1457.8 L316.2 1458.8 L317.2 1458.4 L318.2 1458.8 L318.5 1459 L319.2 1461.7 L319.8 1463.5 L320.2 1463.5 L321 1463.5 L321.2 1463.5 L322.2 1463.5 L323.2 1463.5 L323.5 1463.5 L324.2 1465.1 L325.2 1467.3 L326 1469 L326.2 1468.9 L327.2 1471.5 L328.2 1467.4 L328.5 1466.5 L329.2 1465.5 L330.2 1464.4 L331 1463.5 L331.2 1463.2 L332.2 1462 L333.2 1460.8 L334.2 1459.5 L334.8 1459 L335.2 1455.6 L336 1449 L336.2 1444 L337.2 1444 L338.2 1442.3 L338.8 1441.5 L339.2 1441.5 L340 1439.9 L340.2 1440.5 L341.2 1439 L342.2 1440.7 L343.2 1444.4 L343.8 1444 L344.2 1442.4 L345 1440.9 L345.2 1439.1 L346.2 1434 L347.2 1433.7 L348.2 1431 L348.8 1430.2 L349.2 1431.1 L350 1433 L350.2 1432.4 L351.2 1434 L352.2 1432 L353.2 1428.2 L353.8 1425.2 L354.2 1426.5 L355 1425.7 L355.2 1427.1 L356.2 1424 L357.2 1424.6 L358.2 1425.9 L358.8 1426.5 L359.2 1425.3 L360 1424.8 L360.2 1429.3 L361.2 1421.5 L362.2 1422.7 L363.2 1420.4 L363.8 1419 L364.2 1418.7 L365 1416.8 L365.2 1417 L365.5 1416.5 L366.2 1430.9 L367 1441.5 L367.2 1441.1 L367.5 1441 L368.2 1440 L368.8 1439 L369.2 1430 L370 1416.5 L370.2 1417.1 L371.2 1415.7 L372.2 1411 L372.5 1409 L373.2 1409.2 L374.2 1407.4 L375 1407.8 L375.2 1409 L376.2 1408.4 L377.2 1411 L377.5 1409 L378.2 1409.8 L379.2 1409.8 L380 1410.2 L380.2 1412.7 L381.2 1412 L382.2 1413.8 L382.5 1412.8 L383.2 1413.4 L384.2 1414.6 L385 1414 L385.2 1415 L386.2 1420.4 L387.2 1418.6 L387.5 1416.5 L388.2 1415.7 L389.2 1415.7 L390 1416.5 L390.2 1427.1 L391.2 1415.7 L392.2 1419.5 L392.5 1416.5 L393.2 1415.7 L394.2 1412.7 L395 1411.5 L395.2 1411.7 L396.2 1409.6 L397.2 1411.6 L397.5 1409 L398.2 1405.6 L398.8 1394 L399.2 1391 L400 1376.5 L400.2 1375.8 L401.2 1374 L402.2 1377.2 L402.5 1374 L403.2 1381 L404.2 1379 L405 1379 L405.2 1381.3 L406.2 1384.7 L407.2 1387.1 L407.5 1389 L408.2 1386.7 L409.2 1380 L410 1374 L410.2 1372.8 L411.2 1378.1 L412.2 1366.4 L412.5 1364 L413.2 1361.6 L413.8 1356.5 L414.2 1365.9 L415 1369 L415.2 1372.5 L416.2 1374.2 L417.2 1375 L417.5 1376.5 L418.2 1380.8 L419.2 1392.6 L420 1394 L420.2 1395.3 L421.2 1391.8 L422.2 1392.3 L422.5 1384 L423.2 1383.4 L424.2 1382.6 L425 1381.5 L425.2 1383.9 L426.2 1382.4 L427.2 1388.1 L427.5 1384 L428.2 1386.5 L429.2 1388.7 L430 1386.5 L430.2 1385.4 L431.2 1391 L432.2 1388.7 L432.5 1389 L433.2 1390.2 L434.2 1393.7 L435 1394 L435.2 1395.7 L436.2 1399.1 L437 1404 L437.2 1412.1 L438 1411.5 L438.2 1430.7 L438.8 1463.5 L439.2 1470.5 L439.5 1474 L440.2 1476.5 L441.2 1479.9 L442.2 1483 L442.5 1484 L443.2 1483.3 L444.2 1482.1 L445 1481.5 L445.2 1481.2 L446.2 1479.1 L447.2 1476.9 L447.5 1476.5 L448.2 1477 L449.2 1478.1 L450 1479 L450.2 1479.3 L451.2 1481.7 L452.2 1483.8 L452.5 1484 L453.2 1479 L454.2 1477.1 L455 1474 L455.2 1473.9 L456.2 1474 L457.2 1474.1 L457.5 1474 L458.2 1473.3 L459.2 1471.9 L460 1472.8 L460.2 1473 L461.2 1473.1 L462.2 1474.7 L462.5 1475.2 L463.2 1475.3 L464.2 1476.3 L465 1476.5 L465.2 1474.6 L466.2 1476.6 L467.2 1476.3 L467.5 1476.5 L468.2 1475 L469.2 1474.7 L470 1474 L470.2 1473.4 L471.2 1474.1 L472.2 1473.1 L472.5 1474 L473.2 1467.7 L473.8 1463.5 L474.2 1462.7 L475 1461.5 L475.2 1461.3 L476.2 1460.3 L477.2 1459.5 L477.5 1459 L478.2 1460.5 L479.2 1462.5 L480 1464 L480.2 1463 L481.2 1459.1 L482.2 1455 L482.5 1454 L483.2 1448.6 L484.2 1442 L484.5 1440.2 L485.2 1442 L486.2 1441.5 L487.2 1443.1 L487.5 1442.9 L488 1444 L488.2 1445.5 L489.2 1452.3 L489.5 1454 L490 1471.5 L490.2 1467.5 L491.2 1451.5 L492.2 1459.7 L492.5 1461.5 L493.2 1462.7 L493.8 1463.5 L494.2 1457.3 L494.5 1454.9 L495 1447.8 L495.2 1450.7 L496.2 1463.5 L497.2 1467.9 L497.5 1469 L498.2 1470.3 L499.2 1472.1 L500 1474 L500.2 1473.6 L501.2 1474.9 L502.2 1474.8 L502.5 1475.9 L503.2 1475.8 L503.8 1476.5 L504.2 1472.9 L505 1467.1 L505.2 1465.2 L505.5 1463.5 L506.2 1434 L507.2 1438.3 L507.5 1437.9 L508.2 1438.8 L508.8 1439 L509.2 1439.5 L510.2 1438.1 L511.2 1435.2 L512.2 1437.1 L512.5 1437.3 L513.2 1438.9 L513.8 1439 L514.2 1441.2 L515.2 1444.8 L516.2 1449 L517.2 1447.3 L517.5 1447 L518.2 1445.4 L518.8 1444 L519.2 1444.7 L520.2 1445.7 L521.2 1447.1 L522.2 1446.4 L522.5 1446.5 L523.2 1445.7 L524.2 1446.3 L525.2 1445 L526.2 1444 L527.2 1443.1 L527.5 1444.9 L528.2 1443 L529.2 1442.9 L530 1441.5 L530.2 1441.2 L531.2 1441.7 L532.2 1440.6 L532.5 1441.1 L533.2 1439.5 L533.8 1439 L534.2 1437.7 L535 1434 L535.2 1433.8 L536.2 1434.9 L537.2 1434.5 L537.5 1434 L538.2 1435.1 L539.2 1435.4 L540 1436.5 L540.2 1437.9 L541.2 1436.5 L542.2 1437 L542.5 1436.5 L543.2 1436.4 L544.2 1436.1 L545 1436.5 L545.2 1440.6 L546.2 1440.2 L547.2 1443.3 L547.5 1444 L548.2 1438.4 L549.2 1429.7 L550 1424 L550.2 1427.6 L551.2 1424.6 L552.2 1428.1 L552.5 1426.5 L553.2 1422.8 L553.8 1421.5 L554.2 1424.1 L555 1424 L555.2 1426.6 L556.2 1429.2 L557.2 1433.1 L557.5 1434 L558.2 1433 L559.2 1433.3 L560 1431.5 L560.2 1433.5 L561.2 1432.8 L562.2 1449.8 L562.5 1454 L563.2 1454.1 L563.8 1454 L564.2 1463.5 L564.2 1463.5Z" fill="#c00000"/>
<path d="M52.2 1463.5 L52.2 1463.5 L52.5 1474 L53.2 1474.3 L54.2 1474.5 L55.2 1474.7 L56 1475.2 L56.2 1475.6 L57.2 1473.8 L58.2 1475.9 L59.2 1476.8 L59.8 1477.8 L60.2 1474.8 L61.2 1478.7 L62.2 1479 L63.2 1478.2 L63.5 1477.3 L64.2 1476.4 L65.2 1475 L66 1475.2 L66.2 1474.7 L67.2 1473.9 L68.2 1473.6 L68.5 1473.6 L69.2 1473.1 L70.2 1473 L71 1472.8 L71.2 1472.5 L72.2 1472.5 L73.2 1472.1 L74.2 1472 L74.8 1472.2 L75.2 1472.1 L76 1472 L76.2 1471.8 L77.2 1471.6 L78.2 1470.8 L78.5 1470.8 L79.2 1470.7 L80 1470.3 L80.2 1470.3 L81 1470.2 L81.2 1470 L82.2 1469.3 L83.2 1469.2 L84.2 1469.3 L85 1469.2 L85.2 1469.1 L85.8 1469 L86 1469 L86.2 1468.9 L87 1468.9 L87.2 1468.8 L88.2 1468.5 L89.2 1468.5 L89.5 1468.6 L90.2 1468.4 L90.5 1468.5 L90.8 1468.4 L91 1468.5 L91.2 1468.5 L92.2 1468.6 L92.5 1468.7 L93.2 1468.8 L94.2 1468.9 L94.5 1468.9 L95.2 1469 L95.8 1469.1 L96 1469 L96.2 1468.8 L96.8 1469 L97 1469.2 L97.2 1469.3 L98 1469.5 L98.2 1469.3 L98.8 1469.5 L99.2 1469.5 L100 1470 L100.2 1469.5 L101 1470.2 L101.2 1470.3 L101.8 1470 L102.2 1470 L103.2 1470 L104.2 1470.3 L105 1469.9 L105.2 1470.3 L106 1470.2 L106.2 1470.2 L106.8 1470.2 L107.2 1470.2 L108.2 1469.9 L109.2 1470.2 L110 1470.3 L110.2 1470.2 L111 1470.2 L111.2 1470.4 L111.8 1470.3 L112.2 1470.4 L113.2 1470.7 L114.2 1470.6 L115 1470.6 L115.2 1470.5 L116 1471 L116.2 1470.5 L116.8 1470.4 L117.2 1470.7 L118.2 1471.1 L119.2 1470.8 L120 1471 L120.2 1470.8 L121 1471 L121.2 1471.2 L121.8 1470.9 L122.2 1470.6 L123.2 1471 L124.2 1470.7 L125 1471.5 L125.2 1471.5 L126 1471.5 L126.2 1471.6 L126.8 1470.9 L127.2 1470.4 L128.2 1471.2 L129.2 1470.5 L130 1471.4 L130.2 1471.4 L131 1471.5 L131.2 1470.1 L131.8 1471.2 L132.2 1471.2 L133.2 1470.6 L134.2 1470.6 L135 1470.3 L135.2 1470.3 L135.5 1470.2 L135.8 1466.9 L136 1463.5 L136.2 1464.3 L136.5 1465.2 L137.2 1467.8 L138 1468.2 L138.2 1468.8 L139 1469.2 L139.2 1469.5 L140.2 1470.7 L140.5 1470.8 L141 1471.5 L141.2 1471 L141.5 1471.4 L142.2 1470.9 L143.2 1470.8 L143.5 1470.8 L144.2 1470.4 L144.8 1470.2 L145.2 1470 L146 1469.4 L146.2 1468.7 L147.2 1468.7 L148 1468.2 L148.2 1468 L148.5 1467.8 L149.2 1467.4 L150.2 1467.3 L151 1467.1 L151.2 1467.1 L152.2 1466.8 L153.2 1466.4 L153.5 1466.5 L154.2 1466.1 L155.2 1466.5 L155.5 1466.6 L156 1466.2 L156.2 1466.5 L157.2 1466.5 L158 1466.6 L158.2 1466.4 L158.5 1466.5 L159.2 1466.4 L159.8 1466.4 L160.2 1466.3 L161 1466.2 L161.2 1466.4 L162.2 1466.5 L163.2 1466.5 L163.5 1466.5 L164.2 1466.2 L164.8 1465.8 L165.2 1466 L166 1465.6 L166.2 1465.6 L166.5 1465.2 L167.2 1465.2 L168.2 1464.5 L168.5 1464.4 L169.2 1463.8 L169.8 1463.5 L170.2 1463.6 L171.2 1463.7 L172.2 1463.8 L173.2 1464 L173.5 1464 L174.2 1463.9 L174.8 1463.9 L175.2 1463.8 L176.2 1463.7 L177.2 1463.6 L178.2 1463.5 L178.5 1463.5 L179.2 1463.4 L180.2 1463.3 L181.2 1463.2 L182.2 1463.1 L183.2 1463 L184.2 1462.9 L185.2 1462.8 L186 1462.8 L186.2 1462.7 L187.2 1462.7 L188.2 1462.7 L189.2 1462.7 L189.8 1462.7 L190.2 1462.6 L191.2 1462.6 L192.2 1462.6 L193.2 1462.6 L193.5 1462.6 L194.2 1462.5 L195.2 1462.5 L196 1462.5 L196.2 1462.6 L197.2 1462.4 L198.2 1462.4 L199.2 1462.4 L200.2 1462.3 L201 1462.2 L201.2 1462.2 L202.2 1462.2 L203.2 1462.2 L204.2 1462.2 L204.8 1462.1 L205.2 1462.3 L206 1462 L206.2 1462 L207.2 1461.8 L208.2 1461.6 L208.5 1461.5 L209.2 1461.4 L210.2 1461.1 L211 1461 L211.2 1461.1 L212.2 1460.9 L213.2 1460.9 L214.2 1460.6 L214.8 1460.4 L215.2 1460.5 L216 1460.2 L216.2 1460.5 L217.2 1460.9 L218.2 1461.1 L218.5 1461.2 L219.2 1461.5 L219.8 1461.6 L220.2 1461.9 L221 1462 L221.2 1461.9 L222.2 1461.2 L223.2 1460.4 L223.5 1460.2 L224.2 1459.7 L224.8 1459 L225.2 1460.9 L226 1463.5 L226.2 1463.4 L227.2 1463.1 L228.2 1462.8 L228.5 1462.7 L229.2 1462.5 L230.2 1462.2 L231.2 1461.8 L232.2 1461.6 L233.2 1461.3 L234.2 1461.1 L234.8 1460.6 L235.2 1460.6 L236 1460.2 L236.2 1460.2 L237.2 1460.3 L238.2 1460.3 L238.5 1460.2 L239.2 1460.2 L240.2 1460.3 L241 1460.3 L241.2 1460.5 L242.2 1460.3 L243.2 1460.2 L243.5 1460.2 L244.2 1460.2 L245.2 1460.3 L246 1460.2 L246.2 1460.3 L247.2 1460.3 L248.2 1460.2 L249.2 1460.3 L250.2 1460.2 L251 1460.2 L251.2 1460.2 L252.2 1460.4 L253.2 1460.5 L254.2 1460.6 L255.2 1460.7 L256 1460.8 L256.2 1460.7 L257.2 1460.9 L258.2 1461 L258.5 1461 L259.2 1461 L260.2 1461.1 L261 1461.2 L261.2 1461.2 L262.2 1461.3 L263.2 1461.3 L264.2 1461.4 L264.8 1461.5 L265.2 1461.5 L266 1461.5 L266.2 1461.6 L267.2 1461.5 L268.2 1461.5 L268.5 1461.5 L269.2 1461.5 L270.2 1461.6 L271 1461.5 L271.2 1461.5 L272.2 1461.6 L273.2 1461.5 L273.5 1461.5 L274.2 1461.6 L274.8 1461.5 L275.2 1461.4 L276.2 1461.4 L277.2 1461.4 L278.2 1461.3 L278.5 1461.2 L279.2 1461.2 L280.2 1461.1 L281 1461 L281.2 1461.1 L282.2 1461.4 L283.2 1461.8 L284.2 1462.2 L285.2 1462.5 L286 1462.8 L286.2 1462.8 L287.2 1462.8 L288.2 1462.9 L289.2 1463 L290.2 1463.1 L291 1463.1 L291.2 1463.1 L292.2 1463.2 L293.2 1463.3 L294.2 1463.4 L295.2 1463.4 L296 1463.5 L296.2 1463.6 L297.2 1463.9 L298.2 1464.3 L298.5 1464.4 L299.2 1464.6 L299.8 1464.8 L300.2 1464.9 L301 1465.2 L301.2 1465 L301.5 1464.9 L302.2 1464.4 L303.2 1463.8 L303.5 1463.6 L304.2 1463.1 L305.2 1462.5 L305.5 1462.3 L306 1462 L306.2 1462.1 L307.2 1462.3 L308.2 1462.3 L308.5 1462.4 L309.2 1462.5 L310.2 1462.6 L311 1462.8 L311.2 1462.8 L312.2 1462.9 L313.2 1463 L313.5 1463.1 L314.2 1463.2 L315.2 1463.3 L316 1463.4 L316.2 1463.4 L317.2 1463.5 L318.2 1463.7 L318.5 1463.7 L319.2 1463.8 L319.8 1463.8 L320.2 1463.9 L321 1464 L321.2 1464 L322.2 1464.1 L323.2 1464.2 L323.5 1464.2 L324.2 1464.3 L325.2 1464.4 L326 1464.5 L326.2 1464.5 L327.2 1464.4 L328.2 1464.3 L328.5 1464.2 L329.2 1464.2 L330.2 1464.1 L331 1464 L331.2 1464 L332.2 1463.9 L333.2 1463.8 L334.2 1463.7 L334.8 1463.6 L335.2 1463.6 L336 1463.5 L336.2 1463.3 L337.2 1462.7 L338.2 1462.1 L338.8 1461.9 L339.2 1461.5 L340 1461 L340.2 1461 L341.2 1460.6 L342.2 1460.3 L343.2 1460.3 L343.8 1459.9 L344.2 1459.8 L345 1459.5 L345.2 1459.6 L346.2 1459.5 L347.2 1459.4 L348.2 1459.2 L348.8 1459.3 L349.2 1459.1 L350 1459 L350.2 1459 L351.2 1459.3 L352.2 1459 L353.2 1458.8 L353.8 1458.7 L354.2 1458.8 L355 1458.5 L355.2 1458.9 L356.2 1458.9 L357.2 1458.7 L358.2 1458.8 L358.8 1459.1 L359.2 1458.9 L360 1459 L360.2 1459.6 L361.2 1458.9 L362.2 1459 L363.2 1458.8 L363.8 1458.5 L364.2 1458.6 L365 1458.5 L365.2 1458.8 L365.5 1459.2 L366.2 1460.2 L367 1461 L367.2 1461.2 L367.5 1461.5 L368.2 1461.1 L368.8 1461.1 L369.2 1460.6 L370 1460.2 L370.2 1460.2 L371.2 1459.9 L372.2 1459.2 L372.5 1459 L373.2 1458.9 L374.2 1458.5 L375 1458.3 L375.2 1458.4 L376.2 1458.1 L377.2 1458 L377.5 1457.8 L378.2 1457.5 L379.2 1457.1 L380 1456.8 L380.2 1457.1 L381.2 1456.5 L382.2 1456.3 L382.5 1456 L383.2 1455.9 L384.2 1455.9 L385 1455.5 L385.2 1455.7 L386.2 1456.3 L387.2 1455.7 L387.5 1455.2 L388.2 1455.1 L389.2 1455.1 L390 1455.4 L390.2 1457.1 L391.2 1455.1 L392.2 1455.8 L392.5 1455.2 L393.2 1455.4 L394.2 1455.2 L395 1455.8 L395.2 1455.3 L396.2 1455.2 L397.2 1455.6 L397.5 1455.2 L398.2 1455.3 L398.8 1454.2 L399.2 1454 L400 1452.8 L400.2 1452.7 L401.2 1452.6 L402.2 1453.1 L402.5 1452.8 L403.2 1453.4 L404.2 1452.9 L405 1452.8 L405.2 1453 L406.2 1453.2 L407.2 1453.2 L407.5 1453.6 L408.2 1453.8 L409.2 1454 L410 1454 L410.2 1454 L411.2 1455.2 L412.2 1454.7 L412.5 1454.6 L413.2 1455 L413.8 1455.1 L414.2 1455.4 L415 1455.2 L415.2 1455.6 L416.2 1455.7 L417.2 1455.7 L417.5 1456 L418.2 1456 L419.2 1456.7 L420 1456.5 L420.2 1456.7 L421.2 1456.6 L422.2 1457 L422.5 1456.3 L423.2 1456.2 L424.2 1456.1 L425 1456 L425.2 1456.1 L426.2 1455.5 L427.2 1455.6 L427.5 1456.6 L428.2 1454.9 L429.2 1454.6 L430 1454 L430.2 1454 L431.2 1455 L432.2 1455.1 L432.5 1455.2 L433.2 1455.6 L434.2 1456.2 L435 1456.5 L435.2 1456.7 L436.2 1456.9 L437 1457.3 L437.2 1458.1 L438 1457.8 L438.2 1459.9 L438.8 1463.5 L439.2 1463.4 L439.5 1463.3 L440.2 1463.2 L441.2 1463 L442.2 1462.8 L442.5 1462.8 L443.2 1462.6 L444.2 1462.3 L445 1462.1 L445.2 1462 L446.2 1461.8 L447.2 1461.6 L447.5 1461.5 L448.2 1461.2 L449.2 1460.6 L450 1460.2 L450.2 1460.2 L451.2 1459.6 L452.2 1459.1 L452.5 1459 L453.2 1458.2 L454.2 1455.4 L455 1454 L455.2 1454.5 L456.2 1455.9 L457.2 1457.3 L457.5 1457.8 L458.2 1458.1 L459.2 1458.8 L460 1458.8 L460.2 1458.5 L461.2 1459.1 L462.2 1459 L462.5 1459 L463.2 1458.9 L464.2 1458.5 L465 1458.9 L465.2 1459.1 L466.2 1458 L467.2 1457.9 L467.5 1457.8 L468.2 1457.9 L469.2 1457.3 L470 1457.3 L470.2 1457.4 L471.2 1456.7 L472.2 1457.2 L472.5 1456.5 L473.2 1456.6 L473.8 1456.8 L474.2 1457.4 L475 1457.5 L475.2 1457.4 L476.2 1457.5 L477.2 1458 L477.5 1457.8 L478.2 1457.9 L479.2 1458.2 L480 1458.4 L480.2 1458.5 L481.2 1458.8 L482.2 1459 L482.5 1459 L483.2 1459.2 L484.2 1459.7 L484.5 1459.8 L485.2 1460.3 L486.2 1460.7 L487.2 1460.9 L487.5 1461 L488 1461.3 L488.2 1461.2 L489.2 1461.6 L489.5 1461.7 L490 1462 L490.2 1461.9 L491.2 1462.3 L492.2 1462.7 L492.5 1462.8 L493.2 1463 L493.8 1463.2 L494.2 1463.4 L494.5 1463.5 L495 1484 L495.2 1487.4 L496.2 1499 L497.2 1483 L497.5 1479 L498.2 1479.2 L499.2 1480.1 L500 1481.5 L500.2 1480.7 L501.2 1482 L502.2 1481.2 L502.5 1482.6 L503.2 1482 L503.8 1482.8 L504.2 1483 L505 1482.3 L505.2 1480.8 L505.5 1482.3 L506.2 1482.1 L507.2 1481.1 L507.5 1482.8 L508.2 1481.9 L508.8 1482 L509.2 1481.4 L510.2 1481.1 L511.2 1481.4 L512.2 1481.3 L512.5 1481.5 L513.2 1481.2 L513.8 1481.2 L514.2 1481.8 L515.2 1482.4 L516.2 1481.6 L517.2 1482.3 L517.5 1482.8 L518.2 1482.2 L518.8 1481.8 L519.2 1481.9 L520.2 1481.3 L521.2 1480.4 L522.2 1481.5 L522.5 1481.5 L523.2 1482 L524.2 1481 L525.2 1481.8 L526.2 1482.8 L527.2 1482.9 L527.5 1482.8 L528.2 1482.5 L529.2 1482 L530 1482.9 L530.2 1482.9 L531.2 1481.9 L532.2 1482.3 L532.5 1482.8 L533.2 1482.5 L533.8 1482.5 L534.2 1482 L535 1481.9 L535.2 1482.5 L536.2 1481.6 L537.2 1481.7 L537.5 1482 L538.2 1481.9 L539.2 1482.5 L540 1482.6 L540.2 1481.4 L541.2 1482.5 L542.2 1482.4 L542.5 1482.8 L543.2 1483 L544.2 1483.5 L545 1483.5 L545.2 1480.9 L546.2 1483.8 L547.2 1483.9 L547.5 1484 L548.2 1483.5 L549.2 1483.7 L550 1482.5 L550.2 1481.6 L551.2 1483.4 L552.2 1481.9 L552.5 1482.8 L553.2 1483.3 L553.8 1481.8 L554.2 1482.4 L555 1483.7 L555.2 1482.6 L556.2 1483.6 L557.2 1483.9 L557.5 1484 L558.2 1484.4 L559.2 1483.7 L560 1483.5 L560.2 1483.5 L561.2 1483.1 L562.2 1485.1 L562.5 1485.2 L563.2 1486.5 L563.8 1487.8 L564.2 1463.5 L564.2 1463.5Z" fill="#009a00"/>
<rect x="39.7" y="1298.3" width="535.5" height="290.4" fill="none" stroke="#1a1a1a" stroke-width="1.8"/>
<text class="t" x="30.9" y="1302.2" font-size="12.5" text-anchor="end" textLength="16.8" lengthAdjust="spacingAndGlyphs">80</text>
<text class="t" x="30.9" y="1345.4" font-size="12.5" text-anchor="end" textLength="16.8" lengthAdjust="spacingAndGlyphs">60</text>
<text class="t" x="30.9" y="1387.2" font-size="12.5" text-anchor="end" textLength="16.8" lengthAdjust="spacingAndGlyphs">40</text>
<text class="t" x="30.9" y="1425.9" font-size="12.5" text-anchor="end" textLength="16.8" lengthAdjust="spacingAndGlyphs">20</text>
<text class="t" x="30.9" y="1467.9" font-size="12.5" text-anchor="end" textLength="8.4" lengthAdjust="spacingAndGlyphs">0</text>
<text class="t" x="30.9" y="1509.9" font-size="12.5" text-anchor="end" textLength="22.8" lengthAdjust="spacingAndGlyphs">-20</text>
<text class="t" x="30.9" y="1552.2" font-size="12.5" text-anchor="end" textLength="22.8" lengthAdjust="spacingAndGlyphs">-40</text>
<text class="t" x="30.9" y="1592.6" font-size="12.5" text-anchor="end" textLength="22.8" lengthAdjust="spacingAndGlyphs">-60</text>
<path d="M39.7 1341.5h6.5M575.2 1341.5h-6M39.7 1383.2h6.5M575.2 1383.2h-6M39.7 1422h6.5M575.2 1422h-6M39.7 1464h6.5M575.2 1464h-6M39.7 1506h6.5M575.2 1506h-6M39.7 1548.2h6.5M575.2 1548.2h-6M183 1298.3v4.5M183 1588.7v-4.5M313.5 1298.3v4.5M313.5 1588.7v-4.5M457.5 1298.3v4.5M457.5 1588.7v-4.5" stroke="#1a1a1a" stroke-width="1.6" fill="none"/>
<text class="t" x="39.8" y="1605.3" font-size="11.8" text-anchor="middle" textLength="46" lengthAdjust="spacingAndGlyphs">2020.7</text>
<text class="t" x="179.5" y="1605.3" font-size="11.8" text-anchor="middle" textLength="46" lengthAdjust="spacingAndGlyphs">2021.1</text>
<text class="t" x="314.5" y="1605.3" font-size="11.8" text-anchor="middle" textLength="46" lengthAdjust="spacingAndGlyphs">2021.7</text>
<text class="t" x="454.2" y="1605.3" font-size="11.8" text-anchor="middle" textLength="46" lengthAdjust="spacingAndGlyphs">2022.1</text>
<text class="t" x="289.2" y="1283.8" font-size="16" textLength="50.4" lengthAdjust="spacingAndGlyphs">Brent</text>
<rect x="183.3" y="1618.3" width="277.2" height="22.5" fill="#fff" stroke="#222" stroke-width="1.2"/>
<rect x="215.1" y="1627.5" width="7.5" height="5" fill="#000000"/>
<text class="l" x="226.5" y="1633.8" font-size="12" textLength="33" lengthAdjust="spacingAndGlyphs">Total</text>
<rect x="291.3" y="1627.5" width="7.5" height="5" fill="#c00000"/>
<text class="l" x="302.6" y="1633.8" font-size="12" textLength="57.5" lengthAdjust="spacingAndGlyphs">1-5 days</text>
<rect x="392.6" y="1627.5" width="7.5" height="5" fill="#00a000"/>
<text class="l" x="403.6" y="1633.8" font-size="12" textLength="30" lengthAdjust="spacingAndGlyphs">5-inf</text>
<path d="M1191.3 1461V1332.2H1197.7" fill="none" stroke="#333" stroke-width="1.2"/>
<path d="M669 1461 L669 1461 L669.5 1506.5 L670 1502.5 L671 1503.5 L671.5 1504 L672 1500.8 L672.8 1496.8 L673 1496.4 L674 1490.2 L675 1490.4 L675.2 1491 L676 1491.5 L676.5 1491.5 L677 1490.5 L677.8 1491.5 L678 1492.2 L679 1494 L680 1489.1 L680.2 1488.6 L681 1485.6 L681.5 1484 L682 1490 L682.8 1498.5 L683 1499.7 L683.5 1506.5 L684 1507.1 L685 1509.7 L685.2 1505.2 L686 1510.2 L687 1494.4 L687.8 1481.5 L688 1480.6 L689 1476.8 L690 1478.9 L690.2 1479 L691 1478.6 L691.5 1477.2 L692 1476.8 L693 1478.9 L694 1479 L695 1478.8 L695.2 1478.7 L696 1478.3 L697 1478.2 L697.8 1477.8 L698 1477.9 L699 1479.8 L700 1481.3 L701 1482.4 L701.5 1484 L702 1484.4 L702.8 1484.1 L703 1484.2 L704 1484 L705 1486.4 L706 1492.4 L706.5 1494 L707 1492.1 L708 1486.9 L709 1484 L710 1482 L710.2 1481.6 L711 1479.7 L711.5 1479 L712 1477.6 L713 1479.1 L713.5 1479 L714 1461 L714.5 1440.2 L715 1440 L716 1439.6 L716.5 1439 L717 1438.9 L717.8 1439.6 L718 1439.4 L719 1440.2 L720 1442.8 L721 1442.4 L721.5 1442.5 L722 1442.1 L722.8 1442.8 L723 1442.9 L724 1438.7 L725 1437.5 L725.2 1435.2 L726 1433.9 L726.5 1435 L727 1432.8 L728 1437.4 L729 1442.8 L730 1457.4 L730.2 1461 L730.8 1491.5 L731 1491.7 L731.5 1490 L732 1489.5 L733 1488.3 L734 1489 L735 1489.5 L736 1489.3 L736.5 1491.5 L737 1491 L738 1489.4 L739 1489 L740 1487.3 L741 1484.6 L741.5 1484 L742 1480.8 L743 1474.8 L744 1469 L745 1476.4 L745.2 1479 L746 1477.3 L746.5 1477.5 L747 1476.9 L747.8 1476.5 L748 1476.4 L749 1477.2 L750 1478.5 L750.2 1479 L751 1479.1 L751.5 1479.7 L752 1480.6 L752.8 1481.5 L753 1481.2 L754 1478.3 L755 1479 L755.2 1479 L756 1480.2 L756.5 1479.5 L757 1482.7 L757.8 1484 L758 1483.8 L759 1484.1 L760 1484.1 L760.2 1484 L761 1487.4 L762 1491.5 L762.8 1494 L763 1494 L764 1497.1 L765 1493.5 L765.2 1499 L766 1497.4 L767 1500.7 L767.8 1501.5 L768 1503.5 L769 1504.6 L770 1513.7 L770.2 1515.2 L771 1513.6 L771.5 1515.1 L772 1511.9 L772.8 1515.2 L773 1511.7 L774 1500.2 L775 1507.8 L776 1516.1 L776.5 1519 L777 1523.9 L778 1532.5 L778.5 1540.2 L779 1533.5 L779.5 1529.7 L780 1524.5 L780.2 1524 L781 1521.8 L781.5 1520.9 L782 1518.9 L782.8 1516.5 L783 1509.7 L784 1479 L785 1464.7 L785.2 1461 L786 1452 L786.5 1445.2 L787 1444.4 L788 1444.1 L788.5 1442.8 L789 1445 L790 1449.6 L790.2 1450.2 L791 1456.8 L791.5 1461 L792 1461 L793 1461 L794 1461 L795 1463.3 L795.2 1464 L796 1465 L797 1467.6 L797.8 1469 L798 1470.7 L799 1475.5 L800 1481.7 L800.2 1484 L801 1450.9 L801.5 1429 L802 1436.5 L802.8 1449 L803 1451.7 L804 1461 L805 1473.1 L806 1485.1 L806.5 1491.5 L807 1491.4 L808 1491.8 L809 1491.5 L810 1489.3 L811 1482.5 L811.5 1486.5 L812 1488 L813 1490.9 L814 1494 L815 1497.7 L816 1496.7 L816.5 1501.5 L817 1498.3 L818 1494 L819 1491.5 L820 1491.8 L821 1491.1 L821.5 1491.5 L822 1489.9 L823 1488.6 L824 1489 L825 1487.2 L826 1486.7 L826.5 1486.5 L827 1486 L828 1485.1 L829 1484 L830 1486.3 L831 1486.1 L831.5 1489 L832 1488.2 L833 1492.6 L834 1494 L835 1489.7 L836 1485.2 L836.5 1484 L837 1482.1 L838 1477.9 L839 1474 L840 1475 L841 1476.2 L841.5 1476.5 L842 1476.4 L843 1479.4 L844 1481.5 L845 1479.6 L846 1477 L846.5 1476.5 L847 1477.1 L848 1479.1 L849 1484 L850 1486.5 L851 1489.4 L851.5 1491.5 L852 1487.1 L853 1479.9 L854 1474 L855 1463.3 L855.2 1461 L856 1456.9 L856.5 1454 L857 1451.2 L858 1443.6 L859 1435.2 L860 1433.9 L861 1432.2 L861.5 1430.2 L862 1430.4 L863 1434.4 L864 1432.8 L865 1434.2 L866 1435.3 L866.5 1435.2 L867 1436.6 L868 1435 L869 1434 L870 1434.2 L871 1437 L871.5 1434 L872 1433.3 L873 1434 L874 1432.8 L875 1431.3 L876 1431.1 L876.5 1430.2 L877 1431.3 L878 1433.2 L879 1432.8 L880 1438.4 L881 1442.7 L881.5 1442.8 L882 1440.9 L883 1437.9 L884 1435.2 L885 1435.7 L886 1429 L886.5 1426.5 L887 1434.3 L888 1429 L889 1430.2 L890 1427.6 L891 1427.5 L891.5 1425.2 L892 1425.3 L893 1422.5 L894 1421.5 L895 1426.2 L896 1428 L896.5 1430.2 L897 1432 L898 1433.3 L899 1435.2 L900 1428.1 L901 1424 L901.5 1419 L902 1418.3 L903 1406.3 L904 1399 L905 1399.3 L905.2 1394 L906 1397.6 L906.5 1401 L907 1396.4 L907.8 1399 L908 1397.7 L909 1391.7 L910 1392.8 L910.2 1384 L911 1387.7 L911.5 1381.9 L912 1383.6 L912.8 1381.5 L913 1381.9 L914 1378.9 L915 1375.9 L916 1380.3 L916.5 1374 L917 1377.7 L918 1375 L919 1369.9 L920 1368.4 L920.2 1369 L921 1379 L921.5 1377.4 L922 1381.5 L922.8 1381.5 L923 1382 L924 1381.3 L925 1384.4 L925.2 1384 L926 1386.3 L926.5 1386 L927 1389.5 L927.8 1386.5 L928 1391.6 L929 1375.4 L930 1366.7 L930.2 1366.5 L931 1368.3 L931.5 1369.2 L932 1363.4 L932.8 1357.8 L933 1364.1 L934 1394 L935 1398.6 L936 1404.7 L936.5 1406.5 L937 1412.7 L938 1418.9 L939 1426.5 L940 1429.5 L941 1433.8 L941.5 1434 L942 1441.8 L943 1454.4 L943.5 1461 L944 1464.7 L945 1471.5 L946 1479.7 L946.5 1484 L947 1483.8 L948 1482.1 L949 1481.2 L950 1480.1 L951 1479.1 L951.5 1478.6 L952 1477.2 L953 1476.8 L954 1475.6 L955 1474.5 L955.2 1474 L956 1474.2 L956.5 1474 L957 1471.8 L958 1474.2 L959 1474 L960 1473.6 L961 1472.6 L962 1474.2 L962.5 1474 L963 1471.5 L964 1474.7 L965 1475.4 L966 1475.9 L967 1476.2 L967.5 1476.5 L968 1477.2 L968.8 1478.2 L969 1478.5 L970 1478.6 L971 1479.2 L971.2 1481.5 L972 1483.7 L972.5 1486.5 L973 1487.3 L974 1488 L975 1489 L976 1487.6 L977 1484.9 L977.5 1486.5 L978 1488.4 L979 1490 L980 1494 L981 1496.5 L982 1498.4 L982.5 1499 L983 1499.9 L984 1501 L985 1501.5 L986 1502.1 L987 1506.3 L987.5 1506.5 L988 1508.5 L988.8 1508.9 L989 1511.6 L990 1516.5 L990.5 1517 L991 1517.3 L991.2 1519 L992 1508.4 L992.5 1509 L993 1505.5 L994 1498.3 L995 1494 L996 1492.4 L997 1496.3 L997.5 1496.5 L998 1494.3 L999 1501.1 L1000 1506.5 L1001 1508.1 L1002 1508 L1002.5 1511.5 L1003 1513 L1004 1513.5 L1005 1516.5 L1006 1515.3 L1007 1519.4 L1007.5 1519 L1008 1517.7 L1009 1520.7 L1010 1524 L1011 1525.5 L1012 1526.2 L1012.5 1526.5 L1013 1525.2 L1014 1519.7 L1015 1519 L1016 1503.4 L1017 1514.7 L1017.5 1514 L1018 1512.2 L1019 1508.4 L1020 1509 L1021 1509.5 L1022 1511.6 L1022.5 1511.5 L1023 1506.8 L1023.8 1509.3 L1024 1509.5 L1025 1509 L1026 1509.5 L1027 1510 L1027.5 1514 L1028 1516.8 L1029 1520.6 L1030 1524 L1031 1524.4 L1032 1528.7 L1032.5 1529 L1033 1531.7 L1033.8 1533.7 L1034 1536.5 L1035 1541.5 L1036 1546.7 L1036.2 1540 L1037 1549.6 L1037.5 1554 L1038 1546.8 L1038.8 1544.5 L1039 1542 L1040 1559 L1041 1558.6 L1042 1563 L1042.5 1564 L1043 1563 L1044 1560.7 L1045 1566.5 L1046 1557.6 L1047 1562 L1047.5 1559 L1048 1555.8 L1049 1556.8 L1050 1556.5 L1051 1558.5 L1052 1557.6 L1052.5 1559 L1053 1550.5 L1054 1557.8 L1055 1561.5 L1056 1563.4 L1057 1564.8 L1057.5 1564 L1058 1561.9 L1059 1557.8 L1060 1566.5 L1061 1564.9 L1062 1560.9 L1062.5 1569 L1063 1567.3 L1064 1557.2 L1065 1556.5 L1066 1537.5 L1066.2 1531.5 L1067 1520.5 L1067.5 1511.5 L1068 1503.3 L1068.8 1494 L1069 1489.8 L1070 1474 L1071 1477.8 L1072 1481.8 L1072.5 1484 L1073 1482.7 L1074 1490.1 L1075 1494 L1076 1490.3 L1077 1486.9 L1077.5 1489 L1078 1489.9 L1079 1495.6 L1080 1499 L1081 1500.9 L1082 1503.5 L1082.5 1504 L1083 1502.5 L1083.8 1499 L1084 1486.2 L1084.2 1473 L1084.5 1461 L1085 1446.5 L1086 1438.3 L1086.2 1436.5 L1087 1433.4 L1088 1429.5 L1088.8 1426.5 L1089 1425.5 L1090 1423.6 L1091 1424 L1091.2 1421.5 L1092 1421.4 L1093 1428 L1093.8 1419 L1094 1418.9 L1095 1421 L1096 1425.8 L1096.2 1424 L1097 1426.1 L1098 1431.7 L1098.8 1432.8 L1099 1431.7 L1100 1422.9 L1101 1413.4 L1101.2 1411.5 L1102 1406.1 L1103 1400.7 L1103.8 1396.5 L1104 1401.1 L1105 1406.5 L1106 1415.5 L1107 1422.2 L1107.5 1424 L1108 1425.6 L1109 1430.4 L1110 1432.8 L1111 1431.7 L1112 1427.5 L1112.5 1426.5 L1113 1425 L1113.8 1422.3 L1114 1421.5 L1115 1419 L1116 1412 L1116.5 1409 L1117 1410.9 L1117.5 1413.5 L1118 1412.6 L1118.8 1414 L1119 1416.1 L1120 1416.4 L1121 1414.8 L1121.2 1414 L1122 1410.9 L1122.5 1408.6 L1123 1410.5 L1123.8 1404 L1124 1402.9 L1125 1402.7 L1126 1396.5 L1126.2 1396.5 L1127 1398.6 L1128 1394.4 L1128.8 1384 L1129 1383.3 L1130 1380.7 L1131 1364 L1131.2 1359 L1132 1354.8 L1133 1350.2 L1133.8 1339 L1134 1341.8 L1135 1350.2 L1136 1341.6 L1136.2 1344 L1137 1349.5 L1138 1360.9 L1138.8 1359 L1139 1365.9 L1140 1365.9 L1141 1369.4 L1141.2 1369 L1142 1364.4 L1143 1366.2 L1143.8 1359 L1144 1366.8 L1145 1354.9 L1146 1345.2 L1146.2 1344 L1147 1350 L1147.5 1342.1 L1148 1346 L1148.8 1336.5 L1149 1342.6 L1150 1343.1 L1151 1359 L1151.2 1351.5 L1152 1361.1 L1152.5 1362.6 L1153 1365.1 L1153.8 1366.5 L1154 1380.2 L1155 1370.2 L1156 1372.1 L1156.2 1374 L1157 1387.5 L1157.5 1377.6 L1158 1379.3 L1158.8 1381.5 L1159 1385 L1160 1378.8 L1161 1376 L1161.2 1376.5 L1162 1376.2 L1163 1378.8 L1164 1377.2 L1165 1376.5 L1166 1381.8 L1167 1379.1 L1168 1374.8 L1168.8 1371.5 L1169 1368.9 L1170 1363.8 L1171 1355.8 L1172 1349.2 L1172.5 1348.6 L1173 1346 L1174 1346 L1174.4 1345.2 L1175 1355.1 L1175.8 1354 L1176 1372.9 L1177 1373.1 L1177.5 1379.4 L1177.8 1378.5 L1178 1384 L1179 1378.5 L1180 1374.5 L1180.8 1362.8 L1181 1376.2 L1182 1363.6 L1182.5 1364.6 L1183 1364.1 L1184 1364.8 L1185 1386.8 L1185.5 1398 L1186 1407.4 L1187 1424.7 L1187.5 1434 L1188 1430.4 L1189 1425 L1190 1415.5 L1190.9 1355 L1191 1356.7 L1191.9 1355 L1192 1461 L1192 1461Z" fill="#000000"/>
<path d="M669 1461 L669 1461 L669.5 1506.5 L670 1502.5 L671 1503.5 L671.5 1504 L672 1500.8 L672.8 1496.8 L673 1496.4 L674 1490.2 L675 1490.4 L675.2 1491 L676 1491.5 L676.5 1491.5 L677 1490.5 L677.8 1491.5 L678 1492.2 L679 1494 L680 1489.1 L680.2 1488.6 L681 1485.6 L681.5 1484 L682 1490 L682.8 1498.5 L683 1499.7 L683.5 1506.5 L684 1507.1 L685 1509.7 L685.2 1505.2 L686 1510.2 L687 1494.4 L687.8 1481.5 L688 1480.6 L689 1476.8 L690 1478.9 L690.2 1479 L691 1478.6 L691.5 1477.2 L692 1476.8 L693 1478.9 L694 1479 L695 1478.8 L695.2 1478.7 L696 1478.3 L697 1478.2 L697.8 1477.8 L698 1477.9 L699 1479.8 L700 1481.3 L701 1482.4 L701.5 1484 L702 1484.4 L702.8 1484.1 L703 1484.2 L704 1484 L705 1486.4 L706 1492.4 L706.5 1494 L707 1492.1 L708 1486.9 L709 1484 L710 1482 L710.2 1481.6 L711 1479.7 L711.5 1479 L712 1477.6 L713 1479.1 L713.5 1479 L714 1461 L714.5 1444 L715 1443.7 L716 1443.3 L716.5 1442.8 L717 1442.7 L717.8 1443.3 L718 1443.3 L719 1444 L720 1446.2 L721 1446 L721.5 1446.1 L722 1445.9 L722.8 1446.5 L723 1446.5 L724 1442.5 L725 1441 L725.2 1439 L726 1437.7 L726.5 1438.6 L727 1436.5 L728 1441.2 L729 1446.5 L730 1458.1 L730.2 1461 L730.8 1491.5 L731 1491.7 L731.5 1490 L732 1489.5 L733 1488.3 L734 1489 L735 1489.5 L736 1489.3 L736.5 1491.5 L737 1491 L738 1489.4 L739 1489 L740 1487.3 L741 1484.6 L741.5 1484 L742 1480.8 L743 1474.8 L744 1469 L745 1476.4 L745.2 1479 L746 1477.3 L746.5 1477.5 L747 1476.9 L747.8 1476.5 L748 1476.4 L749 1477.2 L750 1478.5 L750.2 1479 L751 1479.1 L751.5 1479.7 L752 1480.6 L752.8 1481.5 L753 1481.2 L754 1478.3 L755 1479 L755.2 1479 L756 1480.2 L756.5 1479.5 L757 1482.7 L757.8 1484 L758 1483.8 L759 1484.1 L760 1484.1 L760.2 1484 L761 1487.4 L762 1491.5 L762.8 1494 L763 1494 L764 1497.1 L765 1493.5 L765.2 1499 L766 1497.4 L767 1500.7 L767.8 1501.5 L768 1502.9 L769 1501.7 L770 1508.1 L770.2 1509 L771 1507.5 L771.5 1508.8 L772 1506.1 L772.8 1509 L773 1505.5 L774 1494 L775 1504.1 L776 1514.9 L776.5 1519 L777 1523.9 L778 1532.5 L778.5 1540.2 L779 1533.5 L779.5 1529.7 L780 1524.5 L780.2 1524 L781 1521.8 L781.5 1520.9 L782 1518.9 L782.8 1516.5 L783 1509.7 L784 1479 L785 1464.7 L785.2 1461 L786 1454.1 L786.5 1449 L787 1448.2 L788 1447.7 L788.5 1446.5 L789 1448.7 L790 1453.2 L790.2 1454 L791 1458.3 L791.5 1461 L792 1461 L793 1461 L794 1461 L795 1463.3 L795.2 1464 L796 1465 L797 1467.6 L797.8 1469 L798 1470.7 L799 1475.5 L800 1481.7 L800.2 1484 L801 1450.9 L801.5 1429 L802 1436.5 L802.8 1449 L803 1451.7 L804 1461 L805 1473.1 L806 1485.1 L806.5 1491.5 L807 1491.4 L808 1491.8 L809 1491.5 L810 1489.3 L811 1482.5 L811.5 1486.5 L812 1488 L813 1490.9 L814 1494 L815 1497.7 L816 1496.7 L816.5 1501.5 L817 1498.3 L818 1494 L819 1491.5 L820 1491.8 L821 1491.1 L821.5 1491.5 L822 1489.9 L823 1488.6 L824 1489 L825 1487.2 L826 1486.7 L826.5 1486.5 L827 1486 L828 1485.1 L829 1484 L830 1486.3 L831 1486.1 L831.5 1489 L832 1488.2 L833 1492.6 L834 1494 L835 1489.7 L836 1485.2 L836.5 1484 L837 1482.1 L838 1477.9 L839 1474 L840 1475 L841 1476.2 L841.5 1476.5 L842 1476.4 L843 1479.4 L844 1481.5 L845 1479.6 L846 1477 L846.5 1476.5 L847 1477.1 L848 1479.1 L849 1484 L850 1486.5 L851 1489.4 L851.5 1491.5 L852 1487.1 L853 1479.9 L854 1474 L855 1463.3 L855.2 1461 L856 1456.9 L856.5 1454 L857 1451.9 L858 1445.7 L859 1439 L860 1437.6 L861 1435.8 L861.5 1434 L862 1434.2 L863 1437.8 L864 1436.5 L865 1437.9 L866 1439 L866.5 1439 L867 1440.1 L868 1438.6 L869 1437.8 L870 1438 L871 1440.3 L871.5 1437.8 L872 1437.1 L873 1437.7 L874 1436.5 L875 1435.1 L876 1434.8 L876.5 1434 L877 1435 L878 1436.8 L879 1436.5 L880 1441.9 L881 1446.1 L881.5 1446.5 L882 1444.7 L883 1441.7 L884 1439 L885 1439 L886 1432.7 L886.5 1430.2 L887 1437.2 L888 1432.7 L889 1434 L890 1431.5 L891 1431.1 L891.5 1429 L892 1429 L893 1426.3 L894 1425.2 L895 1429.8 L896 1431.8 L896.5 1434 L897 1435.6 L898 1437.1 L899 1439 L900 1430.4 L901 1424.7 L901.5 1419 L902 1418.3 L903 1406.3 L904 1399 L905 1399.3 L905.2 1394 L906 1397.6 L906.5 1401 L907 1396.4 L907.8 1399 L908 1397.7 L909 1391.7 L910 1392.8 L910.2 1384 L911 1387.7 L911.5 1381.9 L912 1383.6 L912.8 1381.5 L913 1381.9 L914 1378.9 L915 1375.9 L916 1380.3 L916.5 1374 L917 1377.7 L918 1375 L919 1369.9 L920 1368.4 L920.2 1369 L921 1379 L921.5 1377.4 L922 1381.5 L922.8 1381.5 L923 1382 L924 1381.3 L925 1384.4 L925.2 1384 L926 1386.3 L926.5 1386 L927 1389.5 L927.8 1386.5 L928 1391.6 L929 1375.4 L930 1366.7 L930.2 1366.5 L931 1368.3 L931.5 1369.2 L932 1363.4 L932.8 1357.8 L933 1364.1 L934 1394 L935 1398.6 L936 1404.7 L936.5 1406.5 L937 1412.7 L938 1418.9 L939 1426.5 L940 1429.5 L941 1433.8 L941.5 1434 L942 1441.8 L943 1454.4 L943.5 1461 L944 1462.3 L945 1464.7 L946 1467.5 L946.5 1469 L947 1469.1 L948 1468.9 L949 1469 L950 1469.1 L951 1469.1 L951.5 1469.1 L952 1468.7 L953 1469.1 L954 1469.1 L955 1469.1 L955.2 1469 L956 1462.3 L956.5 1457.8 L957 1460 L958 1464.6 L959 1469 L960 1468 L961 1466.7 L962 1466.6 L962.5 1466 L963 1464.7 L964 1464.9 L965 1464.1 L966 1463.3 L967 1462.4 L967.5 1462 L968 1461.6 L968.8 1461 L969 1464.6 L970 1479 L971 1479 L971.2 1481.5 L972 1482.3 L972.5 1484 L973 1484.2 L974 1484 L975 1484 L976 1484.1 L977 1483.1 L977.5 1484.9 L978 1485.9 L979 1485.2 L980 1486.5 L981 1486.3 L982 1485.8 L982.5 1485.6 L983 1485.2 L984 1484.8 L985 1484 L986 1483.9 L987 1485.8 L987.5 1483.5 L988 1486 L988.8 1486.5 L989 1490.3 L990 1505.7 L990.5 1516.5 L991 1506.3 L991.2 1501.9 L992 1489 L992.5 1487.7 L993 1487.9 L994 1486.2 L995 1486.5 L996 1484.6 L997 1486.7 L997.5 1486.6 L998 1483.6 L999 1485.6 L1000 1486.5 L1001 1487.8 L1002 1488 L1002.5 1490.3 L1003 1491.3 L1004 1491.9 L1005 1494 L1006 1494.2 L1007 1497.6 L1007.5 1497.2 L1008 1497.1 L1009 1499.1 L1010 1501.5 L1011 1497.3 L1012 1492.6 L1012.5 1489.4 L1013 1488.1 L1014 1482.7 L1015 1479 L1016 1474.6 L1017 1478.9 L1017.5 1479 L1018 1479 L1019 1478.8 L1020 1480.2 L1021 1480.5 L1022 1481.5 L1022.5 1481.5 L1023 1484.3 L1023.8 1494 L1024 1495.1 L1025 1501.5 L1026 1497.4 L1027 1493.5 L1027.5 1494 L1028 1493.5 L1029 1491.3 L1030 1489 L1031 1490.3 L1032 1493.4 L1032.5 1494 L1033 1497.1 L1033.8 1500.6 L1034 1503 L1035 1509 L1036 1518.2 L1036.2 1514.9 L1037 1525.6 L1037.5 1531.5 L1038 1527.7 L1038.8 1528.1 L1039 1526.8 L1040 1544 L1041 1544 L1042 1548 L1042.5 1549 L1043 1546.7 L1044 1542.1 L1045 1544 L1046 1540.1 L1047 1547.3 L1047.5 1546.5 L1048 1543.7 L1049 1544.4 L1050 1544 L1051 1546.9 L1052 1547.2 L1052.5 1549 L1053 1541.4 L1054 1548.1 L1055 1551.5 L1056 1553.4 L1057 1554.7 L1057.5 1554 L1058 1552.1 L1059 1548.6 L1060 1556.5 L1061 1553.2 L1062 1547.9 L1062.5 1554 L1063 1553.7 L1064 1547.2 L1065 1549 L1066 1525.9 L1066.2 1519 L1067 1513.9 L1067.5 1509 L1068 1501.9 L1068.8 1494 L1069 1489.8 L1070 1474 L1071 1477.8 L1072 1481.8 L1072.5 1484 L1073 1482.7 L1074 1490.1 L1075 1494 L1076 1490.3 L1077 1486.9 L1077.5 1489 L1078 1489.9 L1079 1495.6 L1080 1499 L1081 1500.9 L1082 1503.5 L1082.5 1504 L1083 1502.5 L1083.8 1499 L1084 1486.2 L1084.2 1473 L1084.5 1461 L1085 1449 L1086 1440.8 L1086.2 1439 L1087 1436.7 L1088 1433.8 L1088.8 1431.5 L1089 1430.5 L1090 1428.6 L1091 1428.8 L1091.2 1426.5 L1092 1426.3 L1093 1432 L1093.8 1424 L1094 1424 L1095 1426.1 L1096 1430.5 L1096.2 1429 L1097 1430 L1098 1434 L1098.8 1434 L1099 1432.8 L1100 1423.5 L1101 1413.5 L1101.2 1411.5 L1102 1406.1 L1103 1400.7 L1103.8 1396.5 L1104 1401.1 L1105 1406.5 L1106 1415.5 L1107 1422.2 L1107.5 1424 L1108 1425.8 L1109 1431.1 L1110 1434 L1111 1432.4 L1112 1427.8 L1112.5 1426.5 L1113 1425 L1113.8 1422.3 L1114 1421.5 L1115 1419 L1116 1412 L1116.5 1409 L1117 1411.4 L1117.5 1414.5 L1118 1414.2 L1118.8 1416.5 L1119 1418.8 L1120 1419.9 L1121 1419.4 L1121.2 1419 L1122 1416.7 L1122.5 1414.9 L1123 1416.8 L1123.8 1411.5 L1124 1410.4 L1125 1409.9 L1126 1404.1 L1126.2 1404 L1127 1407.5 L1128 1406 L1128.8 1399 L1129 1398.9 L1130 1398.7 L1131 1387.4 L1131.2 1384 L1132 1380.2 L1133 1375.7 L1133.8 1366.5 L1134 1369.3 L1135 1378 L1136 1374.1 L1136.2 1376.5 L1137 1380.2 L1138 1388.1 L1138.8 1386.5 L1139 1391.1 L1140 1389.2 L1141 1389.8 L1141.2 1389 L1142 1385.5 L1143 1387 L1143.8 1381.5 L1144 1388.2 L1145 1381.6 L1146 1376.8 L1146.2 1376.5 L1147 1381 L1147.5 1375.4 L1148 1378.2 L1148.8 1371.5 L1149 1376 L1150 1377.1 L1151 1389.1 L1151.2 1384 L1152 1389.9 L1152.5 1390.3 L1153 1391.5 L1153.8 1391.5 L1154 1401.4 L1155 1392.7 L1156 1392.8 L1156.2 1394 L1157 1404.2 L1157.5 1396.4 L1158 1397.5 L1158.8 1399 L1159 1401.6 L1160 1396.4 L1161 1393.7 L1161.2 1394 L1162 1391.3 L1163 1390.2 L1164 1385.5 L1165 1381.5 L1166 1386.4 L1167 1383.8 L1168 1379.7 L1168.8 1376.5 L1169 1376.4 L1170 1380.5 L1171 1370.6 L1172 1362 L1172.5 1361.9 L1173 1360.2 L1174 1361.2 L1174.4 1361 L1175 1368.8 L1175.8 1366.8 L1176 1382.9 L1177 1381.1 L1177.5 1385.7 L1177.8 1384.2 L1178 1389.8 L1179 1386.2 L1180 1383.9 L1180.8 1374.5 L1181 1386.5 L1182 1376.1 L1182.5 1377.3 L1183 1377.2 L1184 1378.5 L1185 1394.6 L1185.5 1402.8 L1186 1411 L1187 1425.9 L1187.5 1434 L1188 1430.8 L1189 1426.2 L1190 1417.5 L1190.9 1355 L1191 1356.7 L1191.9 1355 L1192 1461 L1192 1461Z" fill="#c00000"/>
<path d="M669 1461 L669 1461 L669.5 1456.5 L670 1456.1 L671 1454.4 L671.5 1453.4 L672 1452.7 L672.8 1451.5 L673 1450.8 L674 1449.6 L675 1447.2 L675.2 1446.5 L676 1445.6 L676.5 1445.1 L677 1445.5 L677.8 1444 L678 1444.6 L679 1446.1 L680 1445.6 L680.2 1445.2 L681 1446.3 L681.5 1446.5 L682 1446.8 L682.8 1447.8 L683 1448.7 L683.5 1449.7 L684 1450.9 L685 1453.2 L685.2 1454 L686 1455.2 L687 1455.7 L687.8 1456.5 L688 1456.6 L689 1457 L690 1455.9 L690.2 1455.8 L691 1455.5 L691.5 1455.2 L692 1456 L693 1455.3 L694 1455.4 L695 1455.2 L695.2 1455.2 L696 1455.3 L697 1455.2 L697.8 1455.3 L698 1455.3 L699 1455.2 L700 1455.6 L701 1456.1 L701.5 1456.1 L702 1456.2 L702.8 1456.5 L703 1456.6 L704 1457.3 L705 1458.2 L706 1458.6 L706.5 1459 L707 1459.2 L708 1459.6 L709 1459.9 L710 1460.2 L710.2 1460.2 L711 1460 L711.5 1459.9 L712 1459.8 L713 1459.3 L713.5 1459.3 L714 1459 L714.5 1458.9 L715 1458.7 L716 1458.4 L716.5 1458.2 L717 1458 L717.8 1457.8 L718 1457.9 L719 1458.7 L720 1459.4 L721 1460 L721.5 1460.2 L722 1460.2 L722.8 1460.1 L723 1460 L724 1459.9 L725 1459.8 L725.2 1459.8 L726 1459.6 L726.5 1459.5 L727 1459.3 L728 1458.9 L729 1458.6 L730 1458.3 L730.2 1458.3 L730.8 1458.1 L731 1457.9 L731.5 1457.8 L732 1458 L733 1458.3 L734 1458.4 L735 1458.7 L736 1459 L736.5 1459 L737 1458.7 L738 1458.3 L739 1458 L740 1457.2 L741 1456.8 L741.5 1456.5 L742 1456.4 L743 1456.2 L744 1456 L745 1455.8 L745.2 1455.7 L746 1455.7 L746.5 1455.2 L747 1455.4 L747.8 1455.3 L748 1455.4 L749 1455.4 L750 1455.3 L750.2 1455.5 L751 1455.4 L751.5 1455.2 L752 1455.4 L752.8 1455.3 L753 1455.5 L754 1456.2 L755 1455.9 L755.2 1455.9 L756 1456 L756.5 1456 L757 1456.6 L757.8 1457.6 L758 1457.8 L759 1459 L760 1460.6 L760.2 1461 L761 1461.3 L762 1461.8 L762.8 1462.1 L763 1462.3 L764 1462.8 L765 1462.7 L765.2 1463 L766 1463.1 L767 1463.5 L767.8 1463.7 L768 1463.8 L769 1464 L770 1464.8 L770.2 1465 L771 1465.5 L771.5 1466 L772 1465.1 L772.8 1463.9 L773 1464 L774 1462.8 L775 1461.8 L776 1460.8 L776.5 1460.2 L777 1458.4 L778 1454.8 L778.5 1452.8 L779 1457 L779.5 1461 L780 1460.5 L780.2 1460.2 L781 1459.5 L781.5 1459 L782 1458.7 L782.8 1458.4 L783 1458.2 L784 1457.8 L785 1458.2 L785.2 1458.6 L786 1458.9 L786.5 1459 L787 1458.7 L788 1458.4 L788.5 1458 L789 1457.8 L790 1457.9 L790.2 1457.8 L791 1457.8 L791.5 1457.8 L792 1457.8 L793 1457.7 L794 1457.8 L795 1458.2 L795.2 1458.2 L796 1458.7 L797 1458.8 L797.8 1459.1 L798 1459.1 L799 1459.5 L800 1460.1 L800.2 1460.2 L801 1460.7 L801.5 1461 L802 1460.3 L802.8 1459.4 L803 1459.1 L804 1457.8 L805 1458 L806 1458.3 L806.5 1458.4 L807 1458.5 L808 1458.7 L809 1459 L810 1459 L811 1459.4 L811.5 1459 L812 1459 L813 1459 L814 1459 L815 1458.7 L816 1458.7 L816.5 1458.4 L817 1458.3 L818 1458.1 L819 1457.8 L820 1457.5 L821 1457.3 L821.5 1457.2 L822 1457.1 L823 1456.9 L824 1456.5 L825 1456.4 L826 1456.1 L826.5 1455.9 L827 1455.8 L828 1455.5 L829 1455.2 L830 1454.9 L831 1455.2 L831.5 1455.4 L832 1454.9 L833 1454.1 L834 1454 L835 1453.8 L836 1453.7 L836.5 1453.2 L837 1453.2 L838 1453.1 L839 1452.8 L840 1452.5 L841 1452.1 L841.5 1452.4 L842 1452.6 L843 1451.8 L844 1451.5 L845 1451.4 L846 1451.6 L846.5 1451.2 L847 1451.7 L848 1452.1 L849 1451 L850 1451.4 L851 1451.6 L851.5 1451.6 L852 1451.9 L853 1452.3 L854 1452 L855 1453.8 L855.2 1453 L856 1453.7 L856.5 1454 L857 1455 L858 1455.5 L859 1456 L860 1456 L861 1455.9 L861.5 1456 L862 1455.5 L863 1455.9 L864 1455.2 L865 1455.4 L866 1455.4 L866.5 1455.3 L867 1455.6 L868 1455.4 L869 1455.2 L870 1455.1 L871 1455.4 L871.5 1455 L872 1454.4 L873 1454.4 L874 1454 L875 1454.2 L876 1454.6 L876.5 1454.6 L877 1454.9 L878 1455.3 L879 1455.2 L880 1456.1 L881 1456.7 L881.5 1456.7 L882 1456.7 L883 1457.2 L884 1457.8 L885 1458 L886 1457.3 L886.5 1457.4 L887 1457.8 L888 1456.8 L889 1456.5 L890 1456.4 L891 1456.7 L891.5 1456.5 L892 1456.6 L893 1456.4 L894 1456.5 L895 1456.6 L896 1456.4 L896.5 1456.5 L897 1456.6 L898 1456.5 L899 1456.5 L900 1461 L901 1465.3 L901.5 1467.8 L902 1467.2 L903 1467.5 L904 1466.2 L905 1466.5 L905.2 1466.7 L906 1466.4 L906.5 1466.5 L907 1466.6 L907.8 1466.3 L908 1466.5 L909 1466.5 L910 1466 L910.2 1466.4 L911 1466.2 L911.5 1466.5 L912 1466.7 L912.8 1467.2 L913 1467.2 L914 1467.8 L915 1468.3 L916 1468.3 L916.5 1469 L917 1468.8 L918 1469.5 L919 1470.3 L920 1470.8 L920.2 1470.7 L921 1470.5 L921.5 1471.5 L922 1471.3 L922.8 1472.3 L923 1472.2 L924 1473 L925 1473.2 L925.2 1473.5 L926 1473.5 L926.5 1474 L927 1473.7 L927.8 1474.7 L928 1473.8 L929 1476.1 L930 1476.9 L930.2 1477 L931 1476.6 L931.5 1477.8 L932 1477.4 L932.8 1477.8 L933 1478.4 L934 1478.8 L935 1479.1 L936 1479.1 L936.5 1479.5 L937 1478.5 L938 1478.8 L939 1478.6 L940 1478.3 L941 1477.1 L941.5 1477.8 L942 1476.5 L943 1476.2 L943.5 1476.3 L944 1475.2 L945 1473.9 L946 1474.1 L946.5 1474 L947 1474.2 L948 1473.9 L949 1474 L950 1474.1 L951 1474.1 L951.5 1474 L952 1473.5 L953 1473.8 L954 1473.6 L955 1473.3 L955.2 1471.9 L956 1473.1 L956.5 1472.8 L957 1470.1 L958 1470.7 L959 1469 L960 1470.2 L961 1470.7 L962 1473.5 L962.5 1474 L963 1471.5 L964 1474.7 L965 1475.4 L966 1475.9 L967 1476.2 L967.5 1476.5 L968 1476.8 L968.8 1477.2 L969 1477.2 L970 1476.7 L971 1476.6 L971.2 1478.4 L972 1478.2 L972.5 1479 L973 1479.3 L974 1479.4 L975 1478.7 L976 1479.6 L977 1478.6 L977.5 1480.2 L978 1480.7 L979 1480 L980 1479.7 L981 1481.4 L982 1481.6 L982.5 1481.5 L983 1481.6 L984 1481.4 L985 1477.8 L986 1480 L987 1480.7 L987.5 1480.2 L988 1477.6 L988.8 1472.8 L989 1471.9 L990 1466.4 L990.5 1464 L991 1469.6 L991.2 1472.5 L992 1481.5 L992.5 1481.2 L993 1482.1 L994 1482.2 L995 1484 L996 1482.7 L997 1485.2 L997.5 1485.3 L998 1482.8 L999 1485.2 L1000 1486.5 L1001 1486.5 L1002 1485.7 L1002.5 1487.2 L1003 1487.5 L1004 1487 L1005 1487.8 L1006 1487 L1007 1488.7 L1007.5 1487.9 L1008 1487.4 L1009 1488.1 L1010 1489 L1011 1488.2 L1012 1487.1 L1012.5 1486.5 L1013 1485.1 L1014 1481.2 L1015 1479 L1016 1474.8 L1017 1479.4 L1017.5 1479.9 L1018 1479.5 L1019 1479 L1020 1480.2 L1021 1479.7 L1022 1479.8 L1022.5 1478.6 L1023 1477.7 L1023.8 1479 L1024 1479.3 L1025 1481.7 L1026 1482.8 L1027 1484.1 L1027.5 1486.5 L1028 1487.1 L1029 1487.5 L1030 1487.8 L1031 1485.5 L1032 1484.7 L1032.5 1484 L1033 1482.8 L1033.8 1481.5 L1034 1481 L1035 1479.2 L1036 1477 L1036.2 1476.5 L1037 1475.1 L1037.5 1473.9 L1038 1472.8 L1038.8 1472.8 L1039 1471 L1040 1473.1 L1041 1473.2 L1042 1473.8 L1042.5 1474 L1043 1473.8 L1044 1473.4 L1045 1474.2 L1046 1473.2 L1047 1474.2 L1047.5 1474 L1048 1473.5 L1049 1473.5 L1050 1473.6 L1051 1473.2 L1052 1472.8 L1052.5 1472.8 L1053 1471.6 L1054 1472.1 L1055 1472.1 L1056 1472 L1057 1471.8 L1057.5 1471.5 L1058 1471.1 L1059 1470.4 L1060 1470.8 L1061 1470.4 L1062 1469.7 L1062.5 1470.2 L1063 1469.8 L1064 1468.4 L1065 1467.7 L1066 1466.8 L1066.2 1466.5 L1067 1464.9 L1067.5 1463.5 L1068 1462.6 L1068.8 1461 L1069 1460.8 L1070 1460.2 L1071 1458.3 L1072 1456.3 L1072.5 1455.2 L1073 1455.6 L1074 1453.7 L1075 1452.8 L1076 1453.7 L1077 1454.5 L1077.5 1454 L1078 1454.5 L1079 1454.6 L1080 1455.2 L1081 1456.8 L1082 1458.2 L1082.5 1459 L1083 1459.6 L1083.8 1460.4 L1084 1460.7 L1084.2 1461 L1084.5 1460.4 L1085 1459.3 L1086 1457 L1086.2 1456.5 L1087 1456.4 L1088 1456.3 L1088.8 1456.1 L1089 1456.1 L1090 1456 L1091 1456.6 L1091.2 1456.4 L1092 1456.8 L1093 1457.8 L1093.8 1457.4 L1094 1457.3 L1095 1457.8 L1096 1458.4 L1096.2 1458.5 L1097 1458.7 L1098 1459.3 L1098.8 1459.6 L1099 1459.8 L1100 1460.2 L1101 1460.2 L1101.2 1460.2 L1102 1460.2 L1103 1460.2 L1103.8 1460.2 L1104 1460.2 L1105 1460.2 L1106 1460.4 L1107 1460.5 L1107.5 1460.6 L1108 1460.7 L1109 1460.8 L1110 1461 L1111 1462.1 L1112 1463.3 L1112.5 1463.6 L1113 1464.4 L1113.8 1465.2 L1114 1465 L1115 1463.9 L1116 1463 L1116.5 1462.5 L1117 1462 L1117.5 1461.5 L1118 1461.3 L1118.8 1461.1 L1119 1461 L1120 1460.7 L1121 1460.3 L1121.2 1460.2 L1122 1456.5 L1122.5 1454 L1123 1453.5 L1123.8 1453 L1124 1450.9 L1125 1449 L1126 1450.2 L1126.2 1450.9 L1127 1452.5 L1128 1453.7 L1128.8 1454 L1129 1453.2 L1130 1450.2 L1131 1445.4 L1131.2 1444 L1132 1439.1 L1133 1433.1 L1133.8 1426.5 L1134 1427.3 L1135 1429.6 L1136 1427.1 L1136.2 1427.8 L1137 1428.3 L1138 1430.3 L1138.8 1430.8 L1139 1430.5 L1140 1429 L1141 1429.5 L1141.2 1428.5 L1142 1428.4 L1143 1430.4 L1143.8 1429 L1144 1431.8 L1145 1429.6 L1146 1428.2 L1146.2 1430.7 L1147 1430.2 L1147.5 1427.8 L1148 1430.2 L1148.8 1429.2 L1149 1430.4 L1150 1430.2 L1151 1434.1 L1151.2 1432.6 L1152 1434.6 L1152.5 1434 L1153 1436.1 L1153.8 1436.9 L1154 1441 L1155 1440.2 L1156 1440.5 L1156.2 1440.9 L1157 1443.9 L1157.5 1441.5 L1158 1441.7 L1158.8 1441.8 L1159 1443 L1160 1442.3 L1161 1442.4 L1161.2 1442.8 L1162 1443.4 L1163 1445 L1164 1445.6 L1165 1446.5 L1166 1447 L1167 1446.1 L1168 1444.9 L1168.8 1444 L1169 1443.9 L1170 1444.4 L1171 1444.6 L1172 1446 L1172.5 1445.2 L1173 1445.4 L1174 1446.4 L1174.4 1446.7 L1175 1447.9 L1175.8 1447.6 L1176 1449.9 L1177 1449.1 L1177.5 1449 L1177.8 1450.2 L1178 1449.9 L1179 1449.5 L1180 1449.4 L1180.8 1448.8 L1181 1449.9 L1182 1447.9 L1182.5 1447.8 L1183 1447.7 L1184 1447.5 L1185 1447.7 L1185.5 1448.4 L1186 1447.9 L1187 1447.6 L1187.5 1447.8 L1188 1447.6 L1189 1447.8 L1190 1446.5 L1190.9 1436.8 L1191 1437.1 L1191.9 1436.8 L1192 1461 L1192 1461Z" fill="#009a00"/>
<rect x="662.7" y="1298.3" width="535" height="290.7" fill="none" stroke="#1a1a1a" stroke-width="1.8"/>
<text class="t" x="653.9" y="1302.2" font-size="12.5" text-anchor="end" textLength="16.8" lengthAdjust="spacingAndGlyphs">50</text>
<text class="t" x="653.9" y="1335.6" font-size="12.5" text-anchor="end" textLength="16.8" lengthAdjust="spacingAndGlyphs">40</text>
<text class="t" x="653.9" y="1367.7" font-size="12.5" text-anchor="end" textLength="16.8" lengthAdjust="spacingAndGlyphs">30</text>
<text class="t" x="653.9" y="1399.9" font-size="12.5" text-anchor="end" textLength="16.8" lengthAdjust="spacingAndGlyphs">20</text>
<text class="t" x="653.9" y="1431.7" font-size="12.5" text-anchor="end" textLength="16.8" lengthAdjust="spacingAndGlyphs">10</text>
<text class="t" x="653.9" y="1464.9" font-size="12.5" text-anchor="end" textLength="8.4" lengthAdjust="spacingAndGlyphs">0</text>
<text class="t" x="653.9" y="1497.1" font-size="12.5" text-anchor="end" textLength="22.8" lengthAdjust="spacingAndGlyphs">-10</text>
<text class="t" x="653.9" y="1527.9" font-size="12.5" text-anchor="end" textLength="22.8" lengthAdjust="spacingAndGlyphs">-20</text>
<text class="t" x="653.9" y="1561.3" font-size="12.5" text-anchor="end" textLength="22.8" lengthAdjust="spacingAndGlyphs">-30</text>
<text class="t" x="653.9" y="1592.9" font-size="12.5" text-anchor="end" textLength="22.8" lengthAdjust="spacingAndGlyphs">-40</text>
<path d="M662.7 1331.7h6.5M1197.7 1331.7h-6M662.7 1363.8h6.5M1197.7 1363.8h-6M662.7 1396h6.5M1197.7 1396h-6M662.7 1427.8h6.5M1197.7 1427.8h-6M662.7 1461h6.5M1197.7 1461h-6M662.7 1493.2h6.5M1197.7 1493.2h-6M662.7 1524h6.5M1197.7 1524h-6M662.7 1557.4h6.5M1197.7 1557.4h-6M804 1298.3v4.5M804 1589v-4.5M936 1298.3v4.5M936 1589v-4.5M1080 1298.3v4.5M1080 1589v-4.5" stroke="#1a1a1a" stroke-width="1.6" fill="none"/>
<text class="t" x="662.5" y="1605.6" font-size="11.8" text-anchor="middle" textLength="46" lengthAdjust="spacingAndGlyphs">2020.7</text>
<text class="t" x="802.2" y="1605.6" font-size="11.8" text-anchor="middle" textLength="46" lengthAdjust="spacingAndGlyphs">2021.1</text>
<text class="t" x="937" y="1605.6" font-size="11.8" text-anchor="middle" textLength="46" lengthAdjust="spacingAndGlyphs">2021.7</text>
<text class="t" x="1077" y="1605.6" font-size="11.8" text-anchor="middle" textLength="46" lengthAdjust="spacingAndGlyphs">2022.1</text>
<text class="t" x="916.7" y="1280" font-size="16" textLength="43.7" lengthAdjust="spacingAndGlyphs">Gold</text>
<rect x="803.7" y="1618.3" width="280" height="22.5" fill="#fff" stroke="#222" stroke-width="1.2"/>
<rect x="835.5" y="1627.5" width="7.5" height="5" fill="#000000"/>
<text class="l" x="846.9" y="1633.8" font-size="12" textLength="33" lengthAdjust="spacingAndGlyphs">Total</text>
<rect x="911.7" y="1627.5" width="7.5" height="5" fill="#c00000"/>
<text class="l" x="923" y="1633.8" font-size="12" textLength="57.5" lengthAdjust="spacingAndGlyphs">1-5 days</text>
<rect x="1013" y="1627.5" width="7.5" height="5" fill="#00a000"/>
<text class="l" x="1024" y="1633.8" font-size="12" textLength="30" lengthAdjust="spacingAndGlyphs">5-inf</text>
</svg></body></html>
